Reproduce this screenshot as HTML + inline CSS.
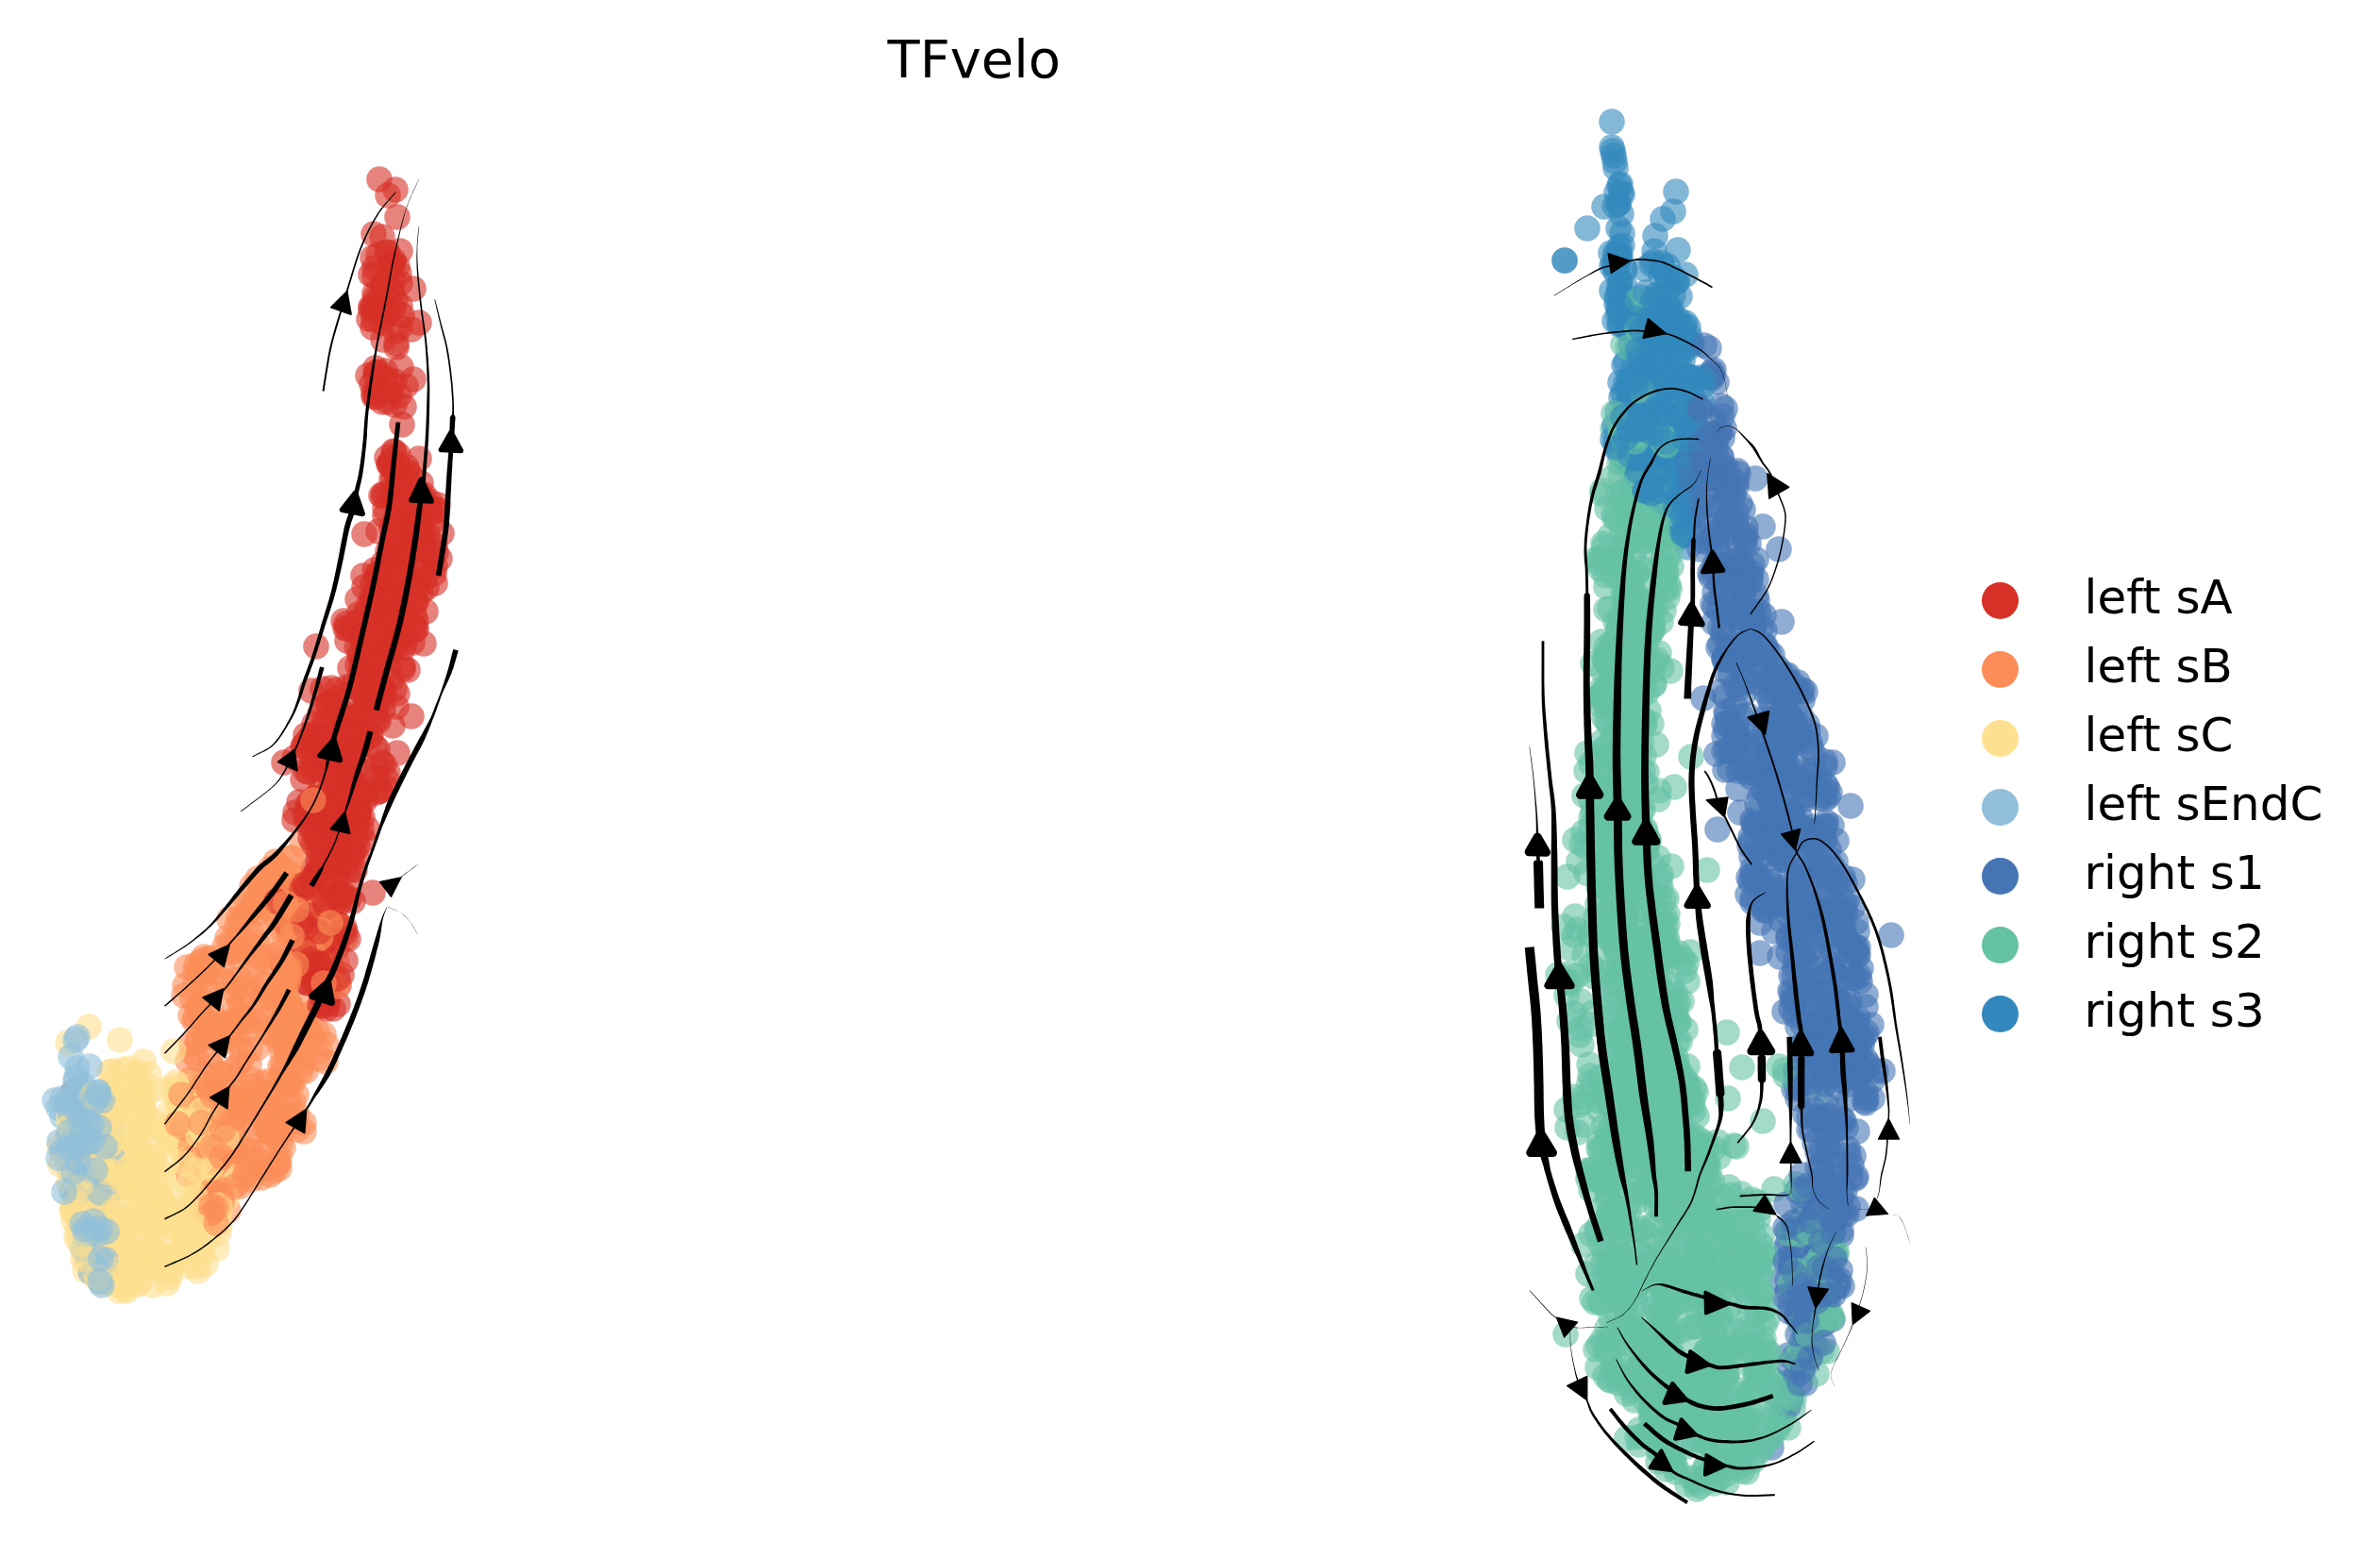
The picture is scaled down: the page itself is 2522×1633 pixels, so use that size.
<!DOCTYPE html>
<html><head><meta charset="utf-8"><title>TFvelo</title>
<style>
html,body{margin:0;padding:0;background:#fff}
body{width:2522px;height:1633px;overflow:hidden}
svg{display:block}
text{font-family:"DejaVu Sans","Liberation Sans",sans-serif;fill:#000}
.pts circle{r:13.8px;fill-opacity:.6}
.ln path{fill:#000;stroke:none}
.ar polygon{fill:#000;stroke:#000;stroke-linejoin:round}
.lg text{font-size:50px}
</style></head><body>
<svg width="2522" height="1633" viewBox="0 0 2522 1633">
<rect width="2522" height="1633" fill="#fff"/>
<text x="1032.2" y="82" text-anchor="middle" font-size="55.8">TFvelo</text>
<g class="pts">
<g fill="#fc8d59"><circle cx="228" cy="1031" r="13.8"/><circle cx="218" cy="1166" r="13.8"/><circle cx="232" cy="1213" r="13.8"/><circle cx="309" cy="1020" r="13.8"/><circle cx="283" cy="1020" r="13.8"/><circle cx="281" cy="1239" r="13.8"/><circle cx="279" cy="1043" r="13.8"/><circle cx="294" cy="1075" r="13.8"/><circle cx="251" cy="1254" r="13.8"/><circle cx="346" cy="976" r="13.8"/><circle cx="251" cy="1242" r="13.8"/><circle cx="212" cy="1074" r="13.8"/><circle cx="224" cy="1066" r="13.8"/><circle cx="302" cy="948" r="13.8"/><circle cx="223" cy="1119" r="13.8"/><circle cx="262" cy="955" r="13.8"/><circle cx="247" cy="1188" r="13.8"/><circle cx="217" cy="1062" r="13.8"/><circle cx="242" cy="1283" r="13.8"/><circle cx="287" cy="964" r="13.8"/><circle cx="228" cy="1203" r="13.8"/><circle cx="199" cy="1282" r="13.8"/><circle cx="293" cy="976" r="13.8"/><circle cx="204" cy="1058" r="13.8"/><circle cx="224" cy="1262" r="13.8"/><circle cx="230" cy="1181" r="13.8"/><circle cx="202" cy="1184" r="13.8"/><circle cx="296" cy="1143" r="13.8"/><circle cx="325" cy="931" r="13.8"/><circle cx="293" cy="1159" r="13.8"/><circle cx="275" cy="1230" r="13.8"/><circle cx="282" cy="1229" r="13.8"/><circle cx="313" cy="1015" r="13.8"/><circle cx="228" cy="1203" r="13.8"/><circle cx="204" cy="1166" r="13.8"/><circle cx="272" cy="1111" r="13.8"/><circle cx="226" cy="1245" r="13.8"/><circle cx="248" cy="1039" r="13.8"/><circle cx="208" cy="1022" r="13.8"/><circle cx="241" cy="1174" r="13.8"/><circle cx="298" cy="1057" r="13.8"/><circle cx="304" cy="936" r="13.8"/><circle cx="300" cy="1129" r="13.8"/><circle cx="266" cy="1003" r="13.8"/><circle cx="191" cy="1169" r="13.8"/><circle cx="252" cy="1014" r="13.8"/><circle cx="291" cy="1241" r="13.8"/><circle cx="310" cy="1148" r="13.8"/><circle cx="325" cy="972" r="13.8"/><circle cx="336" cy="1093" r="13.8"/><circle cx="350" cy="1002" r="13.8"/><circle cx="195" cy="1200" r="13.8"/><circle cx="322" cy="1190" r="13.8"/><circle cx="315" cy="976" r="13.8"/><circle cx="215" cy="1256" r="13.8"/><circle cx="339" cy="984" r="13.8"/><circle cx="342" cy="994" r="13.8"/><circle cx="236" cy="1198" r="13.8"/><circle cx="302" cy="1029" r="13.8"/><circle cx="234" cy="1277" r="13.8"/><circle cx="318" cy="1081" r="13.8"/><circle cx="214" cy="1204" r="13.8"/><circle cx="267" cy="1077" r="13.8"/><circle cx="278" cy="937" r="13.8"/><circle cx="214" cy="1146" r="13.8"/><circle cx="275" cy="939" r="13.8"/><circle cx="305" cy="1067" r="13.8"/><circle cx="297" cy="1130" r="13.8"/><circle cx="330" cy="1073" r="13.8"/><circle cx="313" cy="1032" r="13.8"/><circle cx="238" cy="1039" r="13.8"/><circle cx="348" cy="964" r="13.8"/><circle cx="306" cy="991" r="13.8"/><circle cx="257" cy="1009" r="13.8"/><circle cx="325" cy="1105" r="13.8"/><circle cx="300" cy="1050" r="13.8"/><circle cx="338" cy="840" r="13.8"/><circle cx="312" cy="931" r="13.8"/><circle cx="202" cy="1076" r="13.8"/><circle cx="217" cy="1138" r="13.8"/><circle cx="247" cy="1215" r="13.8"/><circle cx="292" cy="913" r="13.8"/><circle cx="256" cy="1079" r="13.8"/><circle cx="253" cy="1189" r="13.8"/><circle cx="265" cy="1179" r="13.8"/><circle cx="318" cy="1066" r="13.8"/><circle cx="221" cy="1050" r="13.8"/><circle cx="216" cy="1200" r="13.8"/><circle cx="333" cy="946" r="13.8"/><circle cx="347" cy="984" r="13.8"/><circle cx="294" cy="1233" r="13.8"/><circle cx="238" cy="1003" r="13.8"/><circle cx="243" cy="974" r="13.8"/><circle cx="303" cy="954" r="13.8"/><circle cx="248" cy="1008" r="13.8"/></g>
<g fill="#d73027"><circle cx="392" cy="731" r="13.8"/><circle cx="346" cy="859" r="13.8"/><circle cx="324" cy="787" r="13.8"/><circle cx="357" cy="995" r="13.8"/><circle cx="426" cy="629" r="13.8"/><circle cx="418" cy="479" r="13.8"/><circle cx="372" cy="932" r="13.8"/><circle cx="394" cy="652" r="13.8"/><circle cx="348" cy="1051" r="13.8"/><circle cx="342" cy="1066" r="13.8"/><circle cx="425" cy="515" r="13.8"/><circle cx="391" cy="338" r="13.8"/><circle cx="344" cy="1016" r="13.8"/><circle cx="352" cy="1026" r="13.8"/><circle cx="436" cy="349" r="13.8"/><circle cx="415" cy="690" r="13.8"/><circle cx="409" cy="825" r="13.8"/><circle cx="419" cy="588" r="13.8"/><circle cx="336" cy="964" r="13.8"/><circle cx="350" cy="1023" r="13.8"/><circle cx="379" cy="705" r="13.8"/><circle cx="329" cy="1032" r="13.8"/><circle cx="419" cy="552" r="13.8"/><circle cx="428" cy="567" r="13.8"/><circle cx="427" cy="706" r="13.8"/><circle cx="368" cy="666" r="13.8"/><circle cx="412" cy="523" r="13.8"/><circle cx="359" cy="917" r="13.8"/><circle cx="381" cy="846" r="13.8"/><circle cx="453" cy="567" r="13.8"/><circle cx="413" cy="492" r="13.8"/><circle cx="348" cy="813" r="13.8"/><circle cx="298" cy="1019" r="13.8"/><circle cx="347" cy="1061" r="13.8"/><circle cx="393" cy="291" r="13.8"/><circle cx="312" cy="954" r="13.8"/><circle cx="437" cy="567" r="13.8"/><circle cx="406" cy="675" r="13.8"/><circle cx="377" cy="788" r="13.8"/><circle cx="427" cy="636" r="13.8"/><circle cx="362" cy="1033" r="13.8"/><circle cx="307" cy="986" r="13.8"/><circle cx="448" cy="600" r="13.8"/><circle cx="342" cy="812" r="13.8"/><circle cx="405" cy="342" r="13.8"/><circle cx="381" cy="674" r="13.8"/><circle cx="331" cy="778" r="13.8"/><circle cx="397" cy="652" r="13.8"/><circle cx="455" cy="537" r="13.8"/><circle cx="446" cy="560" r="13.8"/><circle cx="421" cy="735" r="13.8"/><circle cx="385" cy="610" r="13.8"/><circle cx="359" cy="1044" r="13.8"/><circle cx="312" cy="803" r="13.8"/><circle cx="417" cy="497" r="13.8"/><circle cx="338" cy="1023" r="13.8"/><circle cx="447" cy="605" r="13.8"/><circle cx="436" cy="520" r="13.8"/><circle cx="400" cy="730" r="13.8"/><circle cx="369" cy="795" r="13.8"/><circle cx="340" cy="868" r="13.8"/><circle cx="440" cy="557" r="13.8"/><circle cx="324" cy="779" r="13.8"/><circle cx="380" cy="651" r="13.8"/><circle cx="357" cy="1004" r="13.8"/><circle cx="424" cy="347" r="13.8"/><circle cx="364" cy="863" r="13.8"/><circle cx="450" cy="613" r="13.8"/><circle cx="385" cy="737" r="13.8"/><circle cx="417" cy="660" r="13.8"/><circle cx="400" cy="707" r="13.8"/><circle cx="385" cy="677" r="13.8"/><circle cx="431" cy="565" r="13.8"/><circle cx="428" cy="431" r="13.8"/><circle cx="406" cy="526" r="13.8"/><circle cx="365" cy="810" r="13.8"/><circle cx="445" cy="604" r="13.8"/><circle cx="464" cy="535" r="13.8"/><circle cx="381" cy="758" r="13.8"/><circle cx="400" cy="609" r="13.8"/><circle cx="332" cy="920" r="13.8"/><circle cx="402" cy="699" r="13.8"/><circle cx="387" cy="713" r="13.8"/><circle cx="377" cy="771" r="13.8"/><circle cx="338" cy="925" r="13.8"/><circle cx="350" cy="1024" r="13.8"/><circle cx="332" cy="979" r="13.8"/><circle cx="326" cy="852" r="13.8"/><circle cx="414" cy="688" r="13.8"/><circle cx="388" cy="743" r="13.8"/><circle cx="393" cy="328" r="13.8"/><circle cx="398" cy="654" r="13.8"/><circle cx="438" cy="402" r="13.8"/><circle cx="415" cy="278" r="13.8"/><circle cx="420" cy="595" r="13.8"/><circle cx="358" cy="1064" r="13.8"/><circle cx="424" cy="672" r="13.8"/><circle cx="378" cy="791" r="13.8"/><circle cx="395" cy="680" r="13.8"/><circle cx="364" cy="826" r="13.8"/><circle cx="396" cy="744" r="13.8"/><circle cx="357" cy="782" r="13.8"/><circle cx="417" cy="506" r="13.8"/><circle cx="380" cy="763" r="13.8"/><circle cx="336" cy="785" r="13.8"/><circle cx="415" cy="672" r="13.8"/><circle cx="446" cy="628" r="13.8"/><circle cx="426" cy="678" r="13.8"/><circle cx="435" cy="584" r="13.8"/><circle cx="396" cy="739" r="13.8"/><circle cx="429" cy="681" r="13.8"/><circle cx="398" cy="324" r="13.8"/><circle cx="379" cy="797" r="13.8"/><circle cx="396" cy="759" r="13.8"/><circle cx="350" cy="921" r="13.8"/><circle cx="364" cy="834" r="13.8"/><circle cx="398" cy="697" r="13.8"/><circle cx="355" cy="973" r="13.8"/><circle cx="386" cy="566" r="13.8"/></g>
<g fill="#fee090"><circle cx="121" cy="1173" r="13.8"/><circle cx="71" cy="1206" r="13.8"/><circle cx="208" cy="1176" r="13.8"/><circle cx="83" cy="1291" r="13.8"/><circle cx="109" cy="1310" r="13.8"/><circle cx="63" cy="1215" r="13.8"/><circle cx="87" cy="1156" r="13.8"/><circle cx="209" cy="1342" r="13.8"/><circle cx="220" cy="1223" r="13.8"/><circle cx="96" cy="1271" r="13.8"/><circle cx="211" cy="1316" r="13.8"/><circle cx="103" cy="1216" r="13.8"/><circle cx="243" cy="1227" r="13.8"/><circle cx="192" cy="1218" r="13.8"/><circle cx="80" cy="1280" r="13.8"/><circle cx="211" cy="1245" r="13.8"/><circle cx="163" cy="1307" r="13.8"/><circle cx="188" cy="1214" r="13.8"/><circle cx="189" cy="1178" r="13.8"/><circle cx="151" cy="1291" r="13.8"/><circle cx="97" cy="1345" r="13.8"/><circle cx="102" cy="1354" r="13.8"/><circle cx="116" cy="1249" r="13.8"/><circle cx="175" cy="1250" r="13.8"/><circle cx="218" cy="1265" r="13.8"/><circle cx="136" cy="1228" r="13.8"/><circle cx="113" cy="1225" r="13.8"/><circle cx="99" cy="1168" r="13.8"/><circle cx="166" cy="1325" r="13.8"/><circle cx="215" cy="1247" r="13.8"/><circle cx="210" cy="1252" r="13.8"/><circle cx="113" cy="1306" r="13.8"/><circle cx="116" cy="1136" r="13.8"/><circle cx="94" cy="1088" r="13.8"/><circle cx="123" cy="1234" r="13.8"/><circle cx="101" cy="1242" r="13.8"/><circle cx="134" cy="1164" r="13.8"/><circle cx="175" cy="1346" r="13.8"/><circle cx="147" cy="1360" r="13.8"/><circle cx="214" cy="1170" r="13.8"/><circle cx="233" cy="1285" r="13.8"/><circle cx="79" cy="1282" r="13.8"/><circle cx="191" cy="1323" r="13.8"/><circle cx="72" cy="1209" r="13.8"/><circle cx="138" cy="1177" r="13.8"/><circle cx="117" cy="1320" r="13.8"/><circle cx="249" cy="1210" r="13.8"/><circle cx="146" cy="1271" r="13.8"/><circle cx="153" cy="1194" r="13.8"/><circle cx="119" cy="1135" r="13.8"/><circle cx="78" cy="1213" r="13.8"/><circle cx="159" cy="1326" r="13.8"/><circle cx="128" cy="1239" r="13.8"/><circle cx="119" cy="1310" r="13.8"/><circle cx="143" cy="1138" r="13.8"/><circle cx="134" cy="1224" r="13.8"/><circle cx="193" cy="1332" r="13.8"/><circle cx="210" cy="1347" r="13.8"/><circle cx="134" cy="1224" r="13.8"/><circle cx="114" cy="1342" r="13.8"/><circle cx="81" cy="1312" r="13.8"/><circle cx="96" cy="1348" r="13.8"/><circle cx="133" cy="1366" r="13.8"/><circle cx="192" cy="1206" r="13.8"/><circle cx="153" cy="1148" r="13.8"/><circle cx="126" cy="1368" r="13.8"/><circle cx="220" cy="1184" r="13.8"/><circle cx="93" cy="1271" r="13.8"/><circle cx="123" cy="1338" r="13.8"/><circle cx="129" cy="1259" r="13.8"/><circle cx="118" cy="1184" r="13.8"/></g>
<g fill="#91bfdb"><circle cx="79" cy="1198" r="13.8"/><circle cx="117" cy="1204" r="13.8"/><circle cx="82" cy="1277" r="13.8"/><circle cx="80" cy="1187" r="13.8"/><circle cx="120" cy="1285" r="13.8"/><circle cx="85" cy="1279" r="13.8"/><circle cx="66" cy="1183" r="13.8"/><circle cx="93" cy="1255" r="13.8"/><circle cx="113" cy="1348" r="13.8"/><circle cx="117" cy="1301" r="13.8"/><circle cx="112" cy="1346" r="13.8"/><circle cx="90" cy="1302" r="13.8"/><circle cx="85" cy="1264" r="13.8"/><circle cx="91" cy="1169" r="13.8"/><circle cx="85" cy="1260" r="13.8"/><circle cx="95" cy="1130" r="13.8"/><circle cx="93" cy="1248" r="13.8"/><circle cx="71" cy="1228" r="13.8"/><circle cx="87" cy="1270" r="13.8"/><circle cx="96" cy="1263" r="13.8"/><circle cx="77" cy="1261" r="13.8"/><circle cx="62" cy="1174" r="13.8"/><circle cx="100" cy="1304" r="13.8"/><circle cx="94" cy="1246" r="13.8"/></g>
<g fill="#fc8d59"><circle cx="229" cy="1212" r="13.8"/><circle cx="345" cy="1125" r="13.8"/><circle cx="295" cy="1233" r="13.8"/><circle cx="274" cy="1156" r="13.8"/><circle cx="246" cy="1134" r="13.8"/><circle cx="258" cy="1217" r="13.8"/><circle cx="303" cy="1148" r="13.8"/><circle cx="272" cy="959" r="13.8"/><circle cx="357" cy="1020" r="13.8"/><circle cx="262" cy="1083" r="13.8"/><circle cx="236" cy="1170" r="13.8"/><circle cx="292" cy="919" r="13.8"/><circle cx="311" cy="1168" r="13.8"/><circle cx="321" cy="1090" r="13.8"/><circle cx="324" cy="1135" r="13.8"/><circle cx="366" cy="994" r="13.8"/><circle cx="301" cy="1104" r="13.8"/><circle cx="246" cy="1084" r="13.8"/><circle cx="236" cy="1163" r="13.8"/><circle cx="319" cy="978" r="13.8"/><circle cx="215" cy="1155" r="13.8"/><circle cx="253" cy="1157" r="13.8"/><circle cx="274" cy="1011" r="13.8"/><circle cx="299" cy="1137" r="13.8"/><circle cx="279" cy="1148" r="13.8"/><circle cx="306" cy="1034" r="13.8"/><circle cx="249" cy="1051" r="13.8"/><circle cx="201" cy="1205" r="13.8"/><circle cx="300" cy="1194" r="13.8"/><circle cx="274" cy="1156" r="13.8"/><circle cx="236" cy="1105" r="13.8"/><circle cx="296" cy="1188" r="13.8"/><circle cx="213" cy="1259" r="13.8"/><circle cx="320" cy="1129" r="13.8"/><circle cx="353" cy="972" r="13.8"/><circle cx="294" cy="1085" r="13.8"/><circle cx="247" cy="1226" r="13.8"/><circle cx="199" cy="1124" r="13.8"/><circle cx="226" cy="1247" r="13.8"/><circle cx="236" cy="1139" r="13.8"/><circle cx="282" cy="927" r="13.8"/><circle cx="269" cy="955" r="13.8"/><circle cx="212" cy="1023" r="13.8"/><circle cx="300" cy="1216" r="13.8"/><circle cx="210" cy="1253" r="13.8"/><circle cx="331" cy="976" r="13.8"/><circle cx="222" cy="1180" r="13.8"/><circle cx="293" cy="1206" r="13.8"/><circle cx="267" cy="988" r="13.8"/><circle cx="315" cy="1019" r="13.8"/><circle cx="219" cy="1192" r="13.8"/><circle cx="277" cy="1248" r="13.8"/><circle cx="299" cy="1102" r="13.8"/><circle cx="341" cy="984" r="13.8"/><circle cx="323" cy="1081" r="13.8"/><circle cx="314" cy="1160" r="13.8"/><circle cx="337" cy="1122" r="13.8"/><circle cx="246" cy="1223" r="13.8"/><circle cx="315" cy="1197" r="13.8"/><circle cx="255" cy="1257" r="13.8"/><circle cx="282" cy="1146" r="13.8"/><circle cx="259" cy="997" r="13.8"/><circle cx="323" cy="1076" r="13.8"/><circle cx="338" cy="1015" r="13.8"/><circle cx="320" cy="895" r="13.8"/><circle cx="273" cy="931" r="13.8"/><circle cx="260" cy="1093" r="13.8"/><circle cx="210" cy="1226" r="13.8"/><circle cx="222" cy="1025" r="13.8"/><circle cx="247" cy="1194" r="13.8"/><circle cx="267" cy="1144" r="13.8"/><circle cx="243" cy="1101" r="13.8"/><circle cx="267" cy="1208" r="13.8"/><circle cx="256" cy="961" r="13.8"/><circle cx="218" cy="1031" r="13.8"/><circle cx="298" cy="1114" r="13.8"/><circle cx="236" cy="1156" r="13.8"/><circle cx="210" cy="1183" r="13.8"/><circle cx="310" cy="909" r="13.8"/><circle cx="227" cy="1273" r="13.8"/><circle cx="306" cy="1035" r="13.8"/><circle cx="209" cy="1066" r="13.8"/><circle cx="263" cy="1241" r="13.8"/><circle cx="282" cy="1194" r="13.8"/></g>
<g fill="#d73027"><circle cx="371" cy="862" r="13.8"/><circle cx="415" cy="508" r="13.8"/><circle cx="357" cy="731" r="13.8"/><circle cx="371" cy="708" r="13.8"/><circle cx="412" cy="708" r="13.8"/><circle cx="384" cy="785" r="13.8"/><circle cx="331" cy="1023" r="13.8"/><circle cx="333" cy="1007" r="13.8"/><circle cx="397" cy="311" r="13.8"/><circle cx="394" cy="407" r="13.8"/><circle cx="397" cy="745" r="13.8"/><circle cx="411" cy="268" r="13.8"/><circle cx="364" cy="898" r="13.8"/><circle cx="332" cy="1035" r="13.8"/><circle cx="372" cy="899" r="13.8"/><circle cx="379" cy="858" r="13.8"/><circle cx="373" cy="796" r="13.8"/><circle cx="416" cy="600" r="13.8"/><circle cx="452" cy="623" r="13.8"/><circle cx="378" cy="908" r="13.8"/><circle cx="327" cy="818" r="13.8"/><circle cx="359" cy="958" r="13.8"/><circle cx="382" cy="696" r="13.8"/><circle cx="423" cy="592" r="13.8"/><circle cx="444" cy="342" r="13.8"/><circle cx="328" cy="986" r="13.8"/><circle cx="360" cy="843" r="13.8"/><circle cx="351" cy="912" r="13.8"/><circle cx="399" cy="395" r="13.8"/><circle cx="377" cy="778" r="13.8"/><circle cx="399" cy="840" r="13.8"/><circle cx="421" cy="282" r="13.8"/><circle cx="400" cy="794" r="13.8"/><circle cx="431" cy="551" r="13.8"/><circle cx="356" cy="754" r="13.8"/><circle cx="445" cy="583" r="13.8"/><circle cx="78" cy="1157" r="13.8"/><circle cx="362" cy="817" r="13.8"/><circle cx="404" cy="726" r="13.8"/><circle cx="366" cy="1018" r="13.8"/><circle cx="455" cy="545" r="13.8"/><circle cx="393" cy="325" r="13.8"/><circle cx="408" cy="547" r="13.8"/><circle cx="415" cy="587" r="13.8"/><circle cx="411" cy="207" r="13.8"/><circle cx="394" cy="721" r="13.8"/><circle cx="430" cy="653" r="13.8"/><circle cx="414" cy="307" r="13.8"/><circle cx="431" cy="507" r="13.8"/><circle cx="419" cy="684" r="13.8"/><circle cx="353" cy="865" r="13.8"/><circle cx="334" cy="972" r="13.8"/><circle cx="403" cy="609" r="13.8"/><circle cx="451" cy="648" r="13.8"/><circle cx="382" cy="713" r="13.8"/><circle cx="326" cy="1042" r="13.8"/><circle cx="366" cy="916" r="13.8"/><circle cx="365" cy="767" r="13.8"/><circle cx="341" cy="1002" r="13.8"/><circle cx="413" cy="283" r="13.8"/><circle cx="432" cy="570" r="13.8"/><circle cx="374" cy="955" r="13.8"/><circle cx="333" cy="767" r="13.8"/><circle cx="364" cy="947" r="13.8"/><circle cx="395" cy="635" r="13.8"/><circle cx="367" cy="821" r="13.8"/><circle cx="397" cy="284" r="13.8"/><circle cx="336" cy="860" r="13.8"/><circle cx="339" cy="1065" r="13.8"/><circle cx="395" cy="722" r="13.8"/><circle cx="411" cy="584" r="13.8"/><circle cx="399" cy="417" r="13.8"/><circle cx="365" cy="804" r="13.8"/><circle cx="421" cy="545" r="13.8"/><circle cx="428" cy="659" r="13.8"/><circle cx="461" cy="600" r="13.8"/><circle cx="415" cy="720" r="13.8"/><circle cx="399" cy="813" r="13.8"/><circle cx="340" cy="1053" r="13.8"/><circle cx="308" cy="938" r="13.8"/><circle cx="446" cy="525" r="13.8"/><circle cx="422" cy="482" r="13.8"/><circle cx="335" cy="685" r="13.8"/><circle cx="463" cy="541" r="13.8"/><circle cx="419" cy="498" r="13.8"/><circle cx="350" cy="884" r="13.8"/><circle cx="402" cy="190" r="13.8"/><circle cx="365" cy="983" r="13.8"/><circle cx="324" cy="937" r="13.8"/><circle cx="394" cy="687" r="13.8"/><circle cx="449" cy="582" r="13.8"/><circle cx="326" cy="1041" r="13.8"/><circle cx="351" cy="968" r="13.8"/><circle cx="455" cy="541" r="13.8"/><circle cx="396" cy="339" r="13.8"/><circle cx="379" cy="858" r="13.8"/><circle cx="330" cy="732" r="13.8"/><circle cx="381" cy="759" r="13.8"/><circle cx="329" cy="858" r="13.8"/><circle cx="351" cy="836" r="13.8"/><circle cx="424" cy="676" r="13.8"/><circle cx="408" cy="626" r="13.8"/><circle cx="449" cy="524" r="13.8"/><circle cx="417" cy="276" r="13.8"/><circle cx="337" cy="912" r="13.8"/><circle cx="468" cy="565" r="13.8"/><circle cx="406" cy="333" r="13.8"/><circle cx="410" cy="654" r="13.8"/><circle cx="460" cy="608" r="13.8"/><circle cx="416" cy="581" r="13.8"/><circle cx="340" cy="945" r="13.8"/><circle cx="353" cy="887" r="13.8"/><circle cx="407" cy="617" r="13.8"/><circle cx="419" cy="657" r="13.8"/><circle cx="429" cy="658" r="13.8"/><circle cx="311" cy="974" r="13.8"/><circle cx="340" cy="890" r="13.8"/><circle cx="378" cy="877" r="13.8"/><circle cx="330" cy="1032" r="13.8"/><circle cx="358" cy="930" r="13.8"/><circle cx="418" cy="730" r="13.8"/><circle cx="337" cy="1031" r="13.8"/><circle cx="345" cy="950" r="13.8"/><circle cx="349" cy="1008" r="13.8"/><circle cx="365" cy="912" r="13.8"/><circle cx="423" cy="290" r="13.8"/><circle cx="322" cy="791" r="13.8"/><circle cx="393" cy="778" r="13.8"/><circle cx="441" cy="666" r="13.8"/></g>
<g fill="#fee090"><circle cx="220" cy="1257" r="13.8"/><circle cx="110" cy="1204" r="13.8"/><circle cx="127" cy="1102" r="13.8"/><circle cx="136" cy="1299" r="13.8"/><circle cx="101" cy="1232" r="13.8"/><circle cx="139" cy="1361" r="13.8"/><circle cx="144" cy="1341" r="13.8"/><circle cx="90" cy="1262" r="13.8"/><circle cx="107" cy="1350" r="13.8"/><circle cx="132" cy="1221" r="13.8"/><circle cx="126" cy="1362" r="13.8"/><circle cx="157" cy="1273" r="13.8"/><circle cx="156" cy="1302" r="13.8"/><circle cx="161" cy="1332" r="13.8"/><circle cx="80" cy="1286" r="13.8"/><circle cx="80" cy="1199" r="13.8"/><circle cx="103" cy="1256" r="13.8"/><circle cx="180" cy="1349" r="13.8"/><circle cx="139" cy="1265" r="13.8"/><circle cx="218" cy="1241" r="13.8"/><circle cx="135" cy="1335" r="13.8"/><circle cx="82" cy="1305" r="13.8"/><circle cx="146" cy="1361" r="13.8"/><circle cx="167" cy="1269" r="13.8"/><circle cx="229" cy="1233" r="13.8"/><circle cx="94" cy="1296" r="13.8"/><circle cx="154" cy="1161" r="13.8"/><circle cx="195" cy="1311" r="13.8"/><circle cx="191" cy="1180" r="13.8"/><circle cx="130" cy="1221" r="13.8"/><circle cx="90" cy="1331" r="13.8"/><circle cx="134" cy="1247" r="13.8"/><circle cx="102" cy="1305" r="13.8"/><circle cx="196" cy="1201" r="13.8"/><circle cx="77" cy="1280" r="13.8"/><circle cx="90" cy="1346" r="13.8"/><circle cx="120" cy="1220" r="13.8"/><circle cx="211" cy="1212" r="13.8"/><circle cx="229" cy="1248" r="13.8"/><circle cx="157" cy="1241" r="13.8"/><circle cx="109" cy="1333" r="13.8"/><circle cx="73" cy="1186" r="13.8"/><circle cx="198" cy="1218" r="13.8"/><circle cx="97" cy="1315" r="13.8"/><circle cx="95" cy="1248" r="13.8"/><circle cx="204" cy="1242" r="13.8"/><circle cx="163" cy="1325" r="13.8"/><circle cx="114" cy="1164" r="13.8"/><circle cx="214" cy="1264" r="13.8"/><circle cx="142" cy="1326" r="13.8"/><circle cx="105" cy="1270" r="13.8"/><circle cx="100" cy="1332" r="13.8"/><circle cx="211" cy="1322" r="13.8"/><circle cx="164" cy="1225" r="13.8"/><circle cx="115" cy="1339" r="13.8"/><circle cx="176" cy="1182" r="13.8"/><circle cx="163" cy="1188" r="13.8"/><circle cx="217" cy="1204" r="13.8"/><circle cx="117" cy="1311" r="13.8"/><circle cx="184" cy="1209" r="13.8"/><circle cx="108" cy="1355" r="13.8"/><circle cx="72" cy="1174" r="13.8"/><circle cx="213" cy="1213" r="13.8"/><circle cx="207" cy="1248" r="13.8"/><circle cx="153" cy="1179" r="13.8"/><circle cx="171" cy="1268" r="13.8"/><circle cx="168" cy="1287" r="13.8"/><circle cx="177" cy="1245" r="13.8"/><circle cx="85" cy="1245" r="13.8"/><circle cx="82" cy="1215" r="13.8"/><circle cx="180" cy="1291" r="13.8"/><circle cx="175" cy="1200" r="13.8"/><circle cx="200" cy="1201" r="13.8"/></g>
<g fill="#91bfdb"><circle cx="99" cy="1294" r="13.8"/><circle cx="94" cy="1314" r="13.8"/><circle cx="80" cy="1145" r="13.8"/><circle cx="106" cy="1210" r="13.8"/><circle cx="75" cy="1181" r="13.8"/><circle cx="78" cy="1221" r="13.8"/><circle cx="89" cy="1248" r="13.8"/><circle cx="95" cy="1234" r="13.8"/><circle cx="102" cy="1311" r="13.8"/><circle cx="114" cy="1268" r="13.8"/><circle cx="93" cy="1324" r="13.8"/><circle cx="102" cy="1271" r="13.8"/><circle cx="119" cy="1205" r="13.8"/><circle cx="82" cy="1132" r="13.8"/><circle cx="120" cy="1228" r="13.8"/><circle cx="111" cy="1253" r="13.8"/><circle cx="82" cy="1199" r="13.8"/><circle cx="111" cy="1316" r="13.8"/><circle cx="96" cy="1348" r="13.8"/><circle cx="88" cy="1248" r="13.8"/><circle cx="93" cy="1282" r="13.8"/><circle cx="95" cy="1158" r="13.8"/><circle cx="80" cy="1180" r="13.8"/></g>
<g fill="#d73027"><circle cx="398" cy="421" r="13.8"/><circle cx="419" cy="201" r="13.8"/><circle cx="374" cy="727" r="13.8"/><circle cx="447" cy="575" r="13.8"/><circle cx="441" cy="658" r="13.8"/><circle cx="426" cy="334" r="13.8"/><circle cx="428" cy="595" r="13.8"/><circle cx="403" cy="838" r="13.8"/><circle cx="346" cy="1047" r="13.8"/><circle cx="347" cy="1064" r="13.8"/><circle cx="395" cy="347" r="13.8"/><circle cx="321" cy="826" r="13.8"/><circle cx="333" cy="939" r="13.8"/><circle cx="346" cy="853" r="13.8"/><circle cx="428" cy="531" r="13.8"/><circle cx="421" cy="230" r="13.8"/><circle cx="348" cy="745" r="13.8"/><circle cx="405" cy="304" r="13.8"/><circle cx="366" cy="988" r="13.8"/><circle cx="461" cy="578" r="13.8"/><circle cx="312" cy="869" r="13.8"/><circle cx="407" cy="810" r="13.8"/><circle cx="432" cy="500" r="13.8"/><circle cx="425" cy="599" r="13.8"/><circle cx="406" cy="300" r="13.8"/><circle cx="366" cy="762" r="13.8"/><circle cx="374" cy="667" r="13.8"/><circle cx="411" cy="332" r="13.8"/><circle cx="433" cy="539" r="13.8"/><circle cx="420" cy="630" r="13.8"/><circle cx="327" cy="1022" r="13.8"/><circle cx="395" cy="325" r="13.8"/><circle cx="353" cy="820" r="13.8"/><circle cx="329" cy="888" r="13.8"/><circle cx="377" cy="812" r="13.8"/><circle cx="386" cy="622" r="13.8"/><circle cx="390" cy="398" r="13.8"/><circle cx="418" cy="429" r="13.8"/><circle cx="357" cy="979" r="13.8"/><circle cx="426" cy="450" r="13.8"/><circle cx="389" cy="736" r="13.8"/><circle cx="415" cy="559" r="13.8"/><circle cx="384" cy="716" r="13.8"/><circle cx="413" cy="279" r="13.8"/><circle cx="389" cy="683" r="13.8"/><circle cx="422" cy="635" r="13.8"/><circle cx="389" cy="878" r="13.8"/><circle cx="370" cy="819" r="13.8"/><circle cx="395" cy="731" r="13.8"/><circle cx="356" cy="741" r="13.8"/><circle cx="406" cy="360" r="13.8"/><circle cx="359" cy="980" r="13.8"/><circle cx="421" cy="632" r="13.8"/><circle cx="412" cy="677" r="13.8"/><circle cx="351" cy="884" r="13.8"/><circle cx="381" cy="861" r="13.8"/><circle cx="413" cy="491" r="13.8"/><circle cx="384" cy="866" r="13.8"/><circle cx="401" cy="270" r="13.8"/><circle cx="359" cy="841" r="13.8"/><circle cx="344" cy="795" r="13.8"/><circle cx="406" cy="728" r="13.8"/><circle cx="404" cy="808" r="13.8"/><circle cx="332" cy="956" r="13.8"/><circle cx="355" cy="841" r="13.8"/><circle cx="324" cy="817" r="13.8"/><circle cx="424" cy="324" r="13.8"/><circle cx="440" cy="536" r="13.8"/><circle cx="344" cy="764" r="13.8"/><circle cx="419" cy="636" r="13.8"/><circle cx="333" cy="976" r="13.8"/><circle cx="375" cy="850" r="13.8"/><circle cx="397" cy="791" r="13.8"/><circle cx="409" cy="662" r="13.8"/><circle cx="392" cy="732" r="13.8"/><circle cx="312" cy="943" r="13.8"/><circle cx="409" cy="688" r="13.8"/><circle cx="397" cy="663" r="13.8"/><circle cx="365" cy="875" r="13.8"/><circle cx="425" cy="580" r="13.8"/><circle cx="353" cy="916" r="13.8"/><circle cx="335" cy="813" r="13.8"/><circle cx="348" cy="747" r="13.8"/><circle cx="410" cy="695" r="13.8"/><circle cx="395" cy="273" r="13.8"/><circle cx="342" cy="730" r="13.8"/><circle cx="334" cy="885" r="13.8"/><circle cx="405" cy="251" r="13.8"/><circle cx="416" cy="769" r="13.8"/><circle cx="369" cy="906" r="13.8"/><circle cx="411" cy="819" r="13.8"/><circle cx="396" cy="328" r="13.8"/><circle cx="317" cy="850" r="13.8"/><circle cx="379" cy="659" r="13.8"/><circle cx="387" cy="838" r="13.8"/><circle cx="378" cy="889" r="13.8"/><circle cx="329" cy="877" r="13.8"/><circle cx="353" cy="1069" r="13.8"/><circle cx="457" cy="554" r="13.8"/><circle cx="331" cy="966" r="13.8"/><circle cx="354" cy="888" r="13.8"/><circle cx="399" cy="750" r="13.8"/><circle cx="422" cy="667" r="13.8"/><circle cx="428" cy="625" r="13.8"/><circle cx="373" cy="828" r="13.8"/><circle cx="350" cy="823" r="13.8"/><circle cx="351" cy="915" r="13.8"/><circle cx="427" cy="594" r="13.8"/><circle cx="377" cy="872" r="13.8"/><circle cx="398" cy="315" r="13.8"/><circle cx="438" cy="663" r="13.8"/><circle cx="406" cy="742" r="13.8"/><circle cx="424" cy="537" r="13.8"/><circle cx="369" cy="883" r="13.8"/><circle cx="437" cy="681" r="13.8"/><circle cx="358" cy="892" r="13.8"/><circle cx="355" cy="928" r="13.8"/><circle cx="328" cy="948" r="13.8"/><circle cx="311" cy="964" r="13.8"/><circle cx="416" cy="280" r="13.8"/><circle cx="421" cy="798" r="13.8"/><circle cx="417" cy="478" r="13.8"/><circle cx="436" cy="613" r="13.8"/><circle cx="364" cy="658" r="13.8"/></g>
<g fill="#91bfdb"><circle cx="113" cy="1275" r="13.8"/><circle cx="63" cy="1210" r="13.8"/><circle cx="90" cy="1165" r="13.8"/><circle cx="110" cy="1274" r="13.8"/><circle cx="99" cy="1310" r="13.8"/><circle cx="88" cy="1150" r="13.8"/><circle cx="66" cy="1220" r="13.8"/><circle cx="93" cy="1275" r="13.8"/><circle cx="111" cy="1287" r="13.8"/><circle cx="90" cy="1309" r="13.8"/><circle cx="99" cy="1164" r="13.8"/><circle cx="97" cy="1287" r="13.8"/><circle cx="110" cy="1325" r="13.8"/><circle cx="86" cy="1155" r="13.8"/><circle cx="73" cy="1239" r="13.8"/><circle cx="89" cy="1231" r="13.8"/><circle cx="93" cy="1325" r="13.8"/><circle cx="100" cy="1261" r="13.8"/><circle cx="71" cy="1171" r="13.8"/><circle cx="91" cy="1201" r="13.8"/><circle cx="76" cy="1262" r="13.8"/><circle cx="111" cy="1199" r="13.8"/><circle cx="108" cy="1335" r="13.8"/><circle cx="109" cy="1262" r="13.8"/><circle cx="118" cy="1194" r="13.8"/><circle cx="97" cy="1270" r="13.8"/><circle cx="81" cy="1235" r="13.8"/><circle cx="100" cy="1286" r="13.8"/><circle cx="102" cy="1201" r="13.8"/><circle cx="84" cy="1178" r="13.8"/><circle cx="87" cy="1192" r="13.8"/><circle cx="92" cy="1329" r="13.8"/><circle cx="72" cy="1166" r="13.8"/><circle cx="112" cy="1336" r="13.8"/><circle cx="97" cy="1269" r="13.8"/></g>
<g fill="#fee090"><circle cx="241" cy="1270" r="13.8"/><circle cx="131" cy="1310" r="13.8"/><circle cx="192" cy="1304" r="13.8"/><circle cx="135" cy="1132" r="13.8"/><circle cx="140" cy="1324" r="13.8"/><circle cx="129" cy="1134" r="13.8"/><circle cx="194" cy="1289" r="13.8"/><circle cx="113" cy="1277" r="13.8"/><circle cx="143" cy="1206" r="13.8"/><circle cx="194" cy="1304" r="13.8"/><circle cx="146" cy="1157" r="13.8"/><circle cx="90" cy="1297" r="13.8"/><circle cx="233" cy="1298" r="13.8"/><circle cx="191" cy="1327" r="13.8"/><circle cx="190" cy="1206" r="13.8"/><circle cx="90" cy="1270" r="13.8"/><circle cx="148" cy="1152" r="13.8"/><circle cx="232" cy="1306" r="13.8"/><circle cx="173" cy="1155" r="13.8"/><circle cx="154" cy="1337" r="13.8"/><circle cx="210" cy="1188" r="13.8"/><circle cx="129" cy="1363" r="13.8"/><circle cx="104" cy="1176" r="13.8"/><circle cx="203" cy="1148" r="13.8"/><circle cx="116" cy="1322" r="13.8"/><circle cx="140" cy="1289" r="13.8"/><circle cx="180" cy="1232" r="13.8"/><circle cx="151" cy="1248" r="13.8"/><circle cx="187" cy="1167" r="13.8"/><circle cx="76" cy="1282" r="13.8"/><circle cx="186" cy="1191" r="13.8"/><circle cx="149" cy="1224" r="13.8"/><circle cx="125" cy="1318" r="13.8"/><circle cx="189" cy="1206" r="13.8"/><circle cx="150" cy="1229" r="13.8"/><circle cx="195" cy="1191" r="13.8"/><circle cx="121" cy="1208" r="13.8"/><circle cx="162" cy="1333" r="13.8"/><circle cx="146" cy="1223" r="13.8"/><circle cx="180" cy="1192" r="13.8"/><circle cx="122" cy="1171" r="13.8"/><circle cx="214" cy="1187" r="13.8"/><circle cx="149" cy="1258" r="13.8"/><circle cx="185" cy="1297" r="13.8"/><circle cx="139" cy="1258" r="13.8"/><circle cx="105" cy="1191" r="13.8"/><circle cx="158" cy="1300" r="13.8"/><circle cx="158" cy="1138" r="13.8"/><circle cx="114" cy="1310" r="13.8"/><circle cx="97" cy="1337" r="13.8"/><circle cx="102" cy="1352" r="13.8"/><circle cx="206" cy="1183" r="13.8"/><circle cx="106" cy="1195" r="13.8"/><circle cx="173" cy="1314" r="13.8"/><circle cx="96" cy="1297" r="13.8"/><circle cx="177" cy="1211" r="13.8"/><circle cx="126" cy="1160" r="13.8"/><circle cx="248" cy="1242" r="13.8"/><circle cx="192" cy="1330" r="13.8"/><circle cx="127" cy="1353" r="13.8"/><circle cx="110" cy="1271" r="13.8"/><circle cx="93" cy="1275" r="13.8"/><circle cx="231" cy="1148" r="13.8"/><circle cx="122" cy="1309" r="13.8"/><circle cx="218" cy="1290" r="13.8"/><circle cx="211" cy="1241" r="13.8"/><circle cx="122" cy="1183" r="13.8"/><circle cx="152" cy="1167" r="13.8"/><circle cx="105" cy="1329" r="13.8"/><circle cx="118" cy="1241" r="13.8"/><circle cx="153" cy="1325" r="13.8"/><circle cx="120" cy="1156" r="13.8"/><circle cx="203" cy="1202" r="13.8"/><circle cx="94" cy="1284" r="13.8"/><circle cx="72" cy="1105" r="13.8"/><circle cx="217" cy="1270" r="13.8"/><circle cx="162" cy="1243" r="13.8"/><circle cx="109" cy="1204" r="13.8"/></g>
<g fill="#fc8d59"><circle cx="314" cy="1008" r="13.8"/><circle cx="227" cy="1219" r="13.8"/><circle cx="305" cy="1149" r="13.8"/><circle cx="272" cy="998" r="13.8"/><circle cx="272" cy="980" r="13.8"/><circle cx="234" cy="1268" r="13.8"/><circle cx="339" cy="1113" r="13.8"/><circle cx="249" cy="1219" r="13.8"/><circle cx="198" cy="1025" r="13.8"/><circle cx="279" cy="1055" r="13.8"/><circle cx="230" cy="1233" r="13.8"/><circle cx="252" cy="1097" r="13.8"/><circle cx="286" cy="1159" r="13.8"/><circle cx="242" cy="1190" r="13.8"/><circle cx="248" cy="1220" r="13.8"/><circle cx="286" cy="1202" r="13.8"/><circle cx="250" cy="1170" r="13.8"/><circle cx="297" cy="1211" r="13.8"/><circle cx="231" cy="1228" r="13.8"/><circle cx="251" cy="981" r="13.8"/><circle cx="293" cy="1030" r="13.8"/><circle cx="337" cy="961" r="13.8"/><circle cx="362" cy="983" r="13.8"/><circle cx="295" cy="1010" r="13.8"/><circle cx="286" cy="925" r="13.8"/><circle cx="233" cy="1260" r="13.8"/><circle cx="203" cy="1106" r="13.8"/><circle cx="216" cy="1014" r="13.8"/><circle cx="202" cy="1216" r="13.8"/><circle cx="215" cy="1281" r="13.8"/><circle cx="304" cy="1117" r="13.8"/><circle cx="284" cy="1093" r="13.8"/><circle cx="289" cy="1202" r="13.8"/><circle cx="225" cy="1261" r="13.8"/><circle cx="220" cy="1178" r="13.8"/><circle cx="227" cy="1265" r="13.8"/><circle cx="327" cy="996" r="13.8"/><circle cx="302" cy="1180" r="13.8"/><circle cx="313" cy="981" r="13.8"/><circle cx="308" cy="1106" r="13.8"/><circle cx="310" cy="1109" r="13.8"/><circle cx="338" cy="939" r="13.8"/><circle cx="340" cy="986" r="13.8"/><circle cx="223" cy="1286" r="13.8"/><circle cx="337" cy="983" r="13.8"/><circle cx="235" cy="1273" r="13.8"/><circle cx="308" cy="909" r="13.8"/><circle cx="254" cy="1037" r="13.8"/><circle cx="255" cy="1003" r="13.8"/><circle cx="296" cy="1042" r="13.8"/><circle cx="314" cy="954" r="13.8"/><circle cx="201" cy="1144" r="13.8"/><circle cx="265" cy="1112" r="13.8"/><circle cx="209" cy="1105" r="13.8"/><circle cx="285" cy="962" r="13.8"/><circle cx="218" cy="1231" r="13.8"/><circle cx="244" cy="1098" r="13.8"/><circle cx="312" cy="1188" r="13.8"/><circle cx="266" cy="1250" r="13.8"/><circle cx="313" cy="1113" r="13.8"/><circle cx="218" cy="1270" r="13.8"/><circle cx="261" cy="968" r="13.8"/><circle cx="207" cy="1029" r="13.8"/><circle cx="310" cy="990" r="13.8"/><circle cx="312" cy="1184" r="13.8"/><circle cx="338" cy="995" r="13.8"/><circle cx="254" cy="1047" r="13.8"/><circle cx="321" cy="1122" r="13.8"/><circle cx="194" cy="1195" r="13.8"/><circle cx="207" cy="1043" r="13.8"/><circle cx="196" cy="1044" r="13.8"/><circle cx="311" cy="928" r="13.8"/></g>
<g fill="#d73027"><circle cx="411" cy="631" r="13.8"/><circle cx="419" cy="567" r="13.8"/><circle cx="332" cy="931" r="13.8"/><circle cx="352" cy="790" r="13.8"/><circle cx="332" cy="792" r="13.8"/><circle cx="408" cy="393" r="13.8"/><circle cx="438" cy="306" r="13.8"/><circle cx="369" cy="814" r="13.8"/><circle cx="378" cy="774" r="13.8"/><circle cx="351" cy="729" r="13.8"/><circle cx="387" cy="763" r="13.8"/><circle cx="327" cy="853" r="13.8"/><circle cx="414" cy="406" r="13.8"/><circle cx="420" cy="364" r="13.8"/><circle cx="332" cy="983" r="13.8"/><circle cx="417" cy="326" r="13.8"/><circle cx="342" cy="782" r="13.8"/><circle cx="400" cy="655" r="13.8"/><circle cx="401" cy="764" r="13.8"/><circle cx="402" cy="315" r="13.8"/><circle cx="419" cy="577" r="13.8"/><circle cx="402" cy="628" r="13.8"/><circle cx="419" cy="592" r="13.8"/><circle cx="329" cy="1016" r="13.8"/><circle cx="396" cy="420" r="13.8"/><circle cx="459" cy="590" r="13.8"/><circle cx="424" cy="300" r="13.8"/><circle cx="396" cy="718" r="13.8"/><circle cx="390" cy="642" r="13.8"/><circle cx="375" cy="901" r="13.8"/><circle cx="383" cy="731" r="13.8"/><circle cx="447" cy="560" r="13.8"/><circle cx="403" cy="615" r="13.8"/><circle cx="337" cy="870" r="13.8"/><circle cx="313" cy="861" r="13.8"/><circle cx="346" cy="922" r="13.8"/><circle cx="338" cy="1021" r="13.8"/><circle cx="401" cy="563" r="13.8"/><circle cx="387" cy="848" r="13.8"/><circle cx="342" cy="750" r="13.8"/><circle cx="373" cy="823" r="13.8"/><circle cx="336" cy="795" r="13.8"/><circle cx="416" cy="650" r="13.8"/><circle cx="366" cy="794" r="13.8"/><circle cx="333" cy="846" r="13.8"/><circle cx="338" cy="891" r="13.8"/><circle cx="372" cy="825" r="13.8"/><circle cx="337" cy="901" r="13.8"/><circle cx="348" cy="779" r="13.8"/><circle cx="400" cy="328" r="13.8"/><circle cx="444" cy="523" r="13.8"/><circle cx="364" cy="860" r="13.8"/><circle cx="414" cy="416" r="13.8"/><circle cx="397" cy="293" r="13.8"/><circle cx="430" cy="409" r="13.8"/><circle cx="350" cy="781" r="13.8"/><circle cx="344" cy="772" r="13.8"/><circle cx="446" cy="549" r="13.8"/><circle cx="370" cy="952" r="13.8"/><circle cx="323" cy="864" r="13.8"/><circle cx="427" cy="687" r="13.8"/><circle cx="381" cy="757" r="13.8"/><circle cx="339" cy="920" r="13.8"/><circle cx="400" cy="608" r="13.8"/><circle cx="463" cy="540" r="13.8"/><circle cx="329" cy="781" r="13.8"/><circle cx="404" cy="661" r="13.8"/><circle cx="404" cy="525" r="13.8"/><circle cx="441" cy="638" r="13.8"/><circle cx="414" cy="636" r="13.8"/><circle cx="444" cy="555" r="13.8"/><circle cx="461" cy="618" r="13.8"/><circle cx="425" cy="389" r="13.8"/><circle cx="345" cy="1056" r="13.8"/><circle cx="386" cy="693" r="13.8"/><circle cx="419" cy="319" r="13.8"/><circle cx="422" cy="588" r="13.8"/><circle cx="339" cy="757" r="13.8"/><circle cx="383" cy="657" r="13.8"/><circle cx="364" cy="759" r="13.8"/><circle cx="442" cy="573" r="13.8"/><circle cx="362" cy="949" r="13.8"/><circle cx="413" cy="687" r="13.8"/><circle cx="341" cy="1042" r="13.8"/><circle cx="340" cy="845" r="13.8"/><circle cx="303" cy="979" r="13.8"/><circle cx="326" cy="979" r="13.8"/><circle cx="439" cy="651" r="13.8"/><circle cx="455" cy="531" r="13.8"/><circle cx="334" cy="947" r="13.8"/><circle cx="334" cy="779" r="13.8"/><circle cx="356" cy="997" r="13.8"/><circle cx="349" cy="812" r="13.8"/><circle cx="396" cy="416" r="13.8"/><circle cx="406" cy="597" r="13.8"/><circle cx="332" cy="815" r="13.8"/><circle cx="321" cy="1040" r="13.8"/><circle cx="364" cy="755" r="13.8"/><circle cx="301" cy="808" r="13.8"/><circle cx="436" cy="759" r="13.8"/><circle cx="408" cy="834" r="13.8"/><circle cx="381" cy="693" r="13.8"/><circle cx="444" cy="486" r="13.8"/><circle cx="446" cy="512" r="13.8"/><circle cx="416" cy="293" r="13.8"/><circle cx="415" cy="635" r="13.8"/><circle cx="360" cy="949" r="13.8"/><circle cx="440" cy="637" r="13.8"/><circle cx="358" cy="754" r="13.8"/><circle cx="410" cy="485" r="13.8"/><circle cx="339" cy="1037" r="13.8"/><circle cx="385" cy="710" r="13.8"/><circle cx="449" cy="682" r="13.8"/><circle cx="409" cy="325" r="13.8"/><circle cx="407" cy="523" r="13.8"/><circle cx="379" cy="866" r="13.8"/><circle cx="405" cy="426" r="13.8"/><circle cx="399" cy="614" r="13.8"/><circle cx="420" cy="555" r="13.8"/><circle cx="337" cy="882" r="13.8"/><circle cx="421" cy="523" r="13.8"/><circle cx="407" cy="629" r="13.8"/><circle cx="355" cy="868" r="13.8"/><circle cx="341" cy="948" r="13.8"/><circle cx="384" cy="834" r="13.8"/></g>
<g fill="#fee090"><circle cx="135" cy="1162" r="13.8"/><circle cx="110" cy="1329" r="13.8"/><circle cx="149" cy="1277" r="13.8"/><circle cx="213" cy="1231" r="13.8"/><circle cx="107" cy="1235" r="13.8"/><circle cx="158" cy="1194" r="13.8"/><circle cx="222" cy="1301" r="13.8"/><circle cx="149" cy="1304" r="13.8"/><circle cx="82" cy="1224" r="13.8"/><circle cx="230" cy="1323" r="13.8"/><circle cx="82" cy="1273" r="13.8"/><circle cx="126" cy="1311" r="13.8"/><circle cx="64" cy="1234" r="13.8"/><circle cx="114" cy="1321" r="13.8"/><circle cx="219" cy="1211" r="13.8"/><circle cx="156" cy="1294" r="13.8"/><circle cx="132" cy="1197" r="13.8"/><circle cx="109" cy="1321" r="13.8"/><circle cx="233" cy="1277" r="13.8"/><circle cx="164" cy="1246" r="13.8"/><circle cx="186" cy="1291" r="13.8"/><circle cx="136" cy="1260" r="13.8"/><circle cx="152" cy="1174" r="13.8"/><circle cx="120" cy="1181" r="13.8"/><circle cx="180" cy="1195" r="13.8"/><circle cx="83" cy="1268" r="13.8"/><circle cx="86" cy="1227" r="13.8"/><circle cx="99" cy="1294" r="13.8"/><circle cx="205" cy="1168" r="13.8"/><circle cx="100" cy="1254" r="13.8"/><circle cx="74" cy="1193" r="13.8"/><circle cx="97" cy="1272" r="13.8"/><circle cx="175" cy="1286" r="13.8"/><circle cx="185" cy="1291" r="13.8"/><circle cx="118" cy="1247" r="13.8"/><circle cx="100" cy="1239" r="13.8"/><circle cx="134" cy="1368" r="13.8"/><circle cx="117" cy="1213" r="13.8"/><circle cx="180" cy="1354" r="13.8"/><circle cx="114" cy="1325" r="13.8"/><circle cx="78" cy="1293" r="13.8"/><circle cx="133" cy="1295" r="13.8"/><circle cx="138" cy="1236" r="13.8"/><circle cx="73" cy="1253" r="13.8"/><circle cx="200" cy="1321" r="13.8"/><circle cx="114" cy="1359" r="13.8"/><circle cx="202" cy="1308" r="13.8"/><circle cx="193" cy="1268" r="13.8"/><circle cx="197" cy="1229" r="13.8"/><circle cx="98" cy="1335" r="13.8"/><circle cx="229" cy="1183" r="13.8"/><circle cx="166" cy="1339" r="13.8"/><circle cx="178" cy="1279" r="13.8"/><circle cx="220" cy="1218" r="13.8"/><circle cx="220" cy="1171" r="13.8"/><circle cx="207" cy="1285" r="13.8"/><circle cx="210" cy="1203" r="13.8"/><circle cx="162" cy="1342" r="13.8"/><circle cx="108" cy="1360" r="13.8"/><circle cx="116" cy="1193" r="13.8"/><circle cx="182" cy="1301" r="13.8"/><circle cx="180" cy="1332" r="13.8"/></g>
<g fill="#fc8d59"><circle cx="256" cy="1124" r="13.8"/><circle cx="220" cy="1016" r="13.8"/><circle cx="343" cy="1096" r="13.8"/><circle cx="310" cy="1079" r="13.8"/><circle cx="274" cy="1183" r="13.8"/><circle cx="261" cy="1050" r="13.8"/><circle cx="222" cy="1286" r="13.8"/><circle cx="256" cy="975" r="13.8"/><circle cx="318" cy="1137" r="13.8"/><circle cx="229" cy="1214" r="13.8"/><circle cx="303" cy="1052" r="13.8"/><circle cx="307" cy="1034" r="13.8"/><circle cx="318" cy="992" r="13.8"/><circle cx="247" cy="1052" r="13.8"/><circle cx="310" cy="963" r="13.8"/><circle cx="288" cy="1173" r="13.8"/><circle cx="307" cy="1089" r="13.8"/><circle cx="232" cy="1222" r="13.8"/><circle cx="231" cy="1148" r="13.8"/><circle cx="221" cy="1084" r="13.8"/><circle cx="274" cy="950" r="13.8"/><circle cx="254" cy="1064" r="13.8"/><circle cx="256" cy="1076" r="13.8"/><circle cx="309" cy="979" r="13.8"/><circle cx="293" cy="1179" r="13.8"/><circle cx="211" cy="1066" r="13.8"/><circle cx="239" cy="1202" r="13.8"/><circle cx="259" cy="1247" r="13.8"/><circle cx="358" cy="1045" r="13.8"/><circle cx="271" cy="1025" r="13.8"/><circle cx="207" cy="1181" r="13.8"/><circle cx="264" cy="1128" r="13.8"/><circle cx="233" cy="1137" r="13.8"/><circle cx="309" cy="1084" r="13.8"/><circle cx="271" cy="1083" r="13.8"/><circle cx="286" cy="1096" r="13.8"/><circle cx="293" cy="1002" r="13.8"/><circle cx="244" cy="1010" r="13.8"/><circle cx="315" cy="1181" r="13.8"/><circle cx="203" cy="1115" r="13.8"/><circle cx="286" cy="1245" r="13.8"/><circle cx="300" cy="1081" r="13.8"/><circle cx="206" cy="1082" r="13.8"/><circle cx="225" cy="1284" r="13.8"/><circle cx="329" cy="976" r="13.8"/><circle cx="284" cy="949" r="13.8"/><circle cx="212" cy="1174" r="13.8"/><circle cx="308" cy="1068" r="13.8"/><circle cx="216" cy="1097" r="13.8"/><circle cx="294" cy="1196" r="13.8"/><circle cx="265" cy="965" r="13.8"/><circle cx="340" cy="993" r="13.8"/><circle cx="292" cy="1013" r="13.8"/><circle cx="236" cy="1087" r="13.8"/><circle cx="286" cy="921" r="13.8"/><circle cx="261" cy="1163" r="13.8"/><circle cx="248" cy="1258" r="13.8"/><circle cx="323" cy="989" r="13.8"/><circle cx="210" cy="1101" r="13.8"/><circle cx="223" cy="1087" r="13.8"/><circle cx="248" cy="1185" r="13.8"/><circle cx="322" cy="1199" r="13.8"/><circle cx="254" cy="1173" r="13.8"/><circle cx="291" cy="1054" r="13.8"/><circle cx="200" cy="1245" r="13.8"/><circle cx="245" cy="997" r="13.8"/><circle cx="202" cy="1228" r="13.8"/><circle cx="307" cy="1024" r="13.8"/><circle cx="293" cy="941" r="13.8"/><circle cx="261" cy="1178" r="13.8"/><circle cx="274" cy="1049" r="13.8"/><circle cx="282" cy="1160" r="13.8"/><circle cx="245" cy="1082" r="13.8"/><circle cx="264" cy="1232" r="13.8"/><circle cx="324" cy="949" r="13.8"/><circle cx="249" cy="1071" r="13.8"/><circle cx="224" cy="1049" r="13.8"/><circle cx="311" cy="962" r="13.8"/><circle cx="278" cy="1221" r="13.8"/><circle cx="302" cy="1150" r="13.8"/><circle cx="241" cy="1215" r="13.8"/><circle cx="254" cy="1082" r="13.8"/><circle cx="296" cy="1238" r="13.8"/><circle cx="302" cy="1042" r="13.8"/><circle cx="302" cy="934" r="13.8"/><circle cx="230" cy="1102" r="13.8"/><circle cx="217" cy="1149" r="13.8"/><circle cx="253" cy="1127" r="13.8"/><circle cx="252" cy="1149" r="13.8"/><circle cx="229" cy="1280" r="13.8"/><circle cx="238" cy="1216" r="13.8"/><circle cx="306" cy="1118" r="13.8"/><circle cx="221" cy="1216" r="13.8"/><circle cx="303" cy="1148" r="13.8"/><circle cx="300" cy="1101" r="13.8"/><circle cx="250" cy="1091" r="13.8"/><circle cx="300" cy="1198" r="13.8"/><circle cx="335" cy="961" r="13.8"/></g>
<g fill="#91bfdb"><circle cx="87" cy="1180" r="13.8"/><circle cx="72" cy="1216" r="13.8"/><circle cx="75" cy="1120" r="13.8"/><circle cx="87" cy="1200" r="13.8"/><circle cx="78" cy="1168" r="13.8"/><circle cx="78" cy="1156" r="13.8"/><circle cx="97" cy="1191" r="13.8"/><circle cx="108" cy="1362" r="13.8"/><circle cx="92" cy="1301" r="13.8"/><circle cx="88" cy="1323" r="13.8"/><circle cx="106" cy="1264" r="13.8"/><circle cx="93" cy="1237" r="13.8"/><circle cx="73" cy="1200" r="13.8"/><circle cx="98" cy="1307" r="13.8"/><circle cx="101" cy="1342" r="13.8"/><circle cx="106" cy="1350" r="13.8"/><circle cx="80" cy="1175" r="13.8"/><circle cx="85" cy="1183" r="13.8"/><circle cx="80" cy="1215" r="13.8"/><circle cx="109" cy="1166" r="13.8"/><circle cx="96" cy="1241" r="13.8"/><circle cx="112" cy="1335" r="13.8"/><circle cx="81" cy="1268" r="13.8"/><circle cx="66" cy="1164" r="13.8"/></g>
<g fill="#fee090"><circle cx="144" cy="1329" r="13.8"/><circle cx="81" cy="1275" r="13.8"/><circle cx="199" cy="1189" r="13.8"/><circle cx="125" cy="1288" r="13.8"/><circle cx="213" cy="1330" r="13.8"/><circle cx="133" cy="1175" r="13.8"/><circle cx="214" cy="1176" r="13.8"/><circle cx="171" cy="1333" r="13.8"/><circle cx="152" cy="1125" r="13.8"/><circle cx="240" cy="1206" r="13.8"/><circle cx="152" cy="1352" r="13.8"/><circle cx="186" cy="1339" r="13.8"/><circle cx="212" cy="1191" r="13.8"/><circle cx="139" cy="1352" r="13.8"/><circle cx="149" cy="1165" r="13.8"/><circle cx="114" cy="1242" r="13.8"/><circle cx="100" cy="1226" r="13.8"/><circle cx="104" cy="1236" r="13.8"/><circle cx="97" cy="1160" r="13.8"/><circle cx="146" cy="1135" r="13.8"/><circle cx="192" cy="1280" r="13.8"/><circle cx="169" cy="1268" r="13.8"/><circle cx="188" cy="1156" r="13.8"/><circle cx="156" cy="1298" r="13.8"/><circle cx="151" cy="1257" r="13.8"/><circle cx="207" cy="1267" r="13.8"/><circle cx="208" cy="1300" r="13.8"/><circle cx="169" cy="1262" r="13.8"/><circle cx="158" cy="1278" r="13.8"/><circle cx="205" cy="1292" r="13.8"/><circle cx="145" cy="1185" r="13.8"/><circle cx="225" cy="1216" r="13.8"/><circle cx="119" cy="1147" r="13.8"/><circle cx="149" cy="1198" r="13.8"/><circle cx="205" cy="1189" r="13.8"/><circle cx="85" cy="1318" r="13.8"/><circle cx="186" cy="1147" r="13.8"/><circle cx="131" cy="1304" r="13.8"/><circle cx="187" cy="1151" r="13.8"/><circle cx="196" cy="1233" r="13.8"/><circle cx="177" cy="1360" r="13.8"/><circle cx="119" cy="1284" r="13.8"/><circle cx="77" cy="1284" r="13.8"/><circle cx="128" cy="1251" r="13.8"/><circle cx="148" cy="1207" r="13.8"/><circle cx="199" cy="1256" r="13.8"/><circle cx="98" cy="1162" r="13.8"/><circle cx="218" cy="1339" r="13.8"/><circle cx="83" cy="1284" r="13.8"/><circle cx="104" cy="1353" r="13.8"/><circle cx="200" cy="1342" r="13.8"/><circle cx="207" cy="1240" r="13.8"/><circle cx="159" cy="1230" r="13.8"/><circle cx="213" cy="1197" r="13.8"/><circle cx="126" cy="1278" r="13.8"/><circle cx="223" cy="1238" r="13.8"/><circle cx="181" cy="1154" r="13.8"/><circle cx="162" cy="1362" r="13.8"/><circle cx="85" cy="1257" r="13.8"/><circle cx="186" cy="1332" r="13.8"/><circle cx="192" cy="1174" r="13.8"/><circle cx="180" cy="1296" r="13.8"/><circle cx="127" cy="1345" r="13.8"/><circle cx="152" cy="1223" r="13.8"/><circle cx="163" cy="1216" r="13.8"/><circle cx="88" cy="1334" r="13.8"/><circle cx="140" cy="1203" r="13.8"/><circle cx="219" cy="1316" r="13.8"/><circle cx="184" cy="1114" r="13.8"/><circle cx="115" cy="1295" r="13.8"/><circle cx="134" cy="1156" r="13.8"/><circle cx="163" cy="1231" r="13.8"/><circle cx="141" cy="1233" r="13.8"/></g>
<g fill="#d73027"><circle cx="392" cy="781" r="13.8"/><circle cx="323" cy="937" r="13.8"/><circle cx="330" cy="800" r="13.8"/><circle cx="466" cy="592" r="13.8"/><circle cx="378" cy="686" r="13.8"/><circle cx="325" cy="940" r="13.8"/><circle cx="436" cy="505" r="13.8"/><circle cx="333" cy="928" r="13.8"/><circle cx="332" cy="894" r="13.8"/><circle cx="368" cy="813" r="13.8"/><circle cx="394" cy="714" r="13.8"/><circle cx="462" cy="585" r="13.8"/><circle cx="293" cy="955" r="13.8"/><circle cx="359" cy="845" r="13.8"/><circle cx="411" cy="426" r="13.8"/><circle cx="420" cy="368" r="13.8"/><circle cx="340" cy="1024" r="13.8"/><circle cx="333" cy="1022" r="13.8"/><circle cx="364" cy="903" r="13.8"/><circle cx="440" cy="668" r="13.8"/><circle cx="433" cy="615" r="13.8"/><circle cx="346" cy="873" r="13.8"/><circle cx="407" cy="400" r="13.8"/><circle cx="347" cy="912" r="13.8"/><circle cx="395" cy="618" r="13.8"/><circle cx="366" cy="666" r="13.8"/><circle cx="406" cy="751" r="13.8"/><circle cx="408" cy="539" r="13.8"/><circle cx="343" cy="953" r="13.8"/><circle cx="340" cy="1039" r="13.8"/><circle cx="358" cy="945" r="13.8"/><circle cx="336" cy="923" r="13.8"/><circle cx="373" cy="853" r="13.8"/><circle cx="346" cy="934" r="13.8"/><circle cx="424" cy="501" r="13.8"/><circle cx="346" cy="1069" r="13.8"/><circle cx="326" cy="865" r="13.8"/><circle cx="420" cy="749" r="13.8"/><circle cx="380" cy="839" r="13.8"/><circle cx="421" cy="506" r="13.8"/><circle cx="443" cy="561" r="13.8"/><circle cx="383" cy="706" r="13.8"/><circle cx="388" cy="649" r="13.8"/><circle cx="400" cy="394" r="13.8"/><circle cx="427" cy="709" r="13.8"/><circle cx="396" cy="248" r="13.8"/><circle cx="326" cy="970" r="13.8"/><circle cx="424" cy="512" r="13.8"/><circle cx="418" cy="524" r="13.8"/><circle cx="418" cy="404" r="13.8"/><circle cx="442" cy="624" r="13.8"/><circle cx="369" cy="995" r="13.8"/><circle cx="389" cy="719" r="13.8"/><circle cx="345" cy="859" r="13.8"/><circle cx="410" cy="267" r="13.8"/><circle cx="363" cy="984" r="13.8"/><circle cx="428" cy="611" r="13.8"/><circle cx="385" cy="890" r="13.8"/><circle cx="431" cy="495" r="13.8"/><circle cx="415" cy="489" r="13.8"/><circle cx="371" cy="843" r="13.8"/><circle cx="345" cy="959" r="13.8"/><circle cx="357" cy="797" r="13.8"/><circle cx="439" cy="547" r="13.8"/><circle cx="321" cy="791" r="13.8"/><circle cx="368" cy="728" r="13.8"/><circle cx="374" cy="906" r="13.8"/><circle cx="440" cy="534" r="13.8"/><circle cx="376" cy="922" r="13.8"/><circle cx="341" cy="795" r="13.8"/><circle cx="410" cy="621" r="13.8"/><circle cx="409" cy="634" r="13.8"/><circle cx="370" cy="868" r="13.8"/><circle cx="449" cy="574" r="13.8"/><circle cx="409" cy="627" r="13.8"/><circle cx="424" cy="266" r="13.8"/><circle cx="416" cy="308" r="13.8"/><circle cx="372" cy="735" r="13.8"/><circle cx="356" cy="949" r="13.8"/><circle cx="380" cy="860" r="13.8"/><circle cx="358" cy="1037" r="13.8"/><circle cx="432" cy="710" r="13.8"/><circle cx="335" cy="858" r="13.8"/><circle cx="367" cy="661" r="13.8"/><circle cx="398" cy="398" r="13.8"/><circle cx="348" cy="820" r="13.8"/><circle cx="341" cy="913" r="13.8"/><circle cx="370" cy="806" r="13.8"/><circle cx="400" cy="614" r="13.8"/><circle cx="379" cy="635" r="13.8"/><circle cx="445" cy="540" r="13.8"/><circle cx="341" cy="1032" r="13.8"/><circle cx="322" cy="1005" r="13.8"/><circle cx="398" cy="390" r="13.8"/><circle cx="388" cy="776" r="13.8"/><circle cx="338" cy="987" r="13.8"/><circle cx="389" cy="717" r="13.8"/><circle cx="351" cy="779" r="13.8"/><circle cx="371" cy="847" r="13.8"/><circle cx="348" cy="910" r="13.8"/><circle cx="399" cy="825" r="13.8"/><circle cx="419" cy="351" r="13.8"/><circle cx="324" cy="983" r="13.8"/><circle cx="407" cy="733" r="13.8"/><circle cx="416" cy="570" r="13.8"/><circle cx="403" cy="838" r="13.8"/><circle cx="400" cy="762" r="13.8"/><circle cx="349" cy="805" r="13.8"/><circle cx="321" cy="977" r="13.8"/><circle cx="412" cy="492" r="13.8"/><circle cx="395" cy="946" r="13.8"/><circle cx="397" cy="604" r="13.8"/><circle cx="407" cy="335" r="13.8"/><circle cx="419" cy="552" r="13.8"/><circle cx="387" cy="818" r="13.8"/><circle cx="333" cy="1041" r="13.8"/><circle cx="394" cy="632" r="13.8"/><circle cx="360" cy="788" r="13.8"/><circle cx="320" cy="943" r="13.8"/><circle cx="428" cy="607" r="13.8"/><circle cx="340" cy="837" r="13.8"/><circle cx="367" cy="781" r="13.8"/><circle cx="362" cy="892" r="13.8"/><circle cx="441" cy="567" r="13.8"/><circle cx="325" cy="870" r="13.8"/><circle cx="379" cy="897" r="13.8"/><circle cx="368" cy="679" r="13.8"/><circle cx="371" cy="922" r="13.8"/><circle cx="421" cy="492" r="13.8"/><circle cx="423" cy="419" r="13.8"/><circle cx="383" cy="879" r="13.8"/><circle cx="387" cy="845" r="13.8"/></g>
<g fill="#fc8d59"><circle cx="209" cy="1122" r="13.8"/><circle cx="192" cy="1160" r="13.8"/><circle cx="215" cy="1080" r="13.8"/><circle cx="234" cy="1160" r="13.8"/><circle cx="305" cy="1041" r="13.8"/><circle cx="220" cy="1099" r="13.8"/><circle cx="229" cy="1296" r="13.8"/><circle cx="214" cy="1018" r="13.8"/><circle cx="287" cy="1198" r="13.8"/><circle cx="306" cy="1167" r="13.8"/><circle cx="273" cy="1014" r="13.8"/><circle cx="343" cy="1042" r="13.8"/><circle cx="225" cy="1215" r="13.8"/><circle cx="303" cy="957" r="13.8"/><circle cx="285" cy="1196" r="13.8"/><circle cx="188" cy="1191" r="13.8"/><circle cx="241" cy="994" r="13.8"/><circle cx="257" cy="1073" r="13.8"/><circle cx="253" cy="1166" r="13.8"/><circle cx="257" cy="1114" r="13.8"/><circle cx="267" cy="1033" r="13.8"/><circle cx="296" cy="1105" r="13.8"/><circle cx="253" cy="973" r="13.8"/><circle cx="237" cy="1149" r="13.8"/><circle cx="305" cy="1031" r="13.8"/><circle cx="221" cy="1154" r="13.8"/><circle cx="235" cy="1226" r="13.8"/><circle cx="215" cy="1033" r="13.8"/><circle cx="211" cy="1066" r="13.8"/><circle cx="308" cy="1121" r="13.8"/><circle cx="213" cy="1190" r="13.8"/><circle cx="267" cy="939" r="13.8"/><circle cx="309" cy="992" r="13.8"/><circle cx="250" cy="1163" r="13.8"/><circle cx="251" cy="994" r="13.8"/><circle cx="236" cy="1198" r="13.8"/><circle cx="211" cy="1033" r="13.8"/><circle cx="314" cy="964" r="13.8"/><circle cx="308" cy="1067" r="13.8"/><circle cx="281" cy="1079" r="13.8"/><circle cx="350" cy="978" r="13.8"/><circle cx="224" cy="1278" r="13.8"/><circle cx="328" cy="1092" r="13.8"/><circle cx="207" cy="1078" r="13.8"/><circle cx="332" cy="1098" r="13.8"/><circle cx="346" cy="1107" r="13.8"/><circle cx="272" cy="1198" r="13.8"/><circle cx="280" cy="1187" r="13.8"/><circle cx="235" cy="1022" r="13.8"/><circle cx="281" cy="1169" r="13.8"/><circle cx="291" cy="1093" r="13.8"/><circle cx="277" cy="1059" r="13.8"/><circle cx="296" cy="918" r="13.8"/><circle cx="233" cy="1083" r="13.8"/><circle cx="267" cy="1151" r="13.8"/><circle cx="288" cy="1059" r="13.8"/><circle cx="314" cy="1022" r="13.8"/><circle cx="225" cy="1015" r="13.8"/><circle cx="297" cy="984" r="13.8"/><circle cx="232" cy="1085" r="13.8"/><circle cx="332" cy="848" r="13.8"/><circle cx="321" cy="1115" r="13.8"/><circle cx="261" cy="1239" r="13.8"/><circle cx="296" cy="1227" r="13.8"/><circle cx="308" cy="1146" r="13.8"/><circle cx="220" cy="1083" r="13.8"/><circle cx="236" cy="1180" r="13.8"/><circle cx="293" cy="1185" r="13.8"/><circle cx="224" cy="1129" r="13.8"/><circle cx="267" cy="1172" r="13.8"/><circle cx="273" cy="968" r="13.8"/><circle cx="225" cy="1161" r="13.8"/><circle cx="307" cy="1063" r="13.8"/><circle cx="195" cy="1055" r="13.8"/><circle cx="300" cy="921" r="13.8"/><circle cx="265" cy="1220" r="13.8"/></g>
<g fill="#91bfdb"><circle cx="98" cy="1209" r="13.8"/><circle cx="95" cy="1193" r="13.8"/><circle cx="106" cy="1358" r="13.8"/><circle cx="78" cy="1163" r="13.8"/><circle cx="104" cy="1158" r="13.8"/><circle cx="78" cy="1242" r="13.8"/><circle cx="62" cy="1227" r="13.8"/><circle cx="82" cy="1099" r="13.8"/><circle cx="106" cy="1302" r="13.8"/><circle cx="104" cy="1157" r="13.8"/><circle cx="103" cy="1308" r="13.8"/><circle cx="85" cy="1217" r="13.8"/><circle cx="81" cy="1142" r="13.8"/><circle cx="83" cy="1232" r="13.8"/><circle cx="101" cy="1240" r="13.8"/><circle cx="107" cy="1334" r="13.8"/><circle cx="98" cy="1170" r="13.8"/><circle cx="78" cy="1215" r="13.8"/><circle cx="111" cy="1215" r="13.8"/><circle cx="105" cy="1162" r="13.8"/><circle cx="58" cy="1166" r="13.8"/><circle cx="113" cy="1305" r="13.8"/><circle cx="68" cy="1263" r="13.8"/><circle cx="105" cy="1195" r="13.8"/><circle cx="99" cy="1294" r="13.8"/><circle cx="80" cy="1102" r="13.8"/><circle cx="87" cy="1297" r="13.8"/><circle cx="90" cy="1303" r="13.8"/><circle cx="93" cy="1210" r="13.8"/></g>
<g fill="#4575b4"><circle cx="1951" cy="1282" r="13.8"/><circle cx="1843" cy="690" r="13.8"/><circle cx="1913" cy="733" r="13.8"/><circle cx="1817" cy="498" r="13.8"/><circle cx="1900" cy="735" r="13.8"/><circle cx="1924" cy="1331" r="13.8"/><circle cx="1911" cy="981" r="13.8"/><circle cx="1952" cy="1363" r="13.8"/><circle cx="1796" cy="475" r="13.8"/><circle cx="1896" cy="868" r="13.8"/><circle cx="1859" cy="664" r="13.8"/><circle cx="1872" cy="965" r="13.8"/><circle cx="1856" cy="650" r="13.8"/><circle cx="1909" cy="760" r="13.8"/><circle cx="1970" cy="1034" r="13.8"/><circle cx="1942" cy="934" r="13.8"/><circle cx="1902" cy="1144" r="13.8"/><circle cx="1869" cy="776" r="13.8"/><circle cx="1862" cy="651" r="13.8"/><circle cx="1920" cy="958" r="13.8"/><circle cx="1903" cy="1017" r="13.8"/><circle cx="1860" cy="716" r="13.8"/><circle cx="1949" cy="1191" r="13.8"/><circle cx="1934" cy="1266" r="13.8"/><circle cx="1930" cy="1274" r="13.8"/><circle cx="1947" cy="976" r="13.8"/><circle cx="1901" cy="816" r="13.8"/><circle cx="1886" cy="910" r="13.8"/><circle cx="1872" cy="869" r="13.8"/><circle cx="1905" cy="1445" r="13.8"/><circle cx="1824" cy="484" r="13.8"/><circle cx="1839" cy="605" r="13.8"/><circle cx="1918" cy="1394" r="13.8"/><circle cx="1895" cy="905" r="13.8"/><circle cx="1947" cy="1038" r="13.8"/><circle cx="1826" cy="632" r="13.8"/><circle cx="1815" cy="640" r="13.8"/><circle cx="1977" cy="1123" r="13.8"/><circle cx="1853" cy="930" r="13.8"/><circle cx="1861" cy="899" r="13.8"/><circle cx="1898" cy="1069" r="13.8"/><circle cx="1904" cy="1364" r="13.8"/><circle cx="1935" cy="1255" r="13.8"/><circle cx="1847" cy="629" r="13.8"/><circle cx="1910" cy="731" r="13.8"/><circle cx="1818" cy="508" r="13.8"/><circle cx="1898" cy="763" r="13.8"/><circle cx="1894" cy="1305" r="13.8"/><circle cx="1932" cy="967" r="13.8"/><circle cx="1966" cy="1089" r="13.8"/><circle cx="1947" cy="937" r="13.8"/><circle cx="1925" cy="1124" r="13.8"/><circle cx="1922" cy="1103" r="13.8"/><circle cx="1948" cy="1363" r="13.8"/><circle cx="1851" cy="819" r="13.8"/><circle cx="1842" cy="782" r="13.8"/><circle cx="1964" cy="1225" r="13.8"/><circle cx="1930" cy="925" r="13.8"/><circle cx="1832" cy="639" r="13.8"/><circle cx="1839" cy="778" r="13.8"/><circle cx="1921" cy="1095" r="13.8"/><circle cx="1877" cy="1534" r="13.8"/><circle cx="1928" cy="829" r="13.8"/><circle cx="1949" cy="1104" r="13.8"/><circle cx="1957" cy="1287" r="13.8"/><circle cx="1922" cy="895" r="13.8"/><circle cx="1895" cy="1436" r="13.8"/><circle cx="1926" cy="1221" r="13.8"/><circle cx="1926" cy="1109" r="13.8"/><circle cx="1881" cy="813" r="13.8"/><circle cx="1899" cy="861" r="13.8"/><circle cx="1910" cy="830" r="13.8"/><circle cx="1931" cy="966" r="13.8"/><circle cx="1795" cy="545" r="13.8"/><circle cx="1919" cy="821" r="13.8"/><circle cx="1948" cy="1059" r="13.8"/><circle cx="1819" cy="505" r="13.8"/><circle cx="1917" cy="1407" r="13.8"/><circle cx="1897" cy="925" r="13.8"/><circle cx="1922" cy="1049" r="13.8"/><circle cx="1945" cy="1130" r="13.8"/><circle cx="1885" cy="885" r="13.8"/><circle cx="1971" cy="1040" r="13.8"/><circle cx="1902" cy="1025" r="13.8"/><circle cx="1857" cy="956" r="13.8"/><circle cx="1951" cy="1145" r="13.8"/><circle cx="1926" cy="1237" r="13.8"/><circle cx="1900" cy="1339" r="13.8"/><circle cx="1934" cy="973" r="13.8"/><circle cx="1906" cy="873" r="13.8"/><circle cx="1901" cy="1154" r="13.8"/><circle cx="1855" cy="815" r="13.8"/><circle cx="1948" cy="1011" r="13.8"/><circle cx="1836" cy="798" r="13.8"/><circle cx="1897" cy="1339" r="13.8"/><circle cx="1967" cy="1140" r="13.8"/><circle cx="1946" cy="985" r="13.8"/><circle cx="1849" cy="571" r="13.8"/><circle cx="1936" cy="1110" r="13.8"/><circle cx="1894" cy="1369" r="13.8"/><circle cx="1973" cy="1108" r="13.8"/><circle cx="1863" cy="810" r="13.8"/><circle cx="1895" cy="992" r="13.8"/><circle cx="1868" cy="944" r="13.8"/><circle cx="1925" cy="1267" r="13.8"/><circle cx="1842" cy="817" r="13.8"/><circle cx="1876" cy="763" r="13.8"/><circle cx="1839" cy="552" r="13.8"/><circle cx="1845" cy="792" r="13.8"/><circle cx="1899" cy="1339" r="13.8"/><circle cx="1885" cy="710" r="13.8"/><circle cx="1890" cy="778" r="13.8"/><circle cx="1819" cy="498" r="13.8"/><circle cx="1850" cy="567" r="13.8"/><circle cx="1876" cy="829" r="13.8"/><circle cx="1812" cy="461" r="13.8"/><circle cx="1955" cy="993" r="13.8"/><circle cx="1927" cy="1098" r="13.8"/><circle cx="1918" cy="980" r="13.8"/><circle cx="1886" cy="888" r="13.8"/><circle cx="1905" cy="1088" r="13.8"/><circle cx="1828" cy="738" r="13.8"/><circle cx="1898" cy="878" r="13.8"/><circle cx="1826" cy="503" r="13.8"/><circle cx="1965" cy="1128" r="13.8"/><circle cx="1907" cy="865" r="13.8"/><circle cx="1904" cy="1055" r="13.8"/><circle cx="1867" cy="711" r="13.8"/><circle cx="1945" cy="1271" r="13.8"/><circle cx="1863" cy="794" r="13.8"/><circle cx="1810" cy="497" r="13.8"/><circle cx="1977" cy="1067" r="13.8"/><circle cx="1928" cy="1280" r="13.8"/><circle cx="1861" cy="614" r="13.8"/><circle cx="1915" cy="836" r="13.8"/><circle cx="1919" cy="1295" r="13.8"/><circle cx="1889" cy="911" r="13.8"/><circle cx="1954" cy="984" r="13.8"/><circle cx="1917" cy="1105" r="13.8"/><circle cx="1967" cy="1143" r="13.8"/><circle cx="1894" cy="872" r="13.8"/><circle cx="1834" cy="794" r="13.8"/><circle cx="1812" cy="571" r="13.8"/><circle cx="1938" cy="900" r="13.8"/><circle cx="1889" cy="739" r="13.8"/><circle cx="1896" cy="1390" r="13.8"/><circle cx="1865" cy="978" r="13.8"/><circle cx="1958" cy="1136" r="13.8"/><circle cx="1879" cy="713" r="13.8"/><circle cx="1833" cy="686" r="13.8"/><circle cx="1863" cy="817" r="13.8"/><circle cx="1895" cy="1009" r="13.8"/><circle cx="1927" cy="1282" r="13.8"/><circle cx="1845" cy="812" r="13.8"/><circle cx="1926" cy="1021" r="13.8"/><circle cx="1897" cy="758" r="13.8"/><circle cx="1868" cy="558" r="13.8"/><circle cx="1827" cy="767" r="13.8"/><circle cx="1853" cy="576" r="13.8"/><circle cx="1890" cy="730" r="13.8"/><circle cx="1901" cy="1034" r="13.8"/><circle cx="1818" cy="570" r="13.8"/><circle cx="1819" cy="405" r="13.8"/><circle cx="1908" cy="931" r="13.8"/><circle cx="1829" cy="610" r="13.8"/><circle cx="1870" cy="963" r="13.8"/><circle cx="1895" cy="868" r="13.8"/><circle cx="1826" cy="512" r="13.8"/><circle cx="1929" cy="1068" r="13.8"/><circle cx="1899" cy="951" r="13.8"/><circle cx="1789" cy="553" r="13.8"/><circle cx="1899" cy="861" r="13.8"/><circle cx="1865" cy="908" r="13.8"/><circle cx="1902" cy="989" r="13.8"/><circle cx="1915" cy="1348" r="13.8"/><circle cx="1972" cy="1026" r="13.8"/><circle cx="1905" cy="1445" r="13.8"/><circle cx="1922" cy="925" r="13.8"/><circle cx="1958" cy="1088" r="13.8"/><circle cx="1844" cy="653" r="13.8"/><circle cx="1935" cy="1289" r="13.8"/><circle cx="1904" cy="1152" r="13.8"/><circle cx="1894" cy="1356" r="13.8"/><circle cx="1934" cy="949" r="13.8"/><circle cx="1871" cy="733" r="13.8"/><circle cx="1850" cy="697" r="13.8"/><circle cx="1869" cy="683" r="13.8"/><circle cx="1870" cy="761" r="13.8"/><circle cx="1940" cy="1212" r="13.8"/><circle cx="1872" cy="798" r="13.8"/><circle cx="1812" cy="607" r="13.8"/></g>
<g fill="#66c2a5"><circle cx="1743" cy="1007" r="13.8"/><circle cx="1766" cy="993" r="13.8"/><circle cx="1797" cy="1233" r="13.8"/><circle cx="1731" cy="863" r="13.8"/><circle cx="1716" cy="882" r="13.8"/><circle cx="1810" cy="1430" r="13.8"/><circle cx="1934" cy="1357" r="13.8"/><circle cx="1808" cy="1351" r="13.8"/><circle cx="1795" cy="1153" r="13.8"/><circle cx="1863" cy="1274" r="13.8"/><circle cx="1722" cy="601" r="13.8"/><circle cx="1741" cy="1119" r="13.8"/><circle cx="1827" cy="1461" r="13.8"/><circle cx="1751" cy="1207" r="13.8"/><circle cx="1771" cy="918" r="13.8"/><circle cx="1868" cy="1188" r="13.8"/><circle cx="1744" cy="900" r="13.8"/><circle cx="1860" cy="1531" r="13.8"/><circle cx="1775" cy="1053" r="13.8"/><circle cx="1702" cy="646" r="13.8"/><circle cx="1709" cy="455" r="13.8"/><circle cx="1729" cy="1002" r="13.8"/><circle cx="1773" cy="1248" r="13.8"/><circle cx="1755" cy="1278" r="13.8"/><circle cx="1745" cy="902" r="13.8"/><circle cx="1800" cy="1207" r="13.8"/><circle cx="1732" cy="871" r="13.8"/><circle cx="1750" cy="1251" r="13.8"/><circle cx="1788" cy="1130" r="13.8"/><circle cx="1747" cy="1088" r="13.8"/><circle cx="1762" cy="1119" r="13.8"/><circle cx="1882" cy="1464" r="13.8"/><circle cx="1701" cy="610" r="13.8"/><circle cx="1740" cy="1059" r="13.8"/><circle cx="1716" cy="1033" r="13.8"/><circle cx="1751" cy="668" r="13.8"/><circle cx="1836" cy="1428" r="13.8"/><circle cx="1686" cy="1023" r="13.8"/><circle cx="1877" cy="1522" r="13.8"/><circle cx="1799" cy="1285" r="13.8"/><circle cx="1712" cy="818" r="13.8"/><circle cx="1885" cy="1130" r="13.8"/><circle cx="1837" cy="1503" r="13.8"/><circle cx="1759" cy="1335" r="13.8"/><circle cx="1721" cy="844" r="13.8"/><circle cx="1730" cy="538" r="13.8"/><circle cx="1700" cy="1296" r="13.8"/><circle cx="1803" cy="1221" r="13.8"/><circle cx="1699" cy="794" r="13.8"/><circle cx="1790" cy="1385" r="13.8"/><circle cx="1799" cy="1244" r="13.8"/><circle cx="1739" cy="1447" r="13.8"/><circle cx="1721" cy="1332" r="13.8"/><circle cx="1718" cy="723" r="13.8"/><circle cx="1871" cy="1384" r="13.8"/><circle cx="1830" cy="1456" r="13.8"/><circle cx="1729" cy="730" r="13.8"/><circle cx="1712" cy="659" r="13.8"/><circle cx="1651" cy="1033" r="13.8"/><circle cx="1694" cy="1426" r="13.8"/><circle cx="1727" cy="1407" r="13.8"/><circle cx="1709" cy="506" r="13.8"/><circle cx="1896" cy="1306" r="13.8"/><circle cx="1767" cy="969" r="13.8"/><circle cx="1697" cy="1381" r="13.8"/><circle cx="1768" cy="1376" r="13.8"/><circle cx="1718" cy="706" r="13.8"/><circle cx="1710" cy="734" r="13.8"/><circle cx="1845" cy="1554" r="13.8"/><circle cx="1739" cy="1328" r="13.8"/><circle cx="1719" cy="861" r="13.8"/><circle cx="1807" cy="1516" r="13.8"/><circle cx="1761" cy="1336" r="13.8"/><circle cx="1760" cy="988" r="13.8"/><circle cx="1925" cy="1399" r="13.8"/><circle cx="1703" cy="1271" r="13.8"/><circle cx="1745" cy="1474" r="13.8"/><circle cx="1894" cy="1481" r="13.8"/><circle cx="1898" cy="1366" r="13.8"/><circle cx="1796" cy="1231" r="13.8"/><circle cx="1724" cy="898" r="13.8"/><circle cx="1802" cy="1506" r="13.8"/><circle cx="1743" cy="1083" r="13.8"/><circle cx="1713" cy="1358" r="13.8"/><circle cx="1766" cy="1298" r="13.8"/><circle cx="1785" cy="1143" r="13.8"/><circle cx="1772" cy="1416" r="13.8"/><circle cx="1805" cy="1371" r="13.8"/><circle cx="1722" cy="1178" r="13.8"/><circle cx="1694" cy="801" r="13.8"/><circle cx="1709" cy="1284" r="13.8"/><circle cx="1839" cy="1519" r="13.8"/><circle cx="1782" cy="1512" r="13.8"/><circle cx="1803" cy="1276" r="13.8"/><circle cx="1663" cy="1041" r="13.8"/><circle cx="1729" cy="1474" r="13.8"/><circle cx="1806" cy="1455" r="13.8"/><circle cx="1747" cy="890" r="13.8"/><circle cx="1765" cy="1518" r="13.8"/><circle cx="1846" cy="1421" r="13.8"/><circle cx="1744" cy="535" r="13.8"/><circle cx="1854" cy="1355" r="13.8"/><circle cx="1803" cy="1246" r="13.8"/><circle cx="1834" cy="1266" r="13.8"/><circle cx="1930" cy="1154" r="13.8"/><circle cx="1713" cy="1137" r="13.8"/><circle cx="1717" cy="600" r="13.8"/><circle cx="1684" cy="1245" r="13.8"/><circle cx="1770" cy="1062" r="13.8"/><circle cx="1708" cy="748" r="13.8"/><circle cx="1671" cy="985" r="13.8"/><circle cx="1701" cy="1293" r="13.8"/><circle cx="1870" cy="1404" r="13.8"/><circle cx="1838" cy="1555" r="13.8"/><circle cx="1733" cy="910" r="13.8"/><circle cx="1744" cy="1331" r="13.8"/><circle cx="1711" cy="592" r="13.8"/><circle cx="1835" cy="1435" r="13.8"/><circle cx="1775" cy="1303" r="13.8"/><circle cx="1873" cy="1397" r="13.8"/><circle cx="1734" cy="1179" r="13.8"/><circle cx="1774" cy="1289" r="13.8"/><circle cx="1783" cy="1207" r="13.8"/><circle cx="1772" cy="1043" r="13.8"/><circle cx="1753" cy="1150" r="13.8"/><circle cx="1702" cy="942" r="13.8"/><circle cx="1749" cy="1088" r="13.8"/><circle cx="1725" cy="1164" r="13.8"/><circle cx="1768" cy="1546" r="13.8"/><circle cx="1770" cy="711" r="13.8"/><circle cx="1762" cy="592" r="13.8"/><circle cx="1707" cy="1463" r="13.8"/><circle cx="1788" cy="1040" r="13.8"/><circle cx="1726" cy="1466" r="13.8"/><circle cx="1732" cy="455" r="13.8"/><circle cx="1732" cy="924" r="13.8"/><circle cx="1762" cy="1021" r="13.8"/><circle cx="1676" cy="894" r="13.8"/><circle cx="1762" cy="994" r="13.8"/><circle cx="1822" cy="1442" r="13.8"/><circle cx="1738" cy="601" r="13.8"/><circle cx="1707" cy="1396" r="13.8"/><circle cx="1767" cy="1388" r="13.8"/><circle cx="1752" cy="1298" r="13.8"/><circle cx="1882" cy="1508" r="13.8"/><circle cx="1730" cy="1226" r="13.8"/><circle cx="1791" cy="1281" r="13.8"/><circle cx="1743" cy="1040" r="13.8"/><circle cx="1780" cy="1380" r="13.8"/><circle cx="1780" cy="1135" r="13.8"/><circle cx="1720" cy="906" r="13.8"/><circle cx="1750" cy="1189" r="13.8"/><circle cx="1822" cy="1467" r="13.8"/><circle cx="1726" cy="1073" r="13.8"/><circle cx="1859" cy="1309" r="13.8"/><circle cx="1823" cy="1490" r="13.8"/><circle cx="1836" cy="1344" r="13.8"/><circle cx="1672" cy="1200" r="13.8"/><circle cx="1659" cy="1414" r="13.8"/><circle cx="1753" cy="1142" r="13.8"/><circle cx="1701" cy="746" r="13.8"/><circle cx="1768" cy="1100" r="13.8"/><circle cx="1708" cy="1300" r="13.8"/><circle cx="1725" cy="531" r="13.8"/><circle cx="1744" cy="639" r="13.8"/><circle cx="1740" cy="1425" r="13.8"/><circle cx="1723" cy="1147" r="13.8"/><circle cx="1691" cy="1340" r="13.8"/><circle cx="1701" cy="1256" r="13.8"/><circle cx="1771" cy="1076" r="13.8"/><circle cx="1845" cy="1545" r="13.8"/><circle cx="1737" cy="670" r="13.8"/><circle cx="1700" cy="579" r="13.8"/><circle cx="1704" cy="801" r="13.8"/><circle cx="1746" cy="941" r="13.8"/><circle cx="1769" cy="1111" r="13.8"/><circle cx="1811" cy="1243" r="13.8"/><circle cx="1732" cy="468" r="13.8"/><circle cx="1732" cy="723" r="13.8"/><circle cx="1805" cy="1437" r="13.8"/><circle cx="1723" cy="570" r="13.8"/><circle cx="1773" cy="1240" r="13.8"/><circle cx="1727" cy="769" r="13.8"/><circle cx="1766" cy="952" r="13.8"/><circle cx="1785" cy="1213" r="13.8"/><circle cx="1770" cy="1519" r="13.8"/><circle cx="1754" cy="527" r="13.8"/><circle cx="1728" cy="473" r="13.8"/><circle cx="1772" cy="1473" r="13.8"/><circle cx="1743" cy="767" r="13.8"/><circle cx="1738" cy="1414" r="13.8"/><circle cx="1829" cy="1501" r="13.8"/><circle cx="1730" cy="488" r="13.8"/><circle cx="1772" cy="1219" r="13.8"/><circle cx="1745" cy="734" r="13.8"/><circle cx="1749" cy="669" r="13.8"/><circle cx="1736" cy="665" r="13.8"/><circle cx="1773" cy="1351" r="13.8"/><circle cx="1689" cy="1035" r="13.8"/><circle cx="1762" cy="566" r="13.8"/><circle cx="1741" cy="1126" r="13.8"/><circle cx="1796" cy="1239" r="13.8"/><circle cx="1765" cy="603" r="13.8"/><circle cx="1726" cy="575" r="13.8"/><circle cx="1741" cy="1179" r="13.8"/><circle cx="1716" cy="491" r="13.8"/><circle cx="1748" cy="1465" r="13.8"/><circle cx="1707" cy="1149" r="13.8"/><circle cx="1696" cy="737" r="13.8"/><circle cx="1711" cy="1080" r="13.8"/><circle cx="1839" cy="1295" r="13.8"/><circle cx="1792" cy="1249" r="13.8"/><circle cx="1758" cy="1006" r="13.8"/><circle cx="1877" cy="1524" r="13.8"/><circle cx="1781" cy="1368" r="13.8"/><circle cx="1732" cy="486" r="13.8"/><circle cx="1819" cy="1513" r="13.8"/><circle cx="1693" cy="958" r="13.8"/><circle cx="1748" cy="1190" r="13.8"/><circle cx="1762" cy="1283" r="13.8"/><circle cx="1763" cy="617" r="13.8"/><circle cx="1695" cy="1142" r="13.8"/><circle cx="1807" cy="1347" r="13.8"/><circle cx="1710" cy="1177" r="13.8"/><circle cx="1790" cy="1154" r="13.8"/><circle cx="1695" cy="1211" r="13.8"/><circle cx="1752" cy="1358" r="13.8"/><circle cx="1771" cy="1197" r="13.8"/><circle cx="1758" cy="574" r="13.8"/><circle cx="1682" cy="798" r="13.8"/><circle cx="1727" cy="765" r="13.8"/><circle cx="1918" cy="1309" r="13.8"/><circle cx="1845" cy="1429" r="13.8"/><circle cx="1722" cy="974" r="13.8"/><circle cx="1794" cy="1498" r="13.8"/><circle cx="1716" cy="1025" r="13.8"/><circle cx="1764" cy="1204" r="13.8"/><circle cx="1776" cy="1121" r="13.8"/><circle cx="1762" cy="359" r="13.8"/><circle cx="1862" cy="1509" r="13.8"/><circle cx="1808" cy="1244" r="13.8"/><circle cx="1769" cy="1435" r="13.8"/><circle cx="1727" cy="525" r="13.8"/><circle cx="1739" cy="859" r="13.8"/><circle cx="1750" cy="767" r="13.8"/><circle cx="1809" cy="1350" r="13.8"/><circle cx="1940" cy="1364" r="13.8"/><circle cx="1702" cy="686" r="13.8"/><circle cx="1798" cy="1294" r="13.8"/><circle cx="1780" cy="1360" r="13.8"/><circle cx="1770" cy="1444" r="13.8"/><circle cx="1892" cy="1140" r="13.8"/><circle cx="1815" cy="1446" r="13.8"/><circle cx="1761" cy="1414" r="13.8"/><circle cx="1675" cy="1061" r="13.8"/><circle cx="1808" cy="1364" r="13.8"/><circle cx="1710" cy="680" r="13.8"/><circle cx="1725" cy="1054" r="13.8"/><circle cx="1818" cy="1322" r="13.8"/><circle cx="1689" cy="894" r="13.8"/><circle cx="1719" cy="476" r="13.8"/><circle cx="1829" cy="1308" r="13.8"/><circle cx="1804" cy="1340" r="13.8"/><circle cx="1767" cy="1272" r="13.8"/><circle cx="1705" cy="1346" r="13.8"/><circle cx="1757" cy="1053" r="13.8"/><circle cx="1842" cy="1342" r="13.8"/><circle cx="1724" cy="1477" r="13.8"/><circle cx="1702" cy="918" r="13.8"/><circle cx="1699" cy="1160" r="13.8"/><circle cx="1738" cy="1198" r="13.8"/><circle cx="1735" cy="693" r="13.8"/><circle cx="1686" cy="809" r="13.8"/><circle cx="1837" cy="1214" r="13.8"/><circle cx="1760" cy="927" r="13.8"/><circle cx="1747" cy="1098" r="13.8"/><circle cx="1782" cy="1410" r="13.8"/><circle cx="1750" cy="1068" r="13.8"/><circle cx="1853" cy="1288" r="13.8"/><circle cx="1791" cy="1009" r="13.8"/><circle cx="1712" cy="1231" r="13.8"/><circle cx="1718" cy="654" r="13.8"/><circle cx="1789" cy="1287" r="13.8"/><circle cx="1714" cy="1005" r="13.8"/><circle cx="1688" cy="703" r="13.8"/><circle cx="1731" cy="1304" r="13.8"/><circle cx="1802" cy="1489" r="13.8"/><circle cx="1703" cy="1408" r="13.8"/><circle cx="1792" cy="1353" r="13.8"/><circle cx="1728" cy="518" r="13.8"/><circle cx="1820" cy="1337" r="13.8"/><circle cx="1826" cy="1497" r="13.8"/><circle cx="1806" cy="1230" r="13.8"/><circle cx="1717" cy="504" r="13.8"/><circle cx="1733" cy="1265" r="13.8"/><circle cx="1766" cy="559" r="13.8"/></g>
<g fill="#3288bd"><circle cx="1762" cy="345" r="13.8"/><circle cx="1729" cy="494" r="13.8"/><circle cx="1712" cy="178" r="13.8"/><circle cx="1718" cy="421" r="13.8"/><circle cx="1787" cy="486" r="13.8"/><circle cx="1728" cy="488" r="13.8"/><circle cx="1716" cy="271" r="13.8"/><circle cx="1726" cy="401" r="13.8"/><circle cx="1731" cy="453" r="13.8"/><circle cx="1784" cy="459" r="13.8"/><circle cx="1754" cy="364" r="13.8"/><circle cx="1762" cy="285" r="13.8"/><circle cx="1754" cy="313" r="13.8"/><circle cx="1765" cy="410" r="13.8"/><circle cx="1760" cy="493" r="13.8"/><circle cx="1715" cy="309" r="13.8"/><circle cx="1712" cy="268" r="13.8"/><circle cx="1773" cy="489" r="13.8"/><circle cx="1711" cy="218" r="13.8"/><circle cx="1723" cy="329" r="13.8"/><circle cx="1716" cy="460" r="13.8"/><circle cx="1756" cy="356" r="13.8"/><circle cx="1774" cy="342" r="13.8"/><circle cx="1753" cy="266" r="13.8"/><circle cx="1759" cy="364" r="13.8"/><circle cx="1720" cy="416" r="13.8"/><circle cx="1745" cy="491" r="13.8"/><circle cx="1759" cy="406" r="13.8"/><circle cx="1714" cy="281" r="13.8"/><circle cx="1740" cy="386" r="13.8"/><circle cx="1713" cy="204" r="13.8"/><circle cx="1739" cy="515" r="13.8"/><circle cx="1777" cy="298" r="13.8"/><circle cx="1788" cy="435" r="13.8"/><circle cx="1779" cy="357" r="13.8"/><circle cx="1708" cy="156" r="13.8"/><circle cx="1775" cy="503" r="13.8"/><circle cx="1720" cy="313" r="13.8"/><circle cx="1768" cy="422" r="13.8"/><circle cx="1718" cy="455" r="13.8"/><circle cx="1793" cy="414" r="13.8"/><circle cx="1767" cy="481" r="13.8"/><circle cx="1772" cy="532" r="13.8"/><circle cx="1758" cy="531" r="13.8"/><circle cx="1794" cy="456" r="13.8"/><circle cx="1776" cy="203" r="13.8"/><circle cx="1728" cy="416" r="13.8"/><circle cx="1771" cy="327" r="13.8"/><circle cx="1762" cy="327" r="13.8"/><circle cx="1719" cy="324" r="13.8"/><circle cx="1717" cy="319" r="13.8"/><circle cx="1716" cy="302" r="13.8"/><circle cx="1722" cy="433" r="13.8"/><circle cx="1748" cy="391" r="13.8"/><circle cx="1793" cy="364" r="13.8"/><circle cx="1772" cy="347" r="13.8"/><circle cx="1787" cy="361" r="13.8"/><circle cx="1789" cy="369" r="13.8"/><circle cx="1779" cy="339" r="13.8"/><circle cx="1715" cy="334" r="13.8"/><circle cx="1762" cy="510" r="13.8"/><circle cx="1716" cy="310" r="13.8"/><circle cx="1769" cy="490" r="13.8"/><circle cx="1739" cy="367" r="13.8"/><circle cx="1790" cy="399" r="13.8"/><circle cx="1711" cy="281" r="13.8"/><circle cx="1753" cy="388" r="13.8"/><circle cx="1767" cy="527" r="13.8"/><circle cx="1716" cy="344" r="13.8"/><circle cx="1766" cy="293" r="13.8"/></g>
<g fill="#4575b4"><circle cx="1914" cy="1136" r="13.8"/><circle cx="1860" cy="874" r="13.8"/><circle cx="1913" cy="1447" r="13.8"/><circle cx="1968" cy="1012" r="13.8"/><circle cx="1955" cy="957" r="13.8"/><circle cx="1928" cy="972" r="13.8"/><circle cx="1953" cy="1038" r="13.8"/><circle cx="1870" cy="696" r="13.8"/><circle cx="1937" cy="1379" r="13.8"/><circle cx="1871" cy="685" r="13.8"/><circle cx="1879" cy="959" r="13.8"/><circle cx="1945" cy="1177" r="13.8"/><circle cx="1937" cy="1325" r="13.8"/><circle cx="1852" cy="758" r="13.8"/><circle cx="1882" cy="958" r="13.8"/><circle cx="1911" cy="1015" r="13.8"/><circle cx="1958" cy="1278" r="13.8"/><circle cx="1841" cy="499" r="13.8"/><circle cx="1961" cy="1132" r="13.8"/><circle cx="1924" cy="1334" r="13.8"/><circle cx="1854" cy="896" r="13.8"/><circle cx="1906" cy="1439" r="13.8"/><circle cx="1844" cy="534" r="13.8"/><circle cx="1835" cy="649" r="13.8"/><circle cx="1913" cy="1043" r="13.8"/><circle cx="1867" cy="931" r="13.8"/><circle cx="1898" cy="840" r="13.8"/><circle cx="1911" cy="1116" r="13.8"/><circle cx="1897" cy="736" r="13.8"/><circle cx="1942" cy="1356" r="13.8"/><circle cx="1961" cy="854" r="13.8"/><circle cx="1917" cy="977" r="13.8"/><circle cx="1922" cy="1004" r="13.8"/><circle cx="1887" cy="1357" r="13.8"/><circle cx="1857" cy="598" r="13.8"/><circle cx="1927" cy="1281" r="13.8"/><circle cx="1920" cy="1043" r="13.8"/><circle cx="1887" cy="904" r="13.8"/><circle cx="1934" cy="807" r="13.8"/><circle cx="1830" cy="757" r="13.8"/><circle cx="1871" cy="873" r="13.8"/><circle cx="1824" cy="599" r="13.8"/><circle cx="1941" cy="917" r="13.8"/><circle cx="1874" cy="691" r="13.8"/><circle cx="1932" cy="1367" r="13.8"/><circle cx="1952" cy="976" r="13.8"/><circle cx="1845" cy="759" r="13.8"/><circle cx="1827" cy="454" r="13.8"/><circle cx="1849" cy="575" r="13.8"/><circle cx="1826" cy="500" r="13.8"/><circle cx="1877" cy="900" r="13.8"/><circle cx="1893" cy="1334" r="13.8"/><circle cx="1909" cy="976" r="13.8"/><circle cx="1868" cy="781" r="13.8"/><circle cx="1856" cy="607" r="13.8"/><circle cx="1966" cy="1249" r="13.8"/><circle cx="1954" cy="1131" r="13.8"/><circle cx="1855" cy="796" r="13.8"/><circle cx="1919" cy="1349" r="13.8"/><circle cx="1809" cy="574" r="13.8"/><circle cx="1800" cy="547" r="13.8"/><circle cx="1872" cy="956" r="13.8"/><circle cx="1968" cy="1112" r="13.8"/><circle cx="1808" cy="488" r="13.8"/><circle cx="1833" cy="815" r="13.8"/><circle cx="1904" cy="1262" r="13.8"/><circle cx="1873" cy="800" r="13.8"/><circle cx="1910" cy="1063" r="13.8"/><circle cx="1796" cy="564" r="13.8"/><circle cx="1857" cy="651" r="13.8"/><circle cx="1842" cy="836" r="13.8"/><circle cx="1874" cy="818" r="13.8"/><circle cx="1971" cy="1140" r="13.8"/><circle cx="1906" cy="813" r="13.8"/><circle cx="1865" cy="844" r="13.8"/><circle cx="1906" cy="831" r="13.8"/><circle cx="1824" cy="430" r="13.8"/><circle cx="1814" cy="394" r="13.8"/><circle cx="1876" cy="850" r="13.8"/><circle cx="1931" cy="997" r="13.8"/><circle cx="1849" cy="723" r="13.8"/><circle cx="1816" cy="392" r="13.8"/><circle cx="1880" cy="946" r="13.8"/><circle cx="1947" cy="1194" r="13.8"/><circle cx="1868" cy="836" r="13.8"/><circle cx="1819" cy="556" r="13.8"/><circle cx="1789" cy="520" r="13.8"/><circle cx="1825" cy="441" r="13.8"/><circle cx="1875" cy="895" r="13.8"/><circle cx="1959" cy="1018" r="13.8"/><circle cx="1937" cy="1216" r="13.8"/><circle cx="1944" cy="1329" r="13.8"/><circle cx="1906" cy="1260" r="13.8"/><circle cx="1913" cy="1362" r="13.8"/><circle cx="1840" cy="770" r="13.8"/><circle cx="1950" cy="988" r="13.8"/><circle cx="1885" cy="943" r="13.8"/><circle cx="1961" cy="1248" r="13.8"/><circle cx="1817" cy="643" r="13.8"/><circle cx="1918" cy="1025" r="13.8"/><circle cx="1905" cy="1164" r="13.8"/><circle cx="1946" cy="1363" r="13.8"/><circle cx="1909" cy="952" r="13.8"/><circle cx="1815" cy="536" r="13.8"/><circle cx="1936" cy="1315" r="13.8"/><circle cx="1847" cy="598" r="13.8"/><circle cx="1916" cy="1393" r="13.8"/><circle cx="1900" cy="871" r="13.8"/><circle cx="1957" cy="1064" r="13.8"/><circle cx="1920" cy="1039" r="13.8"/><circle cx="1805" cy="496" r="13.8"/><circle cx="1927" cy="1185" r="13.8"/><circle cx="1856" cy="691" r="13.8"/><circle cx="1821" cy="576" r="13.8"/><circle cx="1952" cy="1262" r="13.8"/><circle cx="1885" cy="582" r="13.8"/><circle cx="1971" cy="1139" r="13.8"/><circle cx="1856" cy="908" r="13.8"/><circle cx="1865" cy="1010" r="13.8"/><circle cx="1954" cy="1114" r="13.8"/><circle cx="1788" cy="519" r="13.8"/><circle cx="1813" cy="611" r="13.8"/><circle cx="1802" cy="509" r="13.8"/><circle cx="1938" cy="1051" r="13.8"/><circle cx="1827" cy="796" r="13.8"/><circle cx="1942" cy="1398" r="13.8"/><circle cx="1936" cy="834" r="13.8"/><circle cx="1919" cy="905" r="13.8"/><circle cx="1907" cy="946" r="13.8"/><circle cx="1841" cy="559" r="13.8"/><circle cx="1926" cy="1112" r="13.8"/><circle cx="1823" cy="665" r="13.8"/><circle cx="1928" cy="1084" r="13.8"/><circle cx="1910" cy="1420" r="13.8"/><circle cx="1905" cy="929" r="13.8"/><circle cx="1887" cy="892" r="13.8"/><circle cx="1894" cy="715" r="13.8"/><circle cx="1794" cy="551" r="13.8"/><circle cx="1947" cy="1237" r="13.8"/><circle cx="1842" cy="730" r="13.8"/><circle cx="1954" cy="1188" r="13.8"/><circle cx="1941" cy="1299" r="13.8"/><circle cx="1978" cy="1164" r="13.8"/><circle cx="1934" cy="1149" r="13.8"/><circle cx="1887" cy="975" r="13.8"/><circle cx="1932" cy="1125" r="13.8"/><circle cx="1917" cy="842" r="13.8"/><circle cx="1944" cy="962" r="13.8"/><circle cx="1820" cy="879" r="13.8"/><circle cx="1883" cy="728" r="13.8"/><circle cx="1861" cy="631" r="13.8"/><circle cx="1875" cy="732" r="13.8"/><circle cx="1906" cy="1390" r="13.8"/><circle cx="1927" cy="1082" r="13.8"/><circle cx="1930" cy="1221" r="13.8"/><circle cx="1944" cy="1129" r="13.8"/><circle cx="1960" cy="1061" r="13.8"/><circle cx="1903" cy="1058" r="13.8"/><circle cx="1891" cy="764" r="13.8"/></g>
<g fill="#66c2a5"><circle cx="1709" cy="1042" r="13.8"/><circle cx="1874" cy="1433" r="13.8"/><circle cx="1706" cy="568" r="13.8"/><circle cx="1706" cy="1030" r="13.8"/><circle cx="1810" cy="1438" r="13.8"/><circle cx="1849" cy="1427" r="13.8"/><circle cx="1697" cy="836" r="13.8"/><circle cx="1731" cy="727" r="13.8"/><circle cx="1792" cy="802" r="13.8"/><circle cx="1678" cy="1319" r="13.8"/><circle cx="1733" cy="741" r="13.8"/><circle cx="1823" cy="1504" r="13.8"/><circle cx="1753" cy="1130" r="13.8"/><circle cx="1730" cy="790" r="13.8"/><circle cx="1849" cy="1408" r="13.8"/><circle cx="1762" cy="1483" r="13.8"/><circle cx="1719" cy="743" r="13.8"/><circle cx="1808" cy="1431" r="13.8"/><circle cx="1691" cy="972" r="13.8"/><circle cx="1720" cy="1130" r="13.8"/><circle cx="1723" cy="486" r="13.8"/><circle cx="1943" cy="1355" r="13.8"/><circle cx="1741" cy="666" r="13.8"/><circle cx="1751" cy="960" r="13.8"/><circle cx="1764" cy="1017" r="13.8"/><circle cx="1739" cy="511" r="13.8"/><circle cx="1752" cy="642" r="13.8"/><circle cx="1698" cy="524" r="13.8"/><circle cx="1830" cy="1094" r="13.8"/><circle cx="1702" cy="989" r="13.8"/><circle cx="1719" cy="1406" r="13.8"/><circle cx="1940" cy="1392" r="13.8"/><circle cx="1761" cy="1179" r="13.8"/><circle cx="1735" cy="845" r="13.8"/><circle cx="1726" cy="1415" r="13.8"/><circle cx="1743" cy="1307" r="13.8"/><circle cx="1846" cy="1559" r="13.8"/><circle cx="1733" cy="504" r="13.8"/><circle cx="1758" cy="838" r="13.8"/><circle cx="1760" cy="1407" r="13.8"/><circle cx="1851" cy="1346" r="13.8"/><circle cx="1766" cy="1116" r="13.8"/><circle cx="1764" cy="982" r="13.8"/><circle cx="1727" cy="1198" r="13.8"/><circle cx="1723" cy="695" r="13.8"/><circle cx="1731" cy="1347" r="13.8"/><circle cx="1758" cy="533" r="13.8"/><circle cx="1797" cy="1328" r="13.8"/><circle cx="1844" cy="1509" r="13.8"/><circle cx="1678" cy="1192" r="13.8"/><circle cx="1734" cy="893" r="13.8"/><circle cx="1857" cy="1293" r="13.8"/><circle cx="1747" cy="1427" r="13.8"/><circle cx="1790" cy="1496" r="13.8"/><circle cx="1721" cy="964" r="13.8"/><circle cx="1773" cy="1254" r="13.8"/><circle cx="1743" cy="878" r="13.8"/><circle cx="1807" cy="1555" r="13.8"/><circle cx="1700" cy="966" r="13.8"/><circle cx="1828" cy="1496" r="13.8"/><circle cx="1739" cy="964" r="13.8"/><circle cx="1897" cy="1361" r="13.8"/><circle cx="1763" cy="953" r="13.8"/><circle cx="1746" cy="572" r="13.8"/><circle cx="1808" cy="1214" r="13.8"/><circle cx="1772" cy="1272" r="13.8"/><circle cx="1888" cy="1498" r="13.8"/><circle cx="1701" cy="1276" r="13.8"/><circle cx="1780" cy="1454" r="13.8"/><circle cx="1791" cy="1367" r="13.8"/><circle cx="1827" cy="1269" r="13.8"/><circle cx="1806" cy="1211" r="13.8"/><circle cx="1760" cy="1243" r="13.8"/><circle cx="1804" cy="1307" r="13.8"/><circle cx="1736" cy="1201" r="13.8"/><circle cx="1730" cy="1463" r="13.8"/><circle cx="1795" cy="1531" r="13.8"/><circle cx="1756" cy="699" r="13.8"/><circle cx="1661" cy="929" r="13.8"/><circle cx="1721" cy="639" r="13.8"/><circle cx="1716" cy="987" r="13.8"/><circle cx="1733" cy="1066" r="13.8"/><circle cx="1733" cy="1180" r="13.8"/><circle cx="1740" cy="1071" r="13.8"/><circle cx="1768" cy="1186" r="13.8"/><circle cx="1747" cy="1133" r="13.8"/><circle cx="1698" cy="1420" r="13.8"/><circle cx="1712" cy="781" r="13.8"/><circle cx="1705" cy="971" r="13.8"/><circle cx="1751" cy="1410" r="13.8"/><circle cx="1758" cy="1330" r="13.8"/><circle cx="1813" cy="1510" r="13.8"/><circle cx="1787" cy="1533" r="13.8"/><circle cx="1746" cy="1075" r="13.8"/><circle cx="1754" cy="1077" r="13.8"/><circle cx="1679" cy="843" r="13.8"/><circle cx="1705" cy="768" r="13.8"/><circle cx="1700" cy="911" r="13.8"/><circle cx="1703" cy="1243" r="13.8"/><circle cx="1814" cy="1375" r="13.8"/><circle cx="1792" cy="1566" r="13.8"/><circle cx="1743" cy="574" r="13.8"/><circle cx="1866" cy="1351" r="13.8"/><circle cx="1697" cy="748" r="13.8"/><circle cx="1737" cy="475" r="13.8"/><circle cx="1713" cy="868" r="13.8"/><circle cx="1707" cy="820" r="13.8"/><circle cx="1699" cy="734" r="13.8"/><circle cx="1868" cy="1330" r="13.8"/><circle cx="1753" cy="558" r="13.8"/><circle cx="1735" cy="1363" r="13.8"/><circle cx="1758" cy="1164" r="13.8"/><circle cx="1727" cy="827" r="13.8"/><circle cx="1728" cy="863" r="13.8"/><circle cx="1819" cy="1325" r="13.8"/><circle cx="1779" cy="1010" r="13.8"/><circle cx="1718" cy="878" r="13.8"/><circle cx="1810" cy="1529" r="13.8"/><circle cx="1761" cy="1268" r="13.8"/><circle cx="1737" cy="1164" r="13.8"/><circle cx="1930" cy="1372" r="13.8"/><circle cx="1699" cy="1338" r="13.8"/><circle cx="1733" cy="1351" r="13.8"/><circle cx="1779" cy="1504" r="13.8"/><circle cx="1695" cy="1252" r="13.8"/><circle cx="1768" cy="1465" r="13.8"/><circle cx="1731" cy="790" r="13.8"/><circle cx="1729" cy="847" r="13.8"/><circle cx="1762" cy="1392" r="13.8"/><circle cx="1736" cy="819" r="13.8"/><circle cx="1846" cy="1413" r="13.8"/><circle cx="1768" cy="1319" r="13.8"/><circle cx="1706" cy="1080" r="13.8"/><circle cx="1764" cy="1165" r="13.8"/><circle cx="1725" cy="855" r="13.8"/><circle cx="1712" cy="1238" r="13.8"/><circle cx="1754" cy="1031" r="13.8"/><circle cx="1750" cy="1125" r="13.8"/><circle cx="1714" cy="472" r="13.8"/><circle cx="1751" cy="1480" r="13.8"/><circle cx="1731" cy="1408" r="13.8"/><circle cx="1735" cy="1470" r="13.8"/><circle cx="1731" cy="908" r="13.8"/><circle cx="1722" cy="685" r="13.8"/><circle cx="1862" cy="1391" r="13.8"/><circle cx="1741" cy="931" r="13.8"/><circle cx="1796" cy="1460" r="13.8"/><circle cx="1783" cy="1256" r="13.8"/><circle cx="1864" cy="1340" r="13.8"/><circle cx="1889" cy="1499" r="13.8"/><circle cx="1790" cy="1501" r="13.8"/><circle cx="1728" cy="513" r="13.8"/><circle cx="1713" cy="1014" r="13.8"/><circle cx="1661" cy="1195" r="13.8"/><circle cx="1763" cy="1094" r="13.8"/><circle cx="1770" cy="1208" r="13.8"/><circle cx="1814" cy="1351" r="13.8"/><circle cx="1688" cy="1150" r="13.8"/><circle cx="1718" cy="1446" r="13.8"/><circle cx="1725" cy="685" r="13.8"/><circle cx="1724" cy="1115" r="13.8"/><circle cx="1850" cy="1505" r="13.8"/><circle cx="1725" cy="1149" r="13.8"/><circle cx="1845" cy="1265" r="13.8"/><circle cx="1705" cy="1285" r="13.8"/><circle cx="1749" cy="1420" r="13.8"/><circle cx="1729" cy="1059" r="13.8"/><circle cx="1761" cy="619" r="13.8"/><circle cx="1751" cy="1497" r="13.8"/><circle cx="1715" cy="1109" r="13.8"/><circle cx="1698" cy="1230" r="13.8"/><circle cx="1749" cy="1497" r="13.8"/><circle cx="1733" cy="1071" r="13.8"/><circle cx="1727" cy="1226" r="13.8"/><circle cx="1720" cy="959" r="13.8"/><circle cx="1748" cy="1002" r="13.8"/><circle cx="1847" cy="1355" r="13.8"/><circle cx="1747" cy="1042" r="13.8"/><circle cx="1811" cy="1255" r="13.8"/><circle cx="1708" cy="1095" r="13.8"/><circle cx="1813" cy="1494" r="13.8"/><circle cx="1753" cy="966" r="13.8"/><circle cx="1709" cy="953" r="13.8"/><circle cx="1847" cy="1318" r="13.8"/><circle cx="1847" cy="1482" r="13.8"/><circle cx="1700" cy="1248" r="13.8"/><circle cx="1831" cy="1525" r="13.8"/><circle cx="1722" cy="631" r="13.8"/><circle cx="1811" cy="1404" r="13.8"/><circle cx="1747" cy="891" r="13.8"/><circle cx="1719" cy="916" r="13.8"/><circle cx="1898" cy="1477" r="13.8"/><circle cx="1750" cy="1422" r="13.8"/><circle cx="1809" cy="1431" r="13.8"/><circle cx="1752" cy="528" r="13.8"/><circle cx="1722" cy="1383" r="13.8"/><circle cx="1797" cy="1406" r="13.8"/><circle cx="1686" cy="875" r="13.8"/><circle cx="1731" cy="1235" r="13.8"/><circle cx="1853" cy="1475" r="13.8"/><circle cx="1752" cy="1018" r="13.8"/><circle cx="1777" cy="568" r="13.8"/><circle cx="1738" cy="1445" r="13.8"/><circle cx="1716" cy="691" r="13.8"/><circle cx="1766" cy="592" r="13.8"/><circle cx="1708" cy="681" r="13.8"/><circle cx="1712" cy="1456" r="13.8"/><circle cx="1722" cy="1433" r="13.8"/><circle cx="1736" cy="544" r="13.8"/><circle cx="1740" cy="614" r="13.8"/><circle cx="1736" cy="526" r="13.8"/><circle cx="1715" cy="827" r="13.8"/><circle cx="1745" cy="894" r="13.8"/><circle cx="1861" cy="1470" r="13.8"/><circle cx="1717" cy="1090" r="13.8"/><circle cx="1869" cy="1532" r="13.8"/><circle cx="1856" cy="1394" r="13.8"/><circle cx="1721" cy="1071" r="13.8"/><circle cx="1770" cy="1430" r="13.8"/><circle cx="1734" cy="748" r="13.8"/><circle cx="1730" cy="662" r="13.8"/><circle cx="1821" cy="1361" r="13.8"/><circle cx="1717" cy="1214" r="13.8"/><circle cx="1814" cy="1557" r="13.8"/><circle cx="1758" cy="1094" r="13.8"/><circle cx="1696" cy="593" r="13.8"/><circle cx="1724" cy="735" r="13.8"/><circle cx="1753" cy="1267" r="13.8"/><circle cx="1715" cy="851" r="13.8"/><circle cx="1807" cy="1477" r="13.8"/><circle cx="1802" cy="1468" r="13.8"/><circle cx="1721" cy="1133" r="13.8"/><circle cx="1720" cy="365" r="13.8"/><circle cx="1791" cy="1358" r="13.8"/><circle cx="1709" cy="1130" r="13.8"/><circle cx="1761" cy="1369" r="13.8"/><circle cx="1749" cy="512" r="13.8"/><circle cx="1757" cy="1041" r="13.8"/><circle cx="1722" cy="1387" r="13.8"/><circle cx="1757" cy="1549" r="13.8"/><circle cx="1714" cy="525" r="13.8"/><circle cx="1734" cy="838" r="13.8"/><circle cx="1699" cy="1150" r="13.8"/><circle cx="1750" cy="1239" r="13.8"/><circle cx="1725" cy="549" r="13.8"/><circle cx="1708" cy="1161" r="13.8"/><circle cx="1704" cy="1345" r="13.8"/><circle cx="1733" cy="892" r="13.8"/><circle cx="1782" cy="1329" r="13.8"/><circle cx="1774" cy="1550" r="13.8"/><circle cx="1757" cy="909" r="13.8"/><circle cx="1706" cy="801" r="13.8"/><circle cx="1765" cy="1143" r="13.8"/><circle cx="1762" cy="1407" r="13.8"/><circle cx="1777" cy="571" r="13.8"/><circle cx="1818" cy="1437" r="13.8"/><circle cx="1731" cy="555" r="13.8"/><circle cx="1697" cy="888" r="13.8"/><circle cx="1714" cy="1288" r="13.8"/><circle cx="1836" cy="1495" r="13.8"/><circle cx="1684" cy="1242" r="13.8"/><circle cx="1808" cy="1554" r="13.8"/><circle cx="1740" cy="722" r="13.8"/><circle cx="1866" cy="1537" r="13.8"/><circle cx="1745" cy="1440" r="13.8"/><circle cx="1808" cy="1233" r="13.8"/><circle cx="1699" cy="937" r="13.8"/><circle cx="1730" cy="1030" r="13.8"/><circle cx="1730" cy="839" r="13.8"/><circle cx="1739" cy="1211" r="13.8"/><circle cx="1771" cy="1220" r="13.8"/><circle cx="1738" cy="503" r="13.8"/><circle cx="1823" cy="1539" r="13.8"/><circle cx="1776" cy="1276" r="13.8"/><circle cx="1822" cy="1487" r="13.8"/><circle cx="1741" cy="642" r="13.8"/><circle cx="1815" cy="1534" r="13.8"/><circle cx="1820" cy="1210" r="13.8"/><circle cx="1710" cy="1146" r="13.8"/><circle cx="1723" cy="1215" r="13.8"/><circle cx="1892" cy="1472" r="13.8"/><circle cx="1703" cy="1056" r="13.8"/><circle cx="1735" cy="1218" r="13.8"/><circle cx="1710" cy="737" r="13.8"/><circle cx="1909" cy="1292" r="13.8"/><circle cx="1733" cy="854" r="13.8"/><circle cx="1693" cy="1449" r="13.8"/><circle cx="1727" cy="1108" r="13.8"/><circle cx="1742" cy="534" r="13.8"/><circle cx="1721" cy="705" r="13.8"/><circle cx="1757" cy="1019" r="13.8"/><circle cx="1737" cy="1195" r="13.8"/><circle cx="1774" cy="1129" r="13.8"/><circle cx="1749" cy="1094" r="13.8"/><circle cx="1751" cy="1524" r="13.8"/><circle cx="1760" cy="940" r="13.8"/><circle cx="1717" cy="1295" r="13.8"/><circle cx="1759" cy="1016" r="13.8"/><circle cx="1799" cy="1247" r="13.8"/><circle cx="1734" cy="1339" r="13.8"/><circle cx="1719" cy="1307" r="13.8"/><circle cx="1820" cy="1299" r="13.8"/><circle cx="1739" cy="1002" r="13.8"/><circle cx="1740" cy="691" r="13.8"/><circle cx="1684" cy="1148" r="13.8"/><circle cx="1675" cy="1090" r="13.8"/><circle cx="1747" cy="753" r="13.8"/><circle cx="1810" cy="1563" r="13.8"/><circle cx="1716" cy="1272" r="13.8"/><circle cx="1887" cy="1508" r="13.8"/><circle cx="1669" cy="1162" r="13.8"/><circle cx="1755" cy="1217" r="13.8"/><circle cx="1736" cy="1259" r="13.8"/><circle cx="1762" cy="1362" r="13.8"/><circle cx="1827" cy="1429" r="13.8"/><circle cx="1765" cy="1207" r="13.8"/><circle cx="1767" cy="1346" r="13.8"/><circle cx="1707" cy="832" r="13.8"/><circle cx="1727" cy="937" r="13.8"/><circle cx="1753" cy="1505" r="13.8"/><circle cx="1739" cy="920" r="13.8"/><circle cx="1756" cy="1358" r="13.8"/><circle cx="1709" cy="989" r="13.8"/><circle cx="1720" cy="540" r="13.8"/><circle cx="1764" cy="972" r="13.8"/><circle cx="1723" cy="636" r="13.8"/></g>
<g fill="#3288bd"><circle cx="1764" cy="364" r="13.8"/><circle cx="1777" cy="363" r="13.8"/><circle cx="1715" cy="242" r="13.8"/><circle cx="1783" cy="463" r="13.8"/><circle cx="1772" cy="360" r="13.8"/><circle cx="1744" cy="371" r="13.8"/><circle cx="1708" cy="129" r="13.8"/><circle cx="1713" cy="315" r="13.8"/><circle cx="1784" cy="345" r="13.8"/><circle cx="1750" cy="449" r="13.8"/><circle cx="1754" cy="352" r="13.8"/><circle cx="1763" cy="498" r="13.8"/><circle cx="1730" cy="439" r="13.8"/><circle cx="1723" cy="384" r="13.8"/><circle cx="1789" cy="347" r="13.8"/><circle cx="1721" cy="301" r="13.8"/><circle cx="1751" cy="505" r="13.8"/><circle cx="1760" cy="445" r="13.8"/><circle cx="1779" cy="384" r="13.8"/><circle cx="1763" cy="367" r="13.8"/><circle cx="1742" cy="355" r="13.8"/><circle cx="1776" cy="532" r="13.8"/><circle cx="1717" cy="299" r="13.8"/><circle cx="1767" cy="394" r="13.8"/><circle cx="1708" cy="308" r="13.8"/><circle cx="1784" cy="463" r="13.8"/><circle cx="1762" cy="344" r="13.8"/><circle cx="1785" cy="522" r="13.8"/><circle cx="1788" cy="524" r="13.8"/><circle cx="1761" cy="441" r="13.8"/><circle cx="1762" cy="328" r="13.8"/><circle cx="1783" cy="540" r="13.8"/><circle cx="1768" cy="331" r="13.8"/><circle cx="1749" cy="407" r="13.8"/><circle cx="1758" cy="500" r="13.8"/><circle cx="1767" cy="493" r="13.8"/><circle cx="1789" cy="580" r="13.8"/><circle cx="1774" cy="480" r="13.8"/><circle cx="1764" cy="471" r="13.8"/><circle cx="1737" cy="401" r="13.8"/><circle cx="1753" cy="471" r="13.8"/><circle cx="1776" cy="410" r="13.8"/><circle cx="1777" cy="557" r="13.8"/><circle cx="1722" cy="339" r="13.8"/><circle cx="1775" cy="520" r="13.8"/><circle cx="1766" cy="372" r="13.8"/><circle cx="1714" cy="477" r="13.8"/><circle cx="1769" cy="386" r="13.8"/><circle cx="1710" cy="165" r="13.8"/><circle cx="1762" cy="232" r="13.8"/><circle cx="1711" cy="451" r="13.8"/><circle cx="1735" cy="468" r="13.8"/><circle cx="1776" cy="516" r="13.8"/><circle cx="1776" cy="472" r="13.8"/><circle cx="1724" cy="488" r="13.8"/><circle cx="1794" cy="435" r="13.8"/><circle cx="1773" cy="313" r="13.8"/><circle cx="1780" cy="364" r="13.8"/><circle cx="1743" cy="285" r="13.8"/><circle cx="1717" cy="343" r="13.8"/><circle cx="1724" cy="486" r="13.8"/><circle cx="1775" cy="362" r="13.8"/><circle cx="1776" cy="542" r="13.8"/><circle cx="1768" cy="467" r="13.8"/><circle cx="1658" cy="276" r="13.8"/><circle cx="1760" cy="411" r="13.8"/><circle cx="1760" cy="530" r="13.8"/><circle cx="1718" cy="453" r="13.8"/><circle cx="1778" cy="457" r="13.8"/><circle cx="1771" cy="347" r="13.8"/><circle cx="1737" cy="477" r="13.8"/><circle cx="1735" cy="459" r="13.8"/><circle cx="1773" cy="294" r="13.8"/></g>
<g fill="#3288bd"><circle cx="1769" cy="304" r="13.8"/><circle cx="1758" cy="451" r="13.8"/><circle cx="1750" cy="370" r="13.8"/><circle cx="1719" cy="260" r="13.8"/><circle cx="1759" cy="501" r="13.8"/><circle cx="1796" cy="427" r="13.8"/><circle cx="1758" cy="461" r="13.8"/><circle cx="1722" cy="286" r="13.8"/><circle cx="1711" cy="171" r="13.8"/><circle cx="1737" cy="473" r="13.8"/><circle cx="1760" cy="292" r="13.8"/><circle cx="1760" cy="326" r="13.8"/><circle cx="1796" cy="471" r="13.8"/><circle cx="1791" cy="480" r="13.8"/><circle cx="1782" cy="348" r="13.8"/><circle cx="1783" cy="568" r="13.8"/><circle cx="1774" cy="441" r="13.8"/><circle cx="1765" cy="334" r="13.8"/><circle cx="1709" cy="466" r="13.8"/><circle cx="1711" cy="340" r="13.8"/><circle cx="1771" cy="394" r="13.8"/><circle cx="1725" cy="347" r="13.8"/><circle cx="1783" cy="479" r="13.8"/><circle cx="1754" cy="250" r="13.8"/><circle cx="1748" cy="329" r="13.8"/><circle cx="1783" cy="370" r="13.8"/><circle cx="1777" cy="511" r="13.8"/><circle cx="1723" cy="348" r="13.8"/><circle cx="1723" cy="406" r="13.8"/><circle cx="1783" cy="455" r="13.8"/><circle cx="1791" cy="400" r="13.8"/><circle cx="1804" cy="428" r="13.8"/><circle cx="1802" cy="400" r="13.8"/><circle cx="1746" cy="420" r="13.8"/><circle cx="1761" cy="527" r="13.8"/><circle cx="1780" cy="314" r="13.8"/><circle cx="1772" cy="547" r="13.8"/><circle cx="1782" cy="356" r="13.8"/><circle cx="1777" cy="494" r="13.8"/><circle cx="1752" cy="347" r="13.8"/><circle cx="1754" cy="343" r="13.8"/><circle cx="1712" cy="468" r="13.8"/><circle cx="1767" cy="322" r="13.8"/><circle cx="1774" cy="469" r="13.8"/><circle cx="1796" cy="430" r="13.8"/><circle cx="1700" cy="219" r="13.8"/><circle cx="1731" cy="353" r="13.8"/><circle cx="1763" cy="521" r="13.8"/><circle cx="1763" cy="434" r="13.8"/><circle cx="1714" cy="437" r="13.8"/><circle cx="1777" cy="380" r="13.8"/><circle cx="1762" cy="340" r="13.8"/><circle cx="1728" cy="365" r="13.8"/><circle cx="1709" cy="160" r="13.8"/><circle cx="1712" cy="288" r="13.8"/><circle cx="1758" cy="420" r="13.8"/><circle cx="1766" cy="463" r="13.8"/><circle cx="1722" cy="466" r="13.8"/><circle cx="1755" cy="356" r="13.8"/><circle cx="1742" cy="471" r="13.8"/><circle cx="1758" cy="357" r="13.8"/><circle cx="1717" cy="271" r="13.8"/><circle cx="1767" cy="523" r="13.8"/><circle cx="1747" cy="390" r="13.8"/><circle cx="1782" cy="465" r="13.8"/></g>
<g fill="#4575b4"><circle cx="1818" cy="473" r="13.8"/><circle cx="1910" cy="845" r="13.8"/><circle cx="1920" cy="1410" r="13.8"/><circle cx="1914" cy="1300" r="13.8"/><circle cx="1859" cy="876" r="13.8"/><circle cx="1911" cy="1276" r="13.8"/><circle cx="1944" cy="1246" r="13.8"/><circle cx="1934" cy="946" r="13.8"/><circle cx="1897" cy="891" r="13.8"/><circle cx="1800" cy="516" r="13.8"/><circle cx="1866" cy="666" r="13.8"/><circle cx="1788" cy="491" r="13.8"/><circle cx="1830" cy="545" r="13.8"/><circle cx="1831" cy="766" r="13.8"/><circle cx="1805" cy="509" r="13.8"/><circle cx="1840" cy="516" r="13.8"/><circle cx="1811" cy="369" r="13.8"/><circle cx="1925" cy="912" r="13.8"/><circle cx="1815" cy="504" r="13.8"/><circle cx="1822" cy="619" r="13.8"/><circle cx="1914" cy="1268" r="13.8"/><circle cx="1905" cy="1320" r="13.8"/><circle cx="1922" cy="1397" r="13.8"/><circle cx="1902" cy="1076" r="13.8"/><circle cx="1861" cy="723" r="13.8"/><circle cx="1931" cy="1144" r="13.8"/><circle cx="1937" cy="1216" r="13.8"/><circle cx="1901" cy="999" r="13.8"/><circle cx="1942" cy="1352" r="13.8"/><circle cx="1878" cy="816" r="13.8"/><circle cx="1932" cy="1081" r="13.8"/><circle cx="1844" cy="654" r="13.8"/><circle cx="1793" cy="531" r="13.8"/><circle cx="1825" cy="558" r="13.8"/><circle cx="1903" cy="1394" r="13.8"/><circle cx="1948" cy="1232" r="13.8"/><circle cx="1917" cy="1318" r="13.8"/><circle cx="1869" cy="965" r="13.8"/><circle cx="1910" cy="1349" r="13.8"/><circle cx="1959" cy="999" r="13.8"/><circle cx="1862" cy="637" r="13.8"/><circle cx="1840" cy="572" r="13.8"/><circle cx="1919" cy="793" r="13.8"/><circle cx="1819" cy="595" r="13.8"/><circle cx="1860" cy="507" r="13.8"/><circle cx="1955" cy="1262" r="13.8"/><circle cx="1947" cy="1196" r="13.8"/><circle cx="1935" cy="875" r="13.8"/><circle cx="1870" cy="668" r="13.8"/><circle cx="1941" cy="1265" r="13.8"/><circle cx="1941" cy="875" r="13.8"/><circle cx="1826" cy="672" r="13.8"/><circle cx="1932" cy="843" r="13.8"/><circle cx="1958" cy="1217" r="13.8"/><circle cx="1969" cy="1079" r="13.8"/><circle cx="1872" cy="721" r="13.8"/><circle cx="1850" cy="559" r="13.8"/><circle cx="1846" cy="683" r="13.8"/><circle cx="1936" cy="1373" r="13.8"/><circle cx="1919" cy="881" r="13.8"/><circle cx="1881" cy="776" r="13.8"/><circle cx="1910" cy="1428" r="13.8"/><circle cx="1832" cy="522" r="13.8"/><circle cx="1930" cy="1131" r="13.8"/><circle cx="1875" cy="741" r="13.8"/><circle cx="1818" cy="503" r="13.8"/><circle cx="1903" cy="1319" r="13.8"/><circle cx="1871" cy="801" r="13.8"/><circle cx="1976" cy="1167" r="13.8"/><circle cx="1954" cy="1287" r="13.8"/><circle cx="1929" cy="1103" r="13.8"/><circle cx="1937" cy="844" r="13.8"/><circle cx="1920" cy="1366" r="13.8"/><circle cx="1881" cy="1476" r="13.8"/><circle cx="1812" cy="465" r="13.8"/><circle cx="1889" cy="801" r="13.8"/><circle cx="1860" cy="820" r="13.8"/><circle cx="1909" cy="1109" r="13.8"/><circle cx="1876" cy="876" r="13.8"/><circle cx="1964" cy="1083" r="13.8"/><circle cx="1946" cy="891" r="13.8"/><circle cx="1921" cy="876" r="13.8"/><circle cx="1926" cy="880" r="13.8"/><circle cx="1851" cy="785" r="13.8"/><circle cx="1934" cy="831" r="13.8"/><circle cx="1863" cy="929" r="13.8"/><circle cx="1930" cy="1085" r="13.8"/><circle cx="1945" cy="1270" r="13.8"/><circle cx="1893" cy="1320" r="13.8"/><circle cx="1936" cy="1231" r="13.8"/><circle cx="1895" cy="794" r="13.8"/><circle cx="1828" cy="816" r="13.8"/><circle cx="1919" cy="1437" r="13.8"/><circle cx="1933" cy="1279" r="13.8"/><circle cx="1852" cy="948" r="13.8"/><circle cx="1919" cy="1048" r="13.8"/><circle cx="1909" cy="778" r="13.8"/><circle cx="1945" cy="1140" r="13.8"/><circle cx="1857" cy="952" r="13.8"/><circle cx="1930" cy="1235" r="13.8"/><circle cx="1828" cy="433" r="13.8"/><circle cx="1906" cy="828" r="13.8"/><circle cx="1963" cy="1037" r="13.8"/><circle cx="1938" cy="1086" r="13.8"/><circle cx="1814" cy="397" r="13.8"/><circle cx="1796" cy="514" r="13.8"/><circle cx="1841" cy="779" r="13.8"/><circle cx="1930" cy="1396" r="13.8"/><circle cx="1816" cy="600" r="13.8"/><circle cx="1913" cy="945" r="13.8"/><circle cx="1910" cy="1085" r="13.8"/><circle cx="1841" cy="637" r="13.8"/><circle cx="1901" cy="1438" r="13.8"/><circle cx="1822" cy="601" r="13.8"/><circle cx="1922" cy="815" r="13.8"/><circle cx="1963" cy="962" r="13.8"/><circle cx="1857" cy="921" r="13.8"/><circle cx="1977" cy="1054" r="13.8"/><circle cx="1932" cy="1403" r="13.8"/><circle cx="1920" cy="1197" r="13.8"/><circle cx="1915" cy="1159" r="13.8"/><circle cx="1830" cy="685" r="13.8"/><circle cx="1828" cy="699" r="13.8"/><circle cx="1901" cy="1302" r="13.8"/><circle cx="1928" cy="1258" r="13.8"/><circle cx="1967" cy="1247" r="13.8"/><circle cx="1927" cy="1183" r="13.8"/><circle cx="1881" cy="781" r="13.8"/><circle cx="1911" cy="1012" r="13.8"/><circle cx="1823" cy="733" r="13.8"/><circle cx="1817" cy="564" r="13.8"/><circle cx="1968" cy="1084" r="13.8"/><circle cx="1983" cy="1086" r="13.8"/><circle cx="1942" cy="920" r="13.8"/><circle cx="1892" cy="797" r="13.8"/><circle cx="1839" cy="703" r="13.8"/><circle cx="1911" cy="848" r="13.8"/><circle cx="1951" cy="1102" r="13.8"/><circle cx="1822" cy="565" r="13.8"/><circle cx="1887" cy="958" r="13.8"/><circle cx="1904" cy="890" r="13.8"/><circle cx="1828" cy="514" r="13.8"/><circle cx="1920" cy="1147" r="13.8"/><circle cx="1903" cy="1135" r="13.8"/><circle cx="1906" cy="972" r="13.8"/><circle cx="1796" cy="446" r="13.8"/><circle cx="1902" cy="764" r="13.8"/><circle cx="1822" cy="647" r="13.8"/><circle cx="1891" cy="719" r="13.8"/><circle cx="1968" cy="1199" r="13.8"/><circle cx="1954" cy="1113" r="13.8"/><circle cx="1895" cy="969" r="13.8"/><circle cx="1886" cy="1014" r="13.8"/><circle cx="1936" cy="1204" r="13.8"/><circle cx="1952" cy="962" r="13.8"/><circle cx="1862" cy="852" r="13.8"/><circle cx="1880" cy="901" r="13.8"/><circle cx="1842" cy="600" r="13.8"/><circle cx="1943" cy="1306" r="13.8"/><circle cx="1896" cy="820" r="13.8"/><circle cx="1967" cy="977" r="13.8"/><circle cx="1905" cy="787" r="13.8"/><circle cx="1979" cy="1130" r="13.8"/><circle cx="1914" cy="1307" r="13.8"/><circle cx="1894" cy="1321" r="13.8"/><circle cx="1848" cy="625" r="13.8"/><circle cx="1920" cy="995" r="13.8"/><circle cx="1959" cy="1165" r="13.8"/><circle cx="1880" cy="987" r="13.8"/><circle cx="1935" cy="926" r="13.8"/><circle cx="1980" cy="1128" r="13.8"/><circle cx="1933" cy="1403" r="13.8"/><circle cx="1901" cy="783" r="13.8"/></g>
<g fill="#66c2a5"><circle cx="1869" cy="1441" r="13.8"/><circle cx="1728" cy="882" r="13.8"/><circle cx="1684" cy="1128" r="13.8"/><circle cx="1734" cy="1364" r="13.8"/><circle cx="1798" cy="1183" r="13.8"/><circle cx="1776" cy="1504" r="13.8"/><circle cx="1844" cy="1473" r="13.8"/><circle cx="1686" cy="1261" r="13.8"/><circle cx="1775" cy="1447" r="13.8"/><circle cx="1668" cy="991" r="13.8"/><circle cx="1759" cy="1523" r="13.8"/><circle cx="1851" cy="1312" r="13.8"/><circle cx="1855" cy="1474" r="13.8"/><circle cx="1746" cy="1112" r="13.8"/><circle cx="1677" cy="1163" r="13.8"/><circle cx="1751" cy="1444" r="13.8"/><circle cx="1849" cy="1367" r="13.8"/><circle cx="1727" cy="800" r="13.8"/><circle cx="1711" cy="1073" r="13.8"/><circle cx="1792" cy="1361" r="13.8"/><circle cx="1712" cy="1214" r="13.8"/><circle cx="1705" cy="1197" r="13.8"/><circle cx="1759" cy="1037" r="13.8"/><circle cx="1694" cy="940" r="13.8"/><circle cx="1843" cy="1525" r="13.8"/><circle cx="1758" cy="1352" r="13.8"/><circle cx="1877" cy="1469" r="13.8"/><circle cx="1932" cy="1284" r="13.8"/><circle cx="1681" cy="925" r="13.8"/><circle cx="1728" cy="1061" r="13.8"/><circle cx="1724" cy="954" r="13.8"/><circle cx="1763" cy="993" r="13.8"/><circle cx="1861" cy="1449" r="13.8"/><circle cx="1861" cy="1452" r="13.8"/><circle cx="1705" cy="689" r="13.8"/><circle cx="1707" cy="997" r="13.8"/><circle cx="1693" cy="905" r="13.8"/><circle cx="1808" cy="1334" r="13.8"/><circle cx="1750" cy="1444" r="13.8"/><circle cx="1766" cy="1259" r="13.8"/><circle cx="1836" cy="1343" r="13.8"/><circle cx="1747" cy="1481" r="13.8"/><circle cx="1793" cy="1406" r="13.8"/><circle cx="1770" cy="1009" r="13.8"/><circle cx="1745" cy="410" r="13.8"/><circle cx="1786" cy="1343" r="13.8"/><circle cx="1717" cy="1231" r="13.8"/><circle cx="1735" cy="1523" r="13.8"/><circle cx="1719" cy="489" r="13.8"/><circle cx="1701" cy="700" r="13.8"/><circle cx="1788" cy="1573" r="13.8"/><circle cx="1701" cy="699" r="13.8"/><circle cx="1737" cy="1237" r="13.8"/><circle cx="1843" cy="1478" r="13.8"/><circle cx="1703" cy="885" r="13.8"/><circle cx="1749" cy="1011" r="13.8"/><circle cx="1735" cy="1018" r="13.8"/><circle cx="1712" cy="1196" r="13.8"/><circle cx="1732" cy="925" r="13.8"/><circle cx="1716" cy="1459" r="13.8"/><circle cx="1760" cy="1540" r="13.8"/><circle cx="1697" cy="680" r="13.8"/><circle cx="1865" cy="1281" r="13.8"/><circle cx="1734" cy="565" r="13.8"/><circle cx="1777" cy="1357" r="13.8"/><circle cx="1770" cy="1163" r="13.8"/><circle cx="1725" cy="1209" r="13.8"/><circle cx="1857" cy="1343" r="13.8"/><circle cx="1723" cy="985" r="13.8"/><circle cx="1690" cy="1380" r="13.8"/><circle cx="1706" cy="1257" r="13.8"/><circle cx="1737" cy="1346" r="13.8"/><circle cx="1685" cy="1140" r="13.8"/><circle cx="1709" cy="691" r="13.8"/><circle cx="1742" cy="904" r="13.8"/><circle cx="1726" cy="1180" r="13.8"/><circle cx="1716" cy="1280" r="13.8"/><circle cx="1693" cy="1301" r="13.8"/><circle cx="1756" cy="975" r="13.8"/><circle cx="1690" cy="1028" r="13.8"/><circle cx="1839" cy="1411" r="13.8"/><circle cx="1713" cy="717" r="13.8"/><circle cx="1842" cy="1526" r="13.8"/><circle cx="1728" cy="1041" r="13.8"/><circle cx="1736" cy="716" r="13.8"/><circle cx="1740" cy="1265" r="13.8"/><circle cx="1897" cy="1482" r="13.8"/><circle cx="1679" cy="1012" r="13.8"/><circle cx="1727" cy="1032" r="13.8"/><circle cx="1752" cy="666" r="13.8"/><circle cx="1770" cy="1339" r="13.8"/><circle cx="1687" cy="1376" r="13.8"/><circle cx="1736" cy="1191" r="13.8"/><circle cx="1717" cy="591" r="13.8"/><circle cx="1722" cy="445" r="13.8"/><circle cx="1720" cy="1126" r="13.8"/><circle cx="1709" cy="1450" r="13.8"/><circle cx="1792" cy="1261" r="13.8"/><circle cx="1769" cy="1481" r="13.8"/><circle cx="1719" cy="1329" r="13.8"/><circle cx="1705" cy="868" r="13.8"/><circle cx="1733" cy="1227" r="13.8"/><circle cx="1900" cy="1492" r="13.8"/><circle cx="1732" cy="930" r="13.8"/><circle cx="1744" cy="1485" r="13.8"/><circle cx="1758" cy="692" r="13.8"/><circle cx="1906" cy="1308" r="13.8"/><circle cx="1805" cy="1337" r="13.8"/><circle cx="1724" cy="948" r="13.8"/><circle cx="1769" cy="1155" r="13.8"/><circle cx="1724" cy="808" r="13.8"/><circle cx="1728" cy="1398" r="13.8"/><circle cx="1788" cy="1326" r="13.8"/><circle cx="1815" cy="1372" r="13.8"/><circle cx="1723" cy="1422" r="13.8"/><circle cx="1758" cy="951" r="13.8"/><circle cx="1768" cy="1461" r="13.8"/><circle cx="1705" cy="727" r="13.8"/><circle cx="1695" cy="933" r="13.8"/><circle cx="1686" cy="1240" r="13.8"/><circle cx="1737" cy="1007" r="13.8"/><circle cx="1708" cy="984" r="13.8"/><circle cx="1698" cy="868" r="13.8"/><circle cx="1807" cy="1264" r="13.8"/><circle cx="1931" cy="1349" r="13.8"/><circle cx="1698" cy="907" r="13.8"/><circle cx="1729" cy="1159" r="13.8"/><circle cx="1816" cy="1217" r="13.8"/><circle cx="1880" cy="1260" r="13.8"/><circle cx="1692" cy="868" r="13.8"/><circle cx="1820" cy="1429" r="13.8"/><circle cx="1842" cy="1353" r="13.8"/><circle cx="1763" cy="570" r="13.8"/><circle cx="1718" cy="978" r="13.8"/><circle cx="1662" cy="1032" r="13.8"/><circle cx="1731" cy="588" r="13.8"/><circle cx="1795" cy="1567" r="13.8"/><circle cx="1663" cy="1082" r="13.8"/><circle cx="1768" cy="1010" r="13.8"/><circle cx="1718" cy="457" r="13.8"/><circle cx="1730" cy="1464" r="13.8"/><circle cx="1699" cy="712" r="13.8"/><circle cx="1790" cy="1205" r="13.8"/><circle cx="1751" cy="648" r="13.8"/><circle cx="1852" cy="1381" r="13.8"/><circle cx="1724" cy="763" r="13.8"/><circle cx="1745" cy="1063" r="13.8"/><circle cx="1720" cy="789" r="13.8"/><circle cx="1664" cy="1005" r="13.8"/><circle cx="1762" cy="1071" r="13.8"/><circle cx="1737" cy="1515" r="13.8"/><circle cx="1747" cy="564" r="13.8"/><circle cx="1704" cy="1171" r="13.8"/><circle cx="1753" cy="571" r="13.8"/><circle cx="1787" cy="1151" r="13.8"/><circle cx="1776" cy="1129" r="13.8"/><circle cx="1766" cy="1514" r="13.8"/><circle cx="1756" cy="1519" r="13.8"/><circle cx="1804" cy="1214" r="13.8"/><circle cx="1739" cy="1428" r="13.8"/><circle cx="1711" cy="1426" r="13.8"/><circle cx="1727" cy="949" r="13.8"/><circle cx="1696" cy="984" r="13.8"/><circle cx="1908" cy="1403" r="13.8"/><circle cx="1693" cy="853" r="13.8"/><circle cx="1772" cy="1150" r="13.8"/><circle cx="1887" cy="1485" r="13.8"/><circle cx="1868" cy="1453" r="13.8"/><circle cx="1729" cy="708" r="13.8"/><circle cx="1816" cy="1572" r="13.8"/><circle cx="1774" cy="834" r="13.8"/><circle cx="1711" cy="1204" r="13.8"/><circle cx="1793" cy="1281" r="13.8"/><circle cx="1729" cy="1359" r="13.8"/><circle cx="1708" cy="708" r="13.8"/><circle cx="1739" cy="678" r="13.8"/><circle cx="1726" cy="536" r="13.8"/><circle cx="1697" cy="819" r="13.8"/><circle cx="1673" cy="1171" r="13.8"/><circle cx="1730" cy="1171" r="13.8"/><circle cx="1777" cy="1083" r="13.8"/><circle cx="1728" cy="733" r="13.8"/><circle cx="1760" cy="541" r="13.8"/><circle cx="1723" cy="1280" r="13.8"/><circle cx="1660" cy="1055" r="13.8"/><circle cx="1776" cy="1555" r="13.8"/><circle cx="1686" cy="848" r="13.8"/><circle cx="1743" cy="1203" r="13.8"/><circle cx="1864" cy="1341" r="13.8"/><circle cx="1764" cy="1380" r="13.8"/><circle cx="1764" cy="549" r="13.8"/><circle cx="1762" cy="1402" r="13.8"/><circle cx="1750" cy="1480" r="13.8"/><circle cx="1793" cy="1355" r="13.8"/><circle cx="1777" cy="1127" r="13.8"/><circle cx="1713" cy="986" r="13.8"/><circle cx="1907" cy="1428" r="13.8"/><circle cx="1718" cy="670" r="13.8"/><circle cx="1866" cy="1319" r="13.8"/><circle cx="1707" cy="1337" r="13.8"/><circle cx="1722" cy="814" r="13.8"/><circle cx="1766" cy="1405" r="13.8"/><circle cx="1808" cy="1528" r="13.8"/><circle cx="1714" cy="695" r="13.8"/><circle cx="1699" cy="878" r="13.8"/><circle cx="1733" cy="1023" r="13.8"/><circle cx="1820" cy="1551" r="13.8"/><circle cx="1748" cy="1518" r="13.8"/><circle cx="1738" cy="1067" r="13.8"/><circle cx="1802" cy="1469" r="13.8"/><circle cx="1855" cy="1329" r="13.8"/><circle cx="1695" cy="1380" r="13.8"/><circle cx="1755" cy="789" r="13.8"/><circle cx="1875" cy="1460" r="13.8"/><circle cx="1836" cy="1342" r="13.8"/><circle cx="1756" cy="993" r="13.8"/><circle cx="1941" cy="1397" r="13.8"/><circle cx="1774" cy="1339" r="13.8"/><circle cx="1763" cy="1074" r="13.8"/><circle cx="1818" cy="1414" r="13.8"/><circle cx="1717" cy="1241" r="13.8"/><circle cx="1725" cy="727" r="13.8"/><circle cx="1716" cy="1095" r="13.8"/><circle cx="1747" cy="1043" r="13.8"/><circle cx="1817" cy="1568" r="13.8"/><circle cx="1714" cy="1323" r="13.8"/><circle cx="1858" cy="1548" r="13.8"/><circle cx="1694" cy="1009" r="13.8"/><circle cx="1759" cy="1390" r="13.8"/><circle cx="1863" cy="1343" r="13.8"/><circle cx="1779" cy="1145" r="13.8"/><circle cx="1867" cy="1309" r="13.8"/><circle cx="1820" cy="1499" r="13.8"/><circle cx="1687" cy="1246" r="13.8"/><circle cx="1813" cy="1398" r="13.8"/><circle cx="1704" cy="1325" r="13.8"/><circle cx="1737" cy="1531" r="13.8"/><circle cx="1703" cy="539" r="13.8"/><circle cx="1741" cy="1253" r="13.8"/><circle cx="1703" cy="1234" r="13.8"/><circle cx="1758" cy="463" r="13.8"/><circle cx="1771" cy="600" r="13.8"/><circle cx="1707" cy="1172" r="13.8"/><circle cx="1683" cy="1350" r="13.8"/><circle cx="1790" cy="1269" r="13.8"/><circle cx="1733" cy="451" r="13.8"/><circle cx="1930" cy="1432" r="13.8"/><circle cx="1854" cy="1499" r="13.8"/><circle cx="1718" cy="584" r="13.8"/><circle cx="1798" cy="1571" r="13.8"/><circle cx="1796" cy="1262" r="13.8"/><circle cx="1776" cy="1560" r="13.8"/><circle cx="1767" cy="998" r="13.8"/><circle cx="1710" cy="545" r="13.8"/><circle cx="1698" cy="922" r="13.8"/><circle cx="1721" cy="635" r="13.8"/><circle cx="1728" cy="1117" r="13.8"/><circle cx="1747" cy="1056" r="13.8"/><circle cx="1701" cy="907" r="13.8"/><circle cx="1750" cy="1490" r="13.8"/><circle cx="1864" cy="1373" r="13.8"/><circle cx="1732" cy="1484" r="13.8"/><circle cx="1751" cy="1141" r="13.8"/><circle cx="1698" cy="817" r="13.8"/><circle cx="1749" cy="670" r="13.8"/><circle cx="1715" cy="1466" r="13.8"/><circle cx="1853" cy="1523" r="13.8"/><circle cx="1826" cy="1364" r="13.8"/><circle cx="1856" cy="1271" r="13.8"/><circle cx="1748" cy="555" r="13.8"/><circle cx="1726" cy="1282" r="13.8"/><circle cx="1786" cy="1172" r="13.8"/><circle cx="1798" cy="1354" r="13.8"/><circle cx="1734" cy="1410" r="13.8"/><circle cx="1717" cy="1361" r="13.8"/><circle cx="1681" cy="898" r="13.8"/><circle cx="1732" cy="1064" r="13.8"/><circle cx="1891" cy="1466" r="13.8"/><circle cx="1698" cy="934" r="13.8"/><circle cx="1744" cy="1136" r="13.8"/><circle cx="1726" cy="1086" r="13.8"/><circle cx="1720" cy="1353" r="13.8"/><circle cx="1765" cy="1494" r="13.8"/><circle cx="1779" cy="1083" r="13.8"/><circle cx="1757" cy="603" r="13.8"/><circle cx="1696" cy="590" r="13.8"/><circle cx="1734" cy="811" r="13.8"/><circle cx="1766" cy="1177" r="13.8"/><circle cx="1806" cy="1512" r="13.8"/><circle cx="1738" cy="1262" r="13.8"/><circle cx="1860" cy="1455" r="13.8"/><circle cx="1933" cy="1300" r="13.8"/><circle cx="1698" cy="786" r="13.8"/><circle cx="1711" cy="549" r="13.8"/><circle cx="1686" cy="1308" r="13.8"/><circle cx="1800" cy="1466" r="13.8"/><circle cx="1868" cy="1424" r="13.8"/><circle cx="1796" cy="1295" r="13.8"/><circle cx="1831" cy="1164" r="13.8"/><circle cx="1678" cy="882" r="13.8"/><circle cx="1822" cy="1334" r="13.8"/><circle cx="1695" cy="1359" r="13.8"/><circle cx="1755" cy="1517" r="13.8"/><circle cx="1714" cy="551" r="13.8"/><circle cx="1896" cy="1307" r="13.8"/><circle cx="1944" cy="1331" r="13.8"/><circle cx="1741" cy="712" r="13.8"/><circle cx="1763" cy="647" r="13.8"/><circle cx="1719" cy="480" r="13.8"/><circle cx="1851" cy="1560" r="13.8"/><circle cx="1657" cy="982" r="13.8"/><circle cx="1741" cy="636" r="13.8"/><circle cx="1755" cy="1315" r="13.8"/><circle cx="1758" cy="1538" r="13.8"/><circle cx="1718" cy="1366" r="13.8"/><circle cx="1767" cy="1461" r="13.8"/><circle cx="1717" cy="461" r="13.8"/><circle cx="1784" cy="1463" r="13.8"/><circle cx="1838" cy="1310" r="13.8"/></g>
<g fill="#4575b4"><circle cx="1953" cy="929" r="13.8"/><circle cx="1961" cy="1141" r="13.8"/><circle cx="1855" cy="892" r="13.8"/><circle cx="1952" cy="1186" r="13.8"/><circle cx="1912" cy="1404" r="13.8"/><circle cx="1868" cy="907" r="13.8"/><circle cx="1910" cy="1107" r="13.8"/><circle cx="1926" cy="1087" r="13.8"/><circle cx="1878" cy="775" r="13.8"/><circle cx="1914" cy="883" r="13.8"/><circle cx="1882" cy="804" r="13.8"/><circle cx="1857" cy="696" r="13.8"/><circle cx="1951" cy="1271" r="13.8"/><circle cx="1885" cy="850" r="13.8"/><circle cx="1816" cy="606" r="13.8"/><circle cx="1874" cy="871" r="13.8"/><circle cx="1955" cy="936" r="13.8"/><circle cx="1829" cy="712" r="13.8"/><circle cx="1956" cy="968" r="13.8"/><circle cx="1951" cy="1309" r="13.8"/><circle cx="1822" cy="588" r="13.8"/><circle cx="1928" cy="919" r="13.8"/><circle cx="1889" cy="825" r="13.8"/><circle cx="1976" cy="1133" r="13.8"/><circle cx="1908" cy="893" r="13.8"/><circle cx="1856" cy="648" r="13.8"/><circle cx="1843" cy="647" r="13.8"/><circle cx="1827" cy="697" r="13.8"/><circle cx="1821" cy="686" r="13.8"/><circle cx="1918" cy="917" r="13.8"/><circle cx="1943" cy="1021" r="13.8"/><circle cx="1924" cy="1283" r="13.8"/><circle cx="1922" cy="799" r="13.8"/><circle cx="1919" cy="1119" r="13.8"/><circle cx="1877" cy="746" r="13.8"/><circle cx="1880" cy="868" r="13.8"/><circle cx="1897" cy="1381" r="13.8"/><circle cx="1977" cy="1169" r="13.8"/><circle cx="1959" cy="1149" r="13.8"/><circle cx="1944" cy="1256" r="13.8"/><circle cx="1896" cy="1446" r="13.8"/><circle cx="1860" cy="770" r="13.8"/><circle cx="1934" cy="1357" r="13.8"/><circle cx="1858" cy="930" r="13.8"/><circle cx="1830" cy="530" r="13.8"/><circle cx="1845" cy="662" r="13.8"/><circle cx="1921" cy="895" r="13.8"/><circle cx="1875" cy="844" r="13.8"/><circle cx="1941" cy="1009" r="13.8"/><circle cx="1892" cy="912" r="13.8"/><circle cx="1875" cy="823" r="13.8"/><circle cx="1933" cy="1363" r="13.8"/><circle cx="1957" cy="955" r="13.8"/><circle cx="1935" cy="871" r="13.8"/><circle cx="1846" cy="661" r="13.8"/><circle cx="1995" cy="1135" r="13.8"/><circle cx="1839" cy="613" r="13.8"/><circle cx="1909" cy="1303" r="13.8"/><circle cx="1904" cy="827" r="13.8"/><circle cx="1891" cy="1374" r="13.8"/><circle cx="1915" cy="832" r="13.8"/><circle cx="1917" cy="1406" r="13.8"/><circle cx="1988" cy="1135" r="13.8"/><circle cx="1924" cy="1427" r="13.8"/><circle cx="1834" cy="715" r="13.8"/><circle cx="1824" cy="485" r="13.8"/><circle cx="1969" cy="1004" r="13.8"/><circle cx="1874" cy="934" r="13.8"/><circle cx="1899" cy="1051" r="13.8"/><circle cx="1966" cy="1006" r="13.8"/><circle cx="1898" cy="1480" r="13.8"/><circle cx="1907" cy="877" r="13.8"/><circle cx="1933" cy="876" r="13.8"/><circle cx="1875" cy="830" r="13.8"/><circle cx="1960" cy="1112" r="13.8"/><circle cx="1904" cy="1394" r="13.8"/><circle cx="1941" cy="1133" r="13.8"/><circle cx="1899" cy="861" r="13.8"/><circle cx="1913" cy="1466" r="13.8"/><circle cx="1973" cy="1102" r="13.8"/><circle cx="1837" cy="514" r="13.8"/><circle cx="1905" cy="1414" r="13.8"/><circle cx="1791" cy="499" r="13.8"/><circle cx="1869" cy="814" r="13.8"/><circle cx="1816" cy="660" r="13.8"/><circle cx="1939" cy="976" r="13.8"/><circle cx="1893" cy="1276" r="13.8"/><circle cx="1905" cy="922" r="13.8"/><circle cx="1886" cy="766" r="13.8"/><circle cx="1869" cy="652" r="13.8"/><circle cx="1806" cy="574" r="13.8"/><circle cx="1823" cy="457" r="13.8"/><circle cx="1939" cy="1315" r="13.8"/><circle cx="1814" cy="445" r="13.8"/><circle cx="1854" cy="684" r="13.8"/><circle cx="1934" cy="890" r="13.8"/><circle cx="1842" cy="502" r="13.8"/><circle cx="1925" cy="967" r="13.8"/><circle cx="1848" cy="717" r="13.8"/><circle cx="1839" cy="749" r="13.8"/><circle cx="1910" cy="742" r="13.8"/><circle cx="1939" cy="840" r="13.8"/><circle cx="1857" cy="869" r="13.8"/><circle cx="1984" cy="1145" r="13.8"/><circle cx="1934" cy="1262" r="13.8"/><circle cx="1936" cy="1142" r="13.8"/><circle cx="1915" cy="1074" r="13.8"/><circle cx="2004" cy="991" r="13.8"/><circle cx="1850" cy="681" r="13.8"/><circle cx="1839" cy="727" r="13.8"/><circle cx="1831" cy="597" r="13.8"/><circle cx="1914" cy="973" r="13.8"/><circle cx="1935" cy="1170" r="13.8"/><circle cx="1945" cy="913" r="13.8"/><circle cx="1976" cy="1098" r="13.8"/><circle cx="1895" cy="1490" r="13.8"/><circle cx="1805" cy="740" r="13.8"/><circle cx="1855" cy="615" r="13.8"/><circle cx="1914" cy="1364" r="13.8"/><circle cx="1861" cy="593" r="13.8"/><circle cx="1902" cy="773" r="13.8"/><circle cx="1926" cy="1331" r="13.8"/><circle cx="1848" cy="735" r="13.8"/><circle cx="1907" cy="1368" r="13.8"/><circle cx="1858" cy="872" r="13.8"/><circle cx="1902" cy="891" r="13.8"/><circle cx="1823" cy="683" r="13.8"/><circle cx="1915" cy="768" r="13.8"/><circle cx="1903" cy="1458" r="13.8"/><circle cx="1815" cy="398" r="13.8"/><circle cx="1888" cy="659" r="13.8"/><circle cx="1821" cy="460" r="13.8"/><circle cx="1829" cy="754" r="13.8"/><circle cx="1938" cy="1270" r="13.8"/><circle cx="1943" cy="1027" r="13.8"/><circle cx="1943" cy="1052" r="13.8"/><circle cx="1916" cy="775" r="13.8"/><circle cx="1931" cy="980" r="13.8"/><circle cx="1917" cy="880" r="13.8"/><circle cx="1928" cy="1187" r="13.8"/><circle cx="1840" cy="543" r="13.8"/><circle cx="1913" cy="1369" r="13.8"/><circle cx="1961" cy="1028" r="13.8"/><circle cx="1922" cy="1280" r="13.8"/><circle cx="1928" cy="1107" r="13.8"/><circle cx="1934" cy="1096" r="13.8"/><circle cx="1887" cy="940" r="13.8"/><circle cx="1892" cy="1301" r="13.8"/><circle cx="1844" cy="861" r="13.8"/><circle cx="1901" cy="779" r="13.8"/><circle cx="1815" cy="500" r="13.8"/><circle cx="1895" cy="995" r="13.8"/><circle cx="1917" cy="1197" r="13.8"/><circle cx="1943" cy="966" r="13.8"/><circle cx="1814" cy="401" r="13.8"/><circle cx="1897" cy="828" r="13.8"/><circle cx="1814" cy="460" r="13.8"/><circle cx="1847" cy="540" r="13.8"/><circle cx="1858" cy="665" r="13.8"/><circle cx="1927" cy="1252" r="13.8"/><circle cx="1899" cy="1059" r="13.8"/><circle cx="1929" cy="1372" r="13.8"/><circle cx="1913" cy="1413" r="13.8"/><circle cx="1939" cy="1089" r="13.8"/><circle cx="1963" cy="1085" r="13.8"/><circle cx="1944" cy="1135" r="13.8"/><circle cx="1878" cy="694" r="13.8"/><circle cx="1890" cy="746" r="13.8"/><circle cx="1932" cy="890" r="13.8"/><circle cx="1951" cy="1063" r="13.8"/><circle cx="1924" cy="1344" r="13.8"/><circle cx="1915" cy="988" r="13.8"/><circle cx="1801" cy="491" r="13.8"/><circle cx="1878" cy="836" r="13.8"/><circle cx="1837" cy="525" r="13.8"/><circle cx="1966" cy="1036" r="13.8"/><circle cx="1917" cy="1104" r="13.8"/><circle cx="1910" cy="1436" r="13.8"/><circle cx="1955" cy="1123" r="13.8"/><circle cx="1941" cy="1057" r="13.8"/></g>
<g fill="#66c2a5"><circle cx="1765" cy="1311" r="13.8"/><circle cx="1733" cy="1040" r="13.8"/><circle cx="1700" cy="698" r="13.8"/><circle cx="1755" cy="643" r="13.8"/><circle cx="1753" cy="1494" r="13.8"/><circle cx="1809" cy="922" r="13.8"/><circle cx="1669" cy="890" r="13.8"/><circle cx="1892" cy="1476" r="13.8"/><circle cx="1823" cy="1547" r="13.8"/><circle cx="1796" cy="1274" r="13.8"/><circle cx="1750" cy="1032" r="13.8"/><circle cx="1766" cy="608" r="13.8"/><circle cx="1708" cy="918" r="13.8"/><circle cx="1762" cy="1167" r="13.8"/><circle cx="1731" cy="1310" r="13.8"/><circle cx="1757" cy="1210" r="13.8"/><circle cx="1703" cy="1205" r="13.8"/><circle cx="1692" cy="592" r="13.8"/><circle cx="1732" cy="1059" r="13.8"/><circle cx="1724" cy="1299" r="13.8"/><circle cx="1895" cy="1513" r="13.8"/><circle cx="1760" cy="659" r="13.8"/><circle cx="1730" cy="624" r="13.8"/><circle cx="1833" cy="1298" r="13.8"/><circle cx="1697" cy="906" r="13.8"/><circle cx="1735" cy="608" r="13.8"/><circle cx="1828" cy="1563" r="13.8"/><circle cx="1775" cy="1342" r="13.8"/><circle cx="1753" cy="1087" r="13.8"/><circle cx="1699" cy="576" r="13.8"/><circle cx="1721" cy="692" r="13.8"/><circle cx="1903" cy="1440" r="13.8"/><circle cx="1796" cy="1339" r="13.8"/><circle cx="1870" cy="1432" r="13.8"/><circle cx="1935" cy="1367" r="13.8"/><circle cx="1782" cy="1472" r="13.8"/><circle cx="1703" cy="703" r="13.8"/><circle cx="1766" cy="1417" r="13.8"/><circle cx="1714" cy="1395" r="13.8"/><circle cx="1742" cy="1096" r="13.8"/><circle cx="1776" cy="567" r="13.8"/><circle cx="1786" cy="1205" r="13.8"/><circle cx="1695" cy="851" r="13.8"/><circle cx="1750" cy="1503" r="13.8"/><circle cx="1810" cy="1233" r="13.8"/><circle cx="1715" cy="665" r="13.8"/><circle cx="1776" cy="1173" r="13.8"/><circle cx="1757" cy="1044" r="13.8"/><circle cx="1753" cy="571" r="13.8"/><circle cx="1766" cy="1179" r="13.8"/><circle cx="1725" cy="1339" r="13.8"/><circle cx="1867" cy="1371" r="13.8"/><circle cx="1768" cy="1389" r="13.8"/><circle cx="1862" cy="1364" r="13.8"/><circle cx="1757" cy="1435" r="13.8"/><circle cx="1759" cy="1244" r="13.8"/><circle cx="1737" cy="1167" r="13.8"/><circle cx="1766" cy="1557" r="13.8"/><circle cx="1797" cy="1157" r="13.8"/><circle cx="1841" cy="1325" r="13.8"/><circle cx="1721" cy="796" r="13.8"/><circle cx="1704" cy="943" r="13.8"/><circle cx="1760" cy="1282" r="13.8"/><circle cx="1732" cy="1194" r="13.8"/><circle cx="1660" cy="1176" r="13.8"/><circle cx="1763" cy="1100" r="13.8"/><circle cx="1790" cy="1165" r="13.8"/><circle cx="1757" cy="1357" r="13.8"/><circle cx="1747" cy="676" r="13.8"/><circle cx="1715" cy="912" r="13.8"/><circle cx="1721" cy="1218" r="13.8"/><circle cx="1730" cy="1033" r="13.8"/><circle cx="1728" cy="608" r="13.8"/><circle cx="1932" cy="1396" r="13.8"/><circle cx="1725" cy="871" r="13.8"/><circle cx="1762" cy="1171" r="13.8"/><circle cx="1767" cy="633" r="13.8"/><circle cx="1733" cy="1154" r="13.8"/><circle cx="1678" cy="1168" r="13.8"/><circle cx="1762" cy="1354" r="13.8"/><circle cx="1754" cy="1445" r="13.8"/><circle cx="1720" cy="489" r="13.8"/><circle cx="1734" cy="607" r="13.8"/><circle cx="1946" cy="1326" r="13.8"/><circle cx="1815" cy="1253" r="13.8"/><circle cx="1941" cy="1396" r="13.8"/><circle cx="1836" cy="1332" r="13.8"/><circle cx="1751" cy="521" r="13.8"/><circle cx="1817" cy="1488" r="13.8"/><circle cx="1779" cy="1480" r="13.8"/><circle cx="1737" cy="868" r="13.8"/><circle cx="1762" cy="1090" r="13.8"/><circle cx="1766" cy="1005" r="13.8"/><circle cx="1799" cy="1330" r="13.8"/><circle cx="1833" cy="1482" r="13.8"/><circle cx="1694" cy="597" r="13.8"/><circle cx="1696" cy="831" r="13.8"/><circle cx="1695" cy="884" r="13.8"/><circle cx="1760" cy="1403" r="13.8"/><circle cx="1702" cy="1432" r="13.8"/><circle cx="1763" cy="599" r="13.8"/><circle cx="1701" cy="885" r="13.8"/><circle cx="1749" cy="1468" r="13.8"/><circle cx="1713" cy="760" r="13.8"/><circle cx="1751" cy="702" r="13.8"/><circle cx="1798" cy="1578" r="13.8"/><circle cx="1770" cy="1193" r="13.8"/><circle cx="1763" cy="611" r="13.8"/><circle cx="1840" cy="1215" r="13.8"/><circle cx="1830" cy="1571" r="13.8"/><circle cx="1883" cy="1515" r="13.8"/><circle cx="1779" cy="1238" r="13.8"/><circle cx="1722" cy="1231" r="13.8"/><circle cx="1819" cy="1474" r="13.8"/><circle cx="1788" cy="1147" r="13.8"/><circle cx="1825" cy="1296" r="13.8"/><circle cx="1698" cy="729" r="13.8"/><circle cx="1721" cy="521" r="13.8"/><circle cx="1778" cy="1144" r="13.8"/><circle cx="1760" cy="1205" r="13.8"/><circle cx="1775" cy="1491" r="13.8"/><circle cx="1783" cy="1016" r="13.8"/><circle cx="1711" cy="1061" r="13.8"/><circle cx="1683" cy="1249" r="13.8"/><circle cx="1681" cy="817" r="13.8"/><circle cx="1710" cy="893" r="13.8"/><circle cx="1724" cy="770" r="13.8"/><circle cx="1734" cy="802" r="13.8"/><circle cx="1742" cy="768" r="13.8"/><circle cx="1725" cy="1093" r="13.8"/><circle cx="1751" cy="659" r="13.8"/><circle cx="1728" cy="642" r="13.8"/><circle cx="1735" cy="993" r="13.8"/><circle cx="1770" cy="587" r="13.8"/><circle cx="1871" cy="1328" r="13.8"/><circle cx="1759" cy="1147" r="13.8"/><circle cx="1868" cy="1332" r="13.8"/><circle cx="1736" cy="532" r="13.8"/><circle cx="1734" cy="1081" r="13.8"/><circle cx="1836" cy="1358" r="13.8"/><circle cx="1718" cy="453" r="13.8"/><circle cx="1858" cy="1451" r="13.8"/><circle cx="1773" cy="1302" r="13.8"/><circle cx="1734" cy="1385" r="13.8"/><circle cx="1737" cy="1038" r="13.8"/><circle cx="1774" cy="1407" r="13.8"/><circle cx="1763" cy="1153" r="13.8"/><circle cx="1660" cy="1040" r="13.8"/><circle cx="1740" cy="761" r="13.8"/><circle cx="1715" cy="1236" r="13.8"/><circle cx="1760" cy="975" r="13.8"/><circle cx="1738" cy="505" r="13.8"/><circle cx="1765" cy="1054" r="13.8"/><circle cx="1792" cy="1376" r="13.8"/><circle cx="1736" cy="981" r="13.8"/><circle cx="1939" cy="1296" r="13.8"/><circle cx="1753" cy="1264" r="13.8"/><circle cx="1787" cy="1021" r="13.8"/><circle cx="1694" cy="1217" r="13.8"/><circle cx="1925" cy="1456" r="13.8"/><circle cx="1788" cy="1151" r="13.8"/><circle cx="1794" cy="1166" r="13.8"/><circle cx="1846" cy="1332" r="13.8"/><circle cx="1701" cy="1458" r="13.8"/><circle cx="1705" cy="707" r="13.8"/><circle cx="1701" cy="1158" r="13.8"/><circle cx="1765" cy="624" r="13.8"/><circle cx="1805" cy="1493" r="13.8"/><circle cx="1786" cy="1506" r="13.8"/><circle cx="1717" cy="456" r="13.8"/><circle cx="1877" cy="1437" r="13.8"/><circle cx="1669" cy="971" r="13.8"/><circle cx="1799" cy="1490" r="13.8"/><circle cx="1710" cy="972" r="13.8"/><circle cx="1852" cy="1373" r="13.8"/><circle cx="1811" cy="1473" r="13.8"/><circle cx="1749" cy="1213" r="13.8"/><circle cx="1694" cy="1167" r="13.8"/><circle cx="1706" cy="1350" r="13.8"/><circle cx="1755" cy="1163" r="13.8"/><circle cx="1717" cy="593" r="13.8"/><circle cx="1719" cy="562" r="13.8"/><circle cx="1736" cy="1423" r="13.8"/><circle cx="1778" cy="1062" r="13.8"/><circle cx="1738" cy="1102" r="13.8"/><circle cx="1752" cy="1470" r="13.8"/><circle cx="1766" cy="1417" r="13.8"/><circle cx="1717" cy="1377" r="13.8"/><circle cx="1745" cy="535" r="13.8"/><circle cx="1696" cy="927" r="13.8"/><circle cx="1741" cy="858" r="13.8"/><circle cx="1704" cy="1266" r="13.8"/><circle cx="1751" cy="1493" r="13.8"/><circle cx="1723" cy="699" r="13.8"/><circle cx="1727" cy="631" r="13.8"/><circle cx="1723" cy="970" r="13.8"/><circle cx="1736" cy="491" r="13.8"/><circle cx="1820" cy="1453" r="13.8"/><circle cx="1751" cy="452" r="13.8"/><circle cx="1759" cy="510" r="13.8"/><circle cx="1749" cy="585" r="13.8"/><circle cx="1727" cy="906" r="13.8"/><circle cx="1688" cy="1248" r="13.8"/><circle cx="1790" cy="1512" r="13.8"/><circle cx="1738" cy="986" r="13.8"/><circle cx="1821" cy="1226" r="13.8"/><circle cx="1850" cy="1318" r="13.8"/><circle cx="1684" cy="991" r="13.8"/><circle cx="1741" cy="1238" r="13.8"/><circle cx="1741" cy="1521" r="13.8"/><circle cx="1916" cy="1415" r="13.8"/><circle cx="1842" cy="1547" r="13.8"/><circle cx="1809" cy="1235" r="13.8"/><circle cx="1787" cy="1321" r="13.8"/><circle cx="1786" cy="1091" r="13.8"/><circle cx="1694" cy="740" r="13.8"/><circle cx="1903" cy="1346" r="13.8"/><circle cx="1868" cy="1344" r="13.8"/><circle cx="1744" cy="993" r="13.8"/><circle cx="1733" cy="1183" r="13.8"/><circle cx="1765" cy="1449" r="13.8"/><circle cx="1733" cy="497" r="13.8"/><circle cx="1805" cy="1527" r="13.8"/><circle cx="1769" cy="1163" r="13.8"/><circle cx="1923" cy="1340" r="13.8"/><circle cx="1704" cy="1049" r="13.8"/><circle cx="1725" cy="784" r="13.8"/><circle cx="1708" cy="1112" r="13.8"/><circle cx="1808" cy="1388" r="13.8"/><circle cx="1736" cy="742" r="13.8"/><circle cx="1863" cy="1460" r="13.8"/><circle cx="1712" cy="695" r="13.8"/><circle cx="1719" cy="737" r="13.8"/><circle cx="1816" cy="1416" r="13.8"/><circle cx="1812" cy="1444" r="13.8"/><circle cx="1785" cy="1029" r="13.8"/><circle cx="1832" cy="1386" r="13.8"/><circle cx="1738" cy="1083" r="13.8"/><circle cx="1946" cy="1330" r="13.8"/><circle cx="1781" cy="1154" r="13.8"/><circle cx="1698" cy="1241" r="13.8"/><circle cx="1730" cy="1108" r="13.8"/><circle cx="1751" cy="1227" r="13.8"/><circle cx="1715" cy="971" r="13.8"/><circle cx="1751" cy="916" r="13.8"/><circle cx="1711" cy="1365" r="13.8"/><circle cx="1756" cy="1126" r="13.8"/><circle cx="1701" cy="1359" r="13.8"/><circle cx="1726" cy="1182" r="13.8"/><circle cx="1776" cy="1066" r="13.8"/><circle cx="1741" cy="1145" r="13.8"/><circle cx="1829" cy="1460" r="13.8"/><circle cx="1823" cy="1396" r="13.8"/><circle cx="1743" cy="1200" r="13.8"/><circle cx="1776" cy="1073" r="13.8"/><circle cx="1704" cy="790" r="13.8"/><circle cx="1757" cy="1503" r="13.8"/><circle cx="1872" cy="1468" r="13.8"/><circle cx="1777" cy="1198" r="13.8"/><circle cx="1809" cy="1317" r="13.8"/><circle cx="1711" cy="915" r="13.8"/><circle cx="1810" cy="1352" r="13.8"/><circle cx="1808" cy="1484" r="13.8"/><circle cx="1720" cy="1194" r="13.8"/><circle cx="1793" cy="1171" r="13.8"/><circle cx="1718" cy="440" r="13.8"/><circle cx="1715" cy="665" r="13.8"/><circle cx="1715" cy="1131" r="13.8"/><circle cx="1730" cy="664" r="13.8"/><circle cx="1668" cy="1074" r="13.8"/><circle cx="1763" cy="465" r="13.8"/><circle cx="1831" cy="1454" r="13.8"/><circle cx="1827" cy="1423" r="13.8"/><circle cx="1877" cy="1485" r="13.8"/><circle cx="1772" cy="563" r="13.8"/><circle cx="1701" cy="730" r="13.8"/><circle cx="1788" cy="1253" r="13.8"/><circle cx="1713" cy="1350" r="13.8"/><circle cx="1792" cy="1295" r="13.8"/><circle cx="1711" cy="610" r="13.8"/><circle cx="1665" cy="1042" r="13.8"/><circle cx="1714" cy="1209" r="13.8"/><circle cx="1741" cy="671" r="13.8"/><circle cx="1806" cy="1286" r="13.8"/><circle cx="1842" cy="1361" r="13.8"/><circle cx="1722" cy="1402" r="13.8"/><circle cx="1692" cy="867" r="13.8"/><circle cx="1722" cy="968" r="13.8"/><circle cx="1693" cy="889" r="13.8"/><circle cx="1777" cy="1296" r="13.8"/><circle cx="1748" cy="1470" r="13.8"/><circle cx="1724" cy="1524" r="13.8"/><circle cx="1720" cy="1290" r="13.8"/><circle cx="1850" cy="1277" r="13.8"/><circle cx="1820" cy="1383" r="13.8"/><circle cx="1795" cy="1177" r="13.8"/><circle cx="1820" cy="1504" r="13.8"/><circle cx="1776" cy="1228" r="13.8"/><circle cx="1748" cy="639" r="13.8"/><circle cx="1776" cy="1158" r="13.8"/><circle cx="1836" cy="1497" r="13.8"/><circle cx="1796" cy="1500" r="13.8"/><circle cx="1738" cy="463" r="13.8"/><circle cx="1827" cy="1451" r="13.8"/><circle cx="1759" cy="932" r="13.8"/><circle cx="1837" cy="1322" r="13.8"/><circle cx="1811" cy="1392" r="13.8"/><circle cx="1828" cy="1449" r="13.8"/><circle cx="1908" cy="1260" r="13.8"/><circle cx="1814" cy="1353" r="13.8"/></g>
<g fill="#3288bd"><circle cx="1715" cy="270" r="13.8"/><circle cx="1777" cy="299" r="13.8"/><circle cx="1786" cy="342" r="13.8"/><circle cx="1744" cy="491" r="13.8"/><circle cx="1735" cy="504" r="13.8"/><circle cx="1767" cy="282" r="13.8"/><circle cx="1759" cy="475" r="13.8"/><circle cx="1762" cy="500" r="13.8"/><circle cx="1791" cy="357" r="13.8"/><circle cx="1727" cy="482" r="13.8"/><circle cx="1793" cy="450" r="13.8"/><circle cx="1717" cy="195" r="13.8"/><circle cx="1762" cy="330" r="13.8"/><circle cx="1805" cy="401" r="13.8"/><circle cx="1719" cy="247" r="13.8"/><circle cx="1719" cy="318" r="13.8"/><circle cx="1779" cy="411" r="13.8"/><circle cx="1716" cy="197" r="13.8"/><circle cx="1752" cy="459" r="13.8"/><circle cx="1733" cy="407" r="13.8"/><circle cx="1754" cy="396" r="13.8"/><circle cx="1722" cy="341" r="13.8"/><circle cx="1755" cy="400" r="13.8"/><circle cx="1781" cy="513" r="13.8"/><circle cx="1748" cy="434" r="13.8"/><circle cx="1721" cy="387" r="13.8"/><circle cx="1782" cy="556" r="13.8"/><circle cx="1745" cy="332" r="13.8"/><circle cx="1719" cy="322" r="13.8"/><circle cx="1755" cy="348" r="13.8"/><circle cx="1731" cy="388" r="13.8"/><circle cx="1742" cy="368" r="13.8"/><circle cx="1765" cy="331" r="13.8"/><circle cx="1741" cy="481" r="13.8"/><circle cx="1713" cy="322" r="13.8"/><circle cx="1738" cy="490" r="13.8"/><circle cx="1752" cy="277" r="13.8"/><circle cx="1716" cy="328" r="13.8"/><circle cx="1794" cy="448" r="13.8"/><circle cx="1778" cy="265" r="13.8"/><circle cx="1771" cy="340" r="13.8"/><circle cx="1793" cy="463" r="13.8"/><circle cx="1732" cy="464" r="13.8"/><circle cx="1727" cy="457" r="13.8"/><circle cx="1658" cy="276" r="13.8"/><circle cx="1734" cy="440" r="13.8"/><circle cx="1760" cy="478" r="13.8"/><circle cx="1759" cy="424" r="13.8"/><circle cx="1731" cy="340" r="13.8"/><circle cx="1734" cy="369" r="13.8"/><circle cx="1758" cy="355" r="13.8"/><circle cx="1768" cy="431" r="13.8"/><circle cx="1772" cy="466" r="13.8"/><circle cx="1707" cy="268" r="13.8"/><circle cx="1780" cy="494" r="13.8"/><circle cx="1772" cy="333" r="13.8"/><circle cx="1715" cy="327" r="13.8"/><circle cx="1736" cy="448" r="13.8"/><circle cx="1786" cy="291" r="13.8"/><circle cx="1779" cy="412" r="13.8"/><circle cx="1764" cy="381" r="13.8"/><circle cx="1765" cy="533" r="13.8"/><circle cx="1710" cy="280" r="13.8"/><circle cx="1726" cy="422" r="13.8"/><circle cx="1742" cy="367" r="13.8"/><circle cx="1739" cy="315" r="13.8"/><circle cx="1715" cy="216" r="13.8"/><circle cx="1783" cy="382" r="13.8"/></g>
<g fill="#66c2a5"><circle cx="1852" cy="1505" r="13.8"/><circle cx="1708" cy="987" r="13.8"/><circle cx="1698" cy="520" r="13.8"/><circle cx="1759" cy="1179" r="13.8"/><circle cx="1721" cy="981" r="13.8"/><circle cx="1766" cy="1533" r="13.8"/><circle cx="1869" cy="1419" r="13.8"/><circle cx="1752" cy="1207" r="13.8"/><circle cx="1830" cy="1390" r="13.8"/><circle cx="1806" cy="1383" r="13.8"/><circle cx="1725" cy="453" r="13.8"/><circle cx="1739" cy="736" r="13.8"/><circle cx="1770" cy="1224" r="13.8"/><circle cx="1708" cy="1415" r="13.8"/><circle cx="1801" cy="1406" r="13.8"/><circle cx="1770" cy="1128" r="13.8"/><circle cx="1797" cy="1313" r="13.8"/><circle cx="1814" cy="1287" r="13.8"/><circle cx="1734" cy="772" r="13.8"/><circle cx="1826" cy="1444" r="13.8"/><circle cx="1725" cy="961" r="13.8"/><circle cx="1936" cy="1432" r="13.8"/><circle cx="1823" cy="1400" r="13.8"/><circle cx="1764" cy="1543" r="13.8"/><circle cx="1698" cy="991" r="13.8"/><circle cx="1711" cy="749" r="13.8"/><circle cx="1759" cy="1501" r="13.8"/><circle cx="1712" cy="854" r="13.8"/><circle cx="1763" cy="1326" r="13.8"/><circle cx="1739" cy="1386" r="13.8"/><circle cx="1733" cy="1223" r="13.8"/><circle cx="1700" cy="761" r="13.8"/><circle cx="1724" cy="1089" r="13.8"/><circle cx="1720" cy="974" r="13.8"/><circle cx="1733" cy="884" r="13.8"/><circle cx="1800" cy="1393" r="13.8"/><circle cx="1787" cy="1509" r="13.8"/><circle cx="1779" cy="1485" r="13.8"/><circle cx="1741" cy="896" r="13.8"/><circle cx="1866" cy="1368" r="13.8"/><circle cx="1741" cy="817" r="13.8"/><circle cx="1813" cy="1453" r="13.8"/><circle cx="1782" cy="1061" r="13.8"/><circle cx="1819" cy="1293" r="13.8"/><circle cx="1813" cy="1427" r="13.8"/><circle cx="1844" cy="1504" r="13.8"/><circle cx="1779" cy="1171" r="13.8"/><circle cx="1761" cy="1177" r="13.8"/><circle cx="1741" cy="762" r="13.8"/><circle cx="1707" cy="959" r="13.8"/><circle cx="1706" cy="645" r="13.8"/><circle cx="1734" cy="1274" r="13.8"/><circle cx="1776" cy="1147" r="13.8"/><circle cx="1866" cy="1452" r="13.8"/><circle cx="1719" cy="789" r="13.8"/><circle cx="1764" cy="1526" r="13.8"/><circle cx="1825" cy="1548" r="13.8"/><circle cx="1714" cy="609" r="13.8"/><circle cx="1903" cy="1255" r="13.8"/><circle cx="1782" cy="1447" r="13.8"/><circle cx="1731" cy="699" r="13.8"/><circle cx="1714" cy="1029" r="13.8"/><circle cx="1790" cy="1358" r="13.8"/><circle cx="1802" cy="1316" r="13.8"/><circle cx="1926" cy="1346" r="13.8"/><circle cx="1762" cy="1132" r="13.8"/><circle cx="1756" cy="1212" r="13.8"/><circle cx="1848" cy="1517" r="13.8"/><circle cx="1709" cy="781" r="13.8"/><circle cx="1856" cy="1547" r="13.8"/><circle cx="1740" cy="512" r="13.8"/><circle cx="1942" cy="1308" r="13.8"/><circle cx="1777" cy="1104" r="13.8"/><circle cx="1733" cy="1452" r="13.8"/><circle cx="1744" cy="662" r="13.8"/><circle cx="1703" cy="763" r="13.8"/><circle cx="1720" cy="1033" r="13.8"/><circle cx="1705" cy="1420" r="13.8"/><circle cx="1802" cy="1575" r="13.8"/><circle cx="1720" cy="823" r="13.8"/><circle cx="1722" cy="950" r="13.8"/><circle cx="1727" cy="715" r="13.8"/><circle cx="1738" cy="460" r="13.8"/><circle cx="1728" cy="575" r="13.8"/><circle cx="1727" cy="1086" r="13.8"/><circle cx="1768" cy="620" r="13.8"/><circle cx="1734" cy="651" r="13.8"/><circle cx="1740" cy="415" r="13.8"/><circle cx="1791" cy="1362" r="13.8"/><circle cx="1781" cy="1364" r="13.8"/><circle cx="1763" cy="1233" r="13.8"/><circle cx="1782" cy="1173" r="13.8"/><circle cx="1708" cy="1375" r="13.8"/><circle cx="1778" cy="1083" r="13.8"/><circle cx="1708" cy="715" r="13.8"/><circle cx="1845" cy="1531" r="13.8"/><circle cx="1896" cy="1480" r="13.8"/><circle cx="1791" cy="1513" r="13.8"/><circle cx="1683" cy="1240" r="13.8"/><circle cx="1746" cy="1075" r="13.8"/><circle cx="1700" cy="1327" r="13.8"/><circle cx="1807" cy="1267" r="13.8"/><circle cx="1764" cy="1013" r="13.8"/><circle cx="1746" cy="938" r="13.8"/><circle cx="1728" cy="994" r="13.8"/><circle cx="1725" cy="368" r="13.8"/><circle cx="1784" cy="1227" r="13.8"/><circle cx="1724" cy="544" r="13.8"/><circle cx="1731" cy="784" r="13.8"/><circle cx="1868" cy="1389" r="13.8"/><circle cx="1730" cy="655" r="13.8"/><circle cx="1696" cy="603" r="13.8"/><circle cx="1854" cy="1517" r="13.8"/><circle cx="1740" cy="1202" r="13.8"/><circle cx="1811" cy="1285" r="13.8"/><circle cx="1705" cy="1462" r="13.8"/><circle cx="1802" cy="1450" r="13.8"/><circle cx="1722" cy="1157" r="13.8"/><circle cx="1706" cy="840" r="13.8"/><circle cx="1775" cy="1132" r="13.8"/><circle cx="1785" cy="1209" r="13.8"/><circle cx="1726" cy="803" r="13.8"/><circle cx="1720" cy="763" r="13.8"/><circle cx="1714" cy="830" r="13.8"/><circle cx="1808" cy="1289" r="13.8"/><circle cx="1713" cy="969" r="13.8"/><circle cx="1688" cy="1073" r="13.8"/><circle cx="1712" cy="692" r="13.8"/><circle cx="1742" cy="801" r="13.8"/><circle cx="1791" cy="1303" r="13.8"/><circle cx="1720" cy="530" r="13.8"/><circle cx="1696" cy="1318" r="13.8"/><circle cx="1745" cy="1520" r="13.8"/><circle cx="1744" cy="689" r="13.8"/><circle cx="1724" cy="832" r="13.8"/><circle cx="1786" cy="1481" r="13.8"/><circle cx="1792" cy="1525" r="13.8"/><circle cx="1811" cy="1512" r="13.8"/><circle cx="1725" cy="865" r="13.8"/><circle cx="1935" cy="1332" r="13.8"/><circle cx="1753" cy="1385" r="13.8"/><circle cx="1766" cy="472" r="13.8"/><circle cx="1824" cy="1304" r="13.8"/><circle cx="1761" cy="1356" r="13.8"/><circle cx="1730" cy="622" r="13.8"/><circle cx="1718" cy="1312" r="13.8"/><circle cx="1802" cy="1361" r="13.8"/><circle cx="1821" cy="1424" r="13.8"/><circle cx="1782" cy="1226" r="13.8"/><circle cx="1712" cy="849" r="13.8"/><circle cx="1699" cy="1194" r="13.8"/><circle cx="1747" cy="1412" r="13.8"/><circle cx="1733" cy="513" r="13.8"/><circle cx="1869" cy="1449" r="13.8"/><circle cx="1793" cy="1202" r="13.8"/><circle cx="1714" cy="1037" r="13.8"/><circle cx="1742" cy="726" r="13.8"/><circle cx="1716" cy="1245" r="13.8"/><circle cx="1778" cy="1379" r="13.8"/><circle cx="1779" cy="1137" r="13.8"/><circle cx="1754" cy="1429" r="13.8"/><circle cx="1750" cy="1169" r="13.8"/><circle cx="1751" cy="711" r="13.8"/><circle cx="1696" cy="1219" r="13.8"/><circle cx="1742" cy="965" r="13.8"/><circle cx="1708" cy="1118" r="13.8"/><circle cx="1737" cy="801" r="13.8"/><circle cx="1721" cy="1019" r="13.8"/><circle cx="1721" cy="596" r="13.8"/><circle cx="1789" cy="1261" r="13.8"/><circle cx="1712" cy="1247" r="13.8"/><circle cx="1737" cy="1165" r="13.8"/><circle cx="1860" cy="1506" r="13.8"/><circle cx="1737" cy="691" r="13.8"/><circle cx="1673" cy="913" r="13.8"/><circle cx="1717" cy="862" r="13.8"/><circle cx="1863" cy="1291" r="13.8"/><circle cx="1685" cy="989" r="13.8"/><circle cx="1735" cy="948" r="13.8"/><circle cx="1745" cy="1192" r="13.8"/><circle cx="1744" cy="831" r="13.8"/><circle cx="1832" cy="1258" r="13.8"/><circle cx="1736" cy="318" r="13.8"/><circle cx="1769" cy="624" r="13.8"/><circle cx="1891" cy="1134" r="13.8"/><circle cx="1686" cy="867" r="13.8"/><circle cx="1739" cy="1003" r="13.8"/><circle cx="1705" cy="1199" r="13.8"/><circle cx="1854" cy="1533" r="13.8"/><circle cx="1708" cy="1364" r="13.8"/><circle cx="1705" cy="1288" r="13.8"/><circle cx="1732" cy="1371" r="13.8"/><circle cx="1741" cy="1135" r="13.8"/><circle cx="1710" cy="438" r="13.8"/><circle cx="1720" cy="1103" r="13.8"/><circle cx="1820" cy="1568" r="13.8"/><circle cx="1829" cy="1367" r="13.8"/><circle cx="1733" cy="462" r="13.8"/><circle cx="1712" cy="1095" r="13.8"/><circle cx="1715" cy="741" r="13.8"/><circle cx="1901" cy="1482" r="13.8"/><circle cx="1724" cy="738" r="13.8"/><circle cx="1757" cy="847" r="13.8"/><circle cx="1845" cy="1513" r="13.8"/><circle cx="1936" cy="1316" r="13.8"/><circle cx="1726" cy="1081" r="13.8"/><circle cx="1761" cy="547" r="13.8"/><circle cx="1761" cy="707" r="13.8"/><circle cx="1719" cy="767" r="13.8"/><circle cx="1745" cy="818" r="13.8"/><circle cx="1739" cy="787" r="13.8"/><circle cx="1776" cy="1279" r="13.8"/><circle cx="1815" cy="1521" r="13.8"/><circle cx="1716" cy="1300" r="13.8"/><circle cx="1697" cy="896" r="13.8"/><circle cx="1858" cy="1409" r="13.8"/><circle cx="1859" cy="1339" r="13.8"/><circle cx="1816" cy="1443" r="13.8"/><circle cx="1759" cy="1425" r="13.8"/><circle cx="1929" cy="1332" r="13.8"/><circle cx="1742" cy="1071" r="13.8"/><circle cx="1788" cy="1231" r="13.8"/><circle cx="1902" cy="1349" r="13.8"/><circle cx="1828" cy="1284" r="13.8"/><circle cx="1774" cy="1192" r="13.8"/><circle cx="1694" cy="909" r="13.8"/><circle cx="1711" cy="1004" r="13.8"/><circle cx="1739" cy="1303" r="13.8"/><circle cx="1932" cy="1401" r="13.8"/><circle cx="1762" cy="462" r="13.8"/><circle cx="1692" cy="1305" r="13.8"/><circle cx="1720" cy="627" r="13.8"/><circle cx="1768" cy="1013" r="13.8"/><circle cx="1843" cy="1286" r="13.8"/><circle cx="1759" cy="1350" r="13.8"/><circle cx="1767" cy="980" r="13.8"/><circle cx="1717" cy="1260" r="13.8"/><circle cx="1726" cy="1004" r="13.8"/><circle cx="1783" cy="1193" r="13.8"/><circle cx="1691" cy="1249" r="13.8"/><circle cx="1738" cy="1122" r="13.8"/><circle cx="1744" cy="882" r="13.8"/><circle cx="1785" cy="1420" r="13.8"/><circle cx="1752" cy="1255" r="13.8"/><circle cx="1790" cy="1488" r="13.8"/><circle cx="1733" cy="468" r="13.8"/><circle cx="1743" cy="1331" r="13.8"/><circle cx="1729" cy="1456" r="13.8"/><circle cx="1795" cy="1505" r="13.8"/><circle cx="1735" cy="348" r="13.8"/><circle cx="1752" cy="726" r="13.8"/><circle cx="1766" cy="1411" r="13.8"/><circle cx="1780" cy="1104" r="13.8"/><circle cx="1702" cy="906" r="13.8"/><circle cx="1741" cy="1301" r="13.8"/><circle cx="1739" cy="647" r="13.8"/><circle cx="1773" cy="1546" r="13.8"/><circle cx="1768" cy="1544" r="13.8"/><circle cx="1718" cy="1363" r="13.8"/><circle cx="1850" cy="1435" r="13.8"/><circle cx="1756" cy="1266" r="13.8"/><circle cx="1788" cy="1470" r="13.8"/><circle cx="1728" cy="739" r="13.8"/><circle cx="1812" cy="1460" r="13.8"/><circle cx="1757" cy="1393" r="13.8"/><circle cx="1699" cy="1216" r="13.8"/><circle cx="1762" cy="469" r="13.8"/><circle cx="1753" cy="725" r="13.8"/><circle cx="1703" cy="1366" r="13.8"/><circle cx="1713" cy="1333" r="13.8"/><circle cx="1769" cy="1361" r="13.8"/><circle cx="1844" cy="1493" r="13.8"/><circle cx="1918" cy="1306" r="13.8"/><circle cx="1846" cy="1131" r="13.8"/><circle cx="1730" cy="1345" r="13.8"/><circle cx="1824" cy="1527" r="13.8"/><circle cx="1750" cy="561" r="13.8"/><circle cx="1767" cy="1238" r="13.8"/><circle cx="1854" cy="1426" r="13.8"/><circle cx="1775" cy="1439" r="13.8"/><circle cx="1691" cy="1430" r="13.8"/><circle cx="1735" cy="1194" r="13.8"/><circle cx="1747" cy="1083" r="13.8"/><circle cx="1728" cy="1075" r="13.8"/><circle cx="1840" cy="1539" r="13.8"/><circle cx="1684" cy="1086" r="13.8"/><circle cx="1695" cy="1176" r="13.8"/><circle cx="1878" cy="1503" r="13.8"/><circle cx="1711" cy="595" r="13.8"/><circle cx="1765" cy="1426" r="13.8"/><circle cx="1738" cy="695" r="13.8"/><circle cx="1674" cy="1097" r="13.8"/><circle cx="1752" cy="1367" r="13.8"/><circle cx="1676" cy="1107" r="13.8"/><circle cx="1756" cy="572" r="13.8"/><circle cx="1855" cy="1496" r="13.8"/><circle cx="1702" cy="622" r="13.8"/><circle cx="1698" cy="736" r="13.8"/><circle cx="1705" cy="1433" r="13.8"/><circle cx="1797" cy="1468" r="13.8"/><circle cx="1688" cy="859" r="13.8"/><circle cx="1758" cy="1522" r="13.8"/><circle cx="1713" cy="982" r="13.8"/><circle cx="1826" cy="1301" r="13.8"/><circle cx="1721" cy="927" r="13.8"/><circle cx="1742" cy="1217" r="13.8"/><circle cx="1823" cy="1275" r="13.8"/><circle cx="1671" cy="1034" r="13.8"/><circle cx="1734" cy="730" r="13.8"/><circle cx="1882" cy="1491" r="13.8"/><circle cx="1752" cy="1106" r="13.8"/><circle cx="1736" cy="1186" r="13.8"/></g>
<g fill="#3288bd"><circle cx="1767" cy="297" r="13.8"/><circle cx="1737" cy="396" r="13.8"/><circle cx="1790" cy="523" r="13.8"/><circle cx="1682" cy="242" r="13.8"/><circle cx="1764" cy="468" r="13.8"/><circle cx="1769" cy="351" r="13.8"/><circle cx="1774" cy="358" r="13.8"/><circle cx="1752" cy="435" r="13.8"/><circle cx="1776" cy="537" r="13.8"/><circle cx="1717" cy="405" r="13.8"/><circle cx="1806" cy="408" r="13.8"/><circle cx="1723" cy="464" r="13.8"/><circle cx="1744" cy="405" r="13.8"/><circle cx="1756" cy="502" r="13.8"/><circle cx="1732" cy="410" r="13.8"/><circle cx="1747" cy="338" r="13.8"/><circle cx="1713" cy="474" r="13.8"/><circle cx="1767" cy="329" r="13.8"/><circle cx="1763" cy="334" r="13.8"/><circle cx="1708" cy="282" r="13.8"/><circle cx="1767" cy="439" r="13.8"/><circle cx="1786" cy="358" r="13.8"/><circle cx="1733" cy="456" r="13.8"/><circle cx="1785" cy="566" r="13.8"/><circle cx="1787" cy="403" r="13.8"/><circle cx="1796" cy="402" r="13.8"/><circle cx="1727" cy="406" r="13.8"/><circle cx="1718" cy="227" r="13.8"/><circle cx="1780" cy="438" r="13.8"/><circle cx="1785" cy="465" r="13.8"/><circle cx="1793" cy="401" r="13.8"/><circle cx="1732" cy="337" r="13.8"/><circle cx="1781" cy="397" r="13.8"/><circle cx="1783" cy="565" r="13.8"/><circle cx="1768" cy="513" r="13.8"/><circle cx="1757" cy="459" r="13.8"/><circle cx="1716" cy="270" r="13.8"/><circle cx="1791" cy="365" r="13.8"/><circle cx="1759" cy="427" r="13.8"/><circle cx="1781" cy="353" r="13.8"/><circle cx="1744" cy="310" r="13.8"/><circle cx="1738" cy="442" r="13.8"/><circle cx="1761" cy="279" r="13.8"/><circle cx="1712" cy="271" r="13.8"/><circle cx="1740" cy="350" r="13.8"/><circle cx="1721" cy="284" r="13.8"/><circle cx="1750" cy="523" r="13.8"/><circle cx="1741" cy="440" r="13.8"/><circle cx="1718" cy="204" r="13.8"/><circle cx="1783" cy="546" r="13.8"/><circle cx="1743" cy="520" r="13.8"/><circle cx="1789" cy="512" r="13.8"/><circle cx="1736" cy="499" r="13.8"/><circle cx="1715" cy="216" r="13.8"/><circle cx="1750" cy="280" r="13.8"/><circle cx="1753" cy="339" r="13.8"/><circle cx="1717" cy="325" r="13.8"/><circle cx="1783" cy="414" r="13.8"/><circle cx="1749" cy="458" r="13.8"/><circle cx="1716" cy="262" r="13.8"/><circle cx="1719" cy="206" r="13.8"/><circle cx="1744" cy="520" r="13.8"/><circle cx="1727" cy="455" r="13.8"/><circle cx="1757" cy="315" r="13.8"/><circle cx="1737" cy="382" r="13.8"/><circle cx="1773" cy="224" r="13.8"/><circle cx="1741" cy="454" r="13.8"/><circle cx="1752" cy="318" r="13.8"/><circle cx="1736" cy="371" r="13.8"/><circle cx="1751" cy="514" r="13.8"/><circle cx="1749" cy="363" r="13.8"/><circle cx="1720" cy="442" r="13.8"/></g>
<g fill="#4575b4"><circle cx="1879" cy="851" r="13.8"/><circle cx="1900" cy="725" r="13.8"/><circle cx="1826" cy="569" r="13.8"/><circle cx="1856" cy="824" r="13.8"/><circle cx="1827" cy="699" r="13.8"/><circle cx="1936" cy="1070" r="13.8"/><circle cx="1937" cy="1189" r="13.8"/><circle cx="1925" cy="1379" r="13.8"/><circle cx="1870" cy="838" r="13.8"/><circle cx="1943" cy="1372" r="13.8"/><circle cx="1856" cy="665" r="13.8"/><circle cx="1820" cy="464" r="13.8"/><circle cx="1905" cy="1001" r="13.8"/><circle cx="1916" cy="937" r="13.8"/><circle cx="1978" cy="1094" r="13.8"/><circle cx="1920" cy="829" r="13.8"/><circle cx="1935" cy="995" r="13.8"/><circle cx="1857" cy="927" r="13.8"/><circle cx="1952" cy="1109" r="13.8"/><circle cx="1810" cy="460" r="13.8"/><circle cx="1924" cy="780" r="13.8"/><circle cx="1830" cy="512" r="13.8"/><circle cx="1801" cy="582" r="13.8"/><circle cx="1891" cy="808" r="13.8"/><circle cx="1913" cy="1181" r="13.8"/><circle cx="1922" cy="1176" r="13.8"/><circle cx="1829" cy="773" r="13.8"/><circle cx="1944" cy="1334" r="13.8"/><circle cx="1925" cy="1085" r="13.8"/><circle cx="1819" cy="799" r="13.8"/><circle cx="1963" cy="932" r="13.8"/><circle cx="1944" cy="1259" r="13.8"/><circle cx="1919" cy="1294" r="13.8"/><circle cx="1905" cy="723" r="13.8"/><circle cx="1934" cy="847" r="13.8"/><circle cx="1830" cy="497" r="13.8"/><circle cx="1937" cy="1182" r="13.8"/><circle cx="1928" cy="846" r="13.8"/><circle cx="1806" cy="366" r="13.8"/><circle cx="1916" cy="1256" r="13.8"/><circle cx="1934" cy="1034" r="13.8"/><circle cx="1943" cy="1295" r="13.8"/><circle cx="1930" cy="1316" r="13.8"/><circle cx="1887" cy="953" r="13.8"/><circle cx="1912" cy="1127" r="13.8"/><circle cx="1947" cy="1152" r="13.8"/><circle cx="1920" cy="1370" r="13.8"/><circle cx="1855" cy="934" r="13.8"/><circle cx="1927" cy="835" r="13.8"/><circle cx="1897" cy="1050" r="13.8"/><circle cx="1871" cy="808" r="13.8"/><circle cx="1956" cy="1195" r="13.8"/><circle cx="1802" cy="470" r="13.8"/><circle cx="1829" cy="604" r="13.8"/><circle cx="1944" cy="1292" r="13.8"/><circle cx="1919" cy="1064" r="13.8"/><circle cx="1877" cy="887" r="13.8"/><circle cx="1918" cy="787" r="13.8"/><circle cx="1891" cy="1072" r="13.8"/><circle cx="1815" cy="504" r="13.8"/><circle cx="1905" cy="883" r="13.8"/><circle cx="1898" cy="778" r="13.8"/><circle cx="1934" cy="812" r="13.8"/><circle cx="1821" cy="537" r="13.8"/><circle cx="1932" cy="1423" r="13.8"/><circle cx="1855" cy="613" r="13.8"/><circle cx="1907" cy="955" r="13.8"/><circle cx="1958" cy="1000" r="13.8"/><circle cx="1817" cy="628" r="13.8"/><circle cx="1918" cy="910" r="13.8"/><circle cx="1940" cy="978" r="13.8"/><circle cx="1857" cy="693" r="13.8"/><circle cx="1910" cy="1452" r="13.8"/><circle cx="1875" cy="773" r="13.8"/><circle cx="1865" cy="937" r="13.8"/><circle cx="1940" cy="1290" r="13.8"/><circle cx="1908" cy="930" r="13.8"/><circle cx="1888" cy="897" r="13.8"/><circle cx="1892" cy="716" r="13.8"/><circle cx="1937" cy="1064" r="13.8"/><circle cx="1951" cy="1304" r="13.8"/><circle cx="1801" cy="432" r="13.8"/><circle cx="1950" cy="1346" r="13.8"/><circle cx="1829" cy="550" r="13.8"/><circle cx="1930" cy="1238" r="13.8"/><circle cx="1901" cy="991" r="13.8"/><circle cx="1930" cy="1188" r="13.8"/><circle cx="1942" cy="808" r="13.8"/><circle cx="1977" cy="1158" r="13.8"/><circle cx="1899" cy="877" r="13.8"/><circle cx="1902" cy="1350" r="13.8"/><circle cx="1950" cy="1070" r="13.8"/><circle cx="1942" cy="1306" r="13.8"/><circle cx="1920" cy="1140" r="13.8"/><circle cx="1877" cy="797" r="13.8"/><circle cx="1837" cy="774" r="13.8"/><circle cx="1847" cy="683" r="13.8"/><circle cx="1898" cy="1034" r="13.8"/><circle cx="1855" cy="887" r="13.8"/><circle cx="1915" cy="962" r="13.8"/><circle cx="1918" cy="1439" r="13.8"/><circle cx="1901" cy="1062" r="13.8"/><circle cx="1898" cy="787" r="13.8"/><circle cx="1953" cy="966" r="13.8"/><circle cx="1984" cy="1164" r="13.8"/><circle cx="1928" cy="1343" r="13.8"/><circle cx="1832" cy="650" r="13.8"/><circle cx="1792" cy="509" r="13.8"/><circle cx="1969" cy="1012" r="13.8"/><circle cx="1968" cy="987" r="13.8"/><circle cx="1929" cy="1084" r="13.8"/><circle cx="1839" cy="788" r="13.8"/><circle cx="1837" cy="594" r="13.8"/><circle cx="1840" cy="511" r="13.8"/><circle cx="1894" cy="961" r="13.8"/><circle cx="1948" cy="1273" r="13.8"/><circle cx="1907" cy="1151" r="13.8"/><circle cx="1911" cy="1261" r="13.8"/><circle cx="1847" cy="602" r="13.8"/><circle cx="1938" cy="944" r="13.8"/><circle cx="1824" cy="519" r="13.8"/><circle cx="1962" cy="1235" r="13.8"/><circle cx="1923" cy="1211" r="13.8"/><circle cx="1914" cy="1400" r="13.8"/><circle cx="1959" cy="1224" r="13.8"/><circle cx="1892" cy="1337" r="13.8"/><circle cx="1843" cy="701" r="13.8"/><circle cx="1827" cy="665" r="13.8"/><circle cx="1911" cy="1362" r="13.8"/><circle cx="1874" cy="828" r="13.8"/><circle cx="1826" cy="495" r="13.8"/><circle cx="1909" cy="1245" r="13.8"/><circle cx="1808" cy="526" r="13.8"/><circle cx="1843" cy="597" r="13.8"/><circle cx="1934" cy="1344" r="13.8"/><circle cx="1941" cy="1030" r="13.8"/><circle cx="1873" cy="891" r="13.8"/><circle cx="1904" cy="975" r="13.8"/><circle cx="1898" cy="860" r="13.8"/><circle cx="1804" cy="490" r="13.8"/><circle cx="1820" cy="487" r="13.8"/><circle cx="1802" cy="434" r="13.8"/><circle cx="1864" cy="648" r="13.8"/><circle cx="1845" cy="619" r="13.8"/><circle cx="1972" cy="1101" r="13.8"/><circle cx="1967" cy="1281" r="13.8"/><circle cx="1948" cy="1091" r="13.8"/><circle cx="1881" cy="863" r="13.8"/><circle cx="1917" cy="1184" r="13.8"/><circle cx="1959" cy="998" r="13.8"/><circle cx="1967" cy="1004" r="13.8"/><circle cx="1825" cy="464" r="13.8"/><circle cx="1833" cy="616" r="13.8"/><circle cx="1939" cy="1258" r="13.8"/><circle cx="1899" cy="943" r="13.8"/><circle cx="1901" cy="1295" r="13.8"/><circle cx="1933" cy="1372" r="13.8"/><circle cx="1830" cy="795" r="13.8"/><circle cx="1949" cy="1356" r="13.8"/><circle cx="1907" cy="1466" r="13.8"/><circle cx="1899" cy="819" r="13.8"/><circle cx="1883" cy="707" r="13.8"/><circle cx="1825" cy="630" r="13.8"/><circle cx="1915" cy="1020" r="13.8"/><circle cx="1907" cy="963" r="13.8"/><circle cx="1842" cy="593" r="13.8"/><circle cx="1827" cy="780" r="13.8"/><circle cx="1908" cy="733" r="13.8"/><circle cx="1891" cy="748" r="13.8"/><circle cx="1845" cy="620" r="13.8"/><circle cx="1804" cy="536" r="13.8"/><circle cx="1876" cy="768" r="13.8"/><circle cx="1874" cy="928" r="13.8"/><circle cx="1893" cy="845" r="13.8"/></g>
</g>
<g class="ln">
<path d="M343.5,414.7 344.0,411.7 344.4,408.7 344.9,405.6 345.4,402.6 345.9,399.5 346.3,396.5 346.8,393.4 347.3,390.4 347.8,387.4 348.3,384.4 348.8,381.4 349.3,378.5 349.8,375.7 350.4,372.9 351.0,370.2 351.7,366.9 352.5,363.6 353.3,360.4 354.1,357.3 355.0,354.2 355.9,351.2 356.7,348.2 357.6,345.3 358.5,342.4 359.3,339.5 360.1,336.8 360.9,334.0 361.8,330.9 362.7,328.0 363.5,325.3 364.2,322.6 365.0,320.0 365.8,317.4 366.6,314.7 367.5,311.8 368.5,308.7 369.6,305.3 370.4,302.6 371.2,299.8 372.1,296.9 373.0,293.9 374.0,290.8 374.9,287.6 375.9,284.4 376.9,281.2 377.9,277.9 379.0,274.8 380.0,271.6 381.1,268.6 382.2,265.6 383.3,262.8 384.5,259.9 385.7,256.9 387.0,254.0 388.3,251.1 389.6,248.3 390.9,245.5 392.3,242.8 393.7,240.2 395.0,237.6 396.4,235.0 397.8,232.6 399.2,230.2 400.6,227.9 402.4,225.1 404.3,222.4 406.1,219.9 408.0,217.6 409.9,215.3 411.9,213.1 413.8,210.9 415.7,208.6 417.7,206.4 419.6,204.0 418.9,203.5 417.0,205.8 415.0,208.0 413.0,210.2 411.1,212.4 409.1,214.5 407.1,216.8 405.2,219.2 403.2,221.6 401.3,224.3 399.4,227.1 398.0,229.4 396.5,231.8 395.1,234.3 393.7,236.8 392.3,239.4 390.9,242.1 389.5,244.8 388.2,247.6 386.8,250.5 385.5,253.3 384.2,256.3 382.9,259.2 381.7,262.2 380.6,265.0 379.5,268.0 378.4,271.1 377.3,274.2 376.3,277.4 375.3,280.7 374.3,283.9 373.3,287.1 372.3,290.3 371.4,293.4 370.5,296.4 369.6,299.3 368.8,302.1 367.9,304.7 366.9,308.1 365.9,311.2 364.9,314.1 364.1,316.9 363.3,319.5 362.5,322.1 361.7,324.7 360.8,327.5 360.0,330.4 359.1,333.5 358.3,336.2 357.4,339.0 356.6,341.8 355.7,344.7 354.9,347.6 354.0,350.6 353.1,353.7 352.3,356.8 351.4,359.9 350.6,363.2 349.8,366.4 349.0,369.8 348.5,372.5 347.9,375.3 347.4,378.2 346.9,381.1 346.4,384.1 345.9,387.0 345.4,390.1 344.9,393.1 344.4,396.2 343.9,399.2 343.5,402.3 343.0,405.3 342.5,408.3 342.0,411.4 341.5,414.3Z"/>
<path d="M443.6,190.0 442.4,192.8 441.1,195.6 439.8,198.3 438.5,201.0 437.3,203.7 436.0,206.5 434.7,209.3 433.5,212.3 432.2,215.4 431.0,218.8 429.8,222.4 429.0,224.9 428.1,227.6 427.3,230.3 426.5,233.2 425.7,236.1 424.9,239.2 424.1,242.2 423.3,245.3 422.5,248.5 421.7,251.6 420.9,254.8 420.2,257.9 419.5,260.9 418.8,263.9 418.1,266.8 417.4,269.6 416.8,272.3 416.0,275.7 415.4,279.0 414.7,282.1 414.2,285.1 413.6,288.0 413.1,290.9 412.6,293.8 412.0,296.7 411.5,299.6 411.0,302.6 410.4,305.7 409.8,309.0 409.2,312.3 408.6,315.2 408.0,318.2 407.4,321.3 406.7,324.4 406.1,327.6 405.4,330.9 404.7,334.2 404.0,337.5 403.3,340.8 402.7,344.0 402.0,347.3 401.4,350.5 400.7,353.6 400.1,356.6 399.6,359.5 399.0,362.3 398.3,365.9 397.7,369.3 397.1,372.6 396.5,375.7 395.9,378.8 395.4,381.8 394.8,384.8 394.3,387.8 393.8,390.7 393.3,393.7 392.8,396.7 392.3,399.8 391.8,402.9 391.3,406.1 390.9,409.3 390.4,412.5 389.9,415.7 389.5,418.9 389.0,422.0 388.6,425.2 388.2,428.3 387.8,431.3 387.4,434.4 387.1,437.3 386.7,440.8 386.4,444.2 386.1,447.6 385.9,450.9 385.6,454.1 385.4,457.3 385.2,460.5 384.9,463.6 384.7,466.7 384.3,469.8 384.0,472.9 383.7,476.1 383.3,479.2 382.9,482.3 382.5,485.4 382.1,488.4 381.7,491.3 381.3,494.2 380.8,497.0 380.4,499.6 379.7,503.2 379.0,506.7 378.2,509.9 377.4,513.1 376.6,516.1 375.9,519.1 375.2,522.0 374.3,525.8 373.5,529.2 372.8,532.5 372.0,535.8 371.0,539.3 370.2,542.1 369.2,544.9 368.2,547.8 367.1,551.1 365.9,554.9 364.7,559.3 364.2,561.9 363.6,564.7 363.0,567.7 362.4,570.9 361.8,574.1 361.1,577.5 360.5,580.8 359.9,584.2 359.3,587.6 358.7,590.8 358.0,594.0 357.4,597.0 356.8,600.1 356.2,603.2 355.5,606.2 354.9,609.1 354.3,612.1 353.7,615.0 353.0,617.8 352.3,620.7 351.7,623.6 351.0,626.5 350.2,629.4 349.4,632.3 348.6,635.3 347.7,638.2 346.9,641.1 346.0,644.1 345.0,647.0 344.1,650.0 343.2,653.0 342.3,655.9 341.3,658.9 340.4,661.9 339.6,664.9 338.7,667.9 337.8,670.9 336.9,673.9 336.0,677.0 335.1,680.0 334.2,683.0 333.3,685.9 332.5,688.8 331.6,691.6 330.7,694.4 329.6,697.7 328.4,700.9 327.2,704.2 326.1,707.3 324.9,710.4 323.8,713.4 322.7,716.3 321.6,719.2 320.7,721.9 319.5,725.7 318.5,729.2 317.7,732.5 316.8,735.6 315.9,738.8 314.9,742.0 313.9,744.8 313.0,747.6 312.0,750.3 310.9,753.0 309.7,755.9 308.3,758.8 306.6,762.0 305.3,764.5 303.8,767.1 302.3,769.9 300.6,772.7 298.9,775.6 297.1,778.4 295.2,781.2 293.3,783.8 291.4,786.1 289.5,788.2 287.0,790.5 284.4,792.4 281.6,794.1 278.8,795.7 275.9,797.1 273.0,798.6 270.1,800.0 267.3,801.6 267.7,802.4 270.6,800.8 273.5,799.4 276.4,798.1 279.3,796.7 282.2,795.2 285.1,793.5 287.9,791.6 290.5,789.3 292.6,787.1 294.6,784.7 296.5,782.1 298.5,779.3 300.3,776.5 302.1,773.6 303.8,770.8 305.4,768.0 307.0,765.4 308.4,763.0 310.2,759.8 311.7,756.8 313.1,754.0 314.3,751.2 315.4,748.5 316.5,745.8 317.6,743.0 318.8,739.7 319.9,736.6 320.9,733.4 321.9,730.2 323.0,726.8 324.3,723.1 325.2,720.4 326.3,717.6 327.3,714.7 328.5,711.7 329.6,708.6 330.8,705.5 332.0,702.2 333.2,698.9 334.3,695.6 335.2,692.8 336.2,690.0 337.1,687.1 338.0,684.1 339.0,681.2 339.9,678.1 340.8,675.1 341.8,672.1 342.7,669.1 343.6,666.1 344.6,663.1 345.5,660.2 346.4,657.3 347.4,654.3 348.4,651.4 349.3,648.4 350.3,645.5 351.2,642.5 352.2,639.5 353.1,636.6 354.0,633.6 354.8,630.6 355.6,627.7 356.4,624.7 357.1,621.8 357.8,619.0 358.5,616.1 359.2,613.2 359.8,610.2 360.5,607.3 361.2,604.3 361.9,601.2 362.6,598.0 363.2,595.0 363.9,591.9 364.5,588.6 365.2,585.2 365.9,581.8 366.5,578.5 367.2,575.2 367.8,571.9 368.4,568.8 369.1,565.9 369.7,563.1 370.3,560.7 371.4,556.4 372.5,552.8 373.6,549.7 374.6,546.8 375.6,543.8 376.5,540.7 377.3,537.0 378.0,533.6 378.6,530.2 379.1,526.8 379.8,523.0 380.4,520.2 381.1,517.2 381.8,514.1 382.6,510.9 383.3,507.6 384.0,504.1 384.6,500.4 385.0,497.6 385.4,494.8 385.8,491.9 386.2,488.9 386.5,485.9 386.9,482.8 387.2,479.6 387.5,476.5 387.9,473.3 388.2,470.2 388.4,467.0 388.7,463.9 388.9,460.7 389.0,457.5 389.2,454.3 389.4,451.1 389.6,447.8 389.8,444.5 390.1,441.1 390.4,437.7 390.7,434.7 391.1,431.7 391.4,428.7 391.8,425.6 392.2,422.4 392.6,419.3 393.0,416.1 393.4,412.9 393.8,409.7 394.3,406.5 394.7,403.4 395.2,400.2 395.6,397.1 396.0,394.1 396.4,391.1 396.9,388.2 397.3,385.2 397.8,382.2 398.2,379.2 398.7,376.1 399.2,372.9 399.8,369.7 400.3,366.2 401.0,362.7 401.5,359.9 402.0,357.0 402.6,353.9 403.2,350.8 403.8,347.6 404.5,344.4 405.2,341.1 405.8,337.8 406.5,334.5 407.1,331.2 407.8,328.0 408.5,324.8 409.1,321.6 409.7,318.5 410.3,315.5 410.8,312.7 411.5,309.3 412.1,306.0 412.6,302.9 413.1,299.9 413.6,297.0 414.1,294.1 414.6,291.2 415.1,288.3 415.7,285.4 416.2,282.4 416.8,279.3 417.5,276.0 418.2,272.7 418.8,269.9 419.4,267.1 420.0,264.2 420.7,261.2 421.3,258.1 422.0,255.0 422.7,251.9 423.5,248.7 424.2,245.6 424.9,242.4 425.7,239.4 426.5,236.3 427.2,233.4 428.0,230.5 428.7,227.7 429.5,225.1 430.2,222.6 431.4,219.0 432.6,215.6 433.9,212.5 435.1,209.5 436.3,206.6 437.6,203.9 438.9,201.2 440.1,198.5 441.4,195.7 442.6,192.9 443.9,190.0Z"/>
<path d="M443.5,240.0 443.2,243.2 442.9,246.3 442.6,249.5 442.3,252.7 442.0,255.9 441.8,259.1 441.7,262.5 441.6,265.4 441.5,268.3 441.4,271.1 441.4,274.1 441.4,277.1 441.5,280.3 441.6,283.8 441.8,287.5 442.0,290.2 442.2,293.1 442.4,296.1 442.7,299.1 443.0,302.3 443.3,305.5 443.6,308.8 444.0,312.1 444.3,315.4 444.7,318.7 445.0,321.9 445.4,325.1 445.8,328.2 446.2,331.4 446.6,334.5 447.0,337.6 447.5,340.8 447.9,343.9 448.4,347.0 448.8,350.1 449.2,353.2 449.6,356.4 450.0,359.5 450.3,362.6 450.6,365.8 450.8,369.0 451.1,372.2 451.3,375.5 451.5,378.8 451.7,382.1 451.9,385.3 452.1,388.5 452.2,391.6 452.3,394.5 452.4,397.4 452.5,400.0 452.6,403.7 452.7,406.9 452.7,409.7 452.7,412.5 452.6,415.2 452.5,418.1 452.4,421.3 452.3,425.0 452.2,427.7 452.1,430.5 452.1,433.6 452.0,436.7 451.8,439.9 451.7,443.2 451.6,446.5 451.5,449.8 451.3,453.1 451.2,456.3 451.0,459.4 450.8,462.4 450.6,465.9 450.4,469.2 450.1,472.6 449.8,475.8 449.5,479.1 449.2,482.3 449.0,485.4 448.7,488.6 448.4,491.7 448.1,494.8 447.8,498.0 447.5,501.3 447.3,504.7 447.0,508.0 446.7,511.2 446.5,514.4 446.2,517.4 445.9,520.1 445.6,522.6 445.4,524.6 444.5,528.2 443.5,529.7 442.2,534.4 441.8,536.7 441.5,539.2 441.1,541.9 440.7,544.8 440.3,547.9 439.9,551.2 439.4,554.6 439.0,558.0 438.5,561.6 438.0,565.1 437.5,568.6 436.9,572.0 436.5,574.8 436.1,577.6 435.6,580.5 435.2,583.4 434.7,586.4 434.2,589.3 433.8,592.4 433.3,595.4 432.7,598.4 432.2,601.5 431.7,604.6 431.1,607.7 430.6,610.8 430.0,613.8 429.5,616.9 428.9,619.8 428.3,622.7 427.8,625.7 427.2,628.7 426.6,631.6 426.0,634.6 425.4,637.6 424.8,640.6 424.1,643.6 423.5,646.6 422.9,649.6 422.2,652.6 421.5,655.5 420.9,658.5 420.2,661.4 419.5,664.3 418.7,667.3 417.9,670.4 417.1,673.4 416.3,676.4 415.5,679.4 414.6,682.5 413.8,685.5 412.9,688.5 412.1,691.4 411.2,694.4 410.3,697.4 409.5,700.3 408.6,703.3 407.8,706.2 407.0,709.2 406.2,712.3 405.3,715.4 404.5,718.5 403.7,721.5 402.9,724.6 402.1,727.6 401.3,730.6 400.5,733.6 399.7,736.6 398.9,739.6 398.1,742.7 397.3,745.7 396.6,748.7 395.8,751.7 401.7,753.3 402.5,750.3 403.3,747.2 404.1,744.2 404.9,741.2 405.7,738.2 406.5,735.2 407.3,732.2 408.1,729.2 408.9,726.2 409.7,723.1 410.5,720.1 411.3,717.0 412.2,713.9 413.0,710.8 413.8,707.9 414.6,705.0 415.4,702.1 416.3,699.1 417.1,696.1 418.0,693.2 418.9,690.2 419.7,687.2 420.6,684.1 421.5,681.1 422.3,678.1 423.1,675.0 423.9,671.9 424.7,668.8 425.5,665.7 426.2,662.8 426.9,659.9 427.6,656.9 428.3,653.9 428.9,650.9 429.6,647.9 430.2,644.9 430.8,641.9 431.5,638.9 432.1,635.9 432.7,632.8 433.3,629.9 433.9,626.9 434.4,623.9 435.0,621.0 435.5,618.1 436.1,615.0 436.7,611.9 437.3,608.8 437.8,605.7 438.3,602.6 438.9,599.5 439.4,596.4 439.9,593.4 440.4,590.3 440.8,587.3 441.3,584.4 441.8,581.5 442.2,578.6 442.6,575.7 443.1,573.0 443.6,569.5 444.0,565.9 444.5,562.4 444.9,558.8 445.4,555.3 445.8,551.9 446.2,548.7 446.5,545.6 446.9,542.6 447.2,540.0 447.5,537.5 447.8,535.6 448.5,531.1 449.1,529.4 449.6,525.4 449.9,523.0 450.1,520.5 450.3,517.7 450.5,514.7 450.8,511.6 451.0,508.3 451.2,505.0 451.5,501.6 451.7,498.3 451.9,495.2 452.1,492.0 452.4,488.9 452.6,485.7 452.9,482.6 453.1,479.4 453.4,476.1 453.6,472.8 453.8,469.5 454.0,466.1 454.2,462.6 454.3,459.6 454.4,456.5 454.5,453.2 454.7,450.0 454.8,446.7 454.8,443.3 454.9,440.0 455.0,436.8 455.1,433.7 455.1,430.6 455.2,427.7 455.2,425.0 455.2,421.4 455.3,418.2 455.3,415.3 455.3,412.5 455.3,409.7 455.2,406.8 455.1,403.6 455.0,400.0 454.8,397.3 454.7,394.4 454.5,391.4 454.3,388.4 454.1,385.2 453.9,382.0 453.7,378.7 453.4,375.4 453.1,372.1 452.9,368.8 452.5,365.6 452.2,362.4 451.9,359.3 451.5,356.1 451.1,353.0 450.6,349.9 450.2,346.7 449.7,343.6 449.3,340.5 448.8,337.4 448.3,334.3 447.9,331.1 447.5,328.0 447.1,324.9 446.7,321.7 446.3,318.5 446.0,315.2 445.6,311.9 445.2,308.7 444.9,305.4 444.5,302.2 444.2,299.0 443.9,295.9 443.7,293.0 443.4,290.1 443.2,287.5 442.9,283.7 442.7,280.3 442.5,277.1 442.4,274.1 442.3,271.1 442.3,268.3 442.3,265.4 442.3,262.5 442.4,259.2 442.6,255.9 442.9,252.7 443.2,249.5 443.5,246.4 443.7,243.2 444.0,240.0Z"/>
<path d="M460.3,317.6 461.1,320.7 461.8,323.8 462.5,326.9 463.2,330.0 464.0,333.1 464.7,336.2 465.4,339.2 466.1,342.2 466.8,345.2 467.6,348.4 468.4,351.5 469.2,354.5 470.0,357.5 470.8,360.6 471.5,363.6 472.3,366.8 472.9,370.2 473.4,373.0 473.9,375.9 474.4,378.9 474.9,382.0 475.3,385.1 475.7,388.2 476.1,391.3 476.5,394.3 476.8,397.3 477.2,400.1 477.5,403.5 477.9,406.9 478.2,410.3 478.4,413.5 478.6,416.6 478.8,419.6 479.0,422.4 479.2,425.0 479.3,428.9 479.3,432.3 479.2,435.4 479.1,437.9 479.0,440.0 478.1,440.0 476.9,442.3 476.8,444.4 476.7,447.1 476.6,450.1 476.5,453.6 476.4,457.2 476.2,461.0 476.1,464.7 475.9,468.4 475.8,471.8 475.6,474.9 475.4,478.3 475.1,481.4 474.9,484.3 474.6,487.2 474.4,490.0 474.2,493.0 473.9,496.3 473.6,499.8 473.4,502.7 473.2,505.7 473.0,508.9 472.8,512.3 472.6,515.6 472.4,519.1 472.2,522.4 472.0,525.7 471.8,528.9 471.6,532.0 471.4,534.8 471.2,538.4 471.0,541.6 470.9,544.6 470.7,547.5 470.5,550.3 470.3,553.2 470.0,556.3 469.7,559.7 469.3,562.6 468.9,565.9 468.4,569.2 467.8,572.7 467.3,576.3 466.7,579.8 466.1,583.2 465.6,586.4 465.1,589.4 464.7,592.0 464.0,596.5 463.3,600.1 462.8,603.2 462.3,606.2 461.7,609.5 467.3,610.5 467.9,607.2 468.4,604.2 469.0,601.1 469.6,597.4 470.3,593.0 470.7,590.3 471.2,587.3 471.8,584.1 472.3,580.7 472.9,577.2 473.5,573.6 474.0,570.1 474.5,566.7 474.9,563.4 475.3,560.3 475.7,556.9 476.0,553.7 476.2,550.7 476.4,547.8 476.6,544.9 476.7,541.9 476.9,538.7 477.1,535.2 477.2,532.3 477.4,529.3 477.6,526.1 477.7,522.7 477.9,519.4 478.1,515.9 478.2,512.6 478.4,509.2 478.6,506.0 478.7,503.0 478.9,500.2 479.1,496.6 479.3,493.4 479.4,490.4 479.6,487.5 479.8,484.7 480.0,481.7 480.2,478.6 480.4,475.1 480.6,472.1 480.8,468.6 481.1,465.0 481.3,461.2 481.6,457.5 481.8,453.8 482.0,450.4 482.2,447.3 482.4,444.7 482.6,442.7 481.9,440.3 481.0,440.0 481.0,438.0 481.0,435.4 481.1,432.3 481.0,428.8 480.8,425.0 480.7,422.3 480.5,419.5 480.3,416.5 480.1,413.4 479.8,410.1 479.6,406.8 479.2,403.3 478.8,399.9 478.5,397.1 478.2,394.1 477.8,391.1 477.4,388.0 477.0,384.9 476.5,381.8 476.1,378.7 475.6,375.6 475.1,372.7 474.6,369.8 473.9,366.5 473.1,363.3 472.4,360.2 471.5,357.1 470.7,354.1 469.9,351.1 469.0,348.0 468.2,344.8 467.4,341.9 466.7,338.9 465.9,335.9 465.1,332.8 464.3,329.7 463.5,326.6 462.7,323.5 461.9,320.5 461.2,317.4Z"/>
<path d="M419.6,447.2 419.3,450.3 418.9,453.3 418.6,456.3 418.2,459.3 417.8,462.3 417.5,465.3 417.1,468.3 416.8,471.3 416.4,474.4 416.0,477.5 415.7,480.6 415.3,483.9 414.9,487.2 414.6,490.2 414.2,493.3 413.9,496.4 413.6,499.6 413.3,502.9 413.0,506.2 412.6,509.5 412.3,512.8 412.0,516.1 411.6,519.3 411.3,522.6 410.9,525.7 410.5,528.8 410.1,531.7 409.7,534.6 409.2,538.0 408.6,541.2 408.1,544.3 407.5,547.2 406.9,550.1 406.3,553.0 405.6,555.9 405.0,558.8 404.3,561.9 403.6,565.0 402.9,568.4 402.2,571.9 401.7,574.7 401.1,577.6 400.5,580.5 399.9,583.5 399.3,586.5 398.7,589.6 398.1,592.7 397.5,595.9 396.9,599.1 396.2,602.3 395.6,605.5 394.9,608.8 394.3,612.1 393.6,615.3 392.9,618.6 392.2,621.9 391.6,624.8 390.9,627.8 390.3,630.8 389.6,633.8 388.9,636.9 388.2,639.9 387.5,643.0 386.8,646.1 386.1,649.2 385.4,652.3 384.7,655.4 384.0,658.5 383.3,661.6 382.5,664.7 381.8,667.8 381.1,670.8 380.4,673.9 379.7,676.9 379.0,680.0 378.3,683.2 377.5,686.4 376.8,689.7 376.0,692.9 375.3,696.1 374.6,699.3 373.8,702.5 373.1,705.6 372.4,708.7 371.6,711.8 370.9,714.9 370.2,717.9 369.4,720.8 368.7,723.7 368.0,726.5 367.2,729.3 366.3,732.8 365.3,736.2 364.3,739.6 363.3,742.9 362.2,746.1 361.2,749.3 360.2,752.4 359.2,755.4 358.3,758.3 357.3,761.2 356.4,763.9 355.6,766.6 354.8,769.2 353.6,773.0 352.6,776.6 351.7,779.8 350.8,782.8 350.0,785.7 349.2,788.6 348.4,791.4 347.7,794.4 347.1,797.9 346.5,801.2 346.1,804.5 345.6,807.7 345.2,810.9 344.7,814.0 344.1,817.2 343.2,820.5 342.2,823.7 341.2,827.0 340.2,830.2 339.1,833.5 337.9,836.6 336.7,839.7 335.5,842.6 334.2,845.5 332.9,848.3 331.5,851.1 330.0,853.9 328.5,856.7 326.8,859.6 325.1,862.1 323.4,864.6 321.6,867.2 319.8,869.8 317.8,872.4 315.8,875.1 313.7,877.8 311.5,880.5 309.6,882.7 307.7,885.1 305.6,887.5 303.4,889.9 301.3,892.4 299.1,894.8 296.9,897.1 294.8,899.3 292.8,901.4 290.8,903.3 288.2,905.8 285.7,907.9 283.3,909.8 280.8,911.7 278.3,913.6 275.8,915.7 273.2,918.1 270.9,920.5 268.7,922.9 266.5,925.4 264.4,928.0 262.2,930.6 260.0,933.2 257.8,935.9 255.7,938.5 253.8,940.8 251.9,943.2 250.0,945.7 248.1,948.1 246.2,950.6 244.4,953.0 242.5,955.4 240.6,957.8 238.7,960.2 236.6,962.8 234.6,965.4 232.6,968.0 230.5,970.5 228.5,973.1 226.4,975.6 224.2,978.1 221.8,980.6 219.6,982.7 217.3,984.9 214.9,987.0 212.5,989.1 210.0,991.3 207.4,993.3 204.8,995.4 202.2,997.4 199.6,999.4 197.2,1001.2 194.7,1002.9 192.2,1004.5 189.7,1006.2 187.1,1007.8 184.6,1009.4 182.0,1011.0 179.4,1012.6 176.8,1014.3 174.3,1015.9 174.7,1016.6 177.3,1015.0 179.9,1013.4 182.5,1011.9 185.1,1010.3 187.7,1008.8 190.3,1007.2 192.9,1005.6 195.5,1004.0 198.0,1002.3 200.4,1000.6 203.1,998.6 205.8,996.6 208.4,994.6 211.0,992.6 213.6,990.5 216.1,988.4 218.5,986.2 220.9,984.1 223.2,981.9 225.7,979.6 228.1,977.1 230.4,974.7 232.6,972.3 234.7,969.8 236.9,967.3 239.1,964.8 241.3,962.3 243.3,960.1 245.3,957.8 247.3,955.4 249.3,953.1 251.3,950.7 253.3,948.4 255.3,946.1 257.3,943.8 259.3,941.5 261.5,939.0 263.7,936.4 265.9,933.8 268.1,931.2 270.3,928.7 272.5,926.3 274.7,924.0 276.8,921.9 279.2,919.6 281.5,917.6 283.9,915.7 286.4,913.7 288.9,911.7 291.5,909.3 294.2,906.7 296.1,904.5 298.0,902.2 300.0,899.8 302.0,897.2 304.0,894.7 306.0,892.1 308.0,889.4 309.9,886.9 311.7,884.4 313.5,882.0 315.6,879.2 317.6,876.4 319.6,873.7 321.5,871.0 323.3,868.3 325.0,865.7 326.7,863.1 328.2,860.4 329.9,857.5 331.5,854.7 333.0,851.9 334.4,849.0 335.7,846.2 337.0,843.3 338.3,840.3 339.5,837.2 340.7,834.1 341.9,830.8 343.0,827.6 344.0,824.3 345.0,821.0 345.9,817.8 347.0,814.6 347.9,811.4 348.7,808.3 349.6,805.2 350.4,802.0 351.3,798.8 352.3,795.6 353.1,792.7 354.0,790.0 354.9,787.2 355.8,784.4 356.8,781.4 357.8,778.2 359.0,774.7 360.2,770.8 361.0,768.3 361.9,765.7 362.8,762.9 363.7,760.1 364.7,757.2 365.6,754.1 366.7,751.0 367.7,747.8 368.7,744.6 369.7,741.2 370.8,737.8 371.8,734.3 372.8,730.7 373.5,728.0 374.2,725.1 375.0,722.2 375.7,719.2 376.4,716.2 377.2,713.2 377.9,710.1 378.7,706.9 379.4,703.7 380.1,700.6 380.9,697.4 381.6,694.1 382.3,690.9 383.1,687.7 383.8,684.5 384.5,681.3 385.3,678.1 386.0,675.1 386.7,672.1 387.4,669.1 388.1,666.0 388.8,662.9 389.5,659.8 390.3,656.7 391.0,653.6 391.7,650.5 392.4,647.4 393.1,644.3 393.8,641.2 394.5,638.1 395.2,635.1 395.8,632.0 396.5,629.0 397.2,626.0 397.8,623.1 398.5,619.8 399.2,616.5 399.9,613.2 400.5,609.9 401.2,606.6 401.8,603.4 402.5,600.2 403.1,597.0 403.7,593.8 404.3,590.7 404.9,587.6 405.5,584.5 406.1,581.6 406.7,578.7 407.2,575.8 407.8,573.1 408.5,569.5 409.2,566.2 409.9,563.1 410.6,560.1 411.2,557.1 411.8,554.2 412.5,551.3 413.1,548.3 413.7,545.3 414.2,542.2 414.8,538.9 415.3,535.4 415.7,532.5 416.1,529.5 416.5,526.3 416.8,523.2 417.1,519.9 417.4,516.6 417.8,513.3 418.1,510.0 418.4,506.7 418.6,503.4 418.9,500.1 419.2,496.9 419.5,493.8 419.8,490.7 420.1,487.8 420.4,484.5 420.8,481.2 421.1,478.0 421.4,474.9 421.8,471.9 422.1,468.8 422.4,465.8 422.7,462.8 423.1,459.8 423.4,456.9 423.7,453.9 424.0,450.8 424.4,447.8Z"/>
<path d="M389.5,774.2 388.6,777.4 387.8,780.6 387.0,783.7 386.1,786.9 385.2,790.0 384.3,793.3 383.3,796.6 382.4,799.5 381.5,802.6 380.4,805.7 379.4,808.9 378.3,812.1 377.2,815.3 376.2,818.6 375.2,821.8 374.3,825.0 373.4,828.4 372.5,831.7 371.7,835.1 370.9,838.4 370.1,841.5 369.3,844.4 368.6,847.1 367.7,850.5 366.9,853.1 366.2,855.5 365.4,858.4 364.2,862.2 363.4,864.7 362.6,867.4 361.7,870.3 360.7,873.4 359.7,876.6 358.7,879.9 357.6,883.2 356.5,886.3 355.4,889.4 354.3,892.2 353.0,895.3 351.5,898.5 349.9,901.6 348.3,904.8 346.8,907.8 345.3,910.5 343.9,913.1 342.7,915.3 341.7,917.1 340.2,919.2 338.9,920.3 337.5,922.3 335.7,924.9 333.7,927.9 331.6,931.1 329.5,934.3 327.6,937.3 332.4,940.2 334.2,937.1 336.0,933.7 337.8,930.4 339.5,927.2 341.0,924.4 342.1,922.2 342.6,920.5 343.3,917.9 344.2,916.1 345.3,913.9 346.7,911.3 348.2,908.5 349.7,905.5 351.3,902.3 352.9,899.1 354.3,895.9 355.7,892.8 356.8,889.9 357.9,886.8 359.1,883.6 360.2,880.4 361.2,877.1 362.2,873.9 363.2,870.8 364.1,867.9 365.0,865.2 365.8,862.8 367.2,859.0 368.3,856.3 369.2,853.9 370.2,851.3 371.4,847.9 372.3,845.3 373.3,842.4 374.3,839.4 375.4,836.2 376.4,832.9 377.5,829.6 378.6,826.4 379.8,823.2 380.9,820.2 382.1,817.0 383.3,813.9 384.5,810.8 385.8,807.7 387.0,804.5 388.1,801.5 389.2,798.4 390.2,795.0 391.2,791.7 392.1,788.5 392.9,785.3 393.8,782.2 394.6,779.0 395.5,775.8Z"/>
<path d="M480.3,688.0 479.5,691.0 478.7,694.0 478.0,697.0 477.2,700.0 476.5,703.0 475.7,705.9 474.9,708.9 474.0,711.7 473.2,714.6 472.3,717.4 471.4,720.2 470.5,723.0 469.6,725.8 468.6,728.6 467.6,731.6 466.6,734.6 465.5,737.4 464.4,740.3 463.2,743.2 462.1,746.1 460.9,749.1 459.8,752.1 458.6,755.0 457.4,757.9 456.2,760.7 454.7,763.7 453.1,766.7 451.6,769.6 450.0,772.5 448.4,775.4 446.9,778.2 445.3,781.0 443.7,783.7 442.3,786.4 440.9,789.1 439.6,791.6 438.2,794.2 436.8,796.8 435.4,799.4 433.9,802.1 432.5,804.9 431.1,807.6 429.7,810.3 428.3,813.2 426.8,816.0 425.4,818.9 424.0,821.8 422.6,824.6 421.2,827.4 419.9,830.0 418.4,833.2 416.9,836.3 415.4,839.3 414.0,842.3 412.6,845.3 411.2,848.3 409.9,851.4 408.8,854.2 407.9,857.0 406.9,859.9 405.9,862.7 405.0,865.6 404.1,868.5 403.1,871.4 402.2,874.4 401.1,877.5 400.0,880.7 398.9,883.9 397.8,887.1 396.7,890.4 395.7,893.6 394.6,896.6 393.6,899.5 392.5,902.6 391.4,905.4 390.3,908.1 389.2,910.8 388.1,913.5 387.0,916.4 385.9,919.5 384.9,922.3 384.0,925.3 383.0,928.3 382.0,931.4 381.1,934.5 380.1,937.8 379.1,941.1 378.2,944.5 377.3,947.3 376.5,950.2 375.8,953.1 375.0,956.1 374.2,959.2 373.4,962.2 372.6,965.3 371.8,968.3 370.9,971.3 370.0,974.3 369.1,977.3 368.1,980.3 367.1,983.3 366.1,986.4 365.0,989.4 363.9,992.4 362.9,995.4 361.8,998.4 360.7,1001.2 359.7,1004.0 358.4,1007.4 357.0,1010.9 355.6,1014.4 354.2,1017.7 352.9,1020.9 351.6,1023.9 350.5,1026.5 349.6,1028.7 347.9,1032.0 345.8,1036.0 344.8,1038.0 343.8,1040.2 342.6,1042.8 341.3,1045.5 340.0,1048.5 338.6,1051.5 337.1,1054.6 335.7,1057.6 334.3,1060.6 333.0,1063.4 331.8,1065.9 330.3,1069.0 328.9,1071.9 327.4,1074.8 326.0,1077.6 324.6,1080.4 323.2,1083.1 321.9,1085.7 320.6,1088.3 319.3,1090.9 317.8,1094.0 316.4,1097.0 315.1,1099.8 313.9,1102.5 312.6,1105.3 311.2,1108.1 309.8,1111.1 308.5,1113.8 307.3,1116.5 306.0,1119.2 304.7,1122.0 303.4,1124.9 301.9,1127.9 300.4,1131.0 298.7,1134.3 297.4,1136.7 296.0,1139.3 294.5,1141.9 293.0,1144.6 291.5,1147.4 289.9,1150.2 288.3,1153.0 286.6,1155.9 285.0,1158.8 283.3,1161.6 281.7,1164.5 280.1,1167.1 278.5,1169.8 276.8,1172.6 275.1,1175.3 273.4,1178.1 271.7,1180.9 270.0,1183.7 268.3,1186.5 266.6,1189.2 265.0,1191.9 263.4,1194.5 261.8,1197.1 259.9,1200.0 258.2,1202.9 256.4,1205.8 254.7,1208.5 253.0,1211.3 251.3,1214.0 249.6,1216.6 247.9,1219.3 246.1,1221.9 244.3,1224.5 242.4,1227.1 240.4,1229.8 238.4,1232.4 236.3,1235.0 234.2,1237.6 232.2,1240.2 230.1,1242.6 228.1,1245.0 226.2,1247.3 224.4,1249.5 222.0,1252.5 219.8,1255.2 217.7,1257.8 215.6,1260.2 213.6,1262.5 211.6,1264.8 209.5,1267.0 207.0,1269.5 204.7,1272.0 202.3,1274.3 199.9,1276.5 197.4,1278.6 194.6,1280.7 192.0,1282.3 189.2,1283.8 186.3,1285.3 183.3,1286.8 180.2,1288.2 177.2,1289.6 174.2,1291.1 174.8,1292.4 177.8,1290.9 180.8,1289.5 183.9,1288.1 186.9,1286.6 189.9,1285.1 192.7,1283.5 195.4,1281.8 198.3,1279.8 200.9,1277.6 203.3,1275.3 205.7,1273.0 208.1,1270.5 210.5,1268.0 212.6,1265.8 214.7,1263.5 216.7,1261.1 218.8,1258.7 220.9,1256.1 223.2,1253.4 225.6,1250.5 227.4,1248.3 229.3,1246.0 231.3,1243.6 233.4,1241.2 235.5,1238.6 237.6,1236.0 239.7,1233.4 241.7,1230.8 243.8,1228.1 245.7,1225.5 247.5,1222.9 249.3,1220.2 251.1,1217.6 252.8,1214.9 254.5,1212.2 256.2,1209.4 257.9,1206.6 259.6,1203.8 261.4,1200.9 263.2,1197.9 264.8,1195.4 266.5,1192.8 268.1,1190.1 269.8,1187.4 271.5,1184.7 273.3,1181.9 275.0,1179.1 276.7,1176.3 278.4,1173.6 280.1,1170.8 281.7,1168.1 283.3,1165.5 285.1,1162.7 286.8,1159.8 288.5,1157.0 290.2,1154.2 291.9,1151.4 293.6,1148.6 295.2,1145.9 296.8,1143.2 298.3,1140.6 299.8,1138.1 301.3,1135.7 303.3,1132.6 305.2,1129.7 307.0,1126.9 308.7,1124.2 310.4,1121.6 312.0,1119.1 313.6,1116.5 315.2,1113.9 316.9,1111.0 318.4,1108.2 319.8,1105.5 321.2,1102.8 322.6,1100.0 324.1,1097.2 325.7,1094.1 327.0,1091.6 328.3,1089.0 329.6,1086.4 331.0,1083.6 332.4,1080.8 333.9,1078.0 335.3,1075.1 336.8,1072.1 338.2,1069.1 339.5,1066.4 340.8,1063.5 342.1,1060.5 343.5,1057.5 344.9,1054.4 346.3,1051.3 347.6,1048.4 348.8,1045.6 349.9,1043.1 350.9,1040.8 351.7,1039.0 353.8,1034.9 355.4,1031.3 356.4,1029.0 357.5,1026.3 358.7,1023.3 360.0,1020.1 361.3,1016.6 362.7,1013.1 364.0,1009.5 365.3,1006.0 366.3,1003.2 367.3,1000.3 368.3,997.3 369.3,994.3 370.3,991.2 371.3,988.1 372.3,985.0 373.2,981.9 374.1,978.8 375.0,975.7 375.8,972.6 376.6,969.5 377.3,966.4 378.0,963.3 378.6,960.2 379.3,957.1 379.9,954.1 380.5,951.2 381.2,948.3 381.8,945.5 382.8,942.1 383.7,938.8 384.6,935.6 385.5,932.4 386.4,929.3 387.3,926.3 388.2,923.4 389.1,920.5 390.1,917.5 391.1,914.6 392.1,911.9 393.1,909.2 394.2,906.5 395.2,903.6 396.4,900.5 397.4,897.6 398.5,894.5 399.6,891.4 400.8,888.2 401.9,884.9 403.1,881.7 404.2,878.6 405.3,875.6 406.5,872.7 407.8,869.9 409.0,867.1 410.2,864.3 411.4,861.6 412.6,858.9 413.8,856.3 415.1,853.6 416.4,850.6 417.8,847.6 419.1,844.7 420.5,841.8 422.0,838.8 423.5,835.7 425.1,832.5 426.3,829.9 427.7,827.1 429.1,824.3 430.5,821.5 431.9,818.6 433.4,815.7 434.8,812.9 436.2,810.2 437.5,807.6 439.0,804.8 440.4,802.1 441.8,799.5 443.2,796.9 444.6,794.3 446.0,791.7 447.4,789.1 448.8,786.3 450.1,783.4 451.3,780.4 452.6,777.4 453.9,774.4 455.2,771.3 456.4,768.2 457.6,765.0 458.8,761.8 460.0,758.9 461.1,756.0 462.2,753.0 463.3,750.0 464.3,747.0 465.4,744.0 466.4,741.0 467.4,738.1 468.4,735.4 469.7,732.4 471.1,729.6 472.4,726.9 473.6,724.2 474.9,721.5 476.1,718.8 477.3,716.1 478.5,713.3 479.5,710.3 480.5,707.4 481.4,704.4 482.3,701.4 483.1,698.4 484.0,695.4 484.9,692.5 485.7,689.5Z"/>
<path d="M339.0,706.4 338.1,709.7 337.3,712.9 336.5,716.2 335.7,719.5 334.9,722.7 334.1,726.1 333.2,729.5 332.3,732.5 331.5,735.6 330.7,738.7 329.8,741.9 328.9,745.1 328.0,748.2 327.1,751.4 326.1,754.6 325.1,757.8 324.1,761.1 323.0,764.4 321.9,767.7 320.8,771.0 319.8,774.1 318.8,777.0 317.8,779.7 316.6,783.1 315.5,785.9 314.5,788.4 313.3,791.2 311.7,794.6 310.6,797.0 309.4,799.7 308.1,802.6 306.7,805.6 305.2,808.7 303.7,811.7 302.2,814.6 300.8,817.2 299.4,819.6 297.6,822.6 296.1,825.0 294.6,827.1 292.8,829.3 290.4,831.7 287.2,834.7 285.4,836.3 283.3,838.0 281.1,839.8 278.7,841.6 276.2,843.6 273.6,845.5 270.9,847.6 268.2,849.6 265.4,851.6 262.7,853.7 260.0,855.7 257.3,857.7 254.7,859.7 255.3,860.3 257.8,858.4 260.4,856.4 263.2,854.4 265.9,852.3 268.7,850.3 271.4,848.2 274.1,846.2 276.7,844.2 279.2,842.3 281.6,840.4 283.9,838.6 285.9,836.9 287.8,835.3 291.1,832.4 293.5,830.0 295.4,827.9 297.1,825.7 298.7,823.3 300.6,820.4 302.1,818.0 303.6,815.3 305.1,812.4 306.6,809.4 308.1,806.3 309.5,803.3 310.9,800.4 312.1,797.7 313.3,795.4 314.9,791.9 316.2,789.1 317.2,786.6 318.3,783.8 319.7,780.3 320.7,777.7 321.8,774.8 323.0,771.7 324.2,768.5 325.4,765.2 326.6,761.9 327.8,758.6 328.9,755.4 329.9,752.3 331.0,749.2 332.0,746.0 333.0,742.9 334.0,739.7 335.0,736.6 335.9,733.5 336.8,730.5 337.9,727.1 338.9,723.8 339.8,720.6 340.7,717.3 341.7,714.1 342.6,710.9 343.5,707.6Z"/>
<path d="M301.4,923.3 299.6,925.9 297.8,928.4 296.1,930.9 294.3,933.4 292.5,935.9 290.7,938.4 288.9,940.9 287.1,943.3 285.2,945.8 283.4,948.2 281.6,950.5 279.8,952.9 277.9,955.2 276.0,957.5 274.1,959.9 272.2,962.3 270.2,964.7 268.2,967.2 266.4,969.6 264.6,971.9 262.8,974.3 261.0,976.7 259.2,979.2 257.3,981.6 255.4,984.1 253.4,986.7 251.4,989.2 249.3,991.9 247.4,994.0 245.4,996.3 243.4,998.6 241.4,1000.9 239.3,1003.3 237.2,1005.7 235.1,1008.1 232.9,1010.4 230.8,1012.8 228.7,1015.1 226.6,1017.3 224.5,1019.5 222.2,1021.8 220.0,1024.0 217.7,1026.3 215.4,1028.4 213.2,1030.6 210.9,1032.7 208.6,1034.8 206.4,1036.9 204.1,1039.0 201.8,1041.1 199.5,1043.2 197.2,1045.3 194.9,1047.4 192.6,1049.4 190.3,1051.5 188.0,1053.5 185.6,1055.5 183.3,1057.6 181.0,1059.6 178.7,1061.6 176.3,1063.7 174.0,1065.7 175.0,1066.8 177.3,1064.8 179.6,1062.7 181.9,1060.7 184.3,1058.7 186.6,1056.6 188.9,1054.6 191.2,1052.6 193.6,1050.5 195.9,1048.5 198.2,1046.4 200.5,1044.3 202.8,1042.2 205.1,1040.1 207.3,1038.0 209.6,1035.9 211.9,1033.8 214.2,1031.6 216.4,1029.5 218.7,1027.3 221.0,1025.1 223.2,1022.8 225.5,1020.5 227.6,1018.3 229.8,1016.1 231.9,1013.8 234.1,1011.5 236.3,1009.2 238.4,1006.8 240.6,1004.5 242.7,1002.1 244.8,999.8 246.8,997.5 248.8,995.3 250.7,993.1 253.1,990.7 255.3,988.3 257.5,985.9 259.7,983.6 261.8,981.3 263.8,979.1 265.8,976.8 267.9,974.6 269.8,972.4 271.8,970.3 273.9,967.8 276.0,965.5 278.0,963.2 280.0,960.9 282.0,958.6 283.9,956.3 285.9,954.0 287.8,951.6 289.8,949.2 291.6,946.8 293.5,944.3 295.3,941.8 297.1,939.2 298.9,936.7 300.7,934.2 302.5,931.7 304.3,929.2 306.1,926.7Z"/>
<path d="M306.1,947.1 304.5,949.8 302.9,952.6 301.2,955.4 299.5,958.2 297.9,961.1 296.2,963.8 294.6,966.5 293.1,969.1 291.6,971.6 290.2,973.9 288.9,975.9 286.8,979.1 285.1,981.7 283.5,983.9 281.9,986.0 280.2,988.3 278.1,991.0 276.4,993.5 274.5,996.1 272.6,998.9 270.5,1001.7 268.5,1004.6 266.4,1007.4 264.5,1010.2 262.6,1012.9 260.5,1015.8 258.5,1018.6 256.6,1021.4 254.7,1024.1 252.9,1026.7 251.0,1029.4 249.2,1031.9 247.2,1034.7 245.4,1037.3 243.6,1039.8 241.7,1042.3 239.5,1045.1 236.9,1048.2 235.0,1050.3 233.0,1052.5 230.8,1054.8 228.5,1057.2 226.2,1059.7 223.7,1062.2 221.3,1064.7 219.0,1067.2 216.7,1069.6 214.5,1072.0 212.4,1074.3 210.3,1076.6 208.3,1078.9 206.3,1081.2 204.3,1083.4 202.4,1085.7 200.4,1087.9 198.5,1090.1 196.5,1092.3 194.5,1094.5 192.2,1096.9 190.0,1099.3 187.7,1101.7 185.4,1104.0 183.1,1106.4 180.8,1108.7 178.5,1111.0 176.3,1113.4 174.0,1115.7 175.0,1116.8 177.3,1114.4 179.6,1112.1 181.9,1109.7 184.2,1107.4 186.4,1105.0 188.7,1102.7 191.0,1100.3 193.3,1097.9 195.5,1095.5 197.5,1093.3 199.5,1091.1 201.5,1088.9 203.5,1086.6 205.4,1084.4 207.4,1082.1 209.4,1079.9 211.4,1077.6 213.4,1075.3 215.5,1073.0 217.7,1070.6 220.0,1068.2 222.4,1065.8 224.9,1063.3 227.3,1060.8 229.7,1058.3 232.0,1055.9 234.2,1053.6 236.3,1051.4 238.1,1049.3 240.8,1046.2 243.1,1043.4 245.0,1040.9 246.9,1038.4 248.7,1035.8 250.8,1033.1 252.7,1030.6 254.7,1028.1 256.6,1025.5 258.6,1022.8 260.7,1020.1 262.8,1017.4 264.9,1014.6 266.9,1012.1 269.1,1009.5 271.3,1006.8 273.5,1004.1 275.8,1001.4 277.9,998.7 280.0,996.2 281.9,994.0 284.0,991.3 285.9,989.1 287.6,987.1 289.4,984.9 291.3,982.3 293.6,979.1 295.0,976.9 296.5,974.6 298.1,972.2 299.7,969.6 301.3,966.9 303.0,964.1 304.7,961.3 306.4,958.5 308.1,955.7 309.8,953.0 311.4,950.4Z"/>
<path d="M307.5,994.9 306.0,998.0 304.5,1001.0 303.0,1004.0 301.6,1007.0 300.1,1010.0 298.6,1013.0 297.1,1015.9 295.5,1018.8 294.0,1021.3 292.4,1023.8 290.8,1026.3 289.1,1028.9 287.5,1031.4 285.8,1033.9 284.1,1036.4 282.5,1038.9 280.9,1041.5 279.1,1044.4 277.4,1047.3 275.8,1050.3 274.1,1053.2 272.5,1056.1 270.8,1058.9 269.2,1061.6 267.6,1064.2 265.7,1067.0 263.7,1069.6 261.8,1072.2 259.8,1074.7 257.9,1077.1 256.0,1079.5 254.2,1081.9 252.4,1084.4 250.8,1086.6 249.3,1088.7 247.6,1090.9 245.6,1093.6 243.1,1097.0 241.5,1099.0 239.8,1101.1 238.0,1103.4 236.0,1105.9 233.9,1108.4 231.8,1111.1 229.7,1113.8 227.5,1116.5 225.4,1119.2 223.3,1121.9 221.3,1124.5 219.4,1127.1 217.6,1129.6 215.9,1132.0 214.3,1134.5 212.7,1137.0 211.1,1139.4 209.5,1141.9 207.9,1144.3 206.3,1146.8 204.7,1149.3 203.0,1151.9 201.3,1154.5 199.4,1157.1 197.8,1159.4 196.1,1161.7 194.3,1164.1 192.5,1166.4 190.7,1168.8 188.9,1171.3 187.0,1173.7 185.1,1176.1 183.3,1178.6 181.4,1181.1 179.5,1183.5 177.6,1186.0 175.8,1188.4 173.9,1190.8 175.1,1191.7 176.9,1189.3 178.8,1186.8 180.6,1184.4 182.5,1181.9 184.4,1179.5 186.3,1177.0 188.2,1174.6 190.0,1172.1 191.9,1169.7 193.7,1167.3 195.5,1164.9 197.2,1162.6 198.9,1160.2 200.6,1157.9 202.4,1155.3 204.2,1152.7 205.9,1150.1 207.5,1147.6 209.1,1145.1 210.7,1142.7 212.3,1140.2 213.9,1137.8 215.5,1135.3 217.1,1132.9 218.8,1130.4 220.6,1127.9 222.5,1125.4 224.5,1122.8 226.6,1120.1 228.7,1117.4 230.9,1114.7 233.0,1112.1 235.2,1109.4 237.2,1106.9 239.2,1104.5 241.1,1102.2 242.9,1100.0 244.4,1098.0 247.0,1094.7 249.0,1092.0 250.7,1089.8 252.3,1087.7 253.9,1085.5 255.8,1083.1 257.6,1080.8 259.6,1078.5 261.6,1076.2 263.7,1073.8 265.8,1071.2 267.9,1068.6 269.9,1065.8 271.7,1063.2 273.5,1060.5 275.2,1057.8 277.0,1054.9 278.7,1052.0 280.5,1049.2 282.3,1046.3 284.1,1043.5 285.8,1041.1 287.5,1038.7 289.2,1036.2 291.0,1033.8 292.7,1031.3 294.5,1028.8 296.2,1026.3 297.9,1023.8 299.5,1021.2 301.3,1018.3 303.0,1015.3 304.6,1012.4 306.2,1009.4 307.8,1006.4 309.4,1003.5 310.9,1000.5 312.5,997.6Z"/>
<path d="M304.1,1047.6 302.8,1050.3 301.5,1052.9 300.2,1055.5 299.0,1058.2 297.6,1060.8 296.3,1063.5 294.9,1066.2 293.3,1069.1 291.9,1071.7 290.5,1074.4 289.0,1077.1 287.4,1079.9 285.9,1082.8 284.2,1085.7 282.6,1088.6 280.9,1091.5 279.2,1094.5 277.5,1097.2 275.8,1100.0 274.0,1102.8 272.2,1105.7 270.3,1108.6 268.5,1111.4 266.7,1114.2 265.0,1117.0 263.3,1119.6 261.8,1122.0 259.7,1125.4 257.7,1128.6 255.8,1131.7 254.0,1134.6 252.3,1137.3 250.8,1139.8 249.3,1142.0 247.3,1144.8 245.9,1146.5 244.3,1148.5 241.8,1152.0 240.4,1154.1 238.9,1156.5 237.1,1159.2 235.3,1162.0 233.4,1165.0 231.5,1168.1 229.6,1171.2 227.7,1174.1 226.0,1177.0 224.4,1179.6 222.6,1182.7 221.0,1185.6 219.5,1188.5 218.1,1191.2 216.7,1193.9 215.2,1196.6 213.6,1199.3 211.9,1202.1 210.2,1204.6 208.4,1207.2 206.6,1209.8 204.6,1212.4 202.7,1214.9 200.7,1217.5 198.6,1219.9 196.6,1222.3 194.5,1224.5 192.1,1226.8 189.6,1229.0 187.1,1231.1 184.5,1233.2 181.9,1235.1 179.3,1237.1 176.6,1239.1 174.0,1241.2 175.0,1242.3 177.5,1240.3 180.1,1238.3 182.8,1236.3 185.4,1234.3 188.0,1232.3 190.6,1230.1 193.1,1227.9 195.5,1225.5 197.6,1223.2 199.7,1220.9 201.8,1218.4 203.8,1215.8 205.8,1213.3 207.7,1210.6 209.6,1208.0 211.4,1205.4 213.1,1202.9 214.9,1200.1 216.5,1197.3 218.0,1194.6 219.4,1191.9 220.8,1189.1 222.3,1186.3 223.9,1183.4 225.6,1180.4 227.2,1177.8 229.0,1174.9 230.8,1172.0 232.8,1168.9 234.7,1165.9 236.7,1162.9 238.5,1160.1 240.3,1157.4 241.8,1155.0 243.2,1153.0 245.6,1149.5 247.2,1147.6 248.7,1145.8 250.7,1143.0 252.2,1140.7 253.8,1138.2 255.5,1135.5 257.3,1132.6 259.1,1129.5 261.1,1126.3 263.2,1123.0 264.8,1120.5 266.5,1117.9 268.2,1115.2 270.0,1112.4 271.9,1109.6 273.7,1106.7 275.6,1103.8 277.4,1101.0 279.1,1098.2 280.8,1095.5 282.7,1092.7 284.6,1089.8 286.4,1087.0 288.2,1084.2 290.0,1081.5 291.7,1078.8 293.4,1076.1 295.1,1073.5 296.7,1070.9 298.3,1068.1 299.9,1065.4 301.3,1062.7 302.8,1060.1 304.2,1057.6 305.5,1055.0 306.9,1052.5 308.4,1049.9Z"/>
<path d="M409.8,961.2 408.5,964.0 407.1,966.8 405.7,969.8 404.3,973.5 403.4,976.0 402.5,978.7 401.6,981.6 400.7,984.6 399.7,987.8 398.8,991.1 397.7,994.4 396.9,997.2 396.1,1000.1 395.2,1003.1 394.3,1006.3 393.4,1009.4 392.5,1012.6 391.6,1015.7 390.7,1018.8 389.8,1021.7 388.8,1024.9 387.9,1028.1 387.1,1031.2 386.2,1034.2 385.3,1037.2 384.3,1040.3 383.3,1043.4 382.3,1046.6 381.3,1049.5 380.3,1052.5 379.3,1055.4 378.2,1058.4 377.1,1061.5 375.9,1064.6 374.8,1067.7 373.6,1070.8 372.3,1074.0 371.2,1076.8 370.1,1079.7 368.9,1082.7 367.7,1085.6 366.4,1088.6 365.2,1091.6 363.9,1094.6 362.6,1097.7 361.2,1100.7 359.9,1103.9 358.6,1106.7 357.3,1109.7 356.0,1112.7 354.6,1115.8 353.3,1118.9 351.9,1121.9 350.5,1124.9 349.1,1127.9 347.7,1130.8 346.3,1133.5 345.0,1136.2 343.4,1139.4 341.8,1142.5 340.2,1145.6 338.5,1148.6 336.9,1151.6 335.3,1154.4 333.8,1157.0 332.5,1159.5 331.3,1161.8 329.4,1165.3 328.3,1167.4 327.0,1169.8 324.2,1174.5 323.0,1176.3 321.7,1178.3 320.2,1180.5 318.6,1183.0 316.9,1185.5 315.2,1188.2 313.3,1190.9 311.5,1193.7 309.6,1196.6 307.8,1199.4 305.9,1202.1 304.2,1204.8 302.5,1207.4 300.9,1209.8 299.4,1212.1 297.3,1215.3 295.2,1218.6 293.2,1221.7 291.2,1224.8 289.4,1227.7 287.6,1230.5 286.0,1233.1 284.5,1235.5 283.1,1237.7 281.9,1239.6 280.1,1242.5 279.8,1243.1 276.9,1247.6 275.8,1249.4 274.5,1251.4 273.1,1253.7 271.5,1256.3 269.9,1259.0 268.1,1261.9 266.3,1264.8 264.4,1267.9 262.5,1271.0 260.5,1274.0 258.6,1277.0 256.6,1280.0 254.7,1282.8 252.9,1285.4 251.1,1287.9 249.4,1290.0 247.1,1292.9 244.7,1295.6 242.4,1298.0 240.1,1300.3 237.9,1302.5 235.6,1304.5 233.4,1306.4 231.1,1308.3 228.9,1310.1 226.7,1311.9 224.5,1313.7 221.9,1315.8 219.4,1317.8 216.9,1319.6 214.5,1321.4 212.0,1323.1 209.5,1324.7 207.0,1326.3 204.4,1327.8 201.7,1329.4 199.1,1330.7 196.5,1332.0 193.8,1333.3 191.0,1334.5 188.2,1335.7 185.4,1336.8 182.6,1338.0 179.8,1339.2 177.0,1340.4 174.2,1341.6 174.8,1342.9 177.6,1341.7 180.4,1340.5 183.2,1339.4 186.0,1338.2 188.8,1337.0 191.6,1335.8 194.4,1334.6 197.1,1333.3 199.8,1332.0 202.3,1330.6 205.1,1329.1 207.8,1327.5 210.3,1325.9 212.8,1324.3 215.3,1322.6 217.8,1320.8 220.3,1318.9 222.8,1316.9 225.5,1314.8 227.6,1313.0 229.8,1311.2 232.1,1309.4 234.3,1307.5 236.6,1305.6 238.8,1303.5 241.1,1301.4 243.5,1299.1 245.8,1296.6 248.2,1293.9 250.6,1291.0 252.3,1288.7 254.1,1286.3 255.9,1283.6 257.8,1280.8 259.8,1277.8 261.7,1274.8 263.7,1271.7 265.6,1268.6 267.5,1265.6 269.3,1262.6 271.1,1259.7 272.8,1257.0 274.3,1254.5 275.7,1252.2 277.0,1250.1 278.1,1248.4 281.0,1243.9 281.4,1243.2 283.1,1240.4 284.3,1238.5 285.7,1236.3 287.2,1233.9 288.9,1231.3 290.6,1228.5 292.5,1225.5 294.4,1222.5 296.4,1219.3 298.5,1216.1 300.6,1212.9 302.1,1210.6 303.7,1208.2 305.4,1205.7 307.2,1203.0 309.1,1200.3 311.0,1197.5 312.9,1194.7 314.8,1191.9 316.6,1189.2 318.4,1186.5 320.1,1184.0 321.8,1181.6 323.3,1179.3 324.6,1177.3 325.8,1175.5 328.9,1171.0 330.4,1168.6 331.7,1166.6 333.7,1163.2 335.2,1161.2 336.8,1158.9 338.6,1156.4 340.4,1153.8 342.3,1151.0 344.3,1148.1 346.2,1145.1 348.2,1142.0 350.0,1138.8 351.4,1136.1 352.8,1133.3 354.2,1130.3 355.6,1127.3 357.1,1124.3 358.4,1121.2 359.8,1118.1 361.2,1115.0 362.5,1112.0 363.8,1109.0 365.1,1106.1 366.5,1103.0 367.8,1099.9 369.1,1096.9 370.4,1093.8 371.7,1090.8 372.9,1087.8 374.2,1084.8 375.3,1081.9 376.5,1078.9 377.7,1076.0 378.9,1072.8 380.1,1069.7 381.3,1066.6 382.4,1063.5 383.5,1060.4 384.6,1057.3 385.7,1054.3 386.7,1051.4 387.7,1048.4 388.8,1045.1 389.8,1042.0 390.7,1038.9 391.6,1035.8 392.5,1032.7 393.4,1029.7 394.3,1026.5 395.2,1023.3 396.0,1020.3 396.9,1017.2 397.7,1014.0 398.5,1010.8 399.3,1007.6 400.1,1004.5 400.9,1001.4 401.6,998.4 402.3,995.6 402.9,992.1 403.5,988.6 404.0,985.4 404.4,982.2 404.8,979.3 405.2,976.5 405.7,974.0 406.8,970.2 407.9,967.1 409.0,964.3 410.2,961.3Z"/>
<path d="M443.7,915.4 440.9,917.3 437.4,919.8 435.3,921.4 432.8,923.2 430.2,925.1 427.5,927.1 424.9,929.0 425.1,929.5 427.7,927.5 430.4,925.5 433.1,923.5 435.5,921.7 437.6,920.2 441.1,917.6 443.8,915.6Z"/>
<path d="M411.2,961.4 414.0,962.6 416.9,963.7 419.7,964.8 422.4,966.1 424.9,967.6 427.7,969.8 430.3,972.2 432.7,974.8 434.9,977.6 436.9,980.5 438.8,983.7 440.6,986.9 442.4,990.1 442.6,989.9 440.8,986.8 439.0,983.5 437.2,980.4 435.1,977.4 432.9,974.7 430.5,972.0 427.9,969.6 425.1,967.4 422.5,965.9 419.8,964.6 417.0,963.5 414.1,962.3 411.3,961.1Z"/>
<path d="M1646.9,313.5 1649.5,311.9 1652.1,310.3 1654.7,308.7 1657.4,307.1 1660.0,305.5 1662.6,303.9 1665.2,302.3 1667.8,300.8 1670.3,299.3 1672.7,297.9 1675.8,296.1 1678.9,294.3 1682.0,292.6 1685.0,290.9 1687.9,289.4 1690.6,288.0 1693.1,286.7 1695.3,285.7 1699.0,284.1 1701.3,283.6 1705.2,282.7 1707.9,282.0 1711.1,281.1 1714.7,280.2 1718.4,279.2 1722.0,278.3 1725.3,277.6 1728.1,277.0 1731.7,276.3 1734.3,275.9 1736.7,275.8 1740.0,275.8 1742.8,276.0 1746.1,276.2 1749.6,276.5 1753.1,277.0 1756.6,277.6 1759.8,278.3 1762.8,279.2 1765.7,280.4 1768.6,281.6 1771.4,283.0 1774.2,284.4 1777.1,285.8 1780.0,287.1 1782.9,288.5 1785.7,289.9 1788.6,291.4 1791.6,292.9 1794.6,294.5 1797.3,295.9 1800.0,297.4 1802.8,299.0 1805.6,300.5 1808.5,302.1 1811.3,303.7 1814.1,305.2 1814.9,303.8 1812.1,302.2 1809.3,300.6 1806.5,299.0 1803.6,297.5 1800.8,295.9 1798.1,294.4 1795.4,293.0 1792.4,291.4 1789.4,289.9 1786.5,288.4 1783.6,287.0 1780.8,285.6 1777.9,284.2 1775.0,282.9 1772.1,281.5 1769.3,280.1 1766.3,278.8 1763.3,277.6 1760.2,276.7 1756.9,275.9 1753.3,275.3 1749.8,274.9 1746.2,274.5 1743.0,274.3 1740.0,274.2 1736.7,274.1 1734.1,274.3 1731.4,274.8 1727.9,275.5 1725.0,276.2 1721.7,276.9 1718.1,277.8 1714.3,278.8 1710.8,279.7 1707.5,280.6 1704.8,281.3 1701.0,282.1 1698.5,282.7 1694.7,284.3 1692.5,285.5 1690.0,286.8 1687.3,288.3 1684.5,290.0 1681.5,291.7 1678.4,293.5 1675.3,295.3 1672.3,297.1 1669.9,298.6 1667.4,300.1 1664.8,301.7 1662.3,303.3 1659.7,304.9 1657.0,306.5 1654.4,308.2 1651.8,309.8 1649.2,311.4 1646.6,313.0Z"/>
<path d="M1666.4,360.2 1669.5,359.6 1672.6,359.0 1675.7,358.4 1678.8,357.8 1681.9,357.2 1685.1,356.7 1688.2,356.1 1691.3,355.6 1694.5,355.1 1697.6,354.6 1700.9,354.1 1704.3,353.7 1707.8,353.3 1711.4,352.9 1714.9,352.6 1718.4,352.2 1721.7,351.9 1724.7,351.7 1727.6,351.5 1730.0,351.3 1734.5,351.2 1737.4,351.4 1740.0,351.7 1743.7,352.1 1746.5,352.3 1749.6,352.5 1752.9,352.8 1756.3,353.1 1759.7,353.5 1763.0,354.0 1766.0,354.6 1769.4,355.5 1772.5,356.6 1775.6,357.8 1778.6,359.2 1781.6,360.6 1784.6,362.0 1787.7,363.5 1790.8,365.2 1793.9,366.9 1796.9,368.6 1799.6,370.3 1802.1,371.8 1805.1,374.0 1807.6,376.1 1809.9,378.2 1812.2,380.3 1814.8,382.5 1817.3,384.6 1819.7,386.8 1821.8,389.4 1823.5,392.3 1825.0,395.4 1826.2,398.9 1827.3,402.5 1828.1,405.8 1828.7,409.2 1829.3,412.8 1829.8,416.5 1830.4,420.0 1830.6,420.0 1830.1,416.4 1829.6,412.8 1829.0,409.2 1828.4,405.7 1827.7,402.5 1826.6,398.7 1825.4,395.3 1823.9,392.1 1822.2,389.1 1820.1,386.4 1817.8,384.1 1815.2,381.9 1812.8,379.7 1810.6,377.5 1808.4,375.3 1805.9,373.0 1802.9,370.7 1800.4,369.0 1797.7,367.3 1794.7,365.5 1791.6,363.7 1788.5,362.0 1785.4,360.5 1782.4,359.0 1779.3,357.6 1776.3,356.2 1773.1,355.0 1769.9,353.9 1766.5,352.9 1763.3,352.3 1759.9,351.8 1756.5,351.4 1753.0,351.1 1749.7,350.8 1746.6,350.6 1743.8,350.4 1740.2,350.0 1737.6,349.7 1734.6,349.5 1730.0,349.7 1727.4,349.8 1724.6,350.0 1721.5,350.3 1718.2,350.5 1714.8,350.9 1711.2,351.2 1707.7,351.6 1704.1,352.0 1700.7,352.5 1697.4,352.9 1694.2,353.4 1691.0,353.9 1687.9,354.5 1684.8,355.1 1681.6,355.7 1678.5,356.3 1675.4,356.9 1672.3,357.6 1669.2,358.2 1666.1,358.8Z"/>
<path d="M1804.8,422.3 1802.0,420.9 1799.2,419.4 1796.4,418.0 1793.5,416.6 1790.7,415.3 1787.8,414.2 1784.4,413.1 1780.9,412.2 1777.5,411.5 1774.0,411.0 1770.5,410.8 1767.5,410.9 1764.4,411.2 1761.4,411.7 1758.3,412.3 1755.2,413.1 1752.2,414.1 1749.1,415.2 1746.0,416.5 1742.9,418.0 1739.9,419.5 1737.1,421.2 1734.4,422.8 1731.5,424.8 1728.9,426.9 1726.5,429.1 1724.1,431.5 1721.6,434.2 1719.7,436.3 1717.8,438.6 1715.9,441.0 1714.1,443.6 1712.2,446.2 1710.5,449.0 1708.8,451.9 1707.5,454.5 1706.2,457.2 1705.1,459.9 1703.9,462.8 1702.9,465.7 1701.8,468.6 1700.8,471.6 1699.9,474.6 1698.9,477.6 1698.0,480.7 1697.2,483.8 1696.4,487.0 1695.6,490.1 1694.8,493.3 1694.0,496.4 1693.2,499.5 1692.3,502.6 1691.4,505.6 1690.4,508.7 1689.5,511.8 1688.5,514.9 1687.6,518.1 1686.7,521.3 1685.9,524.6 1685.2,527.6 1684.6,530.6 1684.0,533.7 1683.4,536.8 1682.9,539.9 1682.4,543.0 1681.9,546.1 1681.5,549.2 1681.1,552.3 1680.7,555.4 1680.3,558.5 1679.9,561.6 1679.6,564.7 1679.3,567.8 1679.0,570.9 1678.8,574.0 1678.7,577.0 1678.6,580.0 1678.5,583.3 1678.6,586.5 1678.8,589.7 1679.0,592.8 1679.2,595.9 1679.5,599.0 1679.7,602.0 1679.8,605.1 1679.9,608.7 1680.0,612.5 1680.1,616.4 1680.2,620.1 1680.2,623.6 1680.3,626.5 1680.3,628.8 1679.4,628.8 1678.5,631.2 1678.5,633.1 1678.5,635.3 1678.5,637.8 1678.5,640.6 1678.5,643.6 1678.5,646.8 1678.5,650.2 1678.5,653.7 1678.5,657.2 1678.5,660.8 1678.5,664.5 1678.4,668.1 1678.4,671.6 1678.4,675.0 1678.4,677.9 1678.3,680.9 1678.3,683.9 1678.2,687.0 1678.2,690.1 1678.1,693.2 1678.1,696.4 1678.0,699.6 1678.0,702.7 1677.9,705.9 1677.9,709.1 1677.8,712.3 1677.8,715.5 1677.8,718.7 1677.8,721.9 1677.8,725.0 1677.8,728.2 1677.8,731.4 1677.8,734.6 1677.9,737.9 1677.9,741.1 1678.0,744.4 1678.0,747.6 1678.1,750.9 1678.1,754.1 1678.2,757.3 1678.3,760.4 1678.4,763.5 1678.4,766.5 1678.5,769.5 1678.6,772.3 1678.7,775.1 1678.8,778.7 1678.9,782.0 1679.0,785.2 1679.1,788.3 1679.3,791.2 1679.4,794.1 1679.5,797.0 1679.7,799.9 1679.8,802.9 1679.9,806.0 1680.0,809.2 1680.1,812.6 1680.1,815.5 1680.2,818.4 1680.2,821.4 1680.3,824.5 1680.3,827.6 1680.4,830.7 1680.4,833.9 1680.4,837.1 1680.4,840.4 1680.5,843.7 1680.5,846.9 1680.5,850.2 1680.5,853.5 1680.6,856.8 1680.6,860.1 1680.6,863.1 1680.7,866.2 1680.7,869.3 1680.7,872.4 1680.8,875.5 1680.8,878.6 1680.8,881.8 1680.9,884.9 1680.9,888.1 1680.9,891.2 1681.0,894.4 1681.0,897.5 1681.1,900.7 1681.1,903.8 1681.1,907.0 1681.2,910.1 1681.3,913.2 1681.3,916.3 1681.4,919.5 1681.5,922.6 1681.5,925.7 1681.6,928.9 1681.7,932.0 1681.8,935.1 1681.8,938.2 1681.9,941.4 1682.0,944.5 1682.1,947.6 1682.2,950.8 1682.3,953.9 1682.4,957.0 1682.5,960.1 1682.5,963.3 1682.6,966.4 1682.7,969.5 1682.8,972.6 1682.9,975.8 1683.0,978.9 1683.1,982.0 1683.2,985.1 1683.3,988.3 1683.4,991.4 1683.5,994.5 1683.6,997.7 1683.7,1000.8 1683.9,1004.0 1684.0,1007.1 1684.2,1010.2 1684.4,1013.4 1684.6,1016.5 1684.8,1019.7 1685.0,1022.8 1685.2,1025.9 1685.4,1029.1 1685.6,1032.2 1685.9,1035.3 1686.1,1038.5 1686.4,1041.6 1686.6,1044.7 1686.9,1047.9 1687.2,1051.0 1687.4,1054.1 1687.7,1057.3 1688.0,1060.4 1688.2,1063.5 1688.5,1066.6 1688.8,1069.8 1689.1,1072.9 1689.4,1076.0 1689.6,1079.2 1689.9,1082.3 1690.2,1085.4 1690.5,1088.6 1690.9,1091.7 1691.2,1094.9 1691.5,1098.0 1691.9,1101.1 1692.2,1104.3 1692.6,1107.4 1693.0,1110.6 1693.4,1113.7 1693.8,1116.9 1694.3,1120.0 1694.7,1123.1 1695.2,1126.3 1695.7,1129.4 1696.2,1132.6 1696.7,1135.7 1697.2,1138.8 1697.7,1141.9 1698.2,1145.1 1698.7,1148.2 1699.2,1151.3 1699.7,1154.4 1700.2,1157.5 1700.6,1160.7 1701.1,1163.8 1701.6,1167.0 1702.1,1170.2 1702.6,1173.5 1703.1,1176.8 1703.6,1180.0 1704.1,1183.3 1704.6,1186.6 1705.1,1189.8 1705.6,1193.0 1706.1,1196.1 1706.6,1199.2 1707.1,1202.2 1707.5,1205.1 1708.0,1207.9 1708.5,1210.7 1709.2,1214.4 1709.9,1218.1 1710.6,1221.6 1711.2,1225.0 1711.9,1228.2 1712.6,1231.4 1713.2,1234.4 1713.9,1237.3 1714.5,1240.2 1715.1,1242.9 1715.7,1245.6 1716.7,1249.5 1717.6,1252.8 1718.5,1255.9 1719.3,1258.8 1720.2,1261.8 1721.0,1264.9 1721.9,1268.4 1722.4,1271.1 1723.0,1273.9 1723.6,1276.9 1724.2,1280.0 1724.8,1283.1 1725.4,1286.3 1725.9,1289.4 1726.5,1292.4 1727.0,1295.4 1727.6,1298.2 1728.1,1301.6 1728.7,1304.9 1729.3,1308.2 1729.8,1311.4 1730.3,1314.5 1730.8,1317.5 1731.2,1320.4 1731.7,1323.1 1732.2,1327.1 1732.6,1330.6 1733.0,1333.9 1733.4,1337.2 1733.8,1340.6 1735.2,1340.4 1734.9,1337.0 1734.6,1333.8 1734.2,1330.5 1733.8,1326.9 1733.3,1322.9 1733.0,1320.1 1732.6,1317.3 1732.3,1314.3 1731.8,1311.1 1731.4,1307.9 1730.9,1304.6 1730.4,1301.2 1729.9,1297.8 1729.6,1295.0 1729.2,1292.0 1728.7,1288.9 1728.3,1285.8 1727.9,1282.6 1727.4,1279.5 1727.0,1276.4 1726.5,1273.3 1726.1,1270.4 1725.6,1267.6 1725.1,1264.0 1724.6,1260.8 1724.0,1257.7 1723.5,1254.7 1723.0,1251.6 1722.4,1248.3 1721.8,1244.4 1721.4,1241.7 1720.9,1239.0 1720.5,1236.1 1720.0,1233.2 1719.6,1230.1 1719.1,1227.0 1718.6,1223.7 1718.1,1220.3 1717.6,1216.8 1717.1,1213.1 1716.5,1209.3 1716.1,1206.6 1715.7,1203.8 1715.3,1200.9 1714.8,1197.9 1714.4,1194.9 1713.9,1191.7 1713.5,1188.5 1713.0,1185.3 1712.6,1182.1 1712.1,1178.8 1711.6,1175.5 1711.2,1172.2 1710.7,1169.0 1710.3,1165.7 1709.8,1162.5 1709.4,1159.3 1708.9,1156.2 1708.4,1153.1 1707.9,1149.9 1707.4,1146.8 1707.0,1143.7 1706.5,1140.6 1706.0,1137.4 1705.5,1134.3 1705.0,1131.2 1704.6,1128.1 1704.1,1125.0 1703.7,1121.9 1703.2,1118.7 1702.8,1115.6 1702.4,1112.5 1702.0,1109.4 1701.6,1106.3 1701.3,1103.2 1700.9,1100.1 1700.6,1097.0 1700.2,1093.9 1699.9,1090.8 1699.6,1087.7 1699.3,1084.6 1699.0,1081.4 1698.7,1078.3 1698.4,1075.2 1698.1,1072.1 1697.9,1069.0 1697.6,1065.9 1697.3,1062.7 1697.0,1059.6 1696.8,1056.5 1696.5,1053.4 1696.2,1050.2 1696.0,1047.1 1695.7,1044.0 1695.4,1040.9 1695.2,1037.8 1695.0,1034.7 1694.7,1031.5 1694.5,1028.4 1694.3,1025.3 1694.1,1022.2 1693.9,1019.1 1693.7,1016.0 1693.5,1012.9 1693.3,1009.8 1693.1,1006.6 1693.0,1003.5 1692.8,1000.4 1692.7,997.3 1692.6,994.2 1692.5,991.1 1692.4,988.0 1692.3,984.9 1692.2,981.7 1692.1,978.6 1692.0,975.5 1691.9,972.4 1691.8,969.2 1691.7,966.1 1691.6,963.0 1691.5,959.9 1691.5,956.7 1691.4,953.6 1691.3,950.5 1691.2,947.4 1691.1,944.3 1691.0,941.1 1690.9,938.0 1690.9,934.9 1690.8,931.8 1690.7,928.6 1690.6,925.5 1690.6,922.4 1690.5,919.3 1690.4,916.2 1690.4,913.0 1690.3,909.9 1690.2,906.8 1690.2,903.7 1690.1,900.5 1690.0,897.4 1690.0,894.2 1689.9,891.1 1689.9,887.9 1689.8,884.8 1689.8,881.6 1689.7,878.5 1689.7,875.4 1689.6,872.3 1689.6,869.2 1689.5,866.1 1689.5,863.0 1689.4,859.9 1689.3,856.7 1689.3,853.4 1689.2,850.1 1689.2,846.8 1689.1,843.6 1689.1,840.3 1689.0,837.0 1688.9,833.8 1688.9,830.6 1688.8,827.4 1688.8,824.3 1688.7,821.2 1688.6,818.2 1688.5,815.3 1688.4,812.4 1688.3,808.9 1688.1,805.6 1688.0,802.5 1687.8,799.5 1687.6,796.6 1687.4,793.7 1687.2,790.8 1687.0,787.8 1686.9,784.8 1686.7,781.7 1686.5,778.4 1686.3,774.9 1686.2,772.1 1686.1,769.2 1686.0,766.3 1685.9,763.3 1685.7,760.2 1685.6,757.1 1685.5,753.9 1685.4,750.7 1685.3,747.5 1685.2,744.2 1685.1,741.0 1685.0,737.7 1684.9,734.5 1684.8,731.3 1684.8,728.1 1684.7,725.0 1684.7,721.9 1684.7,718.7 1684.7,715.6 1684.7,712.4 1684.7,709.2 1684.8,706.0 1684.8,702.8 1684.8,699.7 1684.9,696.5 1684.9,693.3 1685.0,690.2 1685.0,687.1 1685.0,684.0 1685.1,681.0 1685.1,678.0 1685.1,675.0 1685.1,671.6 1685.1,668.1 1685.1,664.5 1685.1,660.8 1685.1,657.2 1685.1,653.6 1685.1,650.2 1685.1,646.8 1685.0,643.6 1685.0,640.6 1685.0,637.8 1685.0,635.3 1685.0,633.1 1685.0,631.3 1684.1,628.8 1683.2,628.7 1683.2,626.5 1683.1,623.5 1683.1,620.1 1683.0,616.4 1682.9,612.5 1682.8,608.6 1682.7,604.9 1682.5,601.9 1682.3,598.8 1682.1,595.7 1681.9,592.6 1681.7,589.5 1681.5,586.4 1681.4,583.2 1681.4,580.0 1681.5,577.1 1681.7,574.1 1681.9,571.1 1682.2,568.1 1682.4,565.0 1682.8,561.9 1683.1,558.8 1683.5,555.8 1683.9,552.7 1684.4,549.6 1684.9,546.6 1685.4,543.5 1685.9,540.4 1686.5,537.3 1687.1,534.3 1687.8,531.3 1688.4,528.3 1689.1,525.4 1690.0,522.2 1690.9,519.1 1691.9,516.0 1692.9,512.9 1693.9,509.8 1694.9,506.7 1695.9,503.6 1696.8,500.5 1697.6,497.3 1698.3,494.1 1699.0,490.9 1699.7,487.7 1700.4,484.6 1701.1,481.5 1701.8,478.4 1702.6,475.4 1703.6,472.5 1704.5,469.5 1705.5,466.6 1706.5,463.8 1707.6,461.0 1708.7,458.3 1709.9,455.6 1711.2,453.1 1712.7,450.4 1714.4,447.7 1716.1,445.1 1718.0,442.6 1719.8,440.2 1721.6,437.9 1723.4,435.8 1725.8,433.1 1728.1,430.8 1730.4,428.6 1732.8,426.6 1735.6,424.7 1738.2,423.0 1741.0,421.4 1743.9,419.8 1746.9,418.3 1749.9,417.0 1752.8,415.9 1755.8,415.0 1758.7,414.2 1761.7,413.6 1764.7,413.1 1767.6,412.8 1770.5,412.7 1773.9,412.8 1777.2,413.2 1780.5,413.9 1783.9,414.8 1787.2,415.8 1790.0,416.8 1792.8,418.1 1795.6,419.4 1798.5,420.9 1801.3,422.3 1804.2,423.7Z"/>
<path d="M1800.5,464.8 1797.3,464.6 1794.2,464.4 1790.9,464.2 1787.5,464.3 1784.6,464.4 1781.5,464.5 1778.4,464.8 1775.3,465.2 1772.3,466.1 1769.3,467.2 1766.3,468.6 1763.4,470.2 1760.6,472.2 1758.1,474.4 1755.9,477.0 1754.0,479.9 1752.3,483.0 1750.6,486.1 1748.7,489.3 1747.2,491.9 1745.4,494.6 1743.7,497.4 1741.9,500.3 1740.2,503.5 1738.7,506.9 1737.6,509.7 1736.5,512.6 1735.5,515.7 1734.5,518.8 1733.6,522.0 1732.7,525.3 1731.8,528.7 1730.9,532.1 1730.2,534.9 1729.5,537.7 1728.8,540.5 1728.1,543.4 1727.5,546.3 1726.8,549.4 1726.2,552.4 1725.6,555.6 1725.0,558.8 1724.4,562.2 1723.9,565.0 1723.4,567.9 1722.9,570.7 1722.4,573.7 1721.9,576.7 1721.5,579.7 1721.0,582.8 1720.6,586.0 1720.1,589.3 1719.7,592.7 1719.3,596.2 1718.9,599.8 1718.6,602.6 1718.3,605.4 1717.9,608.4 1717.6,611.4 1717.3,614.5 1717.1,617.6 1716.8,620.8 1716.5,624.0 1716.2,627.3 1715.9,630.5 1715.7,633.8 1715.4,637.0 1715.1,640.3 1714.9,643.5 1714.6,646.7 1714.4,649.8 1714.2,652.9 1714.0,656.1 1713.7,659.2 1713.5,662.3 1713.3,665.4 1713.1,668.6 1712.9,671.7 1712.7,674.8 1712.6,678.0 1712.4,681.1 1712.2,684.2 1712.0,687.3 1711.9,690.5 1711.7,693.6 1711.6,696.7 1711.4,699.9 1711.3,703.0 1711.1,706.1 1711.0,709.3 1710.9,712.4 1710.7,715.5 1710.6,718.7 1710.5,721.8 1710.4,724.9 1710.3,728.0 1710.2,731.2 1710.1,734.3 1710.0,737.4 1709.9,740.5 1709.8,743.7 1709.7,746.8 1709.7,749.9 1709.6,753.1 1709.5,756.3 1709.4,759.5 1709.4,762.7 1709.3,766.0 1709.2,769.2 1709.1,772.5 1709.1,775.7 1709.0,778.9 1709.0,782.1 1708.9,785.2 1708.9,788.3 1708.8,791.4 1708.8,794.3 1708.8,797.2 1708.8,800.0 1708.7,803.6 1708.8,807.2 1708.8,810.7 1708.8,814.1 1708.9,817.4 1709.0,820.6 1709.0,823.7 1709.1,826.7 1709.2,829.6 1709.2,832.4 1709.3,835.0 1709.4,837.6 1709.4,841.4 1709.5,844.3 1709.6,846.9 1709.6,849.3 1709.7,852.1 1709.8,855.6 1709.9,860.1 1709.9,862.4 1709.9,865.0 1710.0,867.7 1710.0,870.6 1710.0,873.6 1710.0,876.8 1710.1,880.0 1710.1,883.3 1710.1,886.7 1710.2,890.1 1710.2,893.5 1710.3,896.9 1710.3,900.3 1710.4,903.7 1710.5,906.9 1710.6,910.1 1710.7,913.3 1710.8,916.4 1710.9,919.6 1711.1,922.7 1711.2,925.8 1711.4,929.0 1711.5,932.1 1711.7,935.2 1711.8,938.4 1712.0,941.5 1712.2,944.6 1712.4,947.8 1712.5,950.9 1712.7,954.0 1712.9,957.1 1713.1,960.3 1713.3,963.4 1713.5,966.5 1713.7,969.7 1713.9,972.8 1714.1,975.9 1714.3,979.0 1714.5,982.2 1714.8,985.3 1715.0,988.5 1715.2,991.6 1715.5,994.7 1715.7,997.9 1716.0,1001.0 1716.3,1004.1 1716.6,1007.3 1716.9,1010.4 1717.2,1013.6 1717.5,1016.7 1717.9,1019.9 1718.2,1023.0 1718.6,1026.1 1719.0,1029.3 1719.4,1032.4 1719.8,1035.6 1720.2,1038.7 1720.6,1041.8 1721.0,1045.0 1721.4,1048.1 1721.9,1051.2 1722.3,1054.3 1722.7,1057.5 1723.1,1060.6 1723.6,1063.7 1724.0,1066.9 1724.5,1070.0 1725.0,1073.2 1725.4,1076.3 1725.9,1079.4 1726.4,1082.6 1726.9,1085.7 1727.4,1088.8 1727.9,1091.9 1728.4,1095.0 1728.8,1098.2 1729.3,1101.3 1729.8,1104.4 1730.2,1107.5 1730.6,1110.6 1731.1,1113.7 1731.5,1116.8 1731.9,1119.9 1732.3,1123.0 1732.7,1126.1 1733.1,1129.3 1733.4,1132.4 1733.8,1135.5 1734.2,1138.6 1734.6,1141.8 1735.0,1144.9 1735.4,1148.0 1735.8,1151.2 1736.2,1154.3 1736.6,1157.4 1737.0,1160.6 1737.5,1163.7 1738.0,1167.0 1738.5,1170.2 1739.1,1173.5 1739.6,1176.7 1740.2,1180.0 1740.7,1183.3 1741.3,1186.5 1741.8,1189.8 1742.4,1192.9 1742.9,1196.1 1743.4,1199.1 1743.9,1202.1 1744.3,1205.0 1744.8,1207.8 1745.2,1210.5 1745.8,1214.2 1746.3,1217.9 1746.8,1221.4 1747.3,1224.9 1747.7,1228.2 1748.2,1231.4 1748.6,1234.4 1749.0,1237.4 1749.4,1240.1 1749.7,1242.8 1750.1,1245.3 1750.7,1249.2 1751.3,1252.3 1751.9,1254.9 1752.4,1257.3 1752.8,1259.9 1753.1,1263.1 1753.2,1265.9 1753.3,1269.0 1753.3,1272.2 1753.2,1275.6 1753.2,1279.0 1753.1,1282.5 1753.1,1285.9 1753.1,1289.2 1756.9,1289.3 1756.9,1285.9 1757.0,1282.5 1757.0,1279.1 1757.1,1275.6 1757.1,1272.2 1757.1,1269.0 1757.0,1265.8 1756.9,1262.9 1756.7,1259.5 1756.4,1256.7 1756.1,1254.2 1755.7,1251.6 1755.3,1248.6 1754.9,1244.7 1754.7,1242.2 1754.5,1239.6 1754.4,1236.8 1754.2,1233.9 1754.0,1230.8 1753.8,1227.6 1753.6,1224.2 1753.3,1220.7 1753.0,1217.1 1752.7,1213.4 1752.3,1209.5 1752.0,1206.8 1751.6,1203.9 1751.2,1201.0 1750.8,1198.0 1750.4,1194.9 1750.0,1191.8 1749.5,1188.6 1749.0,1185.3 1748.6,1182.1 1748.1,1178.8 1747.6,1175.5 1747.2,1172.2 1746.7,1169.0 1746.3,1165.7 1745.9,1162.6 1745.5,1159.4 1745.0,1156.3 1744.7,1153.2 1744.3,1150.1 1743.9,1147.0 1743.5,1143.9 1743.1,1140.7 1742.8,1137.6 1742.4,1134.5 1742.1,1131.4 1741.7,1128.2 1741.3,1125.1 1741.0,1122.0 1740.6,1118.8 1740.2,1115.7 1739.8,1112.5 1739.4,1109.4 1738.9,1106.3 1738.5,1103.1 1738.0,1100.0 1737.5,1096.8 1737.1,1093.7 1736.6,1090.6 1736.1,1087.4 1735.6,1084.3 1735.1,1081.2 1734.6,1078.1 1734.1,1075.0 1733.7,1071.8 1733.2,1068.7 1732.7,1065.6 1732.3,1062.5 1731.9,1059.4 1731.4,1056.3 1731.0,1053.2 1730.6,1050.0 1730.2,1046.9 1729.7,1043.8 1729.3,1040.7 1728.9,1037.6 1728.5,1034.4 1728.1,1031.3 1727.7,1028.2 1727.3,1025.1 1727.0,1022.0 1726.6,1018.9 1726.3,1015.8 1725.9,1012.7 1725.6,1009.6 1725.3,1006.5 1725.0,1003.4 1724.8,1000.2 1724.5,997.1 1724.2,994.0 1724.0,990.9 1723.8,987.8 1723.5,984.7 1723.3,981.6 1723.1,978.5 1722.9,975.3 1722.7,972.2 1722.5,969.1 1722.3,966.0 1722.1,962.8 1721.9,959.7 1721.7,956.6 1721.5,953.5 1721.3,950.4 1721.1,947.2 1721.0,944.1 1720.8,941.0 1720.6,937.9 1720.5,934.8 1720.3,931.7 1720.1,928.5 1720.0,925.4 1719.9,922.3 1719.7,919.2 1719.6,916.1 1719.5,913.0 1719.4,909.9 1719.3,906.7 1719.2,903.5 1719.1,900.1 1719.1,896.8 1719.0,893.4 1719.0,890.0 1718.9,886.6 1718.9,883.2 1718.9,879.9 1718.8,876.7 1718.8,873.6 1718.8,870.5 1718.7,867.6 1718.7,864.9 1718.7,862.3 1718.6,859.9 1718.6,855.4 1718.5,851.9 1718.4,849.1 1718.4,846.6 1718.3,844.1 1718.2,841.2 1718.1,837.4 1718.1,834.8 1718.0,832.1 1717.9,829.4 1717.8,826.5 1717.7,823.5 1717.6,820.4 1717.5,817.2 1717.4,813.9 1717.4,810.5 1717.3,807.1 1717.3,803.6 1717.2,800.0 1717.2,797.2 1717.2,794.4 1717.3,791.4 1717.3,788.4 1717.3,785.4 1717.3,782.2 1717.4,779.1 1717.4,775.9 1717.5,772.6 1717.5,769.4 1717.6,766.1 1717.6,762.9 1717.7,759.6 1717.7,756.4 1717.8,753.2 1717.8,750.1 1717.9,747.0 1717.9,743.8 1717.9,740.7 1718.0,737.6 1718.0,734.5 1718.0,731.3 1718.1,728.2 1718.1,725.1 1718.2,722.0 1718.2,718.8 1718.3,715.7 1718.3,712.6 1718.4,709.5 1718.4,706.4 1718.5,703.3 1718.6,700.1 1718.7,697.0 1718.8,693.9 1718.9,690.8 1719.0,687.7 1719.1,684.5 1719.2,681.4 1719.3,678.3 1719.4,675.2 1719.6,672.0 1719.7,668.9 1719.8,665.8 1720.0,662.7 1720.1,659.6 1720.3,656.4 1720.4,653.3 1720.6,650.2 1720.7,647.0 1720.9,643.9 1721.1,640.6 1721.2,637.4 1721.4,634.1 1721.6,630.9 1721.8,627.6 1722.0,624.4 1722.1,621.2 1722.3,618.0 1722.5,614.9 1722.7,611.8 1723.0,608.8 1723.2,605.9 1723.4,603.0 1723.6,600.2 1723.9,596.7 1724.3,593.2 1724.6,589.8 1725.0,586.6 1725.3,583.4 1725.7,580.3 1726.1,577.3 1726.5,574.3 1726.9,571.4 1727.3,568.5 1727.7,565.6 1728.1,562.8 1728.7,559.5 1729.2,556.3 1729.8,553.1 1730.4,550.1 1731.0,547.1 1731.6,544.2 1732.2,541.3 1732.8,538.5 1733.5,535.7 1734.1,532.9 1735.0,529.5 1735.8,526.1 1736.6,522.9 1737.5,519.7 1738.4,516.6 1739.3,513.6 1740.3,510.7 1741.3,508.1 1742.8,504.8 1744.5,501.7 1746.2,498.9 1747.9,496.1 1749.6,493.4 1751.3,490.7 1752.9,487.3 1754.4,484.0 1755.9,480.9 1757.5,478.1 1759.4,475.6 1761.7,473.5 1764.3,471.6 1767.0,469.9 1769.9,468.6 1772.7,467.4 1775.6,466.7 1778.6,466.2 1781.6,465.9 1784.6,465.8 1787.5,465.7 1790.9,465.7 1794.1,465.8 1797.3,466.0 1800.5,466.2Z"/>
<path d="M1802.3,498.6 1800.9,501.4 1799.6,504.2 1798.2,507.0 1796.7,509.7 1794.7,512.2 1792.6,514.2 1790.1,516.0 1787.4,517.8 1784.7,519.6 1782.0,521.4 1779.5,523.2 1776.9,525.4 1774.4,527.5 1772.1,529.6 1769.9,531.9 1767.9,534.5 1766.2,537.1 1764.8,539.8 1763.5,542.7 1762.3,545.9 1761.1,549.6 1760.4,552.2 1759.6,554.9 1758.9,557.8 1758.3,560.8 1757.6,564.0 1757.0,567.3 1756.3,570.9 1755.6,574.7 1755.1,577.3 1754.6,580.1 1754.1,582.9 1753.6,585.8 1753.1,588.8 1752.6,591.9 1752.1,595.0 1751.6,598.3 1751.2,601.6 1750.7,605.1 1750.2,608.6 1749.7,612.2 1749.3,615.0 1749.0,617.8 1748.6,620.8 1748.2,623.8 1747.9,626.9 1747.5,630.0 1747.1,633.2 1746.8,636.4 1746.4,639.6 1746.0,642.9 1745.7,646.2 1745.4,649.4 1745.0,652.7 1744.7,655.9 1744.4,659.1 1744.2,662.2 1743.9,665.4 1743.7,668.5 1743.5,671.7 1743.3,674.8 1743.1,677.9 1742.9,681.1 1742.7,684.2 1742.5,687.3 1742.4,690.5 1742.2,693.6 1742.1,696.7 1741.9,699.9 1741.8,703.0 1741.7,706.1 1741.5,709.2 1741.4,712.4 1741.3,715.5 1741.2,718.6 1741.0,721.8 1740.9,724.9 1740.8,728.0 1740.7,731.2 1740.6,734.3 1740.5,737.4 1740.5,740.5 1740.4,743.7 1740.3,746.8 1740.2,749.9 1740.1,753.0 1740.1,756.2 1740.0,759.3 1739.9,762.4 1739.8,765.6 1739.8,768.7 1739.7,771.8 1739.6,775.0 1739.6,778.1 1739.5,781.3 1739.5,784.4 1739.4,787.6 1739.3,790.7 1739.3,793.9 1739.3,797.0 1739.2,800.1 1739.2,803.2 1739.2,806.3 1739.2,809.4 1739.2,812.5 1739.1,815.7 1739.1,818.9 1739.1,821.9 1739.1,825.0 1739.1,828.0 1739.2,831.0 1739.2,834.0 1739.2,837.1 1739.3,840.1 1739.3,843.2 1739.4,846.4 1739.4,849.7 1739.5,853.0 1739.6,856.5 1739.7,860.1 1739.7,862.9 1739.8,865.9 1739.9,868.9 1740.0,872.1 1740.1,875.3 1740.2,878.6 1740.3,881.9 1740.5,885.3 1740.6,888.6 1740.7,892.0 1740.8,895.4 1741.0,898.7 1741.1,902.0 1741.3,905.3 1741.4,908.5 1741.5,911.6 1741.7,914.5 1741.8,917.4 1742.0,920.2 1742.2,922.8 1742.4,926.8 1742.7,930.5 1743.0,934.0 1743.3,937.2 1743.6,940.3 1743.9,943.3 1744.2,946.1 1744.5,948.9 1744.9,951.7 1745.2,954.5 1745.6,957.4 1745.9,960.5 1746.3,963.6 1746.7,966.8 1747.1,969.9 1747.5,973.0 1747.9,976.2 1748.4,979.3 1748.8,982.4 1749.2,985.6 1749.7,988.7 1750.1,991.8 1750.5,994.9 1750.9,998.0 1751.3,1001.2 1751.8,1004.3 1752.2,1007.4 1752.6,1010.5 1753.0,1013.6 1753.4,1016.8 1753.8,1019.9 1754.2,1023.0 1754.6,1026.2 1755.0,1029.3 1755.5,1032.5 1755.9,1035.6 1756.4,1038.7 1756.9,1041.9 1757.4,1045.0 1757.9,1048.1 1758.4,1051.3 1759.0,1054.4 1759.5,1057.5 1760.1,1060.7 1760.6,1063.8 1761.2,1067.0 1761.8,1070.1 1762.5,1073.3 1763.2,1076.4 1763.9,1079.6 1764.6,1082.7 1765.4,1085.9 1766.1,1089.0 1766.9,1092.1 1767.7,1095.3 1768.5,1098.4 1769.3,1101.5 1770.0,1104.6 1770.8,1107.7 1771.5,1110.8 1772.2,1113.9 1772.9,1117.0 1773.6,1120.1 1774.3,1123.2 1775.0,1126.4 1775.7,1129.5 1776.3,1132.6 1777.0,1135.7 1777.6,1138.7 1778.1,1141.8 1778.7,1144.9 1779.2,1148.0 1779.6,1151.1 1780.0,1154.3 1780.4,1157.5 1780.8,1160.8 1781.1,1164.1 1781.4,1167.3 1781.7,1170.5 1781.9,1173.7 1782.2,1176.8 1782.4,1179.7 1782.7,1182.6 1782.9,1185.3 1783.2,1189.0 1783.5,1192.3 1783.8,1195.3 1784.0,1198.1 1784.2,1200.9 1784.3,1203.8 1784.5,1206.8 1784.7,1210.1 1784.8,1213.0 1784.9,1216.0 1784.9,1219.0 1785.0,1222.1 1785.1,1225.3 1785.1,1228.5 1785.2,1231.7 1785.3,1235.0 1785.3,1238.2 1785.4,1241.3 1792.1,1241.2 1792.0,1238.0 1792.0,1234.8 1791.9,1231.6 1791.8,1228.4 1791.8,1225.2 1791.7,1222.0 1791.6,1218.8 1791.6,1215.7 1791.5,1212.7 1791.3,1209.9 1791.2,1206.5 1791.0,1203.4 1790.8,1200.5 1790.7,1197.7 1790.4,1194.8 1790.2,1191.7 1789.9,1188.4 1789.6,1184.7 1789.4,1182.0 1789.1,1179.2 1788.9,1176.2 1788.6,1173.1 1788.4,1170.0 1788.1,1166.7 1787.8,1163.4 1787.4,1160.1 1787.1,1156.8 1786.7,1153.5 1786.3,1150.2 1785.8,1147.0 1785.3,1143.8 1784.8,1140.7 1784.3,1137.5 1783.7,1134.3 1783.1,1131.2 1782.5,1128.0 1781.8,1124.9 1781.2,1121.8 1780.5,1118.6 1779.8,1115.5 1779.2,1112.4 1778.5,1109.2 1777.8,1106.1 1777.1,1102.9 1776.4,1099.8 1775.7,1096.6 1774.9,1093.5 1774.2,1090.4 1773.4,1087.2 1772.7,1084.1 1772.0,1081.0 1771.3,1077.9 1770.6,1074.8 1770.0,1071.7 1769.4,1068.6 1768.9,1065.5 1768.3,1062.4 1767.8,1059.3 1767.3,1056.2 1766.8,1053.1 1766.3,1050.0 1765.9,1046.9 1765.4,1043.8 1765.0,1040.6 1764.5,1037.5 1764.1,1034.4 1763.6,1031.3 1763.2,1028.2 1762.7,1025.1 1762.3,1022.0 1761.9,1018.8 1761.5,1015.7 1761.1,1012.6 1760.7,1009.5 1760.3,1006.4 1759.9,1003.2 1759.5,1000.1 1759.1,997.0 1758.6,993.8 1758.2,990.7 1757.8,987.6 1757.3,984.4 1756.9,981.3 1756.5,978.2 1756.1,975.1 1755.6,972.0 1755.2,968.8 1754.8,965.7 1754.4,962.6 1754.1,959.5 1753.7,956.5 1753.4,953.5 1753.0,950.7 1752.7,947.9 1752.4,945.2 1752.0,942.4 1751.7,939.5 1751.4,936.5 1751.2,933.3 1750.9,929.9 1750.6,926.2 1750.3,922.2 1750.2,919.7 1750.0,917.0 1749.9,914.1 1749.7,911.2 1749.6,908.1 1749.4,904.9 1749.3,901.7 1749.2,898.4 1749.0,895.1 1748.9,891.7 1748.8,888.3 1748.7,885.0 1748.5,881.6 1748.4,878.3 1748.3,875.0 1748.2,871.8 1748.1,868.7 1748.0,865.6 1747.9,862.7 1747.8,859.9 1747.7,856.3 1747.6,852.8 1747.5,849.5 1747.4,846.2 1747.3,843.1 1747.3,840.0 1747.2,836.9 1747.1,833.9 1747.1,830.9 1747.0,827.9 1747.0,824.9 1746.9,821.9 1746.9,818.8 1746.9,815.7 1746.8,812.5 1746.9,809.5 1746.9,806.4 1746.9,803.3 1746.9,800.2 1747.0,797.1 1747.0,794.0 1747.0,790.9 1747.1,787.7 1747.2,784.6 1747.2,781.4 1747.3,778.3 1747.3,775.1 1747.4,772.0 1747.5,768.8 1747.5,765.7 1747.6,762.6 1747.6,759.5 1747.7,756.3 1747.7,753.2 1747.8,750.1 1747.8,747.0 1747.9,743.8 1747.9,740.7 1748.0,737.6 1748.0,734.5 1748.1,731.3 1748.2,728.2 1748.2,725.1 1748.3,722.0 1748.4,718.9 1748.5,715.8 1748.6,712.6 1748.7,709.5 1748.8,706.4 1748.9,703.3 1749.0,700.1 1749.1,697.0 1749.2,693.9 1749.4,690.8 1749.5,687.7 1749.6,684.5 1749.8,681.4 1749.9,678.3 1750.1,675.2 1750.2,672.1 1750.4,669.0 1750.6,665.9 1750.8,662.8 1751.1,659.6 1751.3,656.4 1751.5,653.2 1751.8,650.0 1752.1,646.8 1752.3,643.5 1752.6,640.3 1752.9,637.0 1753.2,633.8 1753.5,630.7 1753.8,627.5 1754.1,624.4 1754.5,621.4 1754.8,618.5 1755.0,615.6 1755.3,612.8 1755.7,609.2 1756.0,605.7 1756.3,602.3 1756.7,598.9 1757.0,595.7 1757.4,592.5 1757.7,589.4 1758.0,586.4 1758.4,583.5 1758.7,580.7 1759.1,578.0 1759.4,575.3 1759.9,571.5 1760.5,567.9 1761.0,564.6 1761.6,561.4 1762.1,558.4 1762.7,555.6 1763.3,552.9 1763.9,550.4 1764.9,546.7 1765.8,543.5 1766.9,540.7 1768.1,538.1 1769.6,535.5 1771.3,533.1 1773.3,530.8 1775.5,528.7 1777.9,526.5 1780.5,524.3 1782.8,522.4 1785.3,520.6 1788.1,518.8 1790.7,516.9 1793.2,514.9 1795.3,512.8 1797.3,510.1 1798.8,507.3 1800.1,504.5 1801.4,501.7 1802.7,498.9Z"/>
<path d="M1799.2,528.1 1798.6,531.2 1798.0,534.4 1797.4,537.5 1796.8,540.6 1796.2,543.8 1795.7,546.8 1795.3,549.9 1794.9,553.6 1794.6,557.4 1794.3,561.2 1794.1,564.6 1794.0,567.6 1793.8,569.8 1793.0,570.4 1792.1,572.3 1792.0,574.3 1792.0,576.7 1791.9,579.5 1791.8,582.5 1791.7,585.8 1791.6,589.3 1791.5,592.9 1791.4,596.4 1791.4,600.0 1791.3,603.0 1791.3,606.2 1791.3,609.5 1791.4,613.0 1791.4,616.5 1791.4,620.0 1791.4,623.3 1791.4,626.6 1791.4,629.7 1791.4,632.5 1791.4,634.9 1791.1,639.2 1790.8,642.3 1790.4,644.8 1790.0,647.6 1789.7,651.1 1789.4,654.1 1789.2,657.3 1789.0,660.7 1788.8,664.2 1788.6,667.8 1788.4,671.3 1788.2,674.8 1788.0,677.9 1787.8,681.0 1787.6,684.1 1787.4,687.3 1787.2,690.4 1787.0,693.6 1786.8,696.7 1786.7,699.8 1786.5,703.0 1786.3,706.3 1786.1,709.6 1785.9,712.9 1785.7,716.1 1785.5,719.2 1785.3,722.2 1785.2,724.8 1785.0,728.6 1784.8,731.8 1784.7,734.7 1784.5,737.4 1784.4,740.4 1792.1,740.6 1792.1,737.7 1792.2,734.9 1792.2,732.0 1792.2,728.8 1792.3,725.2 1792.4,722.5 1792.5,719.6 1792.7,716.5 1792.8,713.3 1792.9,710.0 1793.1,706.6 1793.2,703.4 1793.3,700.2 1793.5,697.0 1793.6,693.9 1793.7,690.7 1793.8,687.6 1794.0,684.4 1794.1,681.3 1794.2,678.2 1794.3,675.2 1794.5,671.6 1794.6,668.1 1794.8,664.5 1794.9,661.0 1795.1,657.6 1795.2,654.4 1795.3,651.4 1795.5,648.1 1795.7,645.4 1795.9,642.7 1796.1,639.5 1796.1,635.1 1796.2,632.5 1796.2,629.7 1796.2,626.6 1796.2,623.3 1796.2,619.9 1796.2,616.4 1796.1,613.0 1796.1,609.5 1796.1,606.2 1796.1,603.0 1796.1,600.0 1796.2,596.5 1796.3,593.0 1796.3,589.4 1796.4,586.0 1796.5,582.7 1796.6,579.6 1796.7,576.9 1796.8,574.5 1796.9,572.7 1796.5,571.1 1796.2,570.2 1796.3,567.8 1796.4,564.7 1796.5,561.3 1796.7,557.5 1796.9,553.7 1797.2,550.1 1797.6,547.1 1798.1,544.1 1798.6,541.0 1799.1,537.8 1799.7,534.7 1800.3,531.5 1800.8,528.4Z"/>
<path d="M1812.3,485.0 1811.8,488.0 1811.3,491.1 1810.8,494.2 1810.3,497.3 1809.8,500.4 1809.4,503.5 1809.0,506.5 1808.6,509.5 1808.3,512.5 1808.1,515.7 1807.9,518.9 1807.9,522.1 1807.8,525.2 1807.8,528.2 1807.9,531.3 1807.9,534.4 1808.0,537.5 1808.2,540.7 1808.3,544.0 1808.6,547.3 1808.8,550.5 1809.1,553.7 1809.4,556.9 1809.6,559.8 1809.9,562.6 1810.3,566.6 1810.8,570.3 1811.2,573.7 1811.6,576.9 1812.0,580.1 1812.5,583.1 1812.9,585.8 1813.3,588.5 1813.7,591.5 1814.0,595.1 1814.2,597.7 1814.3,600.7 1814.4,603.9 1814.5,607.2 1814.6,610.6 1814.7,613.9 1814.9,617.1 1815.0,620.1 1815.4,623.7 1815.8,627.0 1816.2,630.1 1816.6,633.3 1817.1,636.6 1817.5,640.1 1817.9,643.1 1818.3,646.1 1818.6,649.3 1819.0,652.5 1819.4,655.8 1819.8,659.1 1820.2,662.4 1820.5,665.6 1823.0,665.4 1822.6,662.1 1822.2,658.9 1821.8,655.6 1821.4,652.3 1821.0,649.0 1820.7,645.8 1820.3,642.8 1820.0,639.9 1819.5,636.2 1819.0,632.9 1818.6,629.8 1818.2,626.7 1817.8,623.4 1817.5,619.9 1817.2,617.0 1817.0,613.8 1816.8,610.5 1816.7,607.1 1816.5,603.8 1816.4,600.6 1816.2,597.6 1816.0,594.9 1815.6,591.3 1815.2,588.3 1814.8,585.6 1814.4,582.9 1814.0,579.9 1813.5,576.6 1813.0,573.4 1812.5,570.0 1812.1,566.4 1811.6,562.4 1811.3,559.7 1811.0,556.7 1810.7,553.6 1810.4,550.4 1810.1,547.1 1809.9,543.9 1809.6,540.6 1809.5,537.5 1809.3,534.4 1809.2,531.3 1809.0,528.2 1809.0,525.2 1808.9,522.1 1808.9,518.9 1809.0,515.8 1809.2,512.5 1809.4,509.6 1809.7,506.6 1810.1,503.6 1810.5,500.5 1810.9,497.4 1811.4,494.3 1811.9,491.2 1812.3,488.1 1812.7,485.0Z"/>
<path d="M1820.2,458.8 1821.0,456.2 1822.6,453.9 1825.0,452.7 1828.1,451.8 1831.2,451.5 1834.0,452.1 1836.8,453.4 1839.8,455.3 1842.1,457.4 1844.5,460.0 1847.0,462.9 1849.4,465.6 1851.6,468.1 1853.6,470.5 1855.6,473.0 1857.6,475.8 1859.3,478.4 1861.2,481.4 1863.0,484.5 1864.8,487.6 1866.7,490.5 1868.5,493.1 1870.3,495.3 1872.0,497.4 1873.8,499.9 1875.5,502.9 1876.6,505.2 1877.8,508.0 1878.9,510.9 1880.1,514.0 1881.3,517.1 1882.4,520.1 1883.4,522.9 1884.3,525.3 1885.9,529.1 1887.3,532.2 1888.4,534.9 1889.3,537.7 1890.1,540.5 1890.8,543.1 1891.2,546.0 1891.3,550.0 1891.1,552.5 1890.9,555.3 1890.6,558.4 1890.2,561.6 1889.7,565.0 1889.2,568.3 1888.6,571.7 1888.0,574.9 1887.4,578.0 1886.8,581.1 1886.1,584.2 1885.3,587.3 1884.5,590.4 1883.7,593.6 1882.8,596.7 1881.8,599.8 1880.8,602.9 1879.8,606.0 1878.7,609.1 1877.5,612.2 1876.3,615.3 1875.0,618.4 1873.5,621.5 1871.9,624.7 1870.4,627.2 1868.9,629.7 1867.2,632.3 1865.4,634.8 1863.6,637.4 1861.8,640.0 1859.9,642.6 1858.0,645.2 1856.2,647.8 1854.4,650.3 1855.6,651.2 1857.4,648.6 1859.2,646.0 1861.1,643.4 1862.9,640.8 1864.8,638.2 1866.6,635.7 1868.4,633.1 1870.1,630.5 1871.7,627.9 1873.1,625.3 1874.8,622.2 1876.3,619.0 1877.6,615.8 1878.9,612.7 1880.0,609.6 1881.1,606.5 1882.2,603.3 1883.2,600.2 1884.2,597.1 1885.1,593.9 1886.0,590.8 1886.8,587.7 1887.5,584.5 1888.2,581.4 1888.8,578.3 1889.5,575.1 1890.0,571.9 1890.6,568.6 1891.1,565.2 1891.6,561.8 1892.0,558.5 1892.3,555.4 1892.6,552.6 1892.7,550.0 1892.7,545.9 1892.2,542.8 1891.5,540.1 1890.7,537.3 1889.7,534.4 1888.6,531.6 1887.3,528.5 1885.7,524.7 1884.8,522.3 1883.8,519.6 1882.7,516.6 1881.6,513.5 1880.4,510.4 1879.3,507.3 1878.1,504.6 1877.0,502.1 1875.2,498.9 1873.5,496.4 1871.7,494.1 1870.0,491.9 1868.3,489.5 1866.7,486.5 1865.0,483.4 1863.3,480.1 1861.7,477.0 1859.9,474.2 1857.6,471.3 1855.3,468.9 1853.0,466.7 1850.6,464.4 1848.1,461.8 1845.5,459.2 1842.8,456.7 1840.2,454.7 1837.2,452.7 1834.2,451.5 1831.3,451.0 1828.1,451.3 1824.9,452.3 1822.4,453.6 1820.7,456.0 1819.8,458.7Z"/>
<path d="M1854.8,665.9 1851.7,667.2 1848.5,668.3 1845.3,669.8 1842.1,671.9 1839.9,673.9 1837.7,676.0 1835.6,678.4 1833.5,681.1 1831.3,683.9 1829.2,687.0 1827.5,689.4 1825.8,692.0 1824.0,694.8 1822.3,697.6 1820.6,700.6 1818.9,703.5 1817.4,706.5 1816.0,709.3 1814.5,712.6 1813.2,715.8 1812.1,719.1 1811.0,722.3 1810.0,725.5 1809.0,728.7 1807.9,731.9 1806.9,735.1 1805.9,738.2 1805.0,741.4 1804.0,744.5 1803.1,747.7 1802.2,751.0 1801.2,754.3 1800.4,757.3 1799.5,760.4 1798.7,763.5 1797.8,766.7 1797.0,769.8 1796.2,773.0 1795.4,776.3 1794.7,779.4 1794.1,782.6 1793.5,785.8 1792.9,788.9 1792.4,792.1 1792.0,795.2 1791.5,798.4 1791.1,801.5 1790.8,804.7 1790.5,807.8 1790.2,810.9 1790.0,814.0 1789.8,817.0 1789.6,820.1 1789.5,823.3 1789.4,826.6 1789.4,830.0 1789.4,832.8 1789.5,835.6 1789.6,838.5 1789.7,841.4 1789.8,844.4 1789.9,847.4 1790.1,850.5 1790.3,853.6 1790.5,856.8 1790.7,860.2 1790.8,863.1 1791.0,866.0 1791.2,869.1 1791.4,872.3 1791.7,875.4 1791.9,878.7 1792.1,881.9 1792.4,885.1 1792.6,888.3 1792.8,891.5 1793.0,894.6 1793.2,897.7 1793.3,900.9 1793.4,904.2 1793.6,907.5 1793.7,910.8 1793.8,914.1 1793.9,917.3 1793.9,920.5 1794.0,923.7 1794.1,926.7 1794.3,929.7 1794.4,932.7 1794.6,936.1 1794.8,939.5 1795.0,942.8 1795.2,946.0 1795.4,949.1 1795.7,952.1 1795.9,955.0 1796.1,957.7 1796.3,960.3 1796.5,964.2 1796.7,967.3 1796.9,970.3 1797.2,973.6 1797.7,978.0 1798.0,980.7 1798.4,983.6 1798.9,986.8 1799.4,990.1 1799.9,993.5 1800.4,997.0 1800.9,1000.6 1801.4,1004.0 1802.0,1007.4 1802.4,1010.6 1803.0,1013.8 1803.5,1016.9 1804.1,1020.1 1804.7,1023.3 1805.2,1026.4 1805.8,1029.5 1806.3,1032.4 1806.8,1035.3 1807.3,1038.0 1807.7,1040.5 1808.4,1044.5 1809.0,1048.1 1809.6,1051.5 1810.1,1054.6 1810.6,1057.5 1811.2,1060.3 1811.8,1063.7 1812.3,1066.3 1812.8,1069.0 1813.4,1072.8 1813.7,1075.3 1814.0,1078.3 1814.3,1081.6 1814.7,1085.1 1815.0,1088.5 1815.3,1091.9 1815.6,1095.0 1815.9,1097.7 1816.2,1101.5 1816.4,1105.0 1816.6,1108.0 1816.7,1110.6 1816.9,1112.8 1815.9,1113.3 1815.0,1115.5 1815.1,1117.5 1815.4,1120.3 1815.6,1123.5 1815.9,1127.1 1816.2,1131.0 1816.5,1134.8 1816.8,1138.6 1817.0,1142.1 1817.3,1145.3 1817.5,1147.9 1817.8,1152.6 1818.1,1156.0 1818.3,1158.4 1818.5,1160.4 1819.5,1161.8 1820.4,1162.7 1820.6,1165.3 1820.9,1168.6 1820.9,1172.5 1821.0,1175.0 1821.2,1177.7 1821.3,1180.5 1821.1,1183.6 1820.6,1187.1 1820.0,1189.8 1819.1,1192.9 1818.1,1196.2 1817.0,1199.6 1815.8,1203.0 1814.7,1206.3 1813.6,1209.5 1812.6,1212.6 1811.5,1215.6 1810.5,1218.5 1809.4,1221.4 1808.4,1224.3 1807.3,1227.0 1806.4,1229.5 1805.1,1232.7 1804.0,1235.3 1802.9,1237.9 1801.7,1240.9 1800.3,1244.7 1799.5,1247.3 1798.7,1250.1 1797.8,1253.2 1797.0,1256.5 1796.1,1259.8 1795.1,1263.1 1794.1,1266.4 1793.0,1269.6 1791.7,1272.7 1790.4,1275.5 1789.0,1278.1 1787.5,1280.7 1786.0,1283.3 1784.4,1285.9 1782.6,1288.5 1780.8,1291.3 1778.9,1294.3 1776.9,1297.6 1775.5,1299.9 1774.0,1302.3 1772.4,1304.9 1770.8,1307.6 1769.1,1310.3 1767.4,1313.1 1765.6,1315.9 1763.9,1318.7 1762.2,1321.5 1760.5,1324.2 1758.9,1326.9 1757.4,1329.4 1755.9,1331.8 1754.6,1334.0 1752.6,1337.6 1750.8,1341.0 1749.1,1344.0 1747.6,1347.0 1746.2,1349.7 1744.8,1352.4 1743.5,1355.1 1742.1,1357.8 1740.6,1360.9 1739.2,1364.0 1737.8,1366.9 1736.5,1369.8 1735.2,1372.6 1733.8,1375.3 1732.2,1377.8 1730.4,1380.7 1728.5,1383.4 1726.5,1386.0 1724.4,1388.5 1722.2,1390.7 1719.8,1392.8 1717.2,1394.6 1714.4,1396.2 1711.5,1397.5 1708.4,1398.8 1705.4,1400.1 1702.4,1401.5 1702.6,1402.0 1705.6,1400.6 1708.6,1399.3 1711.7,1398.0 1714.7,1396.6 1717.5,1395.0 1720.2,1393.2 1722.6,1391.1 1724.8,1388.8 1726.9,1386.4 1728.9,1383.8 1730.9,1381.0 1732.8,1378.2 1734.3,1375.6 1735.8,1372.9 1737.2,1370.1 1738.5,1367.3 1739.9,1364.3 1741.3,1361.3 1742.9,1358.2 1744.2,1355.5 1745.6,1352.8 1746.9,1350.1 1748.3,1347.3 1749.8,1344.4 1751.5,1341.4 1753.3,1338.0 1755.4,1334.5 1756.7,1332.2 1758.1,1329.9 1759.7,1327.4 1761.3,1324.7 1763.0,1322.0 1764.8,1319.3 1766.6,1316.5 1768.4,1313.7 1770.1,1311.0 1771.9,1308.2 1773.6,1305.6 1775.2,1303.1 1776.7,1300.6 1778.1,1298.4 1780.2,1295.1 1782.1,1292.2 1783.9,1289.4 1785.7,1286.7 1787.3,1284.1 1788.9,1281.6 1790.5,1278.9 1791.9,1276.2 1793.3,1273.3 1794.6,1270.3 1795.7,1267.0 1796.8,1263.7 1797.8,1260.3 1798.8,1257.0 1799.7,1253.7 1800.5,1250.7 1801.3,1247.8 1802.2,1245.3 1803.6,1241.6 1804.9,1238.7 1806.0,1236.2 1807.3,1233.6 1808.6,1230.5 1809.7,1227.9 1810.7,1225.2 1811.9,1222.4 1813.0,1219.5 1814.1,1216.5 1815.2,1213.5 1816.4,1210.5 1817.5,1207.4 1818.8,1204.1 1820.1,1200.7 1821.3,1197.3 1822.5,1194.0 1823.5,1190.8 1824.4,1187.9 1825.3,1184.3 1825.8,1180.9 1826.1,1177.9 1826.4,1175.1 1826.6,1172.5 1826.6,1168.4 1826.3,1164.9 1826.1,1162.3 1826.8,1161.0 1827.5,1159.6 1827.4,1157.7 1827.2,1155.3 1826.9,1151.9 1826.5,1147.1 1826.3,1144.6 1826.1,1141.5 1825.8,1137.9 1825.5,1134.2 1825.3,1130.3 1825.0,1126.5 1824.7,1122.8 1824.4,1119.5 1824.2,1116.8 1824.0,1114.5 1822.4,1112.0 1821.1,1112.2 1821.0,1110.3 1820.9,1107.8 1820.7,1104.7 1820.4,1101.2 1820.1,1097.3 1819.9,1094.6 1819.6,1091.5 1819.3,1088.1 1818.9,1084.6 1818.6,1081.2 1818.2,1077.9 1817.9,1074.9 1817.6,1072.2 1817.3,1068.4 1817.0,1065.6 1816.7,1063.0 1816.3,1059.7 1816.2,1056.9 1816.0,1053.9 1815.8,1050.7 1815.5,1047.3 1815.2,1043.5 1814.8,1039.5 1814.4,1036.9 1814.0,1034.1 1813.6,1031.2 1813.1,1028.2 1812.6,1025.2 1812.1,1022.0 1811.6,1018.9 1811.0,1015.7 1810.5,1012.5 1810.1,1009.4 1809.5,1006.2 1809.0,1002.8 1808.4,999.4 1807.8,995.9 1807.2,992.4 1806.7,989.0 1806.1,985.7 1805.7,982.5 1805.2,979.6 1804.8,977.0 1804.2,972.8 1803.8,969.5 1803.4,966.7 1803.1,963.6 1802.7,959.7 1802.5,957.2 1802.2,954.4 1802.0,951.6 1801.7,948.6 1801.5,945.6 1801.3,942.4 1801.0,939.1 1800.8,935.8 1800.6,932.3 1800.5,929.5 1800.3,926.5 1800.2,923.5 1800.1,920.3 1800.1,917.2 1800.0,913.9 1799.9,910.6 1799.8,907.3 1799.6,904.0 1799.5,900.7 1799.3,897.3 1799.2,894.3 1799.0,891.1 1798.8,887.9 1798.6,884.7 1798.3,881.5 1798.1,878.2 1797.9,875.0 1797.6,871.8 1797.4,868.7 1797.2,865.6 1797.0,862.7 1796.8,859.8 1796.7,856.5 1796.5,853.3 1796.3,850.1 1796.1,847.1 1796.0,844.1 1795.9,841.2 1795.8,838.3 1795.7,835.5 1795.6,832.7 1795.6,830.0 1795.6,826.7 1795.6,823.5 1795.7,820.4 1795.8,817.3 1796.0,814.3 1796.2,811.4 1796.4,808.4 1796.7,805.3 1797.0,802.2 1797.4,799.1 1797.8,796.0 1798.2,792.9 1798.7,789.8 1799.2,786.7 1799.7,783.7 1800.3,780.6 1800.9,777.5 1801.6,774.3 1802.3,771.2 1803.1,768.0 1803.9,764.9 1804.7,761.8 1805.5,758.7 1806.3,755.7 1807.1,752.3 1807.9,749.0 1808.7,745.8 1809.5,742.6 1810.3,739.5 1811.2,736.3 1812.1,733.1 1813.0,729.9 1813.8,726.6 1814.7,723.4 1815.7,720.2 1816.7,717.0 1817.8,713.9 1819.0,710.7 1820.3,707.8 1821.6,704.9 1823.1,701.9 1824.6,698.9 1826.2,696.0 1827.7,693.2 1829.3,690.5 1830.8,688.0 1832.8,685.0 1834.9,682.2 1836.9,679.5 1838.9,677.1 1841.0,675.0 1842.9,673.1 1846.0,670.9 1849.0,669.3 1852.1,668.1 1855.2,666.6Z"/>
<path d="M1854.8,666.6 1857.9,668.0 1860.9,669.2 1863.9,670.7 1867.0,673.1 1869.0,674.9 1871.0,677.1 1873.2,679.5 1875.3,682.1 1877.5,684.8 1879.7,687.6 1881.8,690.5 1883.5,692.8 1885.2,695.2 1886.9,697.6 1888.6,700.2 1890.2,702.7 1891.9,705.3 1893.5,707.9 1895.1,710.5 1896.7,713.0 1898.4,715.8 1900.0,718.6 1901.6,721.4 1903.2,724.2 1904.7,727.0 1906.2,729.8 1907.7,732.6 1909.1,735.4 1910.5,738.3 1911.9,741.2 1913.3,744.1 1914.6,747.0 1915.8,749.8 1917.0,752.6 1918.1,755.3 1919.1,757.8 1920.3,760.9 1921.3,763.7 1922.1,766.4 1922.9,769.0 1923.5,771.9 1924.2,775.1 1924.6,777.9 1924.9,780.8 1925.3,783.9 1925.6,787.1 1925.8,790.3 1926.0,793.6 1926.1,796.8 1926.2,800.0 1926.1,803.0 1926.1,806.0 1925.9,808.9 1925.7,811.8 1925.5,814.8 1925.2,818.0 1925.0,821.3 1924.8,825.0 1924.7,827.9 1924.5,831.0 1924.4,834.4 1924.3,837.9 1924.1,841.4 1924.0,844.9 1923.8,848.4 1923.7,851.7 1923.6,854.8 1923.5,857.6 1923.3,860.0 1923.0,864.9 1922.7,868.2 1922.5,870.8 1922.2,873.7 1922.8,873.8 1923.1,870.8 1923.5,868.2 1923.8,865.0 1924.2,860.0 1924.3,857.6 1924.5,854.8 1924.7,851.7 1924.9,848.4 1925.1,845.0 1925.3,841.5 1925.5,837.9 1925.7,834.4 1925.9,831.1 1926.0,827.9 1926.2,825.0 1926.5,821.4 1926.7,818.1 1927.0,815.0 1927.3,811.9 1927.5,809.0 1927.7,806.1 1927.8,803.1 1927.8,800.0 1927.8,796.8 1927.7,793.5 1927.5,790.2 1927.3,787.0 1927.0,783.7 1926.6,780.6 1926.3,777.6 1925.8,774.9 1925.3,771.5 1924.6,768.6 1923.9,765.8 1923.0,763.1 1922.1,760.3 1920.9,757.2 1919.9,754.6 1918.8,751.9 1917.6,749.0 1916.4,746.2 1915.0,743.2 1913.7,740.3 1912.3,737.4 1910.9,734.6 1909.4,731.7 1908.0,728.9 1906.5,726.1 1904.9,723.3 1903.3,720.5 1901.7,717.6 1900.0,714.8 1898.3,712.0 1896.8,709.5 1895.1,706.9 1893.5,704.3 1891.8,701.7 1890.1,699.2 1888.3,696.6 1886.6,694.2 1884.9,691.8 1883.2,689.5 1881.0,686.6 1878.8,683.8 1876.6,681.1 1874.3,678.4 1872.2,676.0 1870.0,673.8 1868.0,671.9 1864.5,669.6 1861.3,668.1 1858.2,667.1 1855.2,665.9Z"/>
<path d="M1839.6,702.7 1840.9,705.6 1842.1,708.4 1843.4,711.3 1844.6,714.1 1845.9,717.1 1847.1,720.2 1848.2,722.9 1849.2,725.8 1850.3,728.7 1851.3,731.7 1852.4,734.6 1853.4,737.5 1854.3,740.2 1855.4,743.1 1856.3,745.7 1857.1,748.2 1858.1,750.9 1859.2,754.0 1860.4,757.8 1861.3,760.2 1862.2,762.9 1863.2,765.8 1864.3,768.9 1865.4,772.1 1866.5,775.4 1867.6,778.6 1868.7,781.8 1869.7,784.8 1870.7,787.7 1871.6,790.3 1872.8,794.0 1874.0,797.4 1875.1,800.5 1876.1,803.5 1877.0,806.5 1878.0,809.5 1879.1,812.8 1880.0,815.8 1881.0,818.9 1881.9,822.1 1882.9,825.3 1883.8,828.5 1884.8,831.6 1885.7,834.8 1886.6,837.8 1887.5,841.1 1888.5,844.4 1889.4,847.7 1890.3,850.9 1891.2,854.1 1892.0,857.2 1892.8,860.2 1893.7,863.7 1894.6,866.9 1895.4,870.1 1896.3,873.4 1897.1,876.7 1897.9,880.2 1898.6,883.0 1899.2,885.8 1899.8,888.8 1900.5,891.8 1901.1,894.8 1901.8,897.9 1902.4,900.9 1903.0,903.9 1904.5,903.6 1903.9,900.6 1903.2,897.6 1902.6,894.5 1902.0,891.5 1901.4,888.5 1900.8,885.5 1900.2,882.6 1899.6,879.8 1898.8,876.3 1898.0,872.9 1897.2,869.7 1896.4,866.5 1895.6,863.2 1894.7,859.8 1893.9,856.7 1893.0,853.6 1892.2,850.4 1891.3,847.2 1890.4,843.9 1889.4,840.6 1888.4,837.2 1887.6,834.2 1886.6,831.1 1885.7,827.9 1884.8,824.7 1883.8,821.5 1882.8,818.3 1881.9,815.2 1880.9,812.2 1879.9,808.9 1878.9,805.9 1877.9,802.9 1876.9,799.9 1875.8,796.8 1874.7,793.4 1873.4,789.7 1872.5,787.1 1871.5,784.2 1870.5,781.1 1869.4,778.0 1868.2,774.8 1867.1,771.5 1866.0,768.3 1864.9,765.3 1863.9,762.3 1862.9,759.6 1862.1,757.2 1860.7,753.5 1859.6,750.4 1858.6,747.7 1857.7,745.2 1856.8,742.6 1855.7,739.8 1854.6,737.0 1853.5,734.2 1852.4,731.3 1851.3,728.3 1850.1,725.4 1849.0,722.6 1847.9,719.8 1846.6,716.8 1845.4,713.8 1844.1,710.9 1842.9,708.1 1841.6,705.2 1840.4,702.3Z"/>
<path d="M1805.6,817.5 1807.4,820.1 1809.2,823.0 1811.0,826.4 1812.9,830.4 1814.1,833.4 1815.3,836.7 1816.6,840.3 1817.5,843.3 1818.4,846.7 1819.4,850.0 1820.3,852.9 1821.9,856.2 1824.1,860.5 1825.2,862.6 1826.5,865.2 1828.0,868.1 1829.5,871.2 1831.1,874.4 1832.6,877.5 1834.1,880.4 1835.5,883.3 1836.9,886.2 1838.3,889.2 1839.8,892.1 1841.2,895.0 1842.6,897.8 1844.2,900.5 1846.0,903.4 1847.9,906.2 1849.8,908.9 1851.7,911.5 1853.7,914.1 1855.6,916.7 1856.9,915.8 1855.1,913.1 1853.2,910.4 1851.3,907.8 1849.4,905.2 1847.6,902.4 1845.8,899.5 1844.4,896.9 1842.9,894.1 1841.5,891.3 1840.1,888.3 1838.7,885.4 1837.3,882.5 1835.9,879.6 1834.4,876.6 1832.8,873.5 1831.3,870.3 1829.7,867.3 1828.3,864.4 1827.0,861.8 1825.9,859.5 1823.6,855.3 1822.2,852.1 1821.2,849.4 1820.3,846.1 1819.4,842.8 1818.4,839.7 1817.2,836.1 1815.9,832.7 1814.6,829.6 1812.7,825.5 1810.8,822.0 1808.9,819.1 1806.9,816.5Z"/>
<path d="M1903.1,903.4 1901.6,906.1 1899.9,908.7 1898.3,911.4 1896.8,914.2 1895.6,917.3 1894.6,920.2 1893.9,923.1 1893.4,926.3 1893.1,930.1 1892.9,935.0 1892.8,937.4 1892.8,940.1 1892.7,943.0 1892.7,946.0 1892.8,949.2 1892.8,952.5 1892.9,955.9 1893.0,959.3 1893.1,962.7 1893.3,966.1 1893.4,969.4 1893.6,972.6 1893.7,975.7 1894.0,978.9 1894.2,982.0 1894.5,985.2 1894.8,988.3 1895.1,991.4 1895.4,994.6 1895.7,997.7 1896.0,1000.8 1896.3,1003.9 1896.6,1007.1 1896.8,1010.2 1897.1,1013.3 1897.4,1016.5 1897.7,1019.7 1897.9,1022.9 1898.2,1026.1 1898.5,1029.3 1898.8,1032.4 1899.0,1035.6 1899.3,1038.7 1899.6,1041.8 1899.9,1044.8 1900.1,1047.8 1900.5,1051.3 1900.9,1054.9 1901.3,1058.5 1901.7,1062.1 1902.1,1065.6 1902.5,1069.0 1902.9,1072.2 1903.2,1075.1 1903.6,1077.9 1903.9,1080.3 1904.6,1084.6 1905.1,1087.1 1905.6,1089.2 1905.9,1092.7 1906.0,1095.4 1906.1,1098.7 1906.1,1102.5 1906.1,1106.3 1906.1,1110.1 1906.1,1113.6 1906.1,1116.6 1906.1,1118.9 1905.7,1120.7 1905.2,1120.3 1905.2,1121.8 1905.2,1123.9 1905.2,1126.7 1905.2,1130.3 1905.2,1135.0 1905.1,1137.4 1905.1,1140.4 1905.1,1143.6 1905.1,1147.1 1905.1,1150.8 1905.1,1154.5 1905.1,1158.2 1905.1,1161.8 1905.1,1165.1 1905.1,1168.0 1905.1,1170.5 1905.2,1172.6 1906.3,1174.9 1907.6,1175.1 1907.7,1177.2 1907.8,1179.9 1908.0,1183.1 1908.1,1186.7 1908.4,1190.4 1908.7,1194.1 1909.2,1197.6 1909.6,1200.7 1910.2,1203.8 1910.8,1207.0 1911.5,1210.2 1912.2,1213.4 1912.9,1216.5 1913.6,1219.6 1914.3,1222.7 1915.0,1226.1 1915.8,1229.5 1916.6,1232.9 1917.4,1236.1 1918.1,1239.3 1918.8,1242.3 1919.3,1245.1 1919.8,1248.6 1920.0,1251.9 1920.1,1254.9 1920.3,1257.8 1920.9,1260.6 1922.1,1264.0 1923.6,1267.3 1925.3,1270.4 1927.3,1273.2 1929.6,1275.5 1932.1,1277.5 1934.8,1279.3 1937.4,1281.2 1937.6,1280.8 1935.0,1278.9 1932.4,1277.1 1929.9,1275.1 1927.7,1272.8 1925.8,1270.1 1924.1,1267.1 1922.7,1263.8 1921.6,1260.4 1921.1,1257.7 1921.0,1254.8 1921.1,1251.8 1921.1,1248.5 1920.7,1244.9 1920.2,1242.0 1919.6,1239.0 1918.8,1235.8 1918.0,1232.5 1917.2,1229.1 1916.5,1225.7 1915.7,1222.3 1915.1,1219.3 1914.4,1216.2 1913.7,1213.0 1913.0,1209.8 1912.4,1206.6 1911.8,1203.5 1911.3,1200.4 1910.8,1197.4 1910.6,1193.9 1910.4,1190.3 1910.4,1186.6 1910.4,1183.1 1910.4,1179.9 1910.4,1177.1 1910.4,1174.9 1911.3,1174.4 1912.3,1172.4 1912.3,1170.5 1912.3,1168.0 1912.3,1165.1 1912.3,1161.8 1912.3,1158.2 1912.3,1154.5 1912.3,1150.8 1912.3,1147.1 1912.3,1143.6 1912.3,1140.4 1912.3,1137.5 1912.3,1135.0 1912.4,1130.3 1912.4,1126.7 1912.4,1123.9 1912.4,1121.7 1912.3,1119.7 1911.6,1119.5 1910.9,1118.6 1910.9,1116.6 1910.9,1113.6 1910.9,1110.1 1910.9,1106.3 1910.9,1102.4 1910.8,1098.6 1910.7,1095.2 1910.6,1092.3 1910.3,1088.6 1909.8,1086.1 1909.3,1083.8 1908.6,1079.7 1908.3,1077.3 1908.0,1074.6 1907.6,1071.6 1907.2,1068.4 1906.8,1065.0 1906.4,1061.6 1906.0,1058.0 1905.6,1054.4 1905.3,1050.8 1904.9,1047.2 1904.5,1044.3 1904.2,1041.3 1903.8,1038.2 1903.5,1035.1 1903.1,1032.0 1902.8,1028.9 1902.4,1025.7 1902.1,1022.5 1901.7,1019.3 1901.4,1016.1 1901.0,1012.9 1900.7,1009.8 1900.3,1006.7 1899.9,1003.6 1899.5,1000.4 1899.2,997.3 1898.8,994.2 1898.4,991.1 1898.0,988.0 1897.7,984.8 1897.3,981.7 1897.0,978.6 1896.7,975.5 1896.4,972.4 1896.2,969.2 1895.9,965.9 1895.7,962.6 1895.5,959.2 1895.3,955.8 1895.1,952.5 1895.0,949.2 1894.8,946.0 1894.7,943.0 1894.7,940.1 1894.6,937.4 1894.6,935.0 1894.8,930.2 1895.0,926.5 1895.5,923.4 1896.1,920.6 1896.9,917.7 1898.1,914.8 1899.5,912.1 1901.1,909.5 1902.8,906.8 1904.4,904.1Z"/>
<path d="M1903.0,904.2 1904.8,906.8 1906.5,909.2 1908.2,911.7 1909.9,914.5 1911.7,917.9 1912.9,920.4 1914.1,923.2 1915.3,926.2 1916.5,929.4 1917.8,932.7 1919.0,936.0 1920.2,939.4 1921.4,942.9 1922.2,945.7 1923.1,948.5 1924.0,951.3 1924.8,954.2 1925.6,957.1 1926.5,960.1 1927.3,963.2 1928.1,966.3 1928.8,969.6 1929.6,972.9 1930.3,975.7 1930.9,978.7 1931.5,981.7 1932.2,984.8 1932.8,987.9 1933.4,991.1 1934.0,994.3 1934.6,997.6 1935.2,1000.8 1935.7,1004.0 1936.3,1007.2 1936.9,1010.3 1937.4,1013.5 1938.0,1016.6 1938.6,1019.8 1939.1,1023.0 1939.7,1026.2 1940.2,1029.4 1940.7,1032.5 1941.3,1035.7 1941.8,1038.8 1942.2,1041.8 1942.7,1044.8 1943.1,1047.8 1943.6,1051.2 1944.0,1054.7 1944.4,1058.2 1944.8,1061.5 1945.2,1064.9 1945.5,1068.2 1945.9,1071.3 1946.2,1074.4 1946.5,1077.4 1946.9,1080.2 1947.3,1083.9 1947.7,1087.2 1948.1,1090.1 1948.5,1093.0 1948.8,1095.9 1949.1,1099.1 1949.4,1102.7 1949.5,1105.5 1949.6,1108.6 1949.7,1111.8 1949.8,1115.2 1949.8,1118.7 1949.9,1122.1 1949.9,1125.6 1950.0,1128.9 1950.1,1132.1 1950.2,1135.2 1950.4,1138.6 1950.7,1141.7 1951.0,1144.6 1951.3,1147.4 1951.7,1150.3 1952.0,1153.3 1952.3,1156.5 1952.6,1160.2 1952.9,1162.8 1953.2,1165.5 1953.5,1168.4 1953.8,1171.3 1954.1,1174.3 1954.4,1177.4 1954.7,1180.6 1955.0,1183.9 1955.3,1187.2 1955.5,1190.6 1955.8,1194.0 1956.0,1197.5 1956.1,1200.5 1956.2,1203.6 1956.3,1206.8 1956.3,1210.2 1956.4,1213.7 1956.4,1217.2 1956.5,1220.7 1956.5,1224.2 1956.5,1227.6 1956.6,1231.0 1956.6,1234.2 1956.6,1237.2 1956.6,1240.1 1956.6,1242.7 1956.7,1245.0 1956.7,1249.7 1956.6,1253.3 1956.6,1256.0 1956.5,1258.3 1956.5,1260.5 1956.6,1263.0 1956.8,1266.2 1957.0,1269.2 1957.4,1272.2 1957.7,1275.1 1958.0,1278.0 1958.5,1278.0 1958.3,1275.0 1958.0,1272.1 1957.7,1269.2 1957.5,1266.2 1957.4,1263.0 1957.5,1260.5 1957.6,1258.3 1957.8,1256.1 1958.0,1253.3 1958.2,1249.8 1958.3,1245.0 1958.4,1242.7 1958.4,1240.1 1958.4,1237.2 1958.4,1234.2 1958.4,1231.0 1958.3,1227.6 1958.3,1224.2 1958.3,1220.7 1958.3,1217.2 1958.2,1213.7 1958.2,1210.2 1958.2,1206.8 1958.1,1203.5 1958.0,1200.4 1958.0,1197.5 1958.0,1193.9 1958.0,1190.5 1957.9,1187.1 1957.9,1183.7 1957.8,1180.4 1957.8,1177.2 1957.7,1174.1 1957.6,1171.1 1957.6,1168.1 1957.5,1165.3 1957.4,1162.5 1957.4,1159.8 1957.2,1156.1 1957.0,1152.8 1956.8,1149.8 1956.6,1146.9 1956.4,1144.1 1956.2,1141.3 1956.0,1138.2 1955.8,1134.8 1955.7,1131.9 1955.5,1128.7 1955.3,1125.4 1955.2,1122.0 1955.1,1118.5 1954.9,1115.1 1954.8,1111.7 1954.6,1108.4 1954.4,1105.2 1954.1,1102.3 1953.7,1098.6 1953.3,1095.3 1952.8,1092.4 1952.3,1089.5 1951.7,1086.6 1951.2,1083.4 1950.6,1079.8 1950.3,1077.0 1950.0,1074.0 1949.7,1070.9 1949.3,1067.8 1949.0,1064.5 1948.6,1061.1 1948.2,1057.7 1947.8,1054.2 1947.4,1050.7 1946.9,1047.2 1946.5,1044.3 1946.0,1041.3 1945.5,1038.2 1945.0,1035.1 1944.5,1031.9 1944.0,1028.7 1943.5,1025.6 1942.9,1022.4 1942.3,1019.2 1941.8,1016.0 1941.2,1012.8 1940.6,1009.7 1940.0,1006.5 1939.4,1003.3 1938.8,1000.1 1938.2,996.9 1937.6,993.7 1936.9,990.4 1936.3,987.2 1935.6,984.1 1934.9,981.0 1934.3,977.9 1933.6,975.0 1932.9,972.1 1932.0,968.8 1931.1,965.5 1930.2,962.4 1929.3,959.3 1928.4,956.3 1927.5,953.4 1926.5,950.5 1925.6,947.7 1924.6,944.9 1923.6,942.1 1922.4,938.7 1921.1,935.2 1919.8,931.9 1918.5,928.6 1917.1,925.5 1915.8,922.5 1914.5,919.7 1913.3,917.1 1911.4,913.6 1909.6,910.7 1907.9,908.2 1906.2,905.8 1904.5,903.3Z"/>
<path d="M1904.4,904.1 1905.9,901.1 1907.3,898.0 1908.8,895.2 1910.5,893.0 1913.4,891.1 1916.7,890.0 1920.0,889.5 1923.1,889.6 1926.2,890.3 1929.6,892.0 1931.8,893.5 1934.3,895.5 1936.8,897.7 1939.3,900.3 1941.9,903.1 1943.6,905.2 1945.4,907.4 1947.1,909.8 1948.9,912.3 1950.6,915.0 1952.4,917.7 1954.2,920.5 1955.7,923.1 1957.2,925.7 1958.8,928.5 1960.3,931.3 1961.8,934.2 1963.4,937.1 1964.9,940.1 1966.4,943.1 1967.8,945.7 1969.2,948.5 1970.6,951.2 1972.0,954.0 1973.4,956.9 1974.8,959.7 1976.1,962.5 1977.4,965.3 1978.7,968.1 1980.1,971.2 1981.4,974.3 1982.7,977.3 1984.0,980.4 1985.2,983.5 1986.4,986.6 1987.5,989.7 1988.6,993.0 1989.6,995.9 1990.5,998.8 1991.3,1001.8 1992.2,1004.8 1993.0,1007.8 1993.8,1010.9 1994.6,1014.0 1995.3,1017.2 1996.1,1020.3 1996.8,1023.2 1997.4,1026.1 1998.1,1029.0 1998.7,1031.9 1999.4,1034.8 2000.0,1037.8 2000.6,1040.8 2001.2,1043.9 2001.8,1047.0 2002.3,1050.2 2002.8,1053.2 2003.3,1056.3 2003.8,1059.5 2004.3,1062.8 2004.8,1066.0 2005.2,1069.3 2005.7,1072.6 2006.2,1075.9 2006.6,1079.0 2007.1,1082.2 2007.6,1085.2 2008.1,1088.4 2008.6,1091.5 2009.1,1094.5 2009.7,1097.4 2010.2,1100.3 2010.7,1103.2 2011.2,1106.1 2011.7,1109.1 2012.3,1112.1 2012.8,1115.2 2013.3,1118.3 2013.9,1121.6 2014.4,1124.9 2015.0,1128.3 2015.5,1131.7 2016.1,1135.0 2016.6,1138.3 2017.1,1141.6 2017.6,1144.7 2018.0,1147.6 2018.6,1151.1 2019.1,1154.5 2019.6,1157.8 2020.0,1160.9 2020.4,1164.0 2020.8,1166.9 2021.2,1169.8 2021.6,1172.5 2022.0,1176.0 2022.4,1179.2 2022.7,1182.3 2023.0,1185.3 2023.3,1188.2 2023.6,1191.3 2023.9,1191.2 2023.7,1188.2 2023.5,1185.2 2023.3,1182.2 2023.0,1179.2 2022.8,1175.9 2022.4,1172.5 2022.1,1169.7 2021.8,1166.8 2021.5,1163.8 2021.1,1160.8 2020.8,1157.6 2020.4,1154.3 2019.9,1150.9 2019.5,1147.4 2019.1,1144.4 2018.6,1141.3 2018.2,1138.1 2017.7,1134.8 2017.2,1131.4 2016.7,1128.0 2016.2,1124.7 2015.7,1121.3 2015.2,1118.0 2014.7,1114.8 2014.2,1111.8 2013.8,1108.8 2013.3,1105.8 2012.8,1102.9 2012.3,1100.0 2011.8,1097.1 2011.4,1094.1 2010.9,1091.1 2010.4,1088.0 2009.9,1084.8 2009.5,1081.8 2009.1,1078.7 2008.7,1075.5 2008.3,1072.3 2007.9,1069.0 2007.4,1065.7 2007.0,1062.4 2006.6,1059.1 2006.1,1055.9 2005.7,1052.8 2005.2,1049.8 2004.6,1046.5 2004.0,1043.4 2003.4,1040.3 2002.8,1037.2 2002.2,1034.2 2001.6,1031.3 2000.9,1028.3 2000.3,1025.4 1999.6,1022.5 1998.9,1019.7 1998.1,1016.5 1997.4,1013.3 1996.6,1010.2 1995.8,1007.1 1995.0,1004.0 1994.1,1001.0 1993.2,998.0 1992.3,995.0 1991.4,992.0 1990.2,988.8 1989.1,985.6 1987.9,982.4 1986.7,979.3 1985.4,976.2 1984.1,973.1 1982.7,970.0 1981.3,966.9 1980.0,964.1 1978.6,961.3 1977.2,958.5 1975.8,955.7 1974.4,952.8 1972.9,950.1 1971.4,947.3 1970.0,944.6 1968.6,941.9 1967.0,939.0 1965.4,936.0 1963.8,933.1 1962.2,930.3 1960.6,927.4 1959.0,924.7 1957.4,922.0 1955.8,919.5 1954.0,916.7 1952.2,913.9 1950.4,911.3 1948.6,908.8 1946.8,906.4 1945.0,904.1 1943.1,901.9 1940.6,899.1 1938.0,896.5 1935.4,894.2 1932.8,892.2 1930.4,890.5 1926.8,888.8 1923.3,888.0 1920.0,888.0 1916.4,888.6 1912.7,889.8 1909.5,892.0 1907.6,894.4 1906.0,897.3 1904.6,900.5 1903.1,903.4Z"/>
<path d="M1870.5,945.4 1867.7,947.0 1864.7,948.6 1861.9,950.2 1859.5,952.0 1857.2,954.1 1855.5,956.5 1854.1,959.7 1853.1,962.0 1852.2,964.7 1851.4,967.7 1850.7,971.0 1850.1,974.9 1850.0,977.5 1850.0,980.3 1850.0,983.2 1850.0,986.3 1850.1,989.5 1850.2,992.9 1850.4,996.5 1850.6,1000.1 1850.8,1003.0 1851.0,1005.9 1851.3,1009.0 1851.5,1012.1 1851.8,1015.3 1852.1,1018.6 1852.5,1021.9 1852.8,1025.2 1853.1,1028.6 1853.5,1031.9 1853.9,1035.3 1854.2,1038.4 1854.6,1041.6 1855.0,1045.0 1855.5,1048.4 1855.9,1051.8 1856.4,1055.2 1856.8,1058.5 1857.3,1061.7 1857.7,1064.8 1858.1,1067.7 1858.5,1070.4 1858.9,1072.9 1859.8,1077.6 1860.6,1081.1 1861.4,1083.8 1862.1,1086.6 1862.6,1090.3 1862.9,1093.0 1863.1,1096.1 1863.3,1099.5 1863.5,1103.0 1863.7,1106.5 1863.8,1109.9 1863.9,1113.0 1864.0,1115.6 1864.1,1117.7 1863.4,1119.2 1862.5,1120.1 1862.5,1122.3 1862.6,1125.2 1862.6,1128.8 1862.6,1132.5 1862.7,1136.3 1862.7,1139.8 1862.7,1142.8 1862.8,1145.1 1864.0,1146.6 1865.1,1147.4 1865.1,1149.7 1865.1,1152.7 1865.1,1156.2 1864.9,1159.9 1864.6,1163.6 1864.1,1167.2 1863.4,1170.3 1862.7,1173.4 1861.8,1176.7 1860.7,1179.9 1859.6,1183.2 1858.2,1186.4 1856.6,1189.5 1855.1,1192.2 1853.3,1194.8 1851.3,1197.5 1849.2,1200.1 1847.0,1202.8 1844.8,1205.4 1842.7,1208.1 1840.6,1210.7 1841.9,1211.8 1844.0,1209.1 1846.2,1206.5 1848.4,1203.9 1850.6,1201.3 1852.7,1198.6 1854.8,1196.0 1856.7,1193.2 1858.4,1190.5 1860.1,1187.3 1861.6,1184.0 1863.0,1180.7 1864.1,1177.4 1865.2,1174.1 1866.1,1170.9 1866.9,1167.8 1867.7,1164.0 1868.1,1160.1 1868.4,1156.3 1868.6,1152.8 1868.7,1149.8 1868.9,1147.6 1870.2,1146.6 1871.2,1144.9 1871.2,1142.8 1871.2,1139.8 1871.2,1136.2 1871.1,1132.5 1871.1,1128.7 1871.1,1125.1 1871.0,1122.1 1871.0,1119.9 1870.0,1118.6 1868.9,1117.3 1868.8,1115.4 1868.7,1112.8 1868.6,1109.7 1868.4,1106.3 1868.3,1102.8 1868.1,1099.2 1867.9,1095.8 1867.6,1092.5 1867.4,1089.7 1866.8,1085.7 1866.0,1082.6 1865.3,1079.9 1864.4,1076.6 1863.6,1072.1 1863.2,1069.7 1862.8,1067.0 1862.4,1064.1 1862.0,1061.1 1861.5,1057.8 1861.1,1054.5 1860.6,1051.2 1860.2,1047.8 1859.8,1044.4 1859.4,1041.0 1859.0,1037.8 1858.6,1034.7 1858.2,1031.4 1857.9,1028.1 1857.5,1024.8 1857.2,1021.4 1856.9,1018.1 1856.6,1014.9 1856.3,1011.7 1856.0,1008.6 1855.8,1005.5 1855.6,1002.6 1855.4,999.9 1855.2,996.2 1855.0,992.7 1854.9,989.4 1854.8,986.2 1854.7,983.2 1854.7,980.3 1854.8,977.6 1854.9,975.1 1854.9,971.4 1855.0,968.2 1855.2,965.3 1855.5,962.7 1855.9,960.3 1857.1,957.3 1858.4,955.2 1860.5,953.0 1862.6,951.3 1865.3,949.6 1868.2,947.8 1871.0,946.1Z"/>
<path d="M1620.5,791.3 1620.9,794.3 1621.3,797.4 1621.7,800.5 1622.0,803.5 1622.4,806.6 1622.8,809.6 1623.2,812.7 1623.6,815.8 1623.9,818.8 1624.3,821.9 1624.6,825.0 1624.9,828.3 1625.2,831.6 1625.5,835.0 1625.8,838.5 1626.0,842.0 1626.3,845.4 1626.5,848.7 1626.7,851.9 1626.9,854.9 1627.1,857.6 1627.3,860.1 1627.5,864.2 1627.6,867.2 1627.7,869.6 1627.7,872.0 1627.8,875.0 1627.8,878.1 1627.9,881.4 1627.9,884.9 1628.0,888.4 1628.0,891.8 1628.1,895.0 1628.1,899.0 1628.1,903.0 1628.1,906.8 1628.1,910.1 1628.1,912.5 1626.5,911.2 1625.0,913.9 1625.0,915.6 1625.1,917.7 1625.2,920.1 1625.2,922.7 1625.3,925.6 1625.4,928.7 1625.5,931.9 1625.5,935.3 1625.6,938.7 1625.7,942.3 1625.8,945.8 1625.9,949.3 1626.0,952.8 1626.1,956.2 1626.2,959.5 1626.3,962.6 1636.2,962.4 1636.2,959.2 1636.1,956.0 1636.0,952.6 1635.9,949.1 1635.8,945.5 1635.7,942.0 1635.6,938.5 1635.5,935.0 1635.5,931.7 1635.4,928.4 1635.3,925.3 1635.2,922.5 1635.2,919.8 1635.1,917.4 1635.0,915.4 1635.0,913.6 1633.4,911.2 1631.9,912.5 1631.8,910.0 1631.6,906.7 1631.4,902.9 1631.2,898.9 1630.9,895.0 1630.8,891.7 1630.6,888.3 1630.3,884.8 1630.1,881.3 1629.9,878.0 1629.7,875.0 1629.6,872.0 1629.4,869.6 1629.3,867.2 1629.1,864.2 1628.7,859.9 1628.5,857.5 1628.3,854.8 1628.0,851.8 1627.7,848.6 1627.4,845.3 1627.1,841.9 1626.8,838.4 1626.5,835.0 1626.1,831.5 1625.8,828.2 1625.4,825.0 1625.1,821.8 1624.7,818.7 1624.3,815.7 1623.9,812.6 1623.5,809.5 1623.1,806.5 1622.7,803.4 1622.2,800.4 1621.8,797.3 1621.4,794.3 1621.0,791.2Z"/>
<path d="M1633.6,679.2 1633.6,682.7 1633.6,686.0 1633.6,689.4 1633.6,692.8 1633.6,696.3 1633.6,700.0 1633.6,702.9 1633.5,705.9 1633.5,709.1 1633.5,712.2 1633.5,715.4 1633.5,718.7 1633.5,721.9 1633.6,725.0 1633.6,728.1 1633.6,731.0 1633.6,733.9 1633.6,736.8 1633.7,739.8 1633.8,742.9 1633.9,746.4 1634.1,750.1 1634.2,752.8 1634.4,755.6 1634.6,758.6 1634.8,761.7 1635.0,764.9 1635.3,768.1 1635.5,771.4 1635.8,774.7 1636.0,778.0 1636.3,781.3 1636.6,784.5 1636.8,787.7 1637.1,790.8 1637.4,794.0 1637.7,797.1 1638.0,800.3 1638.4,803.4 1638.7,806.6 1639.0,809.7 1639.3,812.9 1639.6,816.0 1640.0,819.1 1640.3,822.2 1640.6,825.2 1640.9,828.4 1641.2,831.6 1641.6,834.6 1641.9,837.5 1642.3,840.5 1642.6,843.5 1642.9,846.5 1643.2,849.7 1643.5,853.0 1643.7,856.4 1643.9,860.1 1643.9,862.8 1644.0,865.6 1644.0,868.5 1644.0,871.5 1644.0,874.6 1644.0,877.7 1644.0,880.9 1644.0,884.1 1643.9,887.3 1643.9,890.6 1643.8,893.9 1643.8,897.2 1643.7,900.4 1643.7,903.7 1643.7,906.9 1643.7,910.0 1643.7,913.2 1643.7,916.3 1643.7,919.4 1643.7,922.5 1643.7,925.6 1643.7,928.8 1643.7,931.9 1643.7,935.0 1643.7,938.1 1643.7,941.3 1643.7,944.4 1643.7,947.5 1643.7,950.7 1643.8,953.8 1643.8,957.0 1643.9,960.1 1644.0,963.3 1644.1,966.6 1644.2,969.9 1644.3,973.2 1644.5,976.6 1644.6,980.0 1644.8,983.4 1644.9,986.8 1645.1,990.1 1645.2,993.3 1645.4,996.4 1645.5,999.5 1645.7,1002.4 1645.9,1005.2 1646.0,1007.8 1646.2,1010.3 1646.5,1014.5 1646.8,1018.1 1647.1,1021.1 1647.3,1023.7 1647.6,1026.3 1648.0,1028.9 1648.3,1031.9 1648.7,1035.4 1648.9,1038.1 1649.2,1040.9 1649.5,1043.9 1649.8,1047.0 1650.1,1050.2 1650.4,1053.4 1650.7,1056.6 1651.0,1059.9 1651.4,1063.2 1651.6,1066.5 1651.9,1069.7 1652.2,1072.8 1652.4,1076.0 1652.6,1079.1 1652.9,1082.2 1653.1,1085.3 1653.3,1088.4 1653.5,1091.5 1653.7,1094.6 1653.9,1097.8 1654.0,1100.9 1654.2,1104.0 1654.4,1107.1 1654.5,1110.2 1654.6,1113.3 1654.7,1116.4 1654.8,1119.5 1654.9,1122.6 1655.0,1125.7 1655.1,1128.9 1655.1,1132.0 1655.2,1135.1 1655.3,1138.3 1655.4,1141.4 1655.5,1144.6 1655.6,1147.7 1655.8,1150.8 1655.9,1154.0 1656.1,1157.1 1656.2,1160.3 1656.4,1163.5 1656.5,1166.7 1656.7,1169.8 1657.0,1173.0 1657.2,1176.2 1657.5,1179.3 1657.8,1182.4 1658.1,1185.5 1658.6,1188.9 1659.1,1192.3 1659.6,1195.7 1660.2,1199.1 1660.8,1202.4 1661.5,1205.7 1662.1,1208.9 1662.7,1212.1 1663.4,1215.1 1664.0,1218.1 1664.6,1220.9 1665.4,1224.4 1666.2,1227.6 1666.9,1230.6 1667.7,1233.5 1668.5,1236.3 1669.4,1239.3 1670.3,1242.5 1671.3,1246.0 1672.0,1248.6 1672.8,1251.3 1673.6,1254.1 1674.5,1257.1 1675.3,1260.0 1676.2,1263.1 1677.1,1266.2 1678.1,1269.3 1679.0,1272.4 1679.9,1275.5 1680.9,1278.5 1681.8,1281.5 1682.7,1284.4 1683.6,1287.4 1684.5,1290.3 1685.5,1293.2 1686.4,1296.2 1687.4,1299.1 1688.3,1302.0 1689.3,1304.9 1690.2,1307.8 1691.2,1310.7 1692.1,1313.6 1693.1,1316.5 1699.4,1314.5 1698.5,1311.6 1697.5,1308.6 1696.6,1305.7 1695.6,1302.8 1694.7,1299.9 1693.7,1297.0 1692.8,1294.1 1691.8,1291.2 1690.9,1288.3 1690.0,1285.4 1689.1,1282.4 1688.2,1279.5 1687.4,1276.6 1686.5,1273.5 1685.7,1270.5 1684.8,1267.4 1684.0,1264.2 1683.2,1261.2 1682.3,1258.1 1681.6,1255.1 1680.8,1252.2 1680.1,1249.3 1679.4,1246.6 1678.7,1244.0 1677.8,1240.4 1677.0,1237.2 1676.2,1234.3 1675.6,1231.5 1674.9,1228.7 1674.3,1225.8 1673.6,1222.6 1672.9,1219.1 1672.3,1216.3 1671.8,1213.4 1671.2,1210.4 1670.5,1207.3 1669.9,1204.1 1669.3,1200.9 1668.8,1197.6 1668.2,1194.3 1667.7,1191.0 1667.3,1187.7 1666.9,1184.5 1666.5,1181.5 1666.2,1178.5 1666.0,1175.4 1665.7,1172.4 1665.5,1169.3 1665.3,1166.2 1665.2,1163.0 1665.0,1159.9 1664.8,1156.7 1664.7,1153.6 1664.5,1150.4 1664.4,1147.3 1664.2,1144.2 1664.1,1141.1 1664.0,1138.0 1663.9,1134.9 1663.8,1131.8 1663.7,1128.6 1663.6,1125.5 1663.5,1122.4 1663.4,1119.2 1663.3,1116.1 1663.2,1112.9 1663.0,1109.8 1662.8,1106.7 1662.6,1103.5 1662.4,1100.4 1662.2,1097.2 1662.0,1094.1 1661.8,1091.0 1661.6,1087.8 1661.4,1084.7 1661.1,1081.6 1660.9,1078.4 1660.6,1075.3 1660.3,1072.2 1660.0,1069.0 1659.7,1065.7 1659.4,1062.4 1659.0,1059.1 1658.7,1055.8 1658.3,1052.6 1658.0,1049.3 1657.6,1046.2 1657.3,1043.1 1656.9,1040.1 1656.6,1037.3 1656.3,1034.6 1656.0,1031.0 1655.6,1028.0 1655.3,1025.4 1655.0,1022.8 1654.7,1020.3 1654.4,1017.4 1654.1,1013.9 1653.8,1009.7 1653.7,1007.3 1653.5,1004.7 1653.3,1001.9 1653.1,999.0 1652.9,996.0 1652.7,992.9 1652.5,989.7 1652.3,986.4 1652.2,983.0 1652.0,979.7 1651.8,976.3 1651.6,972.9 1651.5,969.6 1651.3,966.3 1651.2,963.0 1651.1,959.9 1651.0,956.8 1650.9,953.7 1650.8,950.6 1650.8,947.5 1650.7,944.3 1650.7,941.2 1650.6,938.1 1650.6,935.0 1650.6,931.9 1650.6,928.7 1650.5,925.6 1650.5,922.5 1650.5,919.4 1650.4,916.2 1650.4,913.1 1650.3,910.0 1650.3,906.8 1650.2,903.6 1650.1,900.4 1650.0,897.1 1649.9,893.9 1649.9,890.6 1649.8,887.3 1649.7,884.0 1649.6,880.8 1649.5,877.6 1649.4,874.5 1649.3,871.4 1649.1,868.4 1649.0,865.4 1648.8,862.6 1648.6,859.9 1648.4,856.1 1648.0,852.6 1647.7,849.2 1647.3,846.0 1646.9,843.0 1646.5,840.0 1646.1,837.0 1645.6,834.1 1645.2,831.1 1644.8,828.0 1644.4,824.8 1644.1,821.8 1643.8,818.7 1643.4,815.6 1643.1,812.5 1642.8,809.4 1642.5,806.2 1642.2,803.1 1641.8,799.9 1641.5,796.7 1641.2,793.6 1640.9,790.5 1640.7,787.3 1640.4,784.2 1640.0,780.9 1639.7,777.7 1639.4,774.4 1639.1,771.1 1638.9,767.8 1638.6,764.6 1638.3,761.4 1638.1,758.4 1637.8,755.4 1637.6,752.6 1637.4,749.9 1637.2,746.2 1637.0,742.8 1636.9,739.7 1636.7,736.7 1636.7,733.8 1636.6,730.9 1636.5,728.0 1636.4,725.0 1636.4,721.8 1636.4,718.6 1636.4,715.4 1636.4,712.2 1636.4,709.1 1636.4,706.0 1636.4,702.9 1636.4,700.0 1636.4,696.3 1636.4,692.8 1636.4,689.4 1636.4,686.0 1636.4,682.7 1636.4,679.2Z"/>
<path d="M1615.8,1004.2 1616.1,1007.3 1616.4,1010.4 1616.6,1013.4 1616.9,1016.4 1617.2,1019.5 1617.5,1022.5 1617.8,1025.6 1618.1,1028.8 1618.4,1032.1 1618.8,1035.5 1619.1,1038.4 1619.4,1041.4 1619.7,1044.5 1620.0,1047.6 1620.4,1050.7 1620.7,1053.9 1621.1,1057.1 1621.4,1060.3 1621.7,1063.5 1622.0,1066.6 1622.3,1069.8 1622.5,1072.9 1622.7,1076.0 1623.0,1079.1 1623.2,1082.2 1623.3,1085.3 1623.5,1088.4 1623.7,1091.5 1623.8,1094.6 1624.0,1097.7 1624.1,1100.8 1624.2,1104.0 1624.4,1107.1 1624.5,1110.2 1624.6,1113.3 1624.7,1116.4 1624.8,1119.5 1624.9,1122.6 1625.0,1125.8 1625.1,1128.9 1625.2,1132.0 1625.2,1135.1 1625.3,1138.2 1625.4,1141.4 1625.4,1144.5 1625.5,1147.6 1625.6,1150.8 1625.6,1153.9 1625.7,1157.2 1625.7,1160.4 1625.7,1163.7 1625.8,1166.9 1625.8,1170.2 1625.9,1173.3 1625.9,1176.4 1626.0,1179.5 1626.1,1182.4 1626.3,1185.2 1626.5,1188.8 1626.8,1192.2 1627.0,1195.4 1627.3,1198.6 1627.6,1201.6 1628.0,1204.6 1628.4,1207.5 1628.8,1210.3 1629.3,1213.2 1630.0,1216.9 1631.0,1220.5 1631.9,1224.1 1632.9,1227.4 1633.8,1230.5 1634.7,1233.3 1635.5,1235.7 1636.3,1239.3 1637.0,1241.6 1638.3,1245.9 1638.9,1248.2 1639.7,1251.0 1640.6,1254.0 1641.6,1257.3 1642.6,1260.7 1643.6,1264.2 1644.7,1267.7 1645.8,1271.0 1646.8,1274.1 1648.0,1277.5 1649.2,1280.7 1650.5,1283.9 1651.7,1287.0 1653.0,1290.1 1654.2,1293.2 1655.4,1296.2 1656.7,1299.3 1658.0,1302.4 1659.3,1305.5 1660.7,1308.6 1662.0,1311.7 1663.3,1314.8 1664.7,1317.9 1666.0,1321.0 1667.4,1324.1 1668.7,1327.2 1670.1,1330.3 1671.5,1333.5 1672.9,1336.7 1674.3,1339.9 1675.6,1342.9 1677.0,1345.9 1678.2,1348.7 1679.6,1351.8 1680.8,1354.7 1682.1,1357.4 1683.3,1360.1 1684.5,1362.7 1685.7,1365.4 1686.9,1368.1 1689.6,1366.9 1688.5,1364.2 1687.4,1361.5 1686.3,1358.8 1685.2,1356.1 1684.1,1353.3 1683.0,1350.4 1681.8,1347.3 1680.7,1344.4 1679.6,1341.3 1678.5,1338.2 1677.3,1335.0 1676.1,1331.7 1675.0,1328.4 1673.8,1325.2 1672.6,1321.9 1671.5,1318.8 1670.3,1315.6 1669.2,1312.5 1668.0,1309.3 1666.8,1306.1 1665.7,1303.0 1664.5,1299.8 1663.3,1296.7 1662.0,1293.5 1660.7,1290.5 1659.4,1287.4 1658.1,1284.4 1656.9,1281.3 1655.6,1278.2 1654.4,1275.1 1653.2,1271.9 1652.1,1268.9 1651.0,1265.6 1649.9,1262.2 1648.8,1258.8 1647.7,1255.4 1646.7,1252.2 1645.8,1249.2 1644.9,1246.4 1644.2,1244.1 1643.1,1240.0 1642.7,1237.9 1642.0,1234.3 1641.6,1231.6 1641.0,1228.7 1640.4,1225.6 1639.8,1222.2 1639.2,1218.8 1638.7,1215.3 1638.2,1211.8 1637.9,1209.1 1637.6,1206.4 1637.3,1203.6 1637.1,1200.7 1636.9,1197.8 1636.7,1194.7 1636.5,1191.6 1636.4,1188.2 1636.2,1184.8 1636.1,1182.0 1636.0,1179.2 1635.9,1176.2 1635.9,1173.1 1635.8,1170.0 1635.8,1166.8 1635.7,1163.6 1635.7,1160.3 1635.7,1157.0 1635.6,1153.8 1635.6,1150.6 1635.5,1147.4 1635.4,1144.3 1635.4,1141.1 1635.3,1138.0 1635.2,1134.9 1635.2,1131.8 1635.1,1128.6 1635.0,1125.5 1634.9,1122.4 1634.8,1119.2 1634.7,1116.1 1634.6,1112.9 1634.5,1109.8 1634.4,1106.7 1634.2,1103.5 1634.1,1100.4 1634.0,1097.3 1633.8,1094.1 1633.7,1091.0 1633.5,1087.9 1633.3,1084.7 1633.1,1081.6 1632.9,1078.4 1632.7,1075.3 1632.5,1072.1 1632.2,1068.9 1631.9,1065.7 1631.6,1062.5 1631.3,1059.3 1631.0,1056.0 1630.7,1052.8 1630.3,1049.6 1630.0,1046.5 1629.6,1043.4 1629.3,1040.4 1629.0,1037.4 1628.7,1034.5 1628.4,1031.1 1628.1,1027.9 1627.8,1024.7 1627.5,1021.6 1627.2,1018.5 1626.9,1015.5 1626.6,1012.5 1626.3,1009.4 1626.0,1006.4 1625.7,1003.3Z"/>
<path d="M1990.1,1099.0 1990.5,1102.4 1990.9,1105.7 1991.3,1109.1 1991.8,1112.5 1992.2,1115.9 1992.6,1119.3 1993.1,1122.8 1993.6,1125.8 1994.1,1128.9 1994.7,1132.1 1995.2,1135.2 1995.8,1138.3 1996.3,1141.4 1996.8,1144.6 1997.3,1147.7 1997.8,1150.9 1998.2,1154.2 1998.7,1157.6 1999.1,1160.9 1999.5,1164.1 1999.8,1167.2 2000.1,1170.0 2000.4,1172.6 2000.7,1176.0 2000.8,1178.0 2000.7,1180.4 2000.5,1185.0 2000.4,1187.3 2000.3,1189.9 2000.1,1192.9 2000.0,1196.2 1999.8,1199.6 1999.6,1203.1 1999.4,1206.6 1999.1,1210.1 1998.9,1213.5 1998.6,1216.8 1998.3,1219.7 1998.0,1222.4 1997.4,1226.4 1996.7,1230.0 1995.9,1233.3 1995.1,1236.3 1994.4,1239.2 1993.6,1242.0 1993.0,1244.9 1992.5,1248.3 1992.1,1251.6 1991.8,1254.9 1991.5,1257.9 1991.3,1260.6 1990.9,1262.9 1989.7,1267.3 1988.5,1270.4 1989.0,1270.6 1990.3,1267.5 1991.6,1263.1 1992.0,1260.7 1992.4,1258.0 1992.9,1255.0 1993.3,1251.8 1993.8,1248.5 1994.5,1245.1 1995.1,1242.3 1995.8,1239.5 1996.5,1236.6 1997.4,1233.6 1998.1,1230.3 1998.9,1226.7 1999.5,1222.6 1999.8,1219.9 2000.1,1216.9 2000.3,1213.7 2000.6,1210.2 2000.8,1206.7 2001.0,1203.2 2001.2,1199.7 2001.4,1196.2 2001.6,1193.0 2001.7,1190.0 2001.9,1187.3 2002.0,1185.0 2002.2,1180.4 2002.3,1178.0 2002.3,1175.9 2002.1,1172.4 2002.0,1169.9 2001.8,1167.0 2001.6,1163.9 2001.4,1160.7 2001.1,1157.3 2000.8,1153.9 2000.5,1150.6 2000.2,1147.3 1999.8,1144.2 1999.4,1141.0 1999.0,1137.8 1998.6,1134.7 1998.1,1131.5 1997.7,1128.4 1997.3,1125.3 1996.9,1122.2 1996.4,1118.8 1996.0,1115.4 1995.6,1112.0 1995.1,1108.6 1994.7,1105.3 1994.3,1101.9 1993.9,1098.5Z"/>
<path d="M2001.2,1287.6 2004.7,1287.6 2008.2,1287.7 2011.2,1288.6 2013.5,1290.8 2015.4,1293.9 2017.4,1298.1 2018.4,1300.6 2019.5,1303.6 2020.5,1306.8 2021.5,1310.2 2022.6,1313.6 2023.6,1316.8 2023.9,1316.7 2022.8,1313.5 2021.8,1310.1 2020.7,1306.8 2019.7,1303.5 2018.7,1300.5 2017.6,1297.9 2015.7,1293.8 2013.7,1290.6 2011.3,1288.4 2008.2,1287.4 2004.7,1287.4 2001.3,1287.4Z"/>
<path d="M1970.0,1281.4 1973.3,1281.6 1976.7,1281.8 1980.0,1281.9 1980.0,1281.6 1976.7,1281.4 1973.3,1281.2 1970.0,1281.1Z"/>
<path d="M1893.4,1098.8 1893.5,1101.8 1893.5,1104.8 1893.6,1107.8 1893.7,1110.8 1893.7,1113.9 1893.8,1116.9 1893.9,1119.9 1893.9,1122.9 1894.0,1125.9 1894.0,1128.9 1894.1,1132.0 1894.2,1135.0 1894.3,1138.2 1894.4,1141.4 1894.5,1144.6 1894.7,1147.9 1894.8,1151.2 1894.9,1154.5 1895.0,1157.7 1895.2,1160.9 1895.3,1164.0 1895.4,1167.0 1895.5,1169.8 1895.6,1172.5 1895.7,1176.2 1895.9,1179.6 1896.0,1182.8 1896.1,1185.8 1896.2,1188.7 1896.3,1191.5 1896.4,1194.5 1896.5,1197.5 1896.5,1200.6 1896.5,1203.8 1896.5,1207.0 1896.6,1210.2 1896.6,1213.3 1896.6,1216.4 1896.6,1219.5 1896.7,1222.5 1896.7,1225.9 1896.8,1229.3 1896.9,1232.7 1897.0,1236.0 1897.1,1239.2 1897.2,1242.2 1897.3,1245.0 1897.4,1248.7 1897.6,1252.2 1897.7,1255.4 1897.8,1258.2 1897.8,1260.5 1897.3,1263.8 1896.1,1265.3 1894.2,1266.0 1890.0,1266.0 1887.6,1265.9 1884.6,1265.8 1881.3,1265.5 1877.7,1265.3 1873.9,1265.1 1870.0,1265.0 1867.0,1265.1 1863.8,1265.2 1860.6,1265.4 1857.2,1265.6 1853.8,1265.9 1850.4,1266.1 1847.0,1266.3 1843.7,1266.5 1843.8,1268.5 1847.1,1268.3 1850.5,1268.0 1853.9,1267.8 1857.3,1267.6 1860.7,1267.4 1863.9,1267.2 1867.1,1267.1 1870.0,1267.0 1873.8,1267.0 1877.6,1267.0 1881.2,1267.2 1884.5,1267.4 1887.5,1267.5 1890.0,1267.5 1894.4,1267.0 1896.4,1265.7 1897.8,1264.0 1898.2,1260.5 1898.5,1258.2 1898.6,1255.4 1898.7,1252.2 1898.7,1248.7 1898.7,1245.0 1898.7,1242.2 1898.6,1239.1 1898.6,1236.0 1898.5,1232.7 1898.4,1229.3 1898.4,1225.9 1898.3,1222.5 1898.3,1219.5 1898.3,1216.4 1898.4,1213.3 1898.4,1210.2 1898.4,1207.0 1898.4,1203.8 1898.5,1200.6 1898.5,1197.5 1898.6,1194.5 1898.7,1191.5 1898.8,1188.7 1899.0,1185.8 1899.1,1182.8 1899.2,1179.6 1899.3,1176.2 1899.4,1172.5 1899.5,1169.8 1899.5,1166.9 1899.6,1164.0 1899.6,1160.9 1899.6,1157.7 1899.7,1154.4 1899.7,1151.1 1899.7,1147.8 1899.8,1144.5 1899.8,1141.3 1899.8,1138.1 1899.8,1135.0 1899.8,1131.9 1899.7,1128.8 1899.7,1125.8 1899.6,1122.8 1899.6,1119.7 1899.5,1116.7 1899.4,1113.7 1899.4,1110.7 1899.3,1107.7 1899.2,1104.7 1899.2,1101.7 1899.1,1098.7Z"/>
<path d="M1818.9,1282.5 1822.0,1281.9 1825.1,1281.4 1828.2,1280.9 1831.4,1280.4 1835.1,1280.1 1838.0,1280.0 1841.3,1279.9 1844.7,1279.9 1848.2,1279.9 1851.6,1279.9 1854.7,1280.0 1857.5,1280.1 1861.3,1280.3 1864.3,1280.6 1867.0,1281.0 1869.9,1281.3 1870.1,1279.7 1867.2,1279.3 1864.5,1279.0 1861.4,1278.6 1857.5,1278.4 1854.8,1278.3 1851.6,1278.2 1848.2,1278.2 1844.7,1278.2 1841.3,1278.2 1837.9,1278.3 1834.9,1278.4 1831.3,1278.8 1827.9,1279.3 1824.8,1279.9 1821.8,1280.5 1818.6,1281.0Z"/>
<path d="M1882.0,1288.5 1884.7,1290.9 1887.4,1293.2 1889.9,1295.6 1891.9,1298.4 1893.1,1300.8 1893.9,1303.4 1894.6,1306.3 1895.2,1309.5 1895.8,1313.1 1896.3,1315.8 1896.7,1318.8 1897.1,1321.9 1897.5,1325.2 1897.8,1328.6 1898.1,1332.0 1898.3,1335.5 1898.5,1338.3 1898.6,1341.2 1898.8,1344.2 1898.8,1347.2 1898.9,1350.3 1899.0,1353.3 1899.0,1356.4 1899.1,1359.5 1899.2,1362.5 1899.8,1362.5 1899.7,1359.5 1899.7,1356.4 1899.7,1353.3 1899.6,1350.2 1899.6,1347.2 1899.5,1344.2 1899.4,1341.2 1899.3,1338.3 1899.2,1335.5 1898.9,1332.0 1898.6,1328.5 1898.3,1325.1 1897.9,1321.8 1897.5,1318.7 1897.1,1315.7 1896.7,1312.9 1896.1,1309.4 1895.7,1306.1 1895.1,1303.1 1894.3,1300.3 1893.1,1297.6 1891.0,1294.7 1888.4,1292.1 1885.6,1289.8 1883.0,1287.5Z"/>
<path d="M1945.5,1305.4 1944.1,1308.3 1942.7,1311.1 1941.2,1313.9 1939.8,1316.8 1938.4,1319.8 1937.1,1322.9 1935.9,1326.1 1934.7,1329.4 1933.6,1332.8 1932.5,1336.3 1931.5,1339.6 1930.5,1342.8 1929.6,1346.3 1928.9,1349.6 1928.2,1352.8 1927.5,1356.3 1926.8,1360.4 1926.3,1363.3 1925.8,1366.6 1925.3,1370.0 1924.8,1373.6 1924.3,1377.2 1923.9,1380.6 1923.4,1383.8 1923.0,1386.6 1922.5,1390.5 1922.0,1393.8 1921.6,1396.8 1921.2,1399.8 1920.8,1403.0 1920.5,1406.4 1920.1,1409.9 1919.8,1413.4 1919.6,1417.0 1919.6,1420.5 1919.8,1424.1 1920.2,1427.7 1920.8,1431.3 1921.5,1434.8 1922.2,1438.1 1923.1,1441.2 1924.0,1444.1 1925.1,1446.9 1926.2,1449.7 1927.3,1452.6 1927.7,1452.4 1926.7,1449.6 1925.6,1446.7 1924.6,1443.9 1923.6,1441.0 1922.8,1437.9 1922.1,1434.6 1921.5,1431.2 1921.0,1427.6 1920.6,1424.0 1920.4,1420.5 1920.4,1417.0 1920.6,1413.5 1920.9,1410.0 1921.3,1406.5 1921.7,1403.0 1922.1,1399.9 1922.6,1397.0 1923.2,1394.0 1923.8,1390.7 1924.5,1386.9 1924.9,1384.0 1925.3,1380.8 1925.8,1377.4 1926.3,1373.8 1926.8,1370.2 1927.3,1366.8 1927.7,1363.5 1928.2,1360.6 1928.9,1356.6 1929.6,1353.1 1930.3,1349.9 1931.0,1346.7 1932.0,1343.2 1932.8,1340.0 1933.7,1336.6 1934.6,1333.2 1935.7,1329.7 1936.8,1326.4 1937.9,1323.1 1939.1,1320.1 1940.4,1317.1 1941.8,1314.2 1943.2,1311.4 1944.6,1308.5 1946.0,1305.6Z"/>
<path d="M1976.8,1321.8 1977.1,1324.9 1977.5,1328.0 1977.9,1331.1 1978.3,1334.2 1978.5,1337.3 1978.5,1340.5 1978.4,1343.7 1978.1,1347.0 1977.7,1350.4 1977.2,1353.7 1976.6,1357.1 1976.0,1360.5 1975.3,1363.7 1974.6,1367.0 1973.8,1370.2 1973.0,1373.5 1972.0,1376.9 1971.0,1380.4 1970.1,1383.2 1969.2,1386.1 1968.2,1389.0 1967.2,1392.0 1966.1,1395.1 1965.0,1398.1 1963.9,1401.1 1962.7,1404.1 1961.5,1407.1 1960.2,1410.2 1958.9,1413.3 1957.5,1416.4 1956.2,1419.4 1954.8,1422.4 1953.5,1425.2 1952.3,1427.9 1950.7,1431.2 1949.1,1434.4 1947.5,1437.4 1946.0,1440.2 1944.7,1442.9 1943.6,1445.4 1942.1,1449.0 1940.9,1452.1 1940.2,1455.1 1939.9,1458.0 1940.6,1461.7 1942.1,1465.1 1943.6,1468.6 1943.9,1468.4 1942.3,1465.0 1940.8,1461.6 1940.1,1458.0 1940.4,1455.2 1941.2,1452.2 1942.4,1449.1 1943.9,1445.6 1945.1,1443.0 1946.4,1440.4 1947.9,1437.6 1949.5,1434.6 1951.1,1431.4 1952.7,1428.1 1954.0,1425.4 1955.3,1422.6 1956.7,1419.7 1958.0,1416.6 1959.4,1413.5 1960.8,1410.5 1962.1,1407.4 1963.3,1404.4 1964.5,1401.4 1965.6,1398.3 1966.7,1395.3 1967.8,1392.2 1968.8,1389.2 1969.8,1386.3 1970.7,1383.4 1971.5,1380.6 1972.6,1377.0 1973.5,1373.6 1974.4,1370.3 1975.2,1367.1 1975.9,1363.8 1976.5,1360.5 1977.1,1357.2 1977.7,1353.8 1978.2,1350.5 1978.6,1347.1 1978.9,1343.8 1979.0,1340.5 1978.9,1337.3 1978.7,1334.1 1978.4,1331.0 1977.9,1327.9 1977.5,1324.8 1977.2,1321.7Z"/>
<path d="M1620.6,1367.7 1622.6,1369.9 1624.7,1372.2 1626.7,1374.5 1628.8,1376.8 1630.8,1379.0 1632.8,1381.2 1634.7,1383.3 1637.2,1386.0 1639.6,1388.6 1641.9,1391.1 1644.4,1393.5 1647.2,1395.8 1649.9,1397.8 1652.7,1399.8 1655.6,1401.8 1658.6,1403.6 1661.8,1405.1 1664.9,1406.2 1668.2,1406.9 1671.5,1407.3 1674.9,1407.3 1678.3,1407.2 1681.7,1407.0 1685.0,1406.9 1688.2,1406.9 1691.3,1406.8 1694.5,1406.7 1697.6,1406.5 1700.6,1406.3 1703.8,1406.2 1703.7,1405.8 1700.6,1406.0 1697.5,1406.1 1694.4,1406.3 1691.3,1406.4 1688.2,1406.5 1685.0,1406.6 1681.7,1406.6 1678.3,1406.8 1674.9,1406.9 1671.5,1406.8 1668.2,1406.5 1665.1,1405.8 1662.0,1404.6 1658.9,1403.0 1656.0,1401.2 1653.1,1399.2 1650.3,1397.2 1647.8,1395.2 1645.0,1392.9 1642.5,1390.5 1640.2,1388.0 1637.8,1385.4 1635.3,1382.7 1633.3,1380.7 1631.3,1378.5 1629.3,1376.3 1627.2,1374.1 1625.1,1371.8 1623.0,1369.6 1620.9,1367.3Z"/>
<path d="M1663.6,1410.5 1663.7,1414.0 1663.7,1417.4 1663.8,1420.8 1663.9,1424.4 1664.3,1428.0 1664.6,1431.3 1665.1,1434.7 1665.7,1438.2 1666.3,1441.7 1667.0,1445.0 1667.6,1448.1 1668.2,1451.3 1668.8,1454.2 1669.4,1456.9 1670.2,1459.9 1671.3,1463.3 1672.4,1466.1 1673.8,1469.1 1675.3,1472.4 1676.8,1475.7 1678.4,1478.9 1679.8,1481.9 1681.0,1484.6 1682.4,1488.4 1683.3,1491.5 1684.5,1494.7 1686.4,1498.6 1687.8,1501.0 1689.4,1503.5 1691.2,1506.1 1693.0,1508.9 1695.0,1511.7 1697.1,1514.6 1699.2,1517.4 1701.4,1520.2 1703.4,1522.6 1705.5,1525.1 1707.6,1527.5 1709.8,1530.0 1712.1,1532.4 1714.4,1534.8 1716.7,1537.2 1718.9,1539.6 1721.1,1541.9 1723.4,1544.1 1725.6,1546.3 1727.8,1548.5 1730.0,1550.6 1732.2,1552.7 1734.4,1554.8 1736.7,1556.9 1738.9,1558.9 1741.1,1560.9 1743.6,1563.0 1746.0,1565.1 1748.4,1567.1 1750.8,1569.2 1753.3,1571.2 1755.8,1573.2 1758.4,1575.2 1761.2,1577.2 1763.6,1578.9 1766.1,1580.6 1768.6,1582.2 1771.2,1583.9 1773.8,1585.6 1776.5,1587.2 1779.1,1588.9 1781.8,1590.5 1784.4,1592.2 1787.0,1593.9 1789.0,1590.6 1786.5,1588.9 1783.9,1587.2 1781.2,1585.5 1778.6,1583.8 1776.0,1582.1 1773.4,1580.4 1770.9,1578.8 1768.4,1577.1 1766.0,1575.4 1763.8,1573.8 1761.0,1571.7 1758.4,1569.8 1755.9,1567.8 1753.5,1565.8 1751.1,1563.9 1748.8,1561.8 1746.4,1559.8 1743.9,1557.6 1741.7,1555.7 1739.5,1553.7 1737.2,1551.8 1735.0,1549.7 1732.8,1547.7 1730.5,1545.6 1728.3,1543.5 1726.1,1541.3 1723.9,1539.1 1721.6,1536.9 1719.2,1534.7 1716.9,1532.4 1714.6,1530.0 1712.2,1527.7 1710.0,1525.3 1707.8,1523.0 1705.6,1520.6 1703.6,1518.3 1701.4,1515.7 1699.3,1512.9 1697.2,1510.2 1695.2,1507.4 1693.3,1504.7 1691.5,1502.1 1689.9,1499.6 1688.6,1497.4 1686.5,1493.7 1685.3,1490.8 1684.1,1487.7 1682.5,1483.9 1681.3,1481.2 1679.8,1478.2 1678.3,1475.0 1676.7,1471.7 1675.2,1468.5 1673.8,1465.5 1672.7,1462.7 1671.5,1459.5 1670.5,1456.6 1669.8,1453.9 1669.1,1451.1 1668.4,1447.9 1667.7,1444.8 1667.0,1441.5 1666.4,1438.1 1665.7,1434.6 1665.2,1431.2 1664.7,1428.0 1664.4,1424.3 1664.2,1420.8 1664.1,1417.4 1664.1,1414.0 1663.9,1410.5Z"/>
<path d="M1740.1,1368.2 1743.6,1366.3 1747.0,1364.4 1750.2,1362.9 1753.9,1361.9 1757.5,1361.8 1759.9,1362.2 1762.7,1363.0 1767.1,1364.4 1769.3,1365.1 1771.8,1366.0 1774.5,1367.0 1777.5,1368.0 1780.7,1369.2 1784.2,1370.4 1788.0,1371.6 1792.0,1372.8 1794.5,1373.5 1797.3,1374.3 1800.2,1375.1 1803.3,1375.9 1806.6,1376.8 1809.9,1377.6 1813.2,1378.5 1816.5,1379.3 1819.7,1380.2 1822.8,1381.0 1825.8,1381.7 1828.6,1382.4 1831.1,1383.0 1833.3,1383.6 1838.0,1384.8 1841.3,1385.7 1843.8,1386.4 1846.4,1386.9 1849.8,1387.4 1852.8,1387.6 1856.1,1387.7 1859.6,1387.8 1863.0,1387.8 1866.3,1387.8 1869.4,1388.0 1872.2,1388.4 1875.6,1389.1 1878.8,1390.1 1881.7,1391.2 1884.4,1392.6 1886.8,1394.0 1889.3,1396.0 1891.5,1398.4 1893.5,1400.9 1895.6,1403.5 1897.9,1406.1 1900.1,1408.6 1902.4,1411.2 1904.7,1413.8 1905.3,1413.2 1903.2,1410.5 1901.1,1407.8 1899.0,1405.1 1896.9,1402.5 1895.0,1399.8 1893.1,1397.1 1890.9,1394.4 1888.2,1392.0 1885.7,1390.3 1882.9,1388.7 1879.9,1387.3 1876.5,1386.1 1872.8,1385.1 1869.8,1384.6 1866.5,1384.4 1863.1,1384.2 1859.6,1384.1 1856.2,1384.0 1853.1,1383.9 1850.2,1383.6 1847.1,1383.1 1844.7,1382.7 1842.2,1382.0 1839.0,1381.1 1834.2,1379.9 1832.0,1379.3 1829.5,1378.7 1826.7,1378.0 1823.8,1377.3 1820.7,1376.5 1817.4,1375.6 1814.1,1374.8 1810.8,1373.9 1807.5,1373.1 1804.3,1372.2 1801.2,1371.4 1798.3,1370.6 1795.5,1369.9 1793.0,1369.2 1789.0,1368.1 1785.3,1367.0 1781.8,1365.9 1778.6,1364.9 1775.6,1363.9 1772.8,1363.0 1770.2,1362.3 1767.9,1361.6 1763.3,1360.5 1760.2,1360.1 1757.5,1360.2 1753.6,1360.7 1749.8,1362.1 1746.7,1363.7 1743.3,1365.8 1739.9,1367.8Z"/>
<path d="M1739.2,1396.3 1741.5,1398.6 1743.7,1400.7 1746.1,1403.1 1749.3,1406.2 1751.1,1408.0 1753.1,1410.0 1755.3,1412.3 1757.5,1414.6 1759.9,1417.0 1762.3,1419.4 1764.6,1421.7 1766.7,1423.8 1768.7,1425.7 1771.3,1428.1 1773.6,1430.1 1775.7,1432.0 1778.0,1433.8 1780.6,1435.7 1783.9,1437.6 1786.6,1438.9 1789.6,1440.3 1792.8,1441.7 1796.3,1443.1 1799.7,1444.4 1803.1,1445.7 1806.3,1446.9 1809.3,1447.9 1811.8,1448.8 1815.8,1450.1 1818.7,1451.0 1821.8,1451.3 1826.3,1451.3 1828.8,1451.1 1831.6,1450.9 1834.6,1450.5 1837.7,1450.1 1841.0,1449.7 1844.4,1449.2 1847.8,1448.7 1851.2,1448.2 1854.5,1447.8 1857.7,1447.4 1860.9,1447.0 1864.3,1446.5 1867.6,1446.0 1871.1,1445.6 1874.4,1445.1 1877.7,1444.7 1880.8,1444.3 1883.7,1444.0 1886.4,1443.8 1888.7,1443.7 1893.2,1443.9 1896.4,1444.5 1899.2,1445.4 1902.3,1446.2 1902.7,1444.8 1899.8,1443.7 1897.0,1442.4 1893.6,1441.4 1888.8,1440.8 1886.3,1440.8 1883.5,1440.9 1880.5,1441.2 1877.3,1441.4 1874.0,1441.8 1870.6,1442.1 1867.2,1442.5 1863.8,1442.9 1860.5,1443.3 1857.3,1443.6 1854.1,1444.0 1850.7,1444.4 1847.3,1444.9 1843.9,1445.3 1840.5,1445.8 1837.2,1446.2 1834.1,1446.6 1831.2,1446.9 1828.5,1447.1 1826.2,1447.2 1822.0,1447.2 1819.6,1446.9 1817.2,1446.1 1813.2,1444.7 1810.7,1443.8 1807.8,1442.8 1804.7,1441.6 1801.4,1440.3 1798.0,1438.9 1794.7,1437.5 1791.5,1436.0 1788.6,1434.7 1786.1,1433.4 1783.0,1431.7 1780.5,1430.2 1778.4,1428.7 1776.3,1427.0 1774.0,1425.1 1771.3,1422.8 1769.2,1421.1 1766.9,1419.2 1764.4,1417.0 1762.0,1414.8 1759.5,1412.6 1757.0,1410.4 1754.7,1408.3 1752.6,1406.4 1750.7,1404.8 1747.3,1401.9 1744.6,1399.7 1742.3,1397.7 1739.8,1395.7Z"/>
<path d="M1713.4,1407.0 1714.9,1409.6 1716.2,1412.2 1717.5,1414.8 1718.9,1417.4 1720.5,1420.1 1722.2,1423.0 1724.2,1426.1 1725.8,1428.4 1727.5,1430.8 1729.3,1433.4 1731.3,1436.1 1733.3,1438.7 1735.3,1441.4 1737.4,1444.1 1739.5,1446.7 1741.7,1449.2 1743.8,1451.7 1745.9,1453.9 1748.1,1456.2 1750.4,1458.4 1752.6,1460.5 1754.9,1462.6 1757.2,1464.7 1759.5,1466.7 1761.7,1468.6 1764.0,1470.4 1766.2,1472.2 1769.0,1474.3 1771.8,1476.4 1774.7,1478.3 1777.5,1480.2 1780.2,1481.9 1782.8,1483.5 1785.3,1485.0 1787.6,1486.3 1791.5,1488.4 1794.8,1490.0 1798.1,1491.2 1801.9,1492.3 1804.8,1493.0 1807.9,1493.7 1811.1,1494.3 1814.6,1494.7 1818.5,1494.9 1822.6,1494.9 1825.3,1494.7 1828.2,1494.4 1831.2,1494.0 1834.3,1493.5 1837.5,1493.0 1840.7,1492.4 1843.9,1491.8 1847.1,1491.2 1850.1,1490.5 1853.1,1489.8 1856.2,1489.0 1859.3,1488.2 1862.2,1487.3 1865.2,1486.3 1868.1,1485.4 1870.9,1484.4 1873.8,1483.4 1876.6,1482.4 1879.5,1481.5 1878.0,1477.0 1875.1,1477.9 1872.2,1478.9 1869.4,1479.9 1866.5,1480.8 1863.7,1481.8 1860.8,1482.7 1857.9,1483.6 1855.0,1484.4 1851.9,1485.2 1849.1,1485.8 1846.1,1486.5 1843.0,1487.1 1839.8,1487.8 1836.7,1488.3 1833.6,1488.8 1830.6,1489.3 1827.6,1489.7 1824.9,1489.9 1822.4,1490.1 1818.6,1490.2 1815.1,1490.0 1811.8,1489.6 1808.8,1489.0 1805.9,1488.4 1803.1,1487.7 1799.5,1486.7 1796.6,1485.6 1793.7,1484.2 1789.9,1482.2 1787.6,1480.9 1785.2,1479.5 1782.6,1478.0 1779.9,1476.4 1777.1,1474.6 1774.3,1472.8 1771.5,1470.8 1768.8,1468.8 1766.6,1467.1 1764.3,1465.4 1762.0,1463.6 1759.7,1461.7 1757.4,1459.8 1755.1,1457.8 1752.8,1455.7 1750.6,1453.7 1748.4,1451.5 1746.2,1449.3 1744.1,1447.1 1741.9,1444.7 1739.7,1442.2 1737.5,1439.7 1735.3,1437.1 1733.2,1434.5 1731.2,1432.0 1729.3,1429.5 1727.5,1427.2 1725.8,1424.9 1723.7,1422.0 1721.8,1419.3 1720.2,1416.7 1718.7,1414.1 1717.2,1411.6 1715.7,1409.1 1714.1,1406.5Z"/>
<path d="M1712.1,1440.7 1713.6,1443.5 1715.0,1446.4 1716.4,1449.3 1717.8,1452.2 1719.3,1455.0 1720.8,1457.9 1722.4,1460.7 1724.2,1463.5 1725.9,1466.0 1727.6,1468.5 1729.5,1471.0 1731.4,1473.5 1733.3,1475.9 1735.3,1478.3 1737.4,1480.7 1739.4,1483.0 1741.5,1485.3 1743.9,1487.7 1746.4,1490.2 1749.0,1492.7 1751.6,1495.0 1754.2,1497.3 1756.8,1499.4 1759.2,1501.4 1761.6,1503.1 1764.9,1505.3 1767.8,1506.8 1770.6,1508.0 1773.5,1509.2 1776.7,1510.7 1779.1,1512.0 1781.6,1513.5 1784.3,1515.1 1787.0,1516.7 1789.9,1518.3 1792.7,1519.9 1795.4,1521.3 1798.1,1522.5 1801.2,1523.9 1804.2,1525.1 1807.1,1526.2 1810.1,1527.1 1813.4,1527.8 1817.3,1528.4 1819.9,1528.7 1822.7,1528.9 1825.7,1529.2 1828.9,1529.3 1832.1,1529.4 1835.3,1529.4 1838.5,1529.4 1841.7,1529.3 1844.7,1529.2 1847.6,1528.9 1851.0,1528.5 1854.3,1528.0 1857.5,1527.4 1860.6,1526.6 1863.6,1525.8 1866.7,1524.9 1869.7,1523.8 1872.8,1522.7 1875.7,1521.6 1878.5,1520.3 1881.3,1519.0 1884.2,1517.6 1887.0,1516.1 1889.8,1514.6 1892.6,1513.1 1895.3,1511.5 1897.9,1510.0 1900.8,1508.2 1903.6,1506.3 1906.4,1504.4 1909.1,1502.4 1911.7,1500.5 1914.4,1498.5 1917.0,1496.5 1919.7,1494.6 1919.3,1493.9 1916.5,1495.8 1913.8,1497.6 1911.0,1499.5 1908.3,1501.4 1905.6,1503.2 1902.8,1505.1 1900.0,1506.8 1897.1,1508.5 1894.4,1510.0 1891.7,1511.6 1889.0,1513.1 1886.2,1514.5 1883.4,1516.0 1880.5,1517.3 1877.7,1518.6 1874.9,1519.8 1872.2,1520.8 1869.1,1521.9 1866.0,1522.8 1863.0,1523.6 1860.0,1524.3 1857.0,1524.9 1853.9,1525.4 1850.7,1525.8 1847.4,1526.1 1844.6,1526.2 1841.6,1526.4 1838.5,1526.4 1835.3,1526.4 1832.2,1526.3 1829.0,1526.1 1825.9,1525.9 1823.0,1525.7 1820.2,1525.4 1817.7,1525.1 1814.1,1524.5 1810.9,1523.8 1808.1,1523.0 1805.4,1522.0 1802.5,1520.8 1799.4,1519.5 1796.9,1518.3 1794.3,1516.9 1791.5,1515.4 1788.7,1513.8 1786.0,1512.2 1783.3,1510.6 1780.7,1509.1 1778.3,1507.8 1774.9,1506.1 1771.9,1504.9 1769.3,1503.7 1766.6,1502.4 1763.4,1500.4 1761.2,1498.8 1758.8,1496.9 1756.3,1494.9 1753.7,1492.7 1751.1,1490.4 1748.5,1488.0 1745.9,1485.6 1743.5,1483.2 1741.4,1481.1 1739.3,1478.9 1737.3,1476.6 1735.2,1474.3 1733.2,1472.0 1731.3,1469.6 1729.4,1467.2 1727.5,1464.8 1725.8,1462.5 1724.0,1459.8 1722.2,1457.0 1720.6,1454.3 1719.1,1451.5 1717.5,1448.7 1716.0,1445.9 1714.5,1443.1 1712.9,1440.3Z"/>
<path d="M1740.9,1510.3 1743.4,1512.4 1745.8,1514.6 1748.2,1516.8 1750.6,1519.0 1753.1,1521.2 1755.6,1523.3 1758.3,1525.4 1761.1,1527.5 1763.8,1529.2 1766.6,1530.9 1769.6,1532.6 1772.5,1534.2 1775.5,1535.7 1778.4,1537.2 1781.3,1538.6 1784.0,1540.0 1786.6,1541.2 1790.1,1542.8 1793.2,1544.1 1796.2,1545.3 1799.2,1546.4 1802.3,1547.5 1805.6,1548.6 1808.4,1549.5 1811.4,1550.4 1814.5,1551.3 1817.7,1552.2 1820.9,1553.0 1823.9,1553.8 1826.9,1554.5 1829.6,1555.1 1833.3,1556.0 1836.5,1556.7 1839.7,1557.2 1843.2,1557.5 1847.5,1557.4 1850.1,1557.3 1852.9,1557.0 1855.9,1556.7 1859.0,1556.4 1862.2,1555.9 1865.4,1555.4 1868.7,1554.9 1871.8,1554.2 1874.9,1553.5 1877.8,1552.7 1880.8,1551.7 1883.8,1550.6 1886.8,1549.5 1889.6,1548.2 1892.4,1546.8 1895.1,1545.5 1897.8,1544.0 1900.4,1542.6 1902.9,1541.2 1906.0,1539.4 1909.0,1537.5 1911.9,1535.6 1914.6,1533.7 1917.4,1531.7 1920.1,1529.8 1922.9,1527.8 1922.1,1526.7 1919.3,1528.5 1916.5,1530.5 1913.7,1532.4 1911.0,1534.3 1908.1,1536.2 1905.2,1538.0 1902.1,1539.8 1899.6,1541.1 1897.0,1542.5 1894.3,1543.9 1891.6,1545.2 1888.8,1546.5 1886.0,1547.7 1883.2,1548.9 1880.2,1549.9 1877.2,1550.8 1874.4,1551.5 1871.4,1552.1 1868.3,1552.7 1865.1,1553.1 1861.9,1553.5 1858.7,1553.9 1855.6,1554.1 1852.7,1554.3 1849.9,1554.5 1847.5,1554.6 1843.4,1554.5 1840.1,1554.2 1837.2,1553.6 1834.1,1552.8 1830.4,1551.9 1827.7,1551.2 1824.8,1550.4 1821.8,1549.6 1818.7,1548.7 1815.6,1547.8 1812.5,1546.8 1809.6,1545.9 1806.9,1544.9 1803.5,1543.8 1800.5,1542.7 1797.7,1541.5 1794.8,1540.3 1791.8,1539.0 1788.4,1537.3 1785.9,1536.1 1783.3,1534.7 1780.5,1533.3 1777.6,1531.8 1774.7,1530.2 1771.8,1528.6 1769.0,1526.9 1766.4,1525.2 1763.9,1523.5 1761.2,1521.6 1758.7,1519.6 1756.2,1517.6 1753.8,1515.4 1751.4,1513.3 1749.0,1511.1 1746.5,1508.9 1744.1,1506.7Z"/>
<path d="M1704.8,1494.2 1706.8,1496.7 1708.7,1499.3 1710.7,1501.8 1712.7,1504.4 1714.7,1507.0 1716.7,1509.5 1718.8,1512.0 1720.9,1514.4 1723.1,1516.8 1725.3,1519.2 1727.5,1521.5 1729.8,1523.8 1732.1,1526.0 1734.3,1528.2 1736.5,1530.2 1738.6,1532.1 1741.3,1534.4 1743.9,1536.2 1746.3,1537.9 1748.7,1539.5 1751.1,1541.3 1753.6,1543.4 1755.6,1545.2 1757.8,1547.2 1760.0,1549.5 1762.3,1551.9 1764.6,1554.2 1766.9,1556.5 1769.3,1558.6 1771.6,1560.4 1774.5,1562.4 1777.3,1563.9 1780.1,1565.2 1782.9,1566.4 1786.0,1567.6 1789.5,1569.1 1792.1,1570.3 1794.9,1571.5 1797.8,1572.9 1800.9,1574.3 1804.1,1575.6 1807.3,1577.0 1810.6,1578.2 1813.9,1579.4 1817.2,1580.4 1820.1,1581.2 1823.0,1581.9 1826.0,1582.6 1828.9,1583.2 1831.9,1583.8 1835.0,1584.3 1838.0,1584.8 1841.1,1585.1 1844.3,1585.5 1847.4,1585.7 1850.4,1585.9 1853.3,1586.0 1856.3,1586.0 1859.4,1586.0 1862.4,1585.9 1865.5,1585.8 1868.6,1585.7 1871.6,1585.5 1874.7,1585.4 1877.7,1585.3 1880.8,1585.2 1880.7,1583.3 1877.7,1583.3 1874.6,1583.4 1871.6,1583.6 1868.5,1583.7 1865.4,1583.8 1862.4,1584.0 1859.3,1584.0 1856.3,1584.1 1853.4,1584.0 1850.4,1584.0 1847.6,1583.8 1844.5,1583.5 1841.4,1583.1 1838.3,1582.7 1835.3,1582.2 1832.3,1581.7 1829.4,1581.1 1826.5,1580.4 1823.6,1579.7 1820.7,1578.9 1817.8,1578.1 1814.7,1577.1 1811.4,1576.0 1808.2,1574.7 1805.0,1573.4 1801.9,1572.0 1798.8,1570.7 1795.9,1569.3 1793.1,1568.1 1790.5,1566.9 1787.0,1565.3 1783.9,1564.0 1781.2,1562.8 1778.6,1561.5 1776.1,1560.0 1773.4,1558.1 1771.3,1556.3 1769.2,1554.2 1767.1,1551.9 1764.9,1549.4 1762.8,1547.0 1760.6,1544.5 1758.5,1542.2 1756.4,1540.1 1753.7,1537.9 1751.1,1536.0 1748.7,1534.4 1746.3,1532.7 1743.9,1531.0 1741.4,1528.9 1739.4,1527.0 1737.2,1525.1 1735.1,1523.0 1732.8,1520.8 1730.6,1518.5 1728.4,1516.2 1726.2,1513.9 1724.1,1511.6 1722.0,1509.2 1720.0,1506.8 1717.9,1504.4 1715.9,1501.9 1713.9,1499.4 1711.8,1496.8 1709.8,1494.3 1707.7,1491.8Z"/>
</g>
<g class="ar">
<polygon stroke-width="1.9" points="367.7,309.0 350.9,325.6 371.9,333.0"/>
<polygon stroke-width="5.7" points="376.5,522.4 362.6,540.3 384.1,544.4"/>
<polygon stroke-width="5.8" points="446.3,508.4 436.0,529.9 457.1,530.9"/>
<polygon stroke-width="5.3" points="478.0,458.2 467.3,476.7 488.5,477.6"/>
<polygon stroke-width="5.4" points="353.9,783.9 338.8,800.5 360.5,805.6"/>
<polygon stroke-width="2.1" points="365.2,861.1 350.5,878.4 370.5,883.0"/>
<polygon stroke-width="7.2" points="347.5,1041.0 331.0,1055.5 351.4,1062.3"/>
<polygon stroke-width="1.8" points="312.1,794.6 294.6,807.4 314.9,816.7"/>
<polygon stroke-width="1.9" points="243.0,1001.3 221.4,1011.4 237.2,1024.2"/>
<polygon stroke-width="1.8" points="236.4,1048.2 215.1,1057.1 232.2,1070.9"/>
<polygon stroke-width="1.8" points="243.1,1098.2 221.4,1107.6 238.5,1120.5"/>
<polygon stroke-width="1.7" points="242.5,1152.0 222.8,1163.0 240.9,1174.8"/>
<polygon stroke-width="1.9" points="324.4,1175.9 303.4,1189.5 322.6,1200.4"/>
<polygon stroke-width="1.0" points="402.2,934.4 425.3,929.6 414.5,950.8"/>
<polygon stroke-width="1.5" points="1727.1,276.4 1704.2,268.6 1707.3,289.4"/>
<polygon stroke-width="1.7" points="1765.3,353.5 1746.5,337.8 1741.1,358.2"/>
<polygon stroke-width="8.8" points="1684.3,824.0 1674.4,842.3 1694.9,842.3"/>
<polygon stroke-width="8.8" points="1714.2,848.7 1704.0,865.3 1724.1,865.3"/>
<polygon stroke-width="8.2" points="1744.3,871.8 1733.4,891.7 1755.3,891.7"/>
<polygon stroke-width="6.2" points="1792.5,640.7 1781.3,659.9 1803.6,661.3"/>
<polygon stroke-width="4.8" points="1814.6,585.0 1804.5,606.2 1826.0,604.5"/>
<polygon stroke-width="1.8" points="1895.4,516.2 1873.0,502.1 1874.9,528.0"/>
<polygon stroke-width="7.0" points="1798.3,941.0 1788.0,959.5 1809.4,959.5"/>
<polygon stroke-width="1.9" points="1870.4,777.8 1852.6,760.2 1874.4,753.7"/>
<polygon stroke-width="1.8" points="1902.3,900.3 1887.8,884.0 1907.4,878.7"/>
<polygon stroke-width="1.9" points="1827.2,865.3 1808.6,847.9 1830.7,845.1"/>
<polygon stroke-width="7.2" points="1908.3,1096.3 1898.0,1115.7 1918.7,1115.7"/>
<polygon stroke-width="5.5" points="1950.9,1091.7 1940.9,1113.5 1962.7,1112.5"/>
<polygon stroke-width="8.5" points="1865.6,1095.5 1855.6,1114.1 1877.0,1114.1"/>
<polygon stroke-width="9.0" points="1629.2,887.0 1620.1,902.8 1638.6,903.2"/>
<polygon stroke-width="8.0" points="1652.1,1023.9 1640.4,1044.3 1664.7,1044.3"/>
<polygon stroke-width="9.0" points="1632.7,1200.8 1621.7,1221.5 1645.5,1221.5"/>
<polygon stroke-width="1.5" points="2001.3,1185.8 1990.6,1207.1 2012.4,1207.1"/>
<polygon stroke-width="1.0" points="1986.3,1269.0 2000.8,1286.5 1977.4,1288.2"/>
<polygon stroke-width="1.9" points="1897.5,1211.0 1886.5,1232.0 1908.5,1232.0"/>
<polygon stroke-width="1.9" points="1870.0,1266.9 1881.6,1286.9 1858.4,1283.1"/>
<polygon stroke-width="1.4" points="1923.9,1386.0 1916.0,1363.9 1937.4,1366.3"/>
<polygon stroke-width="1.0" points="1962.0,1380.4 1982.0,1389.3 1963.2,1403.8"/>
<polygon stroke-width="1.0" points="1649.2,1395.9 1672.0,1401.1 1657.6,1417.5"/>
<polygon stroke-width="1.9" points="1661.0,1468.6 1681.5,1458.8 1681.5,1483.3"/>
<polygon stroke-width="3.8" points="1831.5,1381.7 1807.3,1369.6 1807.9,1391.6"/>
<polygon stroke-width="4.8" points="1809.9,1446.3 1791.3,1432.6 1787.8,1453.7"/>
<polygon stroke-width="4.8" points="1786.5,1483.4 1772.3,1466.5 1763.9,1486.5"/>
<polygon stroke-width="4.7" points="1796.4,1520.3 1781.8,1504.8 1775.5,1524.5"/>
<polygon stroke-width="4.1" points="1827.7,1553.4 1808.4,1542.2 1806.9,1562.6"/>
<polygon stroke-width="4.3" points="1770.6,1557.9 1760.4,1537.6 1748.8,1555.2"/>
</g>
<g class="lg">
<circle cx="2119.5" cy="636.4" r="19.5" fill="#d73027"/>
<text x="2208.5" y="650.2">left sA</text>
<circle cx="2119.5" cy="709.4" r="19.5" fill="#fc8d59"/>
<text x="2208.5" y="723.2">left sB</text>
<circle cx="2119.5" cy="782.5" r="19.5" fill="#fee090"/>
<text x="2208.5" y="796.3">left sC</text>
<circle cx="2119.5" cy="855.5" r="19.5" fill="#91bfdb"/>
<text x="2208.5" y="869.3">left sEndC</text>
<circle cx="2119.5" cy="928.6" r="19.5" fill="#4575b4"/>
<text x="2208.5" y="942.4">right s1</text>
<circle cx="2119.5" cy="1001.6" r="19.5" fill="#66c2a5"/>
<text x="2208.5" y="1015.4">right s2</text>
<circle cx="2119.5" cy="1074.6" r="19.5" fill="#3288bd"/>
<text x="2208.5" y="1088.4">right s3</text>
</g>
</svg>
</body></html>
